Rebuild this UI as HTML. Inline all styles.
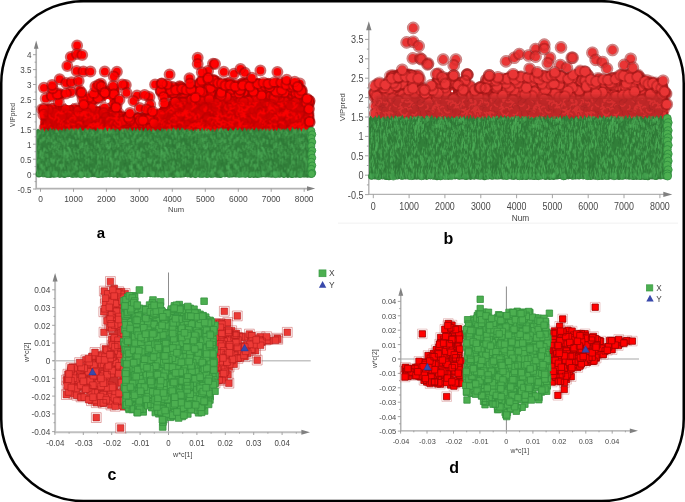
<!DOCTYPE html>
<html lang="en"><head><meta charset="utf-8"><title>VIP and loading plots</title>
<style>html,body{margin:0;padding:0;background:#fff}svg{display:block}text{font-family:"Liberation Sans",sans-serif}.a circle{r:3.9px}.b circle{r:4.4px}</style></head><body>
<svg width="685" height="502" viewBox="0 0 685 502">
<rect x="0" y="0" width="685" height="502" fill="#fff"/>
<rect x="1.25" y="1.2" width="682.5" height="499.9" rx="82" ry="82" fill="#fff" stroke="#000" stroke-width="2.5"/>
<path d="M338 223.2H678" stroke="#f6f6f6" stroke-width="1.6"/>
<path d="M36.2 47.8V188.6H308" fill="none" stroke="#b2b2b2" stroke-width="1.7"/>
<path d="M36.2 40.6l-2.3 8.2h4.6z" fill="#808080"/>
<path d="M315.2 188.6l-8.2 -2.3v4.6z" fill="#808080"/>
<path d="M36.2 189h-3.2M36.2 174.1h-3.2M36.2 159.2h-3.2M36.2 144.2h-3.2M36.2 129.3h-3.2M36.2 114.4h-3.2M36.2 99.5h-3.2M36.2 84.5h-3.2M36.2 69.6h-3.2M36.2 54.7h-3.2M36.2 181.6h-1.6M36.2 166.6h-1.6M36.2 151.7h-1.6M36.2 136.8h-1.6M36.2 121.9h-1.6M36.2 106.9h-1.6M36.2 92h-1.6M36.2 77.1h-1.6M36.2 62.2h-1.6" stroke="#9a9a9a" stroke-width=".9" fill="none"/>
<path d="M40.5 188.6v3.2M73.5 188.6v3.2M106.4 188.6v3.2M139.4 188.6v3.2M172.3 188.6v3.2M205.3 188.6v3.2M238.3 188.6v3.2M271.2 188.6v3.2M304.2 188.6v3.2" stroke="#9a9a9a" stroke-width=".9" fill="none"/>
<text transform="translate(31.4 192.5) scale(0.92 1)" font-size="8.8" text-anchor="end" fill="#484848">-0.5</text>
<text transform="translate(31.4 177.6) scale(0.92 1)" font-size="8.8" text-anchor="end" fill="#484848">0</text>
<text transform="translate(31.4 162.6) scale(0.92 1)" font-size="8.8" text-anchor="end" fill="#484848">0.5</text>
<text transform="translate(31.4 147.7) scale(0.92 1)" font-size="8.8" text-anchor="end" fill="#484848">1</text>
<text transform="translate(31.4 132.8) scale(0.92 1)" font-size="8.8" text-anchor="end" fill="#484848">1.5</text>
<text transform="translate(31.4 117.9) scale(0.92 1)" font-size="8.8" text-anchor="end" fill="#484848">2</text>
<text transform="translate(31.4 102.9) scale(0.92 1)" font-size="8.8" text-anchor="end" fill="#484848">2.5</text>
<text transform="translate(31.4 88) scale(0.92 1)" font-size="8.8" text-anchor="end" fill="#484848">3</text>
<text transform="translate(31.4 73.1) scale(0.92 1)" font-size="8.8" text-anchor="end" fill="#484848">3.5</text>
<text transform="translate(31.4 58.2) scale(0.92 1)" font-size="8.8" text-anchor="end" fill="#484848">4</text>
<text transform="translate(40.5 202.1) scale(0.99 1)" font-size="8.5" text-anchor="middle" fill="#484848">0</text>
<text transform="translate(73.5 202.1) scale(0.99 1)" font-size="8.5" text-anchor="middle" fill="#484848">1000</text>
<text transform="translate(106.4 202.1) scale(0.99 1)" font-size="8.5" text-anchor="middle" fill="#484848">2000</text>
<text transform="translate(139.4 202.1) scale(0.99 1)" font-size="8.5" text-anchor="middle" fill="#484848">3000</text>
<text transform="translate(172.3 202.1) scale(0.99 1)" font-size="8.5" text-anchor="middle" fill="#484848">4000</text>
<text transform="translate(205.3 202.1) scale(0.99 1)" font-size="8.5" text-anchor="middle" fill="#484848">5000</text>
<text transform="translate(238.3 202.1) scale(0.99 1)" font-size="8.5" text-anchor="middle" fill="#484848">6000</text>
<text transform="translate(271.2 202.1) scale(0.99 1)" font-size="8.5" text-anchor="middle" fill="#484848">7000</text>
<text transform="translate(304.2 202.1) scale(0.99 1)" font-size="8.5" text-anchor="middle" fill="#484848">8000</text>
<text x="176" y="211.5" font-size="7.6" text-anchor="middle" fill="#444">Num</text>
<text transform="translate(14.9 115) rotate(-90)" font-size="6.6" text-anchor="middle" fill="#444">VIPpred</text>
<g class="a" fill="#ff0000" stroke="#a80000" stroke-opacity="0.52" stroke-width="4.2" paint-order="stroke">
<path d="M40.4 131.3L40.4 105.1L43.4 105.2L46.4 105.3L49.4 105.3L52.4 105.4L55.4 105.5L58.4 105.5L61.4 105.6L64.4 105.7L67.4 105.8L70.4 105.8L73.4 105.9L76.4 106L79.4 106.1L82.4 106.1L85.4 106.2L88.4 106.3L91.4 106.4L94.4 106.4L97.4 106.5L100.4 106.6L103.4 106.6L106.4 106.7L109.4 106.8L112.4 106.9L115.4 106.9L118.4 107.7L121.4 116.7L124.4 121L127.4 121L130.4 121L133.4 121L136.4 121L139.4 121L142.4 121L145.4 121L148.4 121L151.4 121L154.4 120.3L157.4 111.5L160.4 106.9L163.4 106.2L166.4 105.4L169.4 103.9L172.4 101.5L175.4 99.1L178.4 97L181.4 97L184.4 97L187.4 97L190.4 97L193.4 97L196.4 97.3L199.4 97L202.4 97L205.4 97L208.4 97L211.4 97L214.4 97L217.4 97L220.4 97L223.4 97L226.4 97L229.4 97L232.4 97L235.4 97L238.4 97L241.4 97L244.4 97L247.4 97L250.4 97L253.4 97L256.4 97L259.4 97L262.4 97L265.4 97L268.4 97L271.4 97L274.4 97L277.4 97L280.4 97L283.4 97L286.4 97L289.4 97L292.4 97L295.4 97L298.4 97L301.4 97L304.4 101.2L307.4 102.7L310.4 104L311.8 131.3Z" fill="#d40000" stroke="none"/>
<circle cx="254.3" cy="85"/>
<circle cx="227.7" cy="83.3"/>
<circle cx="305" cy="126.3"/>
<circle cx="217.1" cy="103.3"/>
<circle cx="267.6" cy="99.8"/>
<circle cx="213.4" cy="96.7"/>
<circle cx="219.4" cy="96.9"/>
<circle cx="116.4" cy="128.2"/>
<circle cx="308.6" cy="120.7"/>
<circle cx="231.5" cy="91.7"/>
<circle cx="103.4" cy="95.6"/>
<circle cx="247.2" cy="94.9"/>
<circle cx="268.7" cy="94.6"/>
<circle cx="298.6" cy="116.9"/>
<circle cx="167.8" cy="126.8"/>
<circle cx="148.4" cy="117.5"/>
<circle cx="210.5" cy="111.4"/>
<circle cx="300.2" cy="111.7"/>
<circle cx="255.4" cy="87.5"/>
<circle cx="191.7" cy="99.2"/>
<circle cx="93" cy="113.7"/>
<circle cx="77" cy="108.6"/>
<circle cx="154.6" cy="117.6"/>
<circle cx="114.2" cy="126.2"/>
<circle cx="257.1" cy="91.6"/>
<circle cx="279" cy="88.8"/>
<circle cx="147.5" cy="125.6"/>
<circle cx="213.8" cy="82"/>
<circle cx="306.9" cy="102.5"/>
<circle cx="111.1" cy="114.1"/>
<circle cx="130" cy="119.2"/>
<circle cx="163.3" cy="125.4"/>
<circle cx="171.5" cy="104.8"/>
<circle cx="274" cy="87.9"/>
<circle cx="83.2" cy="122.2"/>
<circle cx="261" cy="89.8"/>
<circle cx="92.7" cy="114.2"/>
<circle cx="293.8" cy="88.5"/>
<circle cx="296.4" cy="119.2"/>
<circle cx="203.6" cy="94"/>
<circle cx="299.8" cy="89.9"/>
<circle cx="230.7" cy="89.8"/>
<circle cx="262.6" cy="103.1"/>
<circle cx="270.3" cy="104"/>
<circle cx="117" cy="122.7"/>
<circle cx="161.3" cy="91.1"/>
<circle cx="140.7" cy="121.8"/>
<circle cx="304.6" cy="113.2"/>
<circle cx="227.1" cy="102.3"/>
<circle cx="79.5" cy="90.2"/>
<circle cx="285.7" cy="108.3"/>
<circle cx="299.8" cy="83.6"/>
<circle cx="212.3" cy="96"/>
<circle cx="237.6" cy="91.9"/>
<circle cx="309.6" cy="101.1"/>
<circle cx="188.2" cy="111.5"/>
<circle cx="283.1" cy="110.3"/>
<circle cx="230.4" cy="113.2"/>
<circle cx="287" cy="93.5"/>
<circle cx="225.5" cy="120.3"/>
<circle cx="275.3" cy="95.8"/>
<circle cx="253.7" cy="117.8"/>
<circle cx="195.4" cy="109.9"/>
<circle cx="144.3" cy="121.9"/>
<circle cx="205" cy="82.1"/>
<circle cx="213.2" cy="127.7"/>
<circle cx="277.6" cy="109.7"/>
<circle cx="146" cy="123.8"/>
<circle cx="197.5" cy="100.6"/>
<circle cx="266.5" cy="84.9"/>
<circle cx="242.9" cy="83.1"/>
<circle cx="203" cy="96.4"/>
<circle cx="103.6" cy="110.5"/>
<circle cx="175.1" cy="105.9"/>
<circle cx="288.5" cy="90.3"/>
<circle cx="218.7" cy="96.3"/>
<circle cx="280.8" cy="92.6"/>
<circle cx="220.3" cy="87.8"/>
<circle cx="157.3" cy="122"/>
<circle cx="286.8" cy="119"/>
<circle cx="144.9" cy="121.9"/>
<circle cx="126.7" cy="117.9"/>
<circle cx="174.9" cy="117.1"/>
<circle cx="269.3" cy="108.8"/>
<circle cx="296.4" cy="91.1"/>
<circle cx="174.2" cy="95.1"/>
<circle cx="266.7" cy="126.8"/>
<circle cx="163.1" cy="91"/>
<circle cx="275.7" cy="83.8"/>
<circle cx="231.7" cy="101.7"/>
<circle cx="124.7" cy="124.6"/>
<circle cx="48.5" cy="118.4"/>
<circle cx="105.5" cy="91.5"/>
<circle cx="210.5" cy="94.6"/>
<circle cx="210.7" cy="104.3"/>
<circle cx="258.2" cy="124.8"/>
<circle cx="225.3" cy="87.9"/>
<circle cx="169.2" cy="92.2"/>
<circle cx="168.4" cy="111.2"/>
<circle cx="228.7" cy="99.5"/>
<circle cx="206.5" cy="110.1"/>
<circle cx="147.3" cy="124.6"/>
<circle cx="284.7" cy="85.2"/>
<circle cx="291.7" cy="109.5"/>
<circle cx="285.7" cy="94.4"/>
<circle cx="194.3" cy="120.4"/>
<circle cx="255.4" cy="123.7"/>
<circle cx="166.1" cy="108.6"/>
<circle cx="96.8" cy="111.7"/>
<circle cx="261.1" cy="105.2"/>
<circle cx="234.2" cy="88.4"/>
<circle cx="283" cy="126.6"/>
<circle cx="303.7" cy="108.7"/>
<circle cx="253.8" cy="92.1"/>
<circle cx="285.7" cy="117.4"/>
<circle cx="135.3" cy="117.6"/>
<circle cx="172.5" cy="87.6"/>
<circle cx="258.7" cy="84.2"/>
<circle cx="256.2" cy="87.4"/>
<circle cx="131.6" cy="124.5"/>
<circle cx="235.7" cy="116.2"/>
<circle cx="226.6" cy="123.8"/>
<circle cx="173.9" cy="124.4"/>
<circle cx="183" cy="94"/>
<circle cx="237.2" cy="104.9"/>
<circle cx="182" cy="117.4"/>
<circle cx="191.9" cy="94.7"/>
<circle cx="144" cy="125.4"/>
<circle cx="283.2" cy="88.8"/>
<circle cx="269.8" cy="125.6"/>
<circle cx="182.3" cy="104"/>
<circle cx="204" cy="80.6"/>
<circle cx="301.6" cy="103.4"/>
<circle cx="149.2" cy="124.7"/>
<circle cx="192.7" cy="100.8"/>
<circle cx="227" cy="83.9"/>
<circle cx="186.2" cy="98"/>
<circle cx="298.2" cy="122.1"/>
<circle cx="114" cy="102"/>
<circle cx="158.1" cy="119.8"/>
<circle cx="283.2" cy="98.2"/>
<circle cx="126.9" cy="118.4"/>
<circle cx="207.4" cy="121.8"/>
<circle cx="76.6" cy="114.8"/>
<circle cx="226" cy="91.9"/>
<circle cx="137.1" cy="122.4"/>
<circle cx="70" cy="116.2"/>
<circle cx="142.6" cy="120.2"/>
<circle cx="183.7" cy="90.2"/>
<circle cx="183.8" cy="117.9"/>
<circle cx="205.8" cy="116.7"/>
<circle cx="104.2" cy="112.5"/>
<circle cx="259" cy="120.6"/>
<circle cx="126.5" cy="119.3"/>
<circle cx="289.1" cy="89.1"/>
<circle cx="309.4" cy="122.8"/>
<circle cx="154.9" cy="124.1"/>
<circle cx="286.1" cy="125.6"/>
<circle cx="72.8" cy="109"/>
<circle cx="245" cy="98.9"/>
<circle cx="225.6" cy="87.6"/>
<circle cx="60.8" cy="94.9"/>
<circle cx="189.7" cy="101.7"/>
<circle cx="194.3" cy="93.3"/>
<circle cx="307.2" cy="124.4"/>
<circle cx="296.8" cy="97.7"/>
<circle cx="246.8" cy="92.3"/>
<circle cx="202.9" cy="80.3"/>
<circle cx="229.7" cy="116.5"/>
<circle cx="150.5" cy="118.4"/>
<circle cx="86.1" cy="108"/>
<circle cx="281.2" cy="114"/>
<circle cx="230.7" cy="117.6"/>
<circle cx="210.5" cy="92.9"/>
<circle cx="202.5" cy="97.5"/>
<circle cx="305.2" cy="118.8"/>
<circle cx="111.1" cy="122"/>
<circle cx="241.3" cy="112.4"/>
<circle cx="260.1" cy="95.2"/>
<circle cx="282.1" cy="119"/>
<circle cx="228" cy="111.7"/>
<circle cx="246.9" cy="95.1"/>
<circle cx="235.5" cy="84.2"/>
<circle cx="133.4" cy="120.7"/>
<circle cx="209.1" cy="86.6"/>
<circle cx="295" cy="106.6"/>
<circle cx="132.4" cy="122.8"/>
<circle cx="194.5" cy="105.2"/>
<circle cx="146.3" cy="128.3"/>
<circle cx="214" cy="106.7"/>
<circle cx="246" cy="126.6"/>
<circle cx="48" cy="109.4"/>
<circle cx="239.8" cy="89.9"/>
<circle cx="149.5" cy="117.3"/>
<circle cx="94.3" cy="100.3"/>
<circle cx="109.1" cy="121.7"/>
<circle cx="189.3" cy="101.5"/>
<circle cx="301" cy="104.1"/>
<circle cx="308.5" cy="113.5"/>
<circle cx="258.8" cy="84.6"/>
<circle cx="202" cy="110.5"/>
<circle cx="54" cy="123.8"/>
<circle cx="84.7" cy="104.3"/>
<circle cx="174.7" cy="105.8"/>
<circle cx="57.6" cy="124.7"/>
<circle cx="154.6" cy="120.7"/>
<circle cx="202.1" cy="91.9"/>
<circle cx="118.5" cy="113.1"/>
<circle cx="192.1" cy="93.8"/>
<circle cx="233.9" cy="91.1"/>
<circle cx="45.7" cy="98.4"/>
<circle cx="83.8" cy="113.9"/>
<circle cx="146.4" cy="126.3"/>
<circle cx="242.4" cy="83.7"/>
<circle cx="306.8" cy="125.3"/>
<circle cx="61.6" cy="122.5"/>
<circle cx="157" cy="117.6"/>
<circle cx="302.6" cy="97.8"/>
<circle cx="182.1" cy="123.5"/>
<circle cx="235.5" cy="97.4"/>
<circle cx="304.1" cy="119.1"/>
<circle cx="203.6" cy="83.3"/>
<circle cx="209.1" cy="95"/>
<circle cx="154.3" cy="124.2"/>
<circle cx="184.1" cy="128.1"/>
<circle cx="297.1" cy="110.2"/>
<circle cx="252" cy="104.4"/>
<circle cx="138.1" cy="119"/>
<circle cx="225.4" cy="101.4"/>
<circle cx="200.4" cy="104.1"/>
<circle cx="243.7" cy="87.8"/>
<circle cx="108.6" cy="126.8"/>
<circle cx="287.2" cy="118.9"/>
<circle cx="155.8" cy="120.8"/>
<circle cx="69.4" cy="110.3"/>
<circle cx="189.4" cy="106.5"/>
<circle cx="141.9" cy="120.8"/>
<circle cx="266.5" cy="84.6"/>
<circle cx="74" cy="118.2"/>
<circle cx="209" cy="110.8"/>
<circle cx="258.9" cy="93.9"/>
<circle cx="217" cy="127.4"/>
<circle cx="129.1" cy="121.6"/>
<circle cx="241.8" cy="121.9"/>
<circle cx="156.5" cy="116.7"/>
<circle cx="67.9" cy="122.1"/>
<circle cx="171.8" cy="109.5"/>
<circle cx="122" cy="123.2"/>
<circle cx="236.1" cy="107.7"/>
<circle cx="236.4" cy="93.6"/>
<circle cx="73.3" cy="114.9"/>
<circle cx="194.4" cy="122.8"/>
<circle cx="293.7" cy="121.4"/>
<circle cx="159.2" cy="117.5"/>
<circle cx="123.5" cy="118.8"/>
<circle cx="149" cy="127"/>
<circle cx="281.6" cy="90"/>
<circle cx="138.8" cy="119.8"/>
<circle cx="139.2" cy="120.1"/>
<circle cx="145.7" cy="118.4"/>
<circle cx="192.9" cy="114.7"/>
<circle cx="186.7" cy="117"/>
<circle cx="192.7" cy="90.6"/>
<circle cx="245.2" cy="119"/>
<circle cx="187.7" cy="103.8"/>
<circle cx="300.8" cy="107.3"/>
<circle cx="257.4" cy="84.2"/>
<circle cx="188.4" cy="114.2"/>
<circle cx="282.8" cy="85.1"/>
<circle cx="211.8" cy="83.5"/>
<circle cx="241.7" cy="105.5"/>
<circle cx="181.6" cy="113"/>
<circle cx="147.6" cy="119.5"/>
<circle cx="301.3" cy="109.1"/>
<circle cx="174.2" cy="102.9"/>
<circle cx="235" cy="108.5"/>
<circle cx="287" cy="95.7"/>
<circle cx="263.2" cy="106.5"/>
<circle cx="270.6" cy="114.2"/>
<circle cx="265.3" cy="119.6"/>
<circle cx="298.5" cy="105.4"/>
<circle cx="182.2" cy="110.2"/>
<circle cx="256.8" cy="95.8"/>
<circle cx="154.5" cy="117.2"/>
<circle cx="240.5" cy="127.5"/>
<circle cx="142.5" cy="118.2"/>
<circle cx="301.7" cy="90.3"/>
<circle cx="124.5" cy="117.8"/>
<circle cx="215.5" cy="111.5"/>
<circle cx="198.4" cy="121.4"/>
<circle cx="51.6" cy="94.9"/>
<circle cx="201.2" cy="87.3"/>
<circle cx="91.5" cy="100.7"/>
<circle cx="244.8" cy="91.7"/>
<circle cx="188.8" cy="115.9"/>
<circle cx="170.4" cy="94.3"/>
<circle cx="279.6" cy="121.4"/>
<circle cx="133.5" cy="121.5"/>
<circle cx="298.3" cy="98.5"/>
<circle cx="256.6" cy="94.4"/>
<circle cx="183.2" cy="101.8"/>
<circle cx="115.5" cy="127.6"/>
<circle cx="218.1" cy="89"/>
<circle cx="255.4" cy="108.8"/>
<circle cx="204.3" cy="84.5"/>
<circle cx="274.8" cy="99.7"/>
<circle cx="212.5" cy="127.7"/>
<circle cx="113.3" cy="104"/>
<circle cx="248.3" cy="82.4"/>
<circle cx="262" cy="116.7"/>
<circle cx="262.1" cy="84.8"/>
<circle cx="114.2" cy="111.7"/>
<circle cx="67.9" cy="108.8"/>
<circle cx="167.5" cy="125"/>
<circle cx="199.1" cy="117.3"/>
<circle cx="123.2" cy="124.1"/>
<circle cx="153.6" cy="126.7"/>
<circle cx="66.3" cy="120"/>
<circle cx="84.1" cy="117.9"/>
<circle cx="125.3" cy="119.3"/>
<circle cx="233.5" cy="93.3"/>
<circle cx="226" cy="85.1"/>
<circle cx="147.5" cy="120.7"/>
<circle cx="300.9" cy="116.7"/>
<circle cx="217.1" cy="81.7"/>
<circle cx="142.9" cy="123.5"/>
<circle cx="44.7" cy="127.8"/>
<circle cx="256.1" cy="88.4"/>
<circle cx="206.9" cy="88.8"/>
<circle cx="142.6" cy="121.5"/>
<circle cx="121.8" cy="116.7"/>
<circle cx="147" cy="122.9"/>
<circle cx="130.1" cy="127.2"/>
<circle cx="192.7" cy="110.9"/>
<circle cx="130.8" cy="125.1"/>
<circle cx="67.2" cy="114.6"/>
<circle cx="231.7" cy="87.3"/>
<circle cx="149.7" cy="125.3"/>
<circle cx="200.7" cy="83.4"/>
<circle cx="102.6" cy="91.9"/>
<circle cx="150.9" cy="117.5"/>
<circle cx="288.5" cy="96.3"/>
<circle cx="178.9" cy="107.2"/>
<circle cx="247.3" cy="115"/>
<circle cx="145.3" cy="119.5"/>
<circle cx="152.3" cy="117.1"/>
<circle cx="149.2" cy="123.3"/>
<circle cx="305" cy="118.1"/>
<circle cx="218.8" cy="103.4"/>
<circle cx="216.2" cy="83.7"/>
<circle cx="143.1" cy="121.2"/>
<circle cx="253.2" cy="115.3"/>
<circle cx="205.7" cy="84.4"/>
<circle cx="247.2" cy="120.5"/>
<circle cx="188.8" cy="96"/>
<circle cx="176" cy="89.7"/>
<circle cx="233" cy="127.2"/>
<circle cx="180.1" cy="110.4"/>
<circle cx="265.7" cy="88.2"/>
<circle cx="295" cy="104.7"/>
<circle cx="196.3" cy="112.9"/>
<circle cx="130.1" cy="126.9"/>
<circle cx="138.7" cy="120.7"/>
<circle cx="75.1" cy="126.5"/>
<circle cx="78.2" cy="121.8"/>
<circle cx="187.5" cy="103.5"/>
<circle cx="192" cy="93.2"/>
<circle cx="285.5" cy="127.6"/>
<circle cx="260.9" cy="103.3"/>
<circle cx="74.8" cy="118.2"/>
<circle cx="119.2" cy="123.5"/>
<circle cx="91.6" cy="108"/>
<circle cx="293.6" cy="106.2"/>
<circle cx="124.3" cy="123"/>
<circle cx="239.5" cy="94.2"/>
<circle cx="200.5" cy="113.5"/>
<circle cx="194.1" cy="97.8"/>
<circle cx="213.8" cy="80.1"/>
<circle cx="221.7" cy="86.2"/>
<circle cx="298.9" cy="103.5"/>
<circle cx="226.6" cy="111.2"/>
<circle cx="243.3" cy="98.2"/>
<circle cx="308.4" cy="120.6"/>
<circle cx="271" cy="95.5"/>
<circle cx="182.8" cy="102.1"/>
<circle cx="157.7" cy="124.2"/>
<circle cx="127.8" cy="117.4"/>
<circle cx="236.3" cy="120.3"/>
<circle cx="238" cy="103"/>
<circle cx="243.3" cy="91.5"/>
<circle cx="200.9" cy="82.7"/>
<circle cx="148.2" cy="117.3"/>
<circle cx="228.1" cy="99.8"/>
<circle cx="300.8" cy="108"/>
<circle cx="274" cy="96"/>
<circle cx="257.6" cy="88.9"/>
<circle cx="241.9" cy="101.6"/>
<circle cx="283.9" cy="85.5"/>
<circle cx="254.2" cy="85.9"/>
<circle cx="185.9" cy="124.5"/>
<circle cx="128.9" cy="117.4"/>
<circle cx="281.7" cy="114.8"/>
<circle cx="148.3" cy="119.7"/>
<circle cx="198.8" cy="84.3"/>
<circle cx="50.2" cy="122"/>
<circle cx="124.4" cy="121"/>
<circle cx="292.1" cy="126.4"/>
<circle cx="289.1" cy="120.2"/>
<circle cx="94.3" cy="118.3"/>
<circle cx="136.8" cy="120.8"/>
<circle cx="87.9" cy="121.8"/>
<circle cx="308.6" cy="103"/>
<circle cx="211.3" cy="85.1"/>
<circle cx="277.7" cy="84.1"/>
<circle cx="70.3" cy="116"/>
<circle cx="125.7" cy="126.4"/>
<circle cx="274.9" cy="108.9"/>
<circle cx="78" cy="110.9"/>
<circle cx="293.1" cy="97"/>
<circle cx="232.3" cy="87.9"/>
<circle cx="253.7" cy="94"/>
<circle cx="219.3" cy="119.2"/>
<circle cx="199.9" cy="88.2"/>
<circle cx="122.5" cy="126.5"/>
<circle cx="220.6" cy="90.3"/>
<circle cx="213.3" cy="81.7"/>
<circle cx="305.3" cy="107"/>
<circle cx="183.4" cy="102.3"/>
<circle cx="54" cy="108.6"/>
<circle cx="244.3" cy="89.5"/>
<circle cx="116.7" cy="105.3"/>
<circle cx="282.2" cy="127.3"/>
<circle cx="145" cy="126.9"/>
<circle cx="175.8" cy="90.8"/>
<circle cx="190.9" cy="107.1"/>
<circle cx="138.2" cy="122.8"/>
<circle cx="251.7" cy="99.6"/>
<circle cx="177.4" cy="117.5"/>
<circle cx="225.2" cy="99.5"/>
<circle cx="296.8" cy="87.9"/>
<circle cx="250.8" cy="87.1"/>
<circle cx="204.8" cy="87"/>
<circle cx="159.9" cy="115"/>
<circle cx="252.6" cy="113.2"/>
<circle cx="51.4" cy="108.6"/>
<circle cx="233.4" cy="101.8"/>
<circle cx="275.7" cy="87.8"/>
<circle cx="255.8" cy="84.4"/>
<circle cx="285" cy="102"/>
<circle cx="187.4" cy="114.4"/>
<circle cx="182.7" cy="93.2"/>
<circle cx="199.6" cy="84.1"/>
<circle cx="261.7" cy="87.4"/>
<circle cx="264.5" cy="113"/>
<circle cx="99.9" cy="126.1"/>
<circle cx="306.1" cy="100.7"/>
<circle cx="163.9" cy="113.1"/>
<circle cx="155.6" cy="115"/>
<circle cx="308.8" cy="117.8"/>
<circle cx="238.6" cy="89"/>
<circle cx="291.7" cy="94"/>
<circle cx="132.2" cy="127.9"/>
<circle cx="205.6" cy="80.8"/>
<circle cx="149.9" cy="122.7"/>
<circle cx="273.5" cy="102.9"/>
<circle cx="279.4" cy="97.6"/>
<circle cx="147.2" cy="125.4"/>
<circle cx="144" cy="124.5"/>
<circle cx="99.6" cy="97.3"/>
<circle cx="189.1" cy="90.3"/>
<circle cx="124.6" cy="120.5"/>
<circle cx="308" cy="114.7"/>
<circle cx="273" cy="88.5"/>
<circle cx="144.5" cy="117.5"/>
<circle cx="227.1" cy="93.4"/>
<circle cx="115.4" cy="89.8"/>
<circle cx="233.5" cy="90.2"/>
<circle cx="138.6" cy="118.1"/>
<circle cx="292.8" cy="93.9"/>
<circle cx="247" cy="109.3"/>
<circle cx="284.9" cy="83.4"/>
<circle cx="128.2" cy="120"/>
<circle cx="64.2" cy="121.7"/>
<circle cx="129" cy="124.3"/>
<circle cx="181" cy="87.4"/>
<circle cx="147.4" cy="118.7"/>
<circle cx="187.6" cy="89.5"/>
<circle cx="231.2" cy="89.9"/>
<circle cx="236.3" cy="106.3"/>
<circle cx="232.9" cy="95"/>
<circle cx="145.4" cy="125.8"/>
<circle cx="99.7" cy="89"/>
<circle cx="210.8" cy="99.8"/>
<circle cx="258.6" cy="126.2"/>
<circle cx="121.8" cy="121.2"/>
<circle cx="288.1" cy="89.1"/>
<circle cx="226.5" cy="106.3"/>
<circle cx="297.8" cy="118.3"/>
<circle cx="104.7" cy="107.6"/>
<circle cx="156.5" cy="117"/>
<circle cx="175.1" cy="93.9"/>
<circle cx="86.6" cy="112.9"/>
<circle cx="229.8" cy="101"/>
<circle cx="229.5" cy="82.8"/>
<circle cx="146.7" cy="119.8"/>
<circle cx="58.8" cy="102.1"/>
<circle cx="174.7" cy="104.8"/>
<circle cx="193.5" cy="94.3"/>
<circle cx="220.9" cy="87.4"/>
<circle cx="139" cy="121.9"/>
<circle cx="294.4" cy="112.2"/>
<circle cx="210" cy="102.6"/>
<circle cx="152" cy="120.2"/>
<circle cx="115.9" cy="117.6"/>
<circle cx="277.6" cy="94.5"/>
<circle cx="285.6" cy="83.8"/>
<circle cx="138.5" cy="127.8"/>
<circle cx="224.1" cy="89"/>
<circle cx="42.1" cy="109.3"/>
<circle cx="147.4" cy="118.7"/>
<circle cx="174.1" cy="107.6"/>
<circle cx="188.7" cy="106.2"/>
<circle cx="192.1" cy="116.7"/>
<circle cx="301.4" cy="97"/>
<circle cx="134.8" cy="126.1"/>
<circle cx="125.8" cy="123.5"/>
<circle cx="228.2" cy="107.3"/>
<circle cx="300.1" cy="115.5"/>
<circle cx="192.9" cy="96.5"/>
<circle cx="118.4" cy="116.4"/>
<circle cx="185" cy="92.4"/>
<circle cx="108.7" cy="96.7"/>
<circle cx="179.5" cy="89.3"/>
<circle cx="58.8" cy="93.6"/>
<circle cx="230.7" cy="85.3"/>
<circle cx="162.9" cy="114.5"/>
<circle cx="170.7" cy="91.4"/>
<circle cx="274" cy="118.3"/>
<circle cx="255.3" cy="94.7"/>
<circle cx="233.7" cy="89.6"/>
<circle cx="233.6" cy="92.2"/>
<circle cx="131.3" cy="124.1"/>
<circle cx="267.7" cy="115.6"/>
<circle cx="193.9" cy="100.2"/>
<circle cx="231.3" cy="104.1"/>
<circle cx="264.5" cy="113.9"/>
<circle cx="103.8" cy="92.6"/>
<circle cx="198.8" cy="123.5"/>
<circle cx="301.9" cy="92.7"/>
<circle cx="226.1" cy="95.5"/>
<circle cx="211.1" cy="92.5"/>
<circle cx="292" cy="127.4"/>
<circle cx="54.9" cy="113"/>
<circle cx="237.8" cy="127.8"/>
<circle cx="141.9" cy="119.3"/>
<circle cx="256.3" cy="116.2"/>
<circle cx="246.9" cy="126.7"/>
<circle cx="146.2" cy="123.3"/>
<circle cx="188.2" cy="114.9"/>
<circle cx="81.3" cy="93.9"/>
<circle cx="292" cy="90.2"/>
<circle cx="172.7" cy="89.9"/>
<circle cx="128.6" cy="117.1"/>
<circle cx="193.5" cy="91.1"/>
<circle cx="209.4" cy="88.1"/>
<circle cx="111.4" cy="89.2"/>
<circle cx="281" cy="92"/>
<circle cx="309" cy="103.2"/>
<circle cx="274.2" cy="98.4"/>
<circle cx="153" cy="124.8"/>
<circle cx="148" cy="117.4"/>
<circle cx="189.4" cy="107.7"/>
<circle cx="208.8" cy="88.2"/>
<circle cx="293.4" cy="118"/>
<circle cx="308.3" cy="108.2"/>
<circle cx="265.3" cy="109.5"/>
<circle cx="89" cy="97.2"/>
<circle cx="243.8" cy="91.7"/>
<circle cx="179.7" cy="86.3"/>
<circle cx="98.2" cy="125.3"/>
<circle cx="254.2" cy="110"/>
<circle cx="148.9" cy="124.8"/>
<circle cx="263.6" cy="111.9"/>
<circle cx="306" cy="99.9"/>
<circle cx="296.5" cy="95.4"/>
<circle cx="230.8" cy="89.6"/>
<circle cx="285.6" cy="83.5"/>
<circle cx="196.4" cy="98.2"/>
<circle cx="146" cy="119.8"/>
<circle cx="217.9" cy="114.3"/>
<circle cx="139.6" cy="122.6"/>
<circle cx="136.8" cy="119"/>
<circle cx="284.4" cy="92.5"/>
<circle cx="240.6" cy="88.4"/>
<circle cx="241" cy="100.7"/>
<circle cx="224.1" cy="87.2"/>
<circle cx="135.8" cy="120.4"/>
<circle cx="128" cy="121.4"/>
<circle cx="297" cy="88.8"/>
<circle cx="277.8" cy="92.4"/>
<circle cx="243.9" cy="85.3"/>
<circle cx="306.5" cy="107.2"/>
<circle cx="299.8" cy="89.3"/>
<circle cx="151.3" cy="123.4"/>
<circle cx="295.8" cy="92.6"/>
<circle cx="214.4" cy="85.9"/>
<circle cx="207" cy="118.9"/>
<circle cx="271.3" cy="104.7"/>
<circle cx="177.1" cy="103.8"/>
<circle cx="72.5" cy="120.3"/>
<circle cx="226.7" cy="96.8"/>
<circle cx="220.2" cy="95.4"/>
<circle cx="144.9" cy="118.7"/>
<circle cx="202.8" cy="100.5"/>
<circle cx="179.9" cy="86.8"/>
<circle cx="210" cy="94.6"/>
<circle cx="200.9" cy="102"/>
<circle cx="291.5" cy="87.1"/>
<circle cx="167.5" cy="127.8"/>
<circle cx="239.6" cy="91.7"/>
<circle cx="239.3" cy="127.4"/>
<circle cx="149.6" cy="125.8"/>
<circle cx="75.8" cy="127.6"/>
<circle cx="173.5" cy="92.8"/>
<circle cx="267" cy="105.6"/>
<circle cx="293.1" cy="115.7"/>
<circle cx="255.6" cy="99.4"/>
<circle cx="308.1" cy="100.2"/>
<circle cx="275" cy="108.8"/>
<circle cx="109.1" cy="115.9"/>
<circle cx="173.4" cy="93.1"/>
<circle cx="256.2" cy="117.2"/>
<circle cx="248.4" cy="100.9"/>
<circle cx="284.5" cy="113.7"/>
<circle cx="82.6" cy="99.3"/>
<circle cx="265.3" cy="85.8"/>
<circle cx="207.2" cy="120"/>
<circle cx="61.2" cy="127.5"/>
<circle cx="236.8" cy="87.9"/>
<circle cx="221" cy="95.9"/>
<circle cx="210.6" cy="88.1"/>
<circle cx="203.5" cy="106.7"/>
<circle cx="166.9" cy="91.4"/>
<circle cx="294" cy="103.9"/>
<circle cx="137.7" cy="118.4"/>
<circle cx="308.4" cy="115.2"/>
<circle cx="239.1" cy="93.4"/>
<circle cx="125" cy="120.2"/>
<circle cx="261.6" cy="95.4"/>
<circle cx="134.7" cy="123.4"/>
<circle cx="275.7" cy="91.2"/>
<circle cx="270.8" cy="107"/>
<circle cx="163.8" cy="123.6"/>
<circle cx="145.7" cy="123.9"/>
<circle cx="203" cy="95.1"/>
<circle cx="160" cy="125.1"/>
<circle cx="120.4" cy="119.4"/>
<circle cx="221.9" cy="89.3"/>
<circle cx="152.1" cy="117.9"/>
<circle cx="281.8" cy="90.1"/>
<circle cx="154.6" cy="118.8"/>
<circle cx="261.7" cy="116.9"/>
<circle cx="200.2" cy="100.1"/>
<circle cx="68.5" cy="123"/>
<circle cx="142.2" cy="123.6"/>
<circle cx="221.2" cy="92.6"/>
<circle cx="282.5" cy="124.1"/>
<circle cx="48.1" cy="110.1"/>
<circle cx="126.6" cy="123"/>
<circle cx="204.1" cy="125.6"/>
<circle cx="303.5" cy="127.9"/>
<circle cx="147.8" cy="125.2"/>
<circle cx="216" cy="107.3"/>
<circle cx="309.2" cy="100.7"/>
<circle cx="100.3" cy="127.5"/>
<circle cx="98" cy="98.1"/>
<circle cx="147.6" cy="123.9"/>
<circle cx="215.8" cy="103.2"/>
<circle cx="240.7" cy="89.8"/>
<circle cx="259.2" cy="109.8"/>
<circle cx="249.8" cy="85.7"/>
<circle cx="294.9" cy="120.1"/>
<circle cx="184.9" cy="88.9"/>
<circle cx="253.3" cy="91.5"/>
<circle cx="177.8" cy="89.2"/>
<circle cx="194" cy="92.2"/>
<circle cx="65.6" cy="109.3"/>
<circle cx="120.7" cy="121.9"/>
<circle cx="191.4" cy="99.7"/>
<circle cx="269.8" cy="85.5"/>
<circle cx="269.6" cy="87"/>
<circle cx="301.8" cy="104.3"/>
<circle cx="150.8" cy="122.3"/>
<circle cx="273.3" cy="125.3"/>
<circle cx="152.6" cy="117.1"/>
<circle cx="83.1" cy="117.1"/>
<circle cx="238.7" cy="108.7"/>
<circle cx="83.8" cy="104.8"/>
<circle cx="300.7" cy="106.9"/>
<circle cx="269" cy="83.9"/>
<circle cx="153.4" cy="117.5"/>
<circle cx="130" cy="120.9"/>
<circle cx="217.1" cy="119.2"/>
<circle cx="295.5" cy="102.1"/>
<circle cx="176.1" cy="121.2"/>
<circle cx="147.6" cy="119.2"/>
<circle cx="240" cy="89.9"/>
<circle cx="140.4" cy="120.4"/>
<circle cx="149" cy="118.6"/>
<circle cx="126.1" cy="120.9"/>
<circle cx="103.6" cy="112.9"/>
<circle cx="172.5" cy="87.1"/>
<circle cx="150.8" cy="127.6"/>
<circle cx="43.8" cy="109"/>
<circle cx="299.3" cy="94.1"/>
<circle cx="202.1" cy="92"/>
<circle cx="122.6" cy="121"/>
<circle cx="199.8" cy="91.2"/>
<circle cx="175.2" cy="101.9"/>
<circle cx="243.8" cy="83.8"/>
<circle cx="114.3" cy="115.6"/>
<circle cx="155.9" cy="124.9"/>
<circle cx="149.7" cy="119.1"/>
<circle cx="224" cy="84.4"/>
<circle cx="305.5" cy="119.9"/>
<circle cx="129.8" cy="119.4"/>
<circle cx="261.4" cy="113.1"/>
<circle cx="214" cy="80.7"/>
<circle cx="246.5" cy="83.7"/>
<circle cx="209.3" cy="99.3"/>
<circle cx="290.3" cy="105.3"/>
<circle cx="47.9" cy="124.1"/>
<circle cx="243.6" cy="102.2"/>
<circle cx="43.4" cy="114.8"/>
<circle cx="154" cy="123.1"/>
<circle cx="305.4" cy="123.8"/>
<circle cx="62" cy="116.4"/>
<circle cx="159.9" cy="113.9"/>
<circle cx="143.1" cy="120.5"/>
</g>
<defs><filter id="bla" x="-5%" y="-20%" width="110%" height="140%"><feGaussianBlur stdDeviation="2.2"/></filter>
<pattern id="cra" x="36.4" y="61.3" width="101" height="70" patternUnits="userSpaceOnUse">
<path d="M76.5 9.7A3.1 3.1 0 0 1 71.3 8.7M58 12.6A3.5 3.5 0 0 1 53.7 13.4M57.3 64.9A3 3 0 0 1 53.8 63.1M86.3 9.3A2.2 2.2 0 0 1 86.4 12.4M42.3 24.6A2.9 2.9 0 0 1 46.5 27.5M70.2 24.6A3.2 3.2 0 0 1 72.7 26.7M17.5 42.8A2.4 2.4 0 0 1 14.7 41.7M32.3 40.5A3 3 0 0 1 35.2 37.8M82 24.1A3.6 3.6 0 0 1 86.8 22.8M33.5 50.8A3.2 3.2 0 0 1 30.2 49M60.6 20.5A2.7 2.7 0 0 1 56 21.2M69.7 28.3A3.6 3.6 0 0 1 75 28.3M88.6 32.4A3.3 3.3 0 0 1 90.4 29.3M12.2 20A3.2 3.2 0 0 1 13.5 22.5M55.6 41.4A3.5 3.5 0 0 1 53.8 38.2M79.3 56A2.5 2.5 0 0 1 75.1 55.9M17.6 35.2A3.3 3.3 0 0 1 20.6 34M61.2 59.3A2.7 2.7 0 0 1 59.4 63.2M95.2 52.1A3.2 3.2 0 0 1 93.7 46.8M-5.8 52.1A3.2 3.2 0 0 1 -7.3 46.8M29.3 19.3A2.6 2.6 0 0 1 26.3 21.5M31.3 21.1A2.6 2.6 0 0 1 27.7 21M26.4 20.6A2.4 2.4 0 0 1 30.1 18.7M84.3 55.7A3.2 3.2 0 0 1 89 55.3M56.2 44A2.6 2.6 0 0 1 54.3 47.8M3.8 64.9A2.5 2.5 0 0 1 4.4 60.7M45.4 23.8A2.9 2.9 0 0 1 48.3 28.1M57.4 27.7A2.4 2.4 0 0 1 55.1 24.2M97.1 46.1A2.3 2.3 0 0 1 93 46.3M60.5 10.4A3.4 3.4 0 0 1 58.2 13.9M8.9 46.9A3 3 0 0 1 6.9 48.6M101.1 44.5A2.9 2.9 0 0 1 100.7 49.4M0.1 44.5A2.9 2.9 0 0 1 -0.3 49.4M8.9 39.2A2.7 2.7 0 0 1 5.3 37.7M49.6 12.9A2.9 2.9 0 0 1 53.1 14.5M5.2 33.1A3 3 0 0 1 10.5 32.6M11.8 25.2A3.5 3.5 0 0 1 11.2 19.6M101.7 62.2A3.5 3.5 0 0 1 98.5 67.3M0.7 62.2A3.5 3.5 0 0 1 -2.5 67.3M-0.5 32.7A3.1 3.1 0 0 1 4.3 32.3M100.5 32.7A3.1 3.1 0 0 1 105.3 32.3M65 64.6A3.5 3.5 0 0 1 60 65.7M4.7 8.5A2.2 2.2 0 0 1 3.6 12.3M105.7 8.5A2.2 2.2 0 0 1 104.6 12.3M2.1 53.3A3 3 0 0 1 6 55M103.1 53.3A3 3 0 0 1 107 55M79.8 54.7A3.3 3.3 0 0 1 78.4 57.4M96.3 57.8A2.7 2.7 0 0 1 96.6 54.5M-4.7 57.8A2.7 2.7 0 0 1 -4.4 54.5M1.3 55.2A2.9 2.9 0 0 1 -1.4 51.7M102.3 55.2A2.9 2.9 0 0 1 99.6 51.7M30.6 47.2A3.4 3.4 0 0 1 31.8 43.5M17.7 15.9A3.3 3.3 0 0 1 14.4 12.6M32 15.8A2.9 2.9 0 0 1 35.4 15.9M26.8 61.5A2.6 2.6 0 0 1 23.9 61M31.9 46.9A3 3 0 0 1 36.2 49.3M8 54.6A2.8 2.8 0 0 1 5.4 53M97.7 29.5A3.6 3.6 0 0 1 98.8 23.3M-3.3 29.5A3.6 3.6 0 0 1 -2.2 23.3M39.8 9.1A2.7 2.7 0 0 1 41.2 13.3M79.1 30.4A3.2 3.2 0 0 1 76.8 26.1M50.8 55.6A2.7 2.7 0 0 1 47.8 58.1M8.7 64.2A3.4 3.4 0 0 1 5 64.6M95.7 64.6A2.4 2.4 0 0 1 96.1 60.4M-5.3 64.6A2.4 2.4 0 0 1 -4.9 60.4M73.3 66.5A3.1 3.1 0 0 1 70.1 65.9M91.7 48.6A2.7 2.7 0 0 1 90.2 52M14.4 19.6A2.5 2.5 0 0 1 14.2 21.8M34.3 8.4A2.4 2.4 0 0 1 32.7 6.4M50.5 36.4A2.9 2.9 0 0 1 55.3 35.5M96.1 10.8A2.6 2.6 0 0 1 93.8 10M74.2 62.1A2.7 2.7 0 0 1 75.7 59.8M58.2 19.1A2.8 2.8 0 0 1 59.1 24.1M57.5 57.9A3.5 3.5 0 0 1 58.8 54.3M98.9 2.3A2.3 2.3 0 0 1 101 4.4M-2.1 2.3A2.3 2.3 0 0 1 0 4.4M16.3 11.9A2.2 2.2 0 0 1 18.4 13M19.3 54.2A2.9 2.9 0 0 1 22.8 51.4M17.6 6.4A2.6 2.6 0 0 1 16 4.7M59.9 27.1A2.6 2.6 0 0 1 62.5 24M33.4 58.1A3 3 0 0 1 37.1 56.8M49.5 22.5A3.5 3.5 0 0 1 49.3 26.4M88 62.5A3.6 3.6 0 0 1 83.1 61.3M28.7 11A3 3 0 0 1 31.7 12.4M15.2 66.7A3.2 3.2 0 0 1 12.9 64.7M32.1 38.8A2.9 2.9 0 0 1 36.6 36.3M35.3 3.2A3 3 0 0 1 37.3 0.3M66.2 34.1A2.9 2.9 0 0 1 62.3 35M64.3 67.4A2.3 2.3 0 0 1 62.5 64.8M82 15.8A2.6 2.6 0 0 1 82.4 20M88 36.8A3.5 3.5 0 0 1 89.9 32M48.7 36.7A2.9 2.9 0 0 1 47.3 31.9M35.3 18.8A3.3 3.3 0 0 1 31.4 14.8M97.6 58.8A3.2 3.2 0 0 1 102 61.7M-3.4 58.8A3.2 3.2 0 0 1 1 61.7M82.9 56.6A2.6 2.6 0 0 1 79.1 54.3M27.3 62.2A2.7 2.7 0 0 1 24.2 64.5M82.6 40.4A3.1 3.1 0 0 1 79.8 45.2M9.2 47.9A3.4 3.4 0 0 1 3.2 46.4M30.1 11.5A3.6 3.6 0 0 1 35 14.9M62.4 7.6A3.4 3.4 0 0 1 65.4 8.7M80.1 50.8A3.5 3.5 0 0 1 79.9 56M62.9 36A2.2 2.2 0 0 1 62.8 33.2M16.7 57.2A3.3 3.3 0 0 1 13 53.7M69.1 38.3A2.5 2.5 0 0 1 67.7 35.8M68.7 45.7A3.5 3.5 0 0 1 67.4 49.8M95.5 20.5A3.5 3.5 0 0 1 92.5 25.1M77.7 27.2A2.9 2.9 0 0 1 75.4 23.7M0.4 57.5A3.2 3.2 0 0 1 4.2 55M101.4 57.5A3.2 3.2 0 0 1 105.2 55M22.9 14.5A2.7 2.7 0 0 1 25.6 13.1M4.9 9.1A3.5 3.5 0 0 1 4.4 4.1M62.2 31.1A2.9 2.9 0 0 1 62.3 27.9M93.9 12.1A3.3 3.3 0 0 1 96.3 7.6M-7.1 12.1A3.3 3.3 0 0 1 -4.7 7.6M58.4 43.1A2.6 2.6 0 0 1 55.6 46.5M51.4 66.3A3.3 3.3 0 0 1 53.8 63.7M2.7 11.6A3.2 3.2 0 0 1 5.8 9.4M73.7 20.3A3.2 3.2 0 0 1 76.4 24.4M48.9 32.9A3.5 3.5 0 0 1 44 33.5M92.6 8A3.2 3.2 0 0 1 89.3 9.7M41.3 12.6A3.2 3.2 0 0 1 43 8.2M39.8 42.5A2.3 2.3 0 0 1 42.9 44M73.9 12A2.2 2.2 0 0 1 71.1 13.3M3.9 28.7A3.5 3.5 0 0 1 5 25.4M83 32.3A3.6 3.6 0 0 1 87.1 30.7M12.6 25.3A2.9 2.9 0 0 1 9.4 21.5M44 26.4A3.3 3.3 0 0 1 44.3 30.2M69.6 33.8A2.8 2.8 0 0 1 69.2 30M29.1 44.7A3.3 3.3 0 0 1 29.4 40.7M48 31.4A2.7 2.7 0 0 1 48 35.2M91.4 62.4A3.1 3.1 0 0 1 93.8 65.8M74.3 18.9A3.1 3.1 0 0 1 77.6 23.4M65.7 28.2A3.3 3.3 0 0 1 69.3 28.1M53.2 67.6A2.2 2.2 0 0 1 53 64M41.9 54.6A2.5 2.5 0 0 1 39.6 51.5M41 68.8A2.3 2.3 0 0 1 38 66M60.5 53A3 3 0 0 1 61.7 56.7M71.9 49.2A2.6 2.6 0 0 1 74.5 52M68.9 38.3A2.4 2.4 0 0 1 73.2 37.5M78.5 21.2A2.6 2.6 0 0 1 81.1 25M54.2 36.9A3.1 3.1 0 0 1 55.8 34.1M89.6 48.2A2.8 2.8 0 0 1 88.1 43.7M11.2 42.7A3.6 3.6 0 0 1 13.9 38.3M56.1 65.9A2.3 2.3 0 0 1 56.3 62.1M29.3 44.7A2.7 2.7 0 0 1 33.1 47.5M25 25.3A2.7 2.7 0 0 1 26.5 23.5M65.1 15.8A3.5 3.5 0 0 1 64.2 9.8M27.7 16.6A3.3 3.3 0 0 1 24.7 17.7M72.4 20.1A2.2 2.2 0 0 1 75.1 17.7M83.5 61.1A3.2 3.2 0 0 1 79.5 57.9M34.6 61.8A2.6 2.6 0 0 1 31.5 59.8M41.4 53.5A3.6 3.6 0 0 1 46.6 52M20 14.8A3.5 3.5 0 0 1 23.5 13.8M31.3 32.6A3.5 3.5 0 0 1 34.6 27.7M66.8 15.9A2.5 2.5 0 0 1 66.9 11.9M89.5 61.3A2.5 2.5 0 0 1 86.8 59.7M71.4 2.8A3.4 3.4 0 0 1 74.5 3.3M57.1 41.8A2.7 2.7 0 0 1 55 43M101 39.6A2.3 2.3 0 0 1 101.8 41.6M-0 39.6A2.3 2.3 0 0 1 0.8 41.6M3.5 50.4A3.1 3.1 0 0 1 -0.1 49.8M104.5 50.4A3.1 3.1 0 0 1 100.9 49.8M67.3 24.2A3 3 0 0 1 68.8 21M36 28.6A2.6 2.6 0 0 1 33.5 26.8M-0.3 21.6A2.4 2.4 0 0 1 2.2 20.6M100.7 21.6A2.4 2.4 0 0 1 103.2 20.6M82 32.8A3.4 3.4 0 0 1 84.8 29.6M74.6 40.4A2.9 2.9 0 0 1 78.9 42M38.8 27.9A2.9 2.9 0 0 1 41.7 25M55.6 52.1A2.2 2.2 0 0 1 55.8 54.6M31.2 2.5A2.6 2.6 0 0 1 32.7 6.2M20.9 55.9A3.2 3.2 0 0 1 21.5 60.9M72.5 34.2A3.4 3.4 0 0 1 73.3 29.2M101.4 59.5A2.5 2.5 0 0 1 102.7 61.5M0.4 59.5A2.5 2.5 0 0 1 1.7 61.5M94.7 37.5A3.4 3.4 0 0 1 97.5 34.4M-6.3 37.5A3.4 3.4 0 0 1 -3.5 34.4M54.2 67.4A2.2 2.2 0 0 1 50.2 67.3M13.1 25.6A3 3 0 0 1 16 25.1M95.1 27.9A3 3 0 0 1 97.8 31.5M19.5 31.2A2.5 2.5 0 0 1 18.4 35M43.5 40.4A3.1 3.1 0 0 1 42.7 35.9M0.5 15.2A2.3 2.3 0 0 1 3.1 15.2M101.5 15.2A2.3 2.3 0 0 1 104.1 15.2M79.2 23.8A2.3 2.3 0 0 1 77.4 26.7M65.6 16.8A3.3 3.3 0 0 1 66.8 21.9M6.5 2.8A2.5 2.5 0 0 1 8.2 4.7M0.4 13.9A2.6 2.6 0 0 1 4.2 11.1M101.4 13.9A2.6 2.6 0 0 1 105.2 11.1M27.4 58.8A3.1 3.1 0 0 1 23.2 56.7M91.4 4.5A3.4 3.4 0 0 1 95.2 2.5M26.9 52A3.6 3.6 0 0 1 22.2 50.2M26.2 19.7A2.3 2.3 0 0 1 24.9 23.1M18 21.3A3.2 3.2 0 0 1 16.5 16.1M96.7 43.6A3.2 3.2 0 0 1 100.9 43.3M-4.3 43.6A3.2 3.2 0 0 1 -0.1 43.3M46.9 6.9A2.9 2.9 0 0 1 49.2 3.9M7.6 4.5A2.7 2.7 0 0 1 5.7 7.3M108.6 4.5A2.7 2.7 0 0 1 106.7 7.3M17.5 39.4A2.9 2.9 0 0 1 17.4 42.5M48.2 51A2.5 2.5 0 0 1 50.6 49.5M74.8 6.1A2.5 2.5 0 0 1 75.6 8.2M44.9 54.8A3.3 3.3 0 0 1 50.1 55.5M74.1 4.1A2.4 2.4 0 0 1 75.4 6.3M5.5 3.2A2.3 2.3 0 0 1 5.7 6.2M106.5 3.2A2.3 2.3 0 0 1 106.7 6.2M2.9 55.8A2.3 2.3 0 0 1 6.8 56.4M103.9 55.8A2.3 2.3 0 0 1 107.8 56.4M12.3 23.7A2.5 2.5 0 0 1 9.9 23.3M66 16.1A2.7 2.7 0 0 1 62.2 15M12.3 39.2A2.9 2.9 0 0 1 14.8 36.5M4.8 44.4A2.2 2.2 0 0 1 2.2 43.6M105.8 44.4A2.2 2.2 0 0 1 103.2 43.6M86.9 42.8A3.5 3.5 0 0 1 87.6 37.7M12.5 24.5A3.2 3.2 0 0 1 16.2 26.2M91 8.8A3.3 3.3 0 0 1 88.5 5.9M81.7 46.5A2.8 2.8 0 0 1 81.4 49.5M88.6 54.1A3.2 3.2 0 0 1 83 52.6M84.7 24A3.5 3.5 0 0 1 90.8 25.3M61.4 59.9A3.1 3.1 0 0 1 56.9 62.7M95 13.6A2.4 2.4 0 0 1 95.8 10.1M-6 13.6A2.4 2.4 0 0 1 -5.2 10.1M77 5.1A2.7 2.7 0 0 1 80.1 4.7M57.9 16.4A3.6 3.6 0 0 1 61.9 11.7M25.3 23.2A3.4 3.4 0 0 1 28.9 24M18.9 40.5A2.2 2.2 0 0 1 17.9 38.9M-0.3 27.1A3.1 3.1 0 0 1 -1.9 21.7M100.7 27.1A3.1 3.1 0 0 1 99.1 21.7M6.9 52A3.2 3.2 0 0 1 3.4 49.3M84.1 64.2A2.8 2.8 0 0 1 84.6 60.8M29.2 51A2.4 2.4 0 0 1 31.7 48.1M79.8 67.2A2.4 2.4 0 0 1 76.7 65.2M4.8 32.2A3 3 0 0 1 0.6 29.8M105.8 32.2A3 3 0 0 1 101.6 29.8M70.2 65.8A2.3 2.3 0 0 1 68.6 67.2M45 52.7A3.4 3.4 0 0 1 49.6 54.6M36 8.3A2.5 2.5 0 0 1 38.2 7.8M5.2 14.3A2.4 2.4 0 0 1 2 15.5M106.2 14.3A2.4 2.4 0 0 1 103 15.5M59.2 58.4A3.1 3.1 0 0 1 57.8 55.5M70.4 58.4A3.4 3.4 0 0 1 75.1 56.5M67.7 68.4A3.1 3.1 0 0 1 65.9 63.6M44.3 4.1A3 3 0 0 1 45.9 1M54.3 36.8A3 3 0 0 1 51.9 38.7M69.6 63.7A2.8 2.8 0 0 1 71.7 66.3M48.8 56.2A2.9 2.9 0 0 1 50.9 51.6M38.8 35.5A2.3 2.3 0 0 1 39.7 31.5M39.3 5.9A2.4 2.4 0 0 1 41.8 6.1M43 38.9A2.6 2.6 0 0 1 45.4 41.6M37.9 63.2A3.4 3.4 0 0 1 35.1 62.6M50.9 13.9A3.2 3.2 0 0 1 45.6 12M7.2 49.2A3 3 0 0 1 3.6 47.1M3.5 65.7A3.3 3.3 0 0 1 1.9 62.7M9 2.6A3.5 3.5 0 0 1 13.8 3.3M82.6 17A2.9 2.9 0 0 1 78.7 18.8M31 63.9A2.3 2.3 0 0 1 28.1 61.8M90.9 61.5A3.2 3.2 0 0 1 94.8 60.9M93.6 54.5A2.4 2.4 0 0 1 90.6 56.2M57.1 61.6A3 3 0 0 1 58 64.9M32 11.1A2.7 2.7 0 0 1 34.6 14.6M42.1 45.2A2.4 2.4 0 0 1 44.8 47.1M11.1 11.1A3.1 3.1 0 0 1 12.4 15.3M38.2 29.3A3 3 0 0 1 33.8 26M10.3 46.1A3.3 3.3 0 0 1 15.3 45.6M64.5 58.5A3.1 3.1 0 0 1 62.4 62M36 31.3A2.7 2.7 0 0 1 36.2 27.1M36.6 54A3.4 3.4 0 0 1 38.4 59M39 46.5A2.3 2.3 0 0 1 36.7 44.7M79.9 64.2A2.4 2.4 0 0 1 78.3 61.6M16.4 42.2A2.6 2.6 0 0 1 16.8 44.6M78.7 15.5A2.9 2.9 0 0 1 79 19.1M17.5 23.1A3.2 3.2 0 0 1 18.1 19.3M3.8 41.5A2.5 2.5 0 0 1 5.5 44.1M104.8 41.5A2.5 2.5 0 0 1 106.5 44.1M12.7 5.8A2.2 2.2 0 0 1 14.1 8.8M44.6 43.8A2.8 2.8 0 0 1 43.1 41.9M33.5 67.9A3.4 3.4 0 0 1 34.7 62M59.1 8.3A3 3 0 0 1 60.9 10.4M6.8 10.8A3.6 3.6 0 0 1 6.7 7.1M61.4 59.6A3.1 3.1 0 0 1 58.1 63.5M46.3 50.2A2.9 2.9 0 0 1 49.4 50.3M41.1 33.1A3 3 0 0 1 44.8 36.1M81.6 57.1A2.3 2.3 0 0 1 79.5 58.1M15.2 67A2.9 2.9 0 0 1 13.5 63.6M57.6 17.6A3.4 3.4 0 0 1 60.4 20.7M77.9 2.1A3.4 3.4 0 0 1 80.2 -0.2M7.4 17A3.1 3.1 0 0 1 10 20.9M42.5 38.8A2.6 2.6 0 0 1 39.3 37.2M70.1 12.1A2.9 2.9 0 0 1 67 12.5M61.5 3A2.7 2.7 0 0 1 57.7 5.7M19.3 55.4A3.3 3.3 0 0 1 17.9 58.6M83.2 65.3A2.4 2.4 0 0 1 80.9 64.7M25.4 59.3A2.4 2.4 0 0 1 24.7 62.6M33.6 15.8A3.3 3.3 0 0 1 38.7 17.4M41.4 32.8A2.8 2.8 0 0 1 43.1 29.6M68.1 50.7A2.4 2.4 0 0 1 67.2 47.2M3.1 29.6A2.3 2.3 0 0 1 2.3 27.7M104.1 29.6A2.3 2.3 0 0 1 103.3 27.7M44.4 61.1A2.6 2.6 0 0 1 45.6 63M39.4 25.5A3.4 3.4 0 0 1 34.4 24.8M41.1 16.3A3.3 3.3 0 0 1 38.6 17.6M23.9 47A2.5 2.5 0 0 1 25.6 48.5M31.6 49.4A2.8 2.8 0 0 1 34.5 51.2M36.8 30A3.3 3.3 0 0 1 39.2 33M95.3 40.8A2.4 2.4 0 0 1 92.1 43.8M101 13.4A2.6 2.6 0 0 1 102.7 15.4M0 13.4A2.6 2.6 0 0 1 1.7 15.4M43.2 53.6A3.5 3.5 0 0 1 46.9 54.1M89.9 36.4A2.6 2.6 0 0 1 87.4 38.2M40.4 62A2.3 2.3 0 0 1 44.3 62.2M23.6 51.7A2.3 2.3 0 0 1 22.5 49.4M2.3 28.5A3 3 0 0 1 5.6 26.4M28.1 1.5A2.9 2.9 0 0 1 31.6 2.2M40.6 21.1A2.6 2.6 0 0 1 38 22.9M8.2 5.3A3.4 3.4 0 0 1 9.2 2.5M34.1 31A2.3 2.3 0 0 1 35.3 29.3M76.1 38.8A3.3 3.3 0 0 1 78.5 35.5M52.5 50.9A3.2 3.2 0 0 1 52.3 56.6M65.2 31.9A2.9 2.9 0 0 1 69 29.8M85.6 58.9A3.1 3.1 0 0 1 80.8 60.3M63 62A2.7 2.7 0 0 1 59.7 63.7M92.8 12.3A3.3 3.3 0 0 1 95.5 10.3M48.6 52.1A2.2 2.2 0 0 1 48 48.3M24.6 48.2A2.6 2.6 0 0 1 23.6 52.3M7.8 44.9A3.5 3.5 0 0 1 10.8 46.1M51 5.4A2.3 2.3 0 0 1 52.5 2.9M91.3 64.6A2.6 2.6 0 0 1 87.7 64.8M66.5 12.5A2.9 2.9 0 0 1 65.3 8.9M47.2 39.9A3.5 3.5 0 0 1 43.2 44.5M83.8 20.7A3.1 3.1 0 0 1 80.6 17.9M63.5 25.3A2.2 2.2 0 0 1 61.9 27.5M8.9 14.2A2.3 2.3 0 0 1 11.3 17.2" stroke="#ff0000" stroke-width="1.5" stroke-linecap="round" fill="none" opacity="0.9"/>
<path d="M24.5 16A2.6 2.6 0 0 1 25.8 20.3M13.2 64.4A2.9 2.9 0 0 1 10 67.7M72.5 51.9A2.9 2.9 0 0 1 74.7 49.3M64.6 21A3.6 3.6 0 0 1 68.2 20.5M24.7 16.6A3.5 3.5 0 0 1 20.1 20.7M86 55.2A2.3 2.3 0 0 1 86.9 58.5M75.1 54.5A2.3 2.3 0 0 1 76.2 56.3M76 32.5A2.8 2.8 0 0 1 73.7 37.1M67.2 42.7A3.1 3.1 0 0 1 70.9 44M6.4 57.8A2.8 2.8 0 0 1 9.6 61.3M19.7 29.7A2.4 2.4 0 0 1 22.9 31M0.5 31A2.5 2.5 0 0 1 -1.9 29.5M101.5 31A2.5 2.5 0 0 1 99.1 29.5M43.9 46.3A2.2 2.2 0 0 1 42.6 49.6M87.3 39.3A2.7 2.7 0 0 1 90.3 42.1M32.6 4.9A3.2 3.2 0 0 1 35.5 4.7M89.2 43.6A3.5 3.5 0 0 1 95.2 44.1M79.1 67.1A3.1 3.1 0 0 1 79.6 64.5M62.8 56.8A2.2 2.2 0 0 1 65.6 56.3M87.3 42.7A3.4 3.4 0 0 1 83.8 46.4M75.3 67.1A2.8 2.8 0 0 1 78.9 63.8M-0.5 26.1A2.8 2.8 0 0 1 0.5 21.2M100.5 26.1A2.8 2.8 0 0 1 101.5 21.2M30 48.8A2.8 2.8 0 0 1 26.8 49.8M10.2 42.5A2.7 2.7 0 0 1 12.4 38.6M96.5 15.1A2.2 2.2 0 0 1 98.3 13.3M-4.5 15.1A2.2 2.2 0 0 1 -2.7 13.3M29.7 63.1A2.9 2.9 0 0 1 27.6 59.6M29.3 38.3A2.6 2.6 0 0 1 26.4 39.8M81.3 49A3.4 3.4 0 0 1 85.7 51.7M77.1 9A3.4 3.4 0 0 1 71.7 7.9M101.6 55.2A3.1 3.1 0 0 1 97.2 54M0.6 55.2A3.1 3.1 0 0 1 -3.8 54M63.6 11.1A2.6 2.6 0 0 1 61.5 14.1M101.4 28.7A2.6 2.6 0 0 1 97.5 29.6M0.4 28.7A2.6 2.6 0 0 1 -3.5 29.6M19.6 20.4A3.1 3.1 0 0 1 23.3 19.5M93.4 64.8A2.6 2.6 0 0 1 91.7 69M81.2 7.6A2.3 2.3 0 0 1 83 6.4M95.4 9A2.2 2.2 0 0 1 98 10.7M82.3 5A2.9 2.9 0 0 1 80.9 9.7M44.2 2A2.9 2.9 0 0 1 46.8 2.4M95.8 48.5A3.2 3.2 0 0 1 90.7 48M30.7 51A2.9 2.9 0 0 1 34.3 49.6M30.4 19.3A3.3 3.3 0 0 1 30.4 23.4M40.3 15.2A3.3 3.3 0 0 1 35.1 17.8M101.3 41.6A2.3 2.3 0 0 1 99.3 43M0.3 41.6A2.3 2.3 0 0 1 -1.7 43M64.3 42.1A2.5 2.5 0 0 1 63.2 44.9M25.1 12.9A2.8 2.8 0 0 1 21.9 15.2M36 66.6A2.9 2.9 0 0 1 35.2 61.6M8.6 3.5A2.3 2.3 0 0 1 12.5 4.1M69.7 14.9A3.2 3.2 0 0 1 74.1 18.1M28.1 12.3A3.5 3.5 0 0 1 23.4 16.2M53.1 8A2.3 2.3 0 0 1 54.1 4.1M31.5 4.1A2.3 2.3 0 0 1 31.7 7M33.1 17.3A3.1 3.1 0 0 1 35.2 13M12.9 38.4A3.3 3.3 0 0 1 8.9 40.4M26.6 58.9A3.3 3.3 0 0 1 23.3 56.3M-3.1 37.7A3.5 3.5 0 0 1 2.1 35.4M97.9 37.7A3.5 3.5 0 0 1 103.1 35.4M71 19.8A2.6 2.6 0 0 1 67.7 18.2M55.1 6.6A2.3 2.3 0 0 1 57.9 7.7M13.8 60.6A2.7 2.7 0 0 1 13.3 65.4M99 11.4A2.5 2.5 0 0 1 101.6 15M-2 11.4A2.5 2.5 0 0 1 0.6 15M3.1 12.6A3 3 0 0 1 -2.1 12.9M104.1 12.6A3 3 0 0 1 98.9 12.9M46.6 8.5A2.4 2.4 0 0 1 49 8.1M60.7 41.9A2.4 2.4 0 0 1 61.7 45.9M27.3 12.4A3.4 3.4 0 0 1 28.5 9.6M65.5 55A3.4 3.4 0 0 1 70.5 51.8M84.2 56.8A2.3 2.3 0 0 1 81.7 55.5M80 33.1A2.8 2.8 0 0 1 78.2 35.9M87.7 61.5A3.5 3.5 0 0 1 90.4 66.9M30.7 43.8A3.5 3.5 0 0 1 25.3 45.3M48.5 11.1A2.8 2.8 0 0 1 50.6 9.5M9.5 26.6A3.4 3.4 0 0 1 10.6 32.1M49 32.2A3 3 0 0 1 44.2 33.4M38.9 12.9A2.4 2.4 0 0 1 39.4 10.8M10 32.5A3.1 3.1 0 0 1 5.1 31M89.4 41.3A3.4 3.4 0 0 1 85.4 41M57.4 42.5A2.5 2.5 0 0 1 59.6 41.9M46 56.1A2.6 2.6 0 0 1 44.2 59.5M2.6 40.1A2.5 2.5 0 0 1 4.8 36.3M103.6 40.1A2.5 2.5 0 0 1 105.8 36.3M24.1 4.6A3.4 3.4 0 0 1 18.7 6.8M12.8 2.6A3.1 3.1 0 0 1 15.9 0.9M91.6 53.4A2.6 2.6 0 0 1 89.6 50M79.1 17A3.4 3.4 0 0 1 78.6 22.4M32.2 62.5A3.1 3.1 0 0 1 35.5 61M33.8 10.9A2.5 2.5 0 0 1 30.4 12.6M11.7 54.7A2.6 2.6 0 0 1 7.7 53.5M38.4 59.5A3.6 3.6 0 0 1 38.7 65.6M59.1 61A2.7 2.7 0 0 1 63 61.2M38.4 42.9A3.4 3.4 0 0 1 35 38.9M75.5 17.9A2.8 2.8 0 0 1 72.8 20.2M82.5 37.7A3 3 0 0 1 86.3 35.1M66.2 37.9A2.4 2.4 0 0 1 68.4 36.3M47.2 58.8A3 3 0 0 1 46.2 62.2M53.4 34.1A2.3 2.3 0 0 1 50 32.2M23.7 23A2.3 2.3 0 0 1 21.3 22.4M51 11.6A3.1 3.1 0 0 1 55.5 12.4M47.6 45.2A3.2 3.2 0 0 1 45.4 41.5M19.1 48.4A3.1 3.1 0 0 1 24.6 48.8M54.8 54.9A2.8 2.8 0 0 1 52.6 52M75.6 52.3A3.6 3.6 0 0 1 70.7 48.2M48.4 65.1A2.3 2.3 0 0 1 51.4 64.8M1.1 37.6A3.3 3.3 0 0 1 5 40.7M102.1 37.6A3.3 3.3 0 0 1 106 40.7M41.7 48.7A3 3 0 0 1 46.3 48.5M70.1 40.6A3.2 3.2 0 0 1 65.1 41M40.3 65.4A2.9 2.9 0 0 1 41.6 62.6M38.6 11.5A3.2 3.2 0 0 1 39.1 14.9M20.6 36A3.4 3.4 0 0 1 19.1 38.9M3.2 63.9A3.1 3.1 0 0 1 2.5 68M104.2 63.9A3.1 3.1 0 0 1 103.5 68M44.3 16.2A3.4 3.4 0 0 1 43.6 11.6M8.3 38.1A3.3 3.3 0 0 1 11.2 34.2M63 23A2.6 2.6 0 0 1 60.9 26.2M58.1 59.3A2.9 2.9 0 0 1 53.9 61M29.4 16A2.8 2.8 0 0 1 26.4 13.8M58.3 18A3.3 3.3 0 0 1 62.9 17.8M83.9 17.8A2.7 2.7 0 0 1 81.5 20.8M23.4 49.6A2.6 2.6 0 0 1 25.4 46.1M88.8 17.9A2.8 2.8 0 0 1 89.1 21.6M55 35.4A3.5 3.5 0 0 1 59.7 33.2M77.3 8.7A2.3 2.3 0 0 1 76.6 10.6M85.5 21.2A2.9 2.9 0 0 1 83.4 23.4M86.4 6.2A2.3 2.3 0 0 1 84.4 6.4M35.2 33.8A3.4 3.4 0 0 1 31.8 37.8M58.4 58.9A2.7 2.7 0 0 1 61.5 59.2M50.6 8.9A2.5 2.5 0 0 1 49.6 12.2M49.3 56.8A2.3 2.3 0 0 1 47.4 53.9M21.9 14.9A2.5 2.5 0 0 1 25.1 12.6M69.6 37.8A2.7 2.7 0 0 1 71.6 42.2M98.3 32A2.3 2.3 0 0 1 99.8 30M-2.7 32A2.3 2.3 0 0 1 -1.2 30M68.1 10.2A3 3 0 0 1 66.2 12.4M20 17.5A2.4 2.4 0 0 1 22.2 19.9M66.5 64.6A3 3 0 0 1 70.5 64.4M71.7 53.4A3.3 3.3 0 0 1 74.2 56.2M7.5 11.1A3 3 0 0 1 9.3 8.5M25.5 64.8A3.5 3.5 0 0 1 28.8 59.9M43.3 52.3A2.4 2.4 0 0 1 45.3 49.9M65.4 59.3A2.9 2.9 0 0 1 68.9 60.2M36.4 25.2A2.9 2.9 0 0 1 38.5 26.6M51.4 9.7A2.8 2.8 0 0 1 54.2 11.2M22.5 42.4A2.8 2.8 0 0 1 24.5 38.5M81.2 39.8A2.6 2.6 0 0 1 77.6 40.3M27.7 64A2.4 2.4 0 0 1 30.6 61.3M64 12.8A2.2 2.2 0 0 1 61.9 12M89.5 67.1A3.2 3.2 0 0 1 88.4 64.5M67.2 3.4A2.5 2.5 0 0 1 69.2 4.7M79 55.4A3.3 3.3 0 0 1 75.3 52.4M61.9 38.9A2.5 2.5 0 0 1 59.7 38.7M50.1 41.9A3 3 0 0 1 52.8 38.2M67.1 26.4A3.4 3.4 0 0 1 68 31.3M100 53A3 3 0 0 1 102.3 57.2M-1 53A3 3 0 0 1 1.3 57.2M23.4 7A3.1 3.1 0 0 1 26.9 7.1M53.1 43A2.6 2.6 0 0 1 53.6 40M69.2 62.3A2.8 2.8 0 0 1 67.6 59.2M43.5 40.1A3.3 3.3 0 0 1 46.4 44.8" stroke="#a80000" stroke-width="1.1" stroke-linecap="round" fill="none" opacity="0.5"/>
</pattern></defs>
<path d="M42.4 131.3L42.4 107.2L45.4 107.2L48.4 107.3L51.4 107.4L54.4 107.4L57.4 107.5L60.4 107.6L63.4 107.7L66.4 107.9L69.4 107.8L72.4 107.9L75.4 108L78.4 108L81.4 108.1L84.4 108.2L87.4 108.3L90.4 108.3L93.4 108.4L96.4 108.5L99.4 108.5L102.4 108.6L105.4 108.7L108.4 108.8L111.4 108.8L114.4 108.9L117.4 109L120.4 117.4L123.4 125L126.4 126L129.4 126L132.4 126L135.4 126L138.4 126L141.4 126L144.4 126L147.4 126L150.4 126L153.4 126L156.4 122L159.4 110L162.4 108.4L165.4 107.7L168.4 106.7L171.4 104.3L174.4 101.9L177.4 99.5L180.4 99L183.4 99L186.4 99L189.4 99L192.4 99L195.4 102.2L198.4 99L201.4 99L204.4 99L207.4 99L210.4 99L213.4 99L216.4 99L219.4 99L222.4 99L225.4 99L228.4 99L231.4 99L234.4 99L237.4 99L240.4 99L243.4 99L246.4 99L249.4 99L252.4 99L255.4 99L258.4 99L261.4 99L264.4 99L267.4 99L270.4 99L273.4 99L276.4 99L279.4 99L282.4 99L285.4 99L288.4 99L291.4 99L294.4 99L297.4 99L300.4 99L303.4 103.9L306.4 107.2L308.8 131.3Z" fill="#cc0000" opacity="0.82" filter="url(#bla)"/>
<path d="M40.4 131.3L40.4 111.2L43.4 110.2L46.4 110.3L49.4 110.3L52.4 110.4L55.4 110.5L58.4 110.5L61.4 110.6L64.4 110.7L67.4 110.8L70.4 110.8L73.4 110.9L76.4 111L79.4 111.1L82.4 111.1L85.4 111.2L88.4 111.3L91.4 111.4L94.4 111.4L97.4 111.5L100.4 111.6L103.4 111.6L106.4 111.7L109.4 111.8L112.4 111.9L115.4 111.9L118.4 112.7L121.4 124.7L124.4 129L127.4 129L130.4 129L133.4 129L136.4 129L139.4 129L142.4 129L145.4 129L148.4 129L151.4 129L154.4 128.3L157.4 119.2L160.4 111.9L163.4 111.2L166.4 110.4L169.4 108.9L172.4 106.5L175.4 104.1L178.4 102L181.4 102L184.4 102L187.4 102L190.4 102L193.4 102L196.4 105.3L199.4 102L202.4 102L205.4 102L208.4 102L211.4 102L214.4 102L217.4 102L220.4 102L223.4 102L226.4 102L229.4 102L232.4 102L235.4 102L238.4 102L241.4 102L244.4 102L247.4 102L250.4 102L253.4 102L256.4 102L259.4 102L262.4 102L265.4 102L268.4 102L271.4 102L274.4 102L277.4 102L280.4 102L283.4 102L286.4 102L289.4 102L292.4 102L295.4 102L298.4 102L301.4 102L304.4 109.2L307.4 110.7L309.8 131.3Z" fill="url(#cra)"/>
<circle cx="68.9" cy="101.8" r="3.4" fill="#fff"/>
<circle cx="107.7" cy="101.1" r="2" fill="#fff"/>
<circle cx="88.7" cy="90" r="1.3" fill="#fff"/>
<g class="a" fill="#ff0000" stroke="#a80000" stroke-opacity="0.52" stroke-width="4.2" paint-order="stroke">
<circle cx="51.7" cy="96.2"/>
<circle cx="57.5" cy="94.3"/>
<circle cx="93.8" cy="93.2"/>
<circle cx="103.2" cy="90.8"/>
<circle cx="113.4" cy="91.6"/>
<circle cx="128.4" cy="117.4"/>
<circle cx="161.1" cy="92.1"/>
<circle cx="165.4" cy="88.8"/>
<circle cx="171" cy="90.4"/>
<circle cx="176" cy="90"/>
<circle cx="182" cy="88.8"/>
<circle cx="186.5" cy="90"/>
<circle cx="191.2" cy="89.7"/>
<circle cx="195.4" cy="97.6"/>
<circle cx="201.8" cy="80.5"/>
<circle cx="208.5" cy="79.7"/>
<circle cx="213.4" cy="80.4"/>
<circle cx="218.1" cy="83.3"/>
<circle cx="221.9" cy="83.5"/>
<circle cx="225.4" cy="85.6"/>
<circle cx="230.1" cy="85.2"/>
<circle cx="235.3" cy="86.6"/>
<circle cx="242.7" cy="85.3"/>
<circle cx="249.9" cy="86.5"/>
<circle cx="257.5" cy="84"/>
<circle cx="263.5" cy="82.4"/>
<circle cx="268.3" cy="83.8"/>
<circle cx="274.4" cy="82.2"/>
<circle cx="281.2" cy="82.6"/>
<circle cx="286.3" cy="84.8"/>
<circle cx="293.5" cy="85.6"/>
<circle cx="297.3" cy="85.8"/>
<circle cx="301.4" cy="90.6"/>
<circle cx="306.5" cy="102.5"/>
<circle cx="77.1" cy="45.5"/>
<circle cx="70.8" cy="56.9"/>
<circle cx="76.8" cy="53.9"/>
<circle cx="82.2" cy="54.9"/>
<circle cx="67.3" cy="66"/>
<circle cx="76.6" cy="70.9"/>
<circle cx="83.4" cy="71.4"/>
<circle cx="90.4" cy="71.6"/>
<circle cx="104.8" cy="71.6"/>
<circle cx="116.9" cy="71.7"/>
<circle cx="113.8" cy="76.4"/>
<circle cx="59.7" cy="79.2"/>
<circle cx="43.9" cy="87.8"/>
<circle cx="52.6" cy="88.5"/>
<circle cx="52.1" cy="85.1"/>
<circle cx="66.1" cy="83"/>
<circle cx="71.7" cy="82.3"/>
<circle cx="78.7" cy="81"/>
<circle cx="71" cy="92.1"/>
<circle cx="66" cy="93.5"/>
<circle cx="81.4" cy="92.4"/>
<circle cx="95.4" cy="86.5"/>
<circle cx="101" cy="83.7"/>
<circle cx="98.7" cy="84.8"/>
<circle cx="113.2" cy="85.8"/>
<circle cx="101.4" cy="86.5"/>
<circle cx="125.8" cy="85.1"/>
<circle cx="122.3" cy="84.4"/>
<circle cx="126.5" cy="92.8"/>
<circle cx="113.9" cy="94.2"/>
<circle cx="104.9" cy="92.8"/>
<circle cx="119.5" cy="99.7"/>
<circle cx="116" cy="107.4"/>
<circle cx="137" cy="95.6"/>
<circle cx="133.5" cy="101.1"/>
<circle cx="149.5" cy="97"/>
<circle cx="150.2" cy="104.6"/>
<circle cx="144.6" cy="94.9"/>
<circle cx="139.7" cy="108.1"/>
<circle cx="146.5" cy="109.5"/>
<circle cx="130" cy="113"/>
<circle cx="152.5" cy="111.5"/>
<circle cx="155.1" cy="84.4"/>
<circle cx="161.4" cy="83.7"/>
<circle cx="166.9" cy="84.4"/>
<circle cx="160.7" cy="90.7"/>
<circle cx="163.5" cy="97"/>
<circle cx="164.2" cy="103.2"/>
<circle cx="169.6" cy="74.4"/>
<circle cx="189.5" cy="78.2"/>
<circle cx="190" cy="83.5"/>
<circle cx="162" cy="83.5"/>
<circle cx="197.7" cy="57.8"/>
<circle cx="197.7" cy="63.9"/>
<circle cx="213" cy="63.8"/>
<circle cx="208.1" cy="70.9"/>
<circle cx="201.8" cy="72.3"/>
<circle cx="208.1" cy="77.9"/>
<circle cx="215" cy="63.9"/>
<circle cx="223.8" cy="71.8"/>
<circle cx="233.9" cy="73.8"/>
<circle cx="240.5" cy="68.9"/>
<circle cx="244.9" cy="72.8"/>
<circle cx="251.9" cy="77.8"/>
<circle cx="260.4" cy="70.5"/>
<circle cx="277.4" cy="71.9"/>
<circle cx="286.7" cy="79.8"/>
<circle cx="294.7" cy="81.8"/>
<circle cx="297.7" cy="86.8"/>
<circle cx="307" cy="98.7"/>
<circle cx="309" cy="109.1"/>
<circle cx="309.6" cy="121.7"/>
</g>
<g fill="none" stroke="#a80000" stroke-opacity=".4" stroke-width=".55">
<circle cx="77.1" cy="45.5" r="4.9"/>
<circle cx="70.8" cy="56.9" r="4.9"/>
<circle cx="76.8" cy="53.9" r="4.9"/>
<circle cx="82.2" cy="54.9" r="4.9"/>
<circle cx="67.3" cy="66" r="4.9"/>
<circle cx="76.6" cy="70.9" r="4.9"/>
<circle cx="83.4" cy="71.4" r="4.9"/>
<circle cx="90.4" cy="71.6" r="4.9"/>
<circle cx="104.8" cy="71.6" r="4.9"/>
<circle cx="116.9" cy="71.7" r="4.9"/>
<circle cx="113.8" cy="76.4" r="4.9"/>
<circle cx="59.7" cy="79.2" r="4.9"/>
<circle cx="43.9" cy="87.8" r="4.9"/>
<circle cx="52.6" cy="88.5" r="4.9"/>
<circle cx="52.1" cy="85.1" r="4.9"/>
<circle cx="66.1" cy="83" r="4.9"/>
<circle cx="71.7" cy="82.3" r="4.9"/>
<circle cx="78.7" cy="81" r="4.9"/>
<circle cx="71" cy="92.1" r="4.9"/>
<circle cx="66" cy="93.5" r="4.9"/>
<circle cx="81.4" cy="92.4" r="4.9"/>
<circle cx="95.4" cy="86.5" r="4.9"/>
<circle cx="101" cy="83.7" r="4.9"/>
<circle cx="98.7" cy="84.8" r="4.9"/>
<circle cx="113.2" cy="85.8" r="4.9"/>
<circle cx="101.4" cy="86.5" r="4.9"/>
<circle cx="125.8" cy="85.1" r="4.9"/>
<circle cx="122.3" cy="84.4" r="4.9"/>
<circle cx="126.5" cy="92.8" r="4.9"/>
<circle cx="113.9" cy="94.2" r="4.9"/>
<circle cx="104.9" cy="92.8" r="4.9"/>
<circle cx="119.5" cy="99.7" r="4.9"/>
<circle cx="116" cy="107.4" r="4.9"/>
<circle cx="137" cy="95.6" r="4.9"/>
<circle cx="133.5" cy="101.1" r="4.9"/>
<circle cx="149.5" cy="97" r="4.9"/>
<circle cx="150.2" cy="104.6" r="4.9"/>
<circle cx="144.6" cy="94.9" r="4.9"/>
<circle cx="139.7" cy="108.1" r="4.9"/>
<circle cx="146.5" cy="109.5" r="4.9"/>
<circle cx="130" cy="113" r="4.9"/>
<circle cx="152.5" cy="111.5" r="4.9"/>
<circle cx="155.1" cy="84.4" r="4.9"/>
<circle cx="161.4" cy="83.7" r="4.9"/>
<circle cx="166.9" cy="84.4" r="4.9"/>
<circle cx="160.7" cy="90.7" r="4.9"/>
<circle cx="163.5" cy="97" r="4.9"/>
<circle cx="164.2" cy="103.2" r="4.9"/>
<circle cx="169.6" cy="74.4" r="4.9"/>
<circle cx="189.5" cy="78.2" r="4.9"/>
<circle cx="190" cy="83.5" r="4.9"/>
<circle cx="162" cy="83.5" r="4.9"/>
<circle cx="197.7" cy="57.8" r="4.9"/>
<circle cx="197.7" cy="63.9" r="4.9"/>
<circle cx="213" cy="63.8" r="4.9"/>
<circle cx="208.1" cy="70.9" r="4.9"/>
<circle cx="201.8" cy="72.3" r="4.9"/>
<circle cx="208.1" cy="77.9" r="4.9"/>
<circle cx="215" cy="63.9" r="4.9"/>
<circle cx="223.8" cy="71.8" r="4.9"/>
<circle cx="233.9" cy="73.8" r="4.9"/>
<circle cx="240.5" cy="68.9" r="4.9"/>
<circle cx="244.9" cy="72.8" r="4.9"/>
<circle cx="251.9" cy="77.8" r="4.9"/>
<circle cx="260.4" cy="70.5" r="4.9"/>
<circle cx="277.4" cy="71.9" r="4.9"/>
<circle cx="286.7" cy="79.8" r="4.9"/>
<circle cx="294.7" cy="81.8" r="4.9"/>
<circle cx="297.7" cy="86.8" r="4.9"/>
<circle cx="307" cy="98.7" r="4.9"/>
<circle cx="309" cy="109.1" r="4.9"/>
<circle cx="309.6" cy="121.7" r="4.9"/>
</g>
<path d="M36.4 174.5L36.4 130.3L38 128.4L40.8 131.1L42.4 127.8L44.6 131.9L46 128.3L48.3 131.3L50.6 127.5L52 130.8L53.4 128.4L54.9 131.1L56.3 129.1L58.4 131.6L59.8 128.9L62.2 130.8L63.6 127.9L65.3 131.7L67.3 127.9L69.1 130.8L71.6 128.2L74.1 130.9L76 127.8L77.5 130.8L80.2 126.9L83 131.4L85.3 127.7L87.3 130.9L89.5 128.1L91.8 130.8L93.5 128.9L95.9 131.3L97.6 127.2L99.6 131.1L101.4 129.1L102.7 130.8L105.5 127L107.5 131.9L109.6 127.5L111 131.2L113.1 128.1L115.4 131.1L117.6 128.6L119.6 131.2L121.7 129L123.2 131.6L124.7 128L127.5 131.5L129.9 127.3L132.6 131.2L134.5 127.3L135.7 131.3L137.3 127.8L139.7 131.8L141.7 127.5L143 131.5L145.7 127.6L147.7 131.3L149.6 128.7L151.1 131.7L153.1 129L155.3 131.7L157.5 128.7L160.3 130.9L162.3 128L163.7 131L165.2 128.7L166.5 131.5L168.8 128.5L171.5 131.2L173.4 126.9L175.7 131.3L178.1 127.3L179.8 130.8L182.1 127.3L184.3 130.9L186.7 128.7L189.1 131.5L191.4 128.9L193.2 131.6L194.5 129L196.4 131.7L198.6 128.6L199.9 131.7L202.5 127.4L204 131.6L205.2 128.7L206.9 131.9L208.2 128.7L210.6 131.6L212.2 128.9L214.8 131.9L217.4 127.8L218.8 131.6L221 127.1L223.4 131.3L226.2 128L228.1 131.5L230.5 127.7L233.3 131.1L235.9 127L237.6 130.8L239.8 127.6L242.5 131.4L244.9 127.3L246.4 131.5L248.3 128.6L249.9 131.2L252.3 127.8L254 130.8L256.5 127.3L259 131.7L260.3 128.5L262.2 131.1L264.8 128.6L266 131.3L267.3 129.1L269.4 131.5L271.5 129L273.6 131.4L275.3 128.6L276.7 131.3L278.5 127.7L280.8 131.1L283 128.5L285.4 131L287.5 127.4L290 131.4L292.6 126.8L295.1 131.2L296.7 127.6L298.1 130.9L299.5 127.6L301.3 131.8L303.8 127.8L305.6 131.1L306.8 128.9L309.4 131.1L310.6 126.8L312.5 131.7L311.8 130.3L311.8 174.5Z" fill="#317f39"/>
<path d="M38.9 174.3h0M43.4 174h0M47.1 174.5h0M50.1 174.7h0M53.6 174.5h0M56.7 174h0M59.9 174.6h0M64.3 174.7h0M68.1 174h0M72.2 174.4h0M76.4 174.5h0M80.3 174.1h0M83.5 174h0M87.1 174.2h0M91.5 173.9h0M95.7 174h0M98.8 174.7h0M102.2 174.4h0M106 174.3h0M109.6 174h0M113.6 174.2h0M117.5 174.6h0M120.6 174.3h0M124.2 174.7h0M128.1 174.1h0M131.8 173.9h0M135.6 174h0M138.8 174.4h0M142.6 174.1h0M146.4 174.2h0M150.5 173.9h0M154.8 174.3h0M158 174.2h0M162 174h0M166.3 174.1h0M169.9 174h0M173.6 174.8h0M176.9 174.1h0M180.7 174.5h0M183.9 174.1h0M187.8 174.1h0M190.9 174.5h0M195.2 174.6h0M199.5 174.1h0M202.9 174.4h0M206.9 174.5h0M210.7 174.1h0M214.1 174h0M217.1 174.4h0M220.3 174.7h0M224.7 174h0M229.2 174.5h0M232.2 174.2h0M235.7 174.2h0M238.8 174.1h0M241.8 174.3h0M245.6 174.1h0M249.9 174.7h0M253.7 174.6h0M257.2 174.6h0M261.4 174.2h0M265.5 174.2h0M268.8 174.3h0M271.9 174.5h0M275.3 174.3h0M279.5 174.4h0M283.9 174.6h0M287.9 174.6h0M292 174.7h0M295.8 174.5h0M299.7 174.4h0M304.1 174.2h0M307.4 174.4h0M310.8 174.5h0" stroke="#317f39" stroke-width="6.6" stroke-linecap="round" fill="none"/>
<g fill="#3f9d4b" stroke="#317f39" stroke-width=".7" opacity=".85">
<circle cx="39.4" cy="173.6" r="3"/>
<circle cx="47.6" cy="173.9" r="3.4"/>
<circle cx="54.9" cy="173.7" r="3.4"/>
<circle cx="65.3" cy="173.7" r="3.3"/>
<circle cx="73.5" cy="174.1" r="3.3"/>
<circle cx="81" cy="174.4" r="3.5"/>
<circle cx="88.1" cy="174.3" r="3.4"/>
<circle cx="97.4" cy="174.4" r="2.9"/>
<circle cx="103.2" cy="173.8" r="3.5"/>
<circle cx="113.3" cy="173.8" r="3.2"/>
<circle cx="123.1" cy="174.2" r="3.3"/>
<circle cx="132.9" cy="174.3" r="3"/>
<circle cx="143.2" cy="173.8" r="3.3"/>
<circle cx="152.3" cy="173.8" r="3.1"/>
<circle cx="162.2" cy="174.2" r="3.6"/>
<circle cx="167.3" cy="174.1" r="3.4"/>
<circle cx="177.5" cy="174.2" r="3.1"/>
<circle cx="182.6" cy="173.7" r="3.1"/>
<circle cx="190.5" cy="173.9" r="3"/>
<circle cx="195.5" cy="174.1" r="3.5"/>
<circle cx="200.8" cy="174" r="3.6"/>
<circle cx="207.4" cy="174" r="3.5"/>
<circle cx="212.1" cy="174.3" r="3.4"/>
<circle cx="221" cy="173.9" r="3.2"/>
<circle cx="231.2" cy="173.6" r="3"/>
<circle cx="239.5" cy="174.4" r="3"/>
<circle cx="245.1" cy="174" r="3.5"/>
<circle cx="253" cy="174.1" r="2.9"/>
<circle cx="258.7" cy="174.1" r="3.4"/>
<circle cx="263.8" cy="173.7" r="3.1"/>
<circle cx="270.7" cy="173.9" r="3"/>
<circle cx="275.7" cy="174.1" r="3.6"/>
<circle cx="284" cy="174.3" r="3"/>
<circle cx="292.2" cy="173.9" r="3.5"/>
<circle cx="300.3" cy="174.1" r="3.5"/>
</g>
<defs><pattern id="txa" x="36.4" y="128.3" width="97" height="50.2" patternUnits="userSpaceOnUse">
<path d="M13.3 20.2l0.1 1.7M21.7 32.3l-0.6 2.5M86.2 5.8l0 2.2M5.5 35.7l-0.5 3.5M60.2 5.9l-0.5 3M27.3 20.8l0.2 3M89.9 15.5l-0.4 2.5M71.6 17l-0.4 2M40.8 38.6l0.4 2.7M45.7 26.9l-0.1 2.2M70.3 3.9l-0.3 2.8M28.2 15.6l0.1 2M3.9 11l-0.4 2.2M80.9 31.7l-0.5 4.1M18.2 14.5l0.4 2.9M81 39.7l-0.6 1.5M32.7 19.8l-0.2 1.4M12.4 40.3l-0.2 2M17 39.2l-0.1 1.7M21.4 11.4l0.3 4.4M71.4 16.4l0.6 4.3M61.7 10.5l0.1 1.5M47.2 39.8l0.4 4.4M23.5 45.5l-0.6 3.2M20.2 44.3l0.3 3.8M64.2 1.1l-0.3 4.2M74.8 24.9l0 2.9M89.1 38.6l0.5 2.6M17 16.1l-0.6 2.4M38.9 0.1l0.4 4.3M46.5 2.8l0.4 2.2M28.5 4.4l0.1 2.7M12.3 17.4l0.3 3.1M39.5 45.8l0.3 2.2M7.7 42.3l-0.4 3M79 40.8l0.5 1.8M93 16.4l0.3 3.8M55 17.9l0.4 2.3M75.9 43.7l0.1 1.6M68.5 10l0.5 1.5M75.7 32.9l-0.1 2.4M78.8 4.3l0.3 3.6M44.9 44l0.5 3.3M18.8 18.8l-0 2.3M73.2 45.8l0.5 4.1M94.6 33.9l-0.5 3.6M39.5 22.6l0.5 1.7M36.2 11.2l0 1.6M32.7 43.8l-0.1 3.3M15.3 2.3l0.1 3.5M48 23.4l0.5 2.6M5.4 10.7l-0.2 3.8M32.2 20l0.3 2.3M9.3 25.7l-0.2 3.5M70.8 16.4l-0.5 3.3M30.8 25.9l-0 3.2M3.6 24.9l-0.3 4M20.2 28.7l-0.5 2.1M7.2 28.9l0.4 4M57.2 40.4l-0.3 3.9M37 45l0.2 4.2M61.1 15.8l-0.2 1.7M22.4 29.2l0.2 3.4M88.4 0l-0.5 2M35.9 42.2l0.4 2.8M17.8 16.4l-0.3 3.8M70.8 27.7l-0.6 3.4M34.9 45.5l-0.3 2.5M96.9 27.2l-0 3.5M-0.1 27.2l-0 3.5M60.5 18l-0.3 2.2M22.1 32.1l-0.5 1.7M49.2 45.7l0.2 3.7M71.9 9.5l-0.6 2.9M50.4 1.5l-0.5 1.7M33.5 21.9l-0.5 2.1M11.8 43.9l0.5 4.4M13.2 9.3l-0.6 4M14.4 30l0.6 4.3M81.9 14.7l0.6 3.6M87.3 44.8l0.4 3.7M68.1 19.5l0.6 3.1M55.5 1.2l0.5 2.7M68.8 22.3l0.3 4.2M21.8 32.4l-0.6 4M90.9 19.9l-0.6 3.9M31 14l0.2 2.1M77.2 30l-0.5 4.1M27.8 18.5l0.3 3.8M96.1 40.3l0.3 3M-0.9 40.3l0.3 3M79.4 24l0.5 3.4M80.7 7.3l0.3 1.5M79.1 8.8l0.3 4M15.9 7.2l0.2 3.4M15.5 41.9l0.4 2M91.7 5.6l0.1 3.5M88.8 20.5l-0.3 2.6M82.1 14.8l-0.6 4.1M86.2 0.9l0.6 3.6M31.2 27.3l-0.6 2.6M81.4 22.8l-0.6 3.8M15.8 10.6l-0.6 3.8M2.2 17.4l0.5 2.6M83.3 11.1l-0.2 3.6M74.3 30.5l-0 1.6M41.1 21.2l0.2 3.1M39 24l0.2 3.9M18.7 6.4l0.6 2.2M37.6 40.6l0.3 4.3M35.8 34.4l0.6 2.9M48.6 29.4l0.2 3.5M17.3 26.2l0.2 2.7M75.1 9.5l-0.3 2.5M93.3 22.6l0.6 2.7M75.9 39.7l-0.5 2.9M36.1 3.9l-0.1 2.6M46.5 45.2l-0.4 3M17.3 31.4l-0.1 2.9M47.9 18.9l0.1 3.4M4.7 22.9l0.1 2.2M44.9 35.1l0.3 4.3M59.9 23.4l0.3 1.7M19.1 17.5l-0.3 3.2M83.7 25.2l-0.6 4.3M45 14.9l0.2 3.1M57.3 43.4l-0.2 2.7M72.7 25.6l0.5 2.2M21.9 3.5l0.5 3M82.9 37.7l0 3.2M28.2 7.6l0.4 2.7M53.7 45.3l0.1 3.8M57.3 19.3l0.4 4.1M17.3 41.6l-0.2 3.4M72.2 19.5l0 3.5M61.2 42.5l-0 4.1M37.6 33l-0.5 3.4M49.4 12.9l-0.4 3.3M28.9 11.6l0.1 2.2M83.7 29.6l0.3 3.3M37.9 19.8l-0.4 3.4M73.1 42.5l-0.6 4M88.8 10.3l0.2 1.8M33.6 8.3l0 3.2M52.1 23.6l0.4 3.3M69.9 32.6l-0 3.9M62 5.2l-0.1 1.6M66 10.8l-0.3 4.3M47.7 21.6l-0.5 4.3M24.4 29.3l-0.2 2.5M12.8 42.3l0.1 2.7M23.8 43.2l0.3 1.7M6.4 24.5l0.6 2.4M42.6 38.7l-0.3 1.5M95.7 17.1l-0.3 1.5M-1.3 17.1l-0.3 1.5M35.2 24.4l-0.3 2.5M46 21.7l0 1.9M56 26.5l-0.1 3.6M20.7 43.5l-0.3 1.8M40.4 19.1l0.5 2M29.4 25.3l-0.5 3.2M41.8 6.1l0.3 3M82.9 43.4l-0.1 1.7M64.6 17.3l-0 4.2M84.3 3.1l0.3 2.6M81.3 22.9l0.3 4M40.1 32.7l-0.5 2.9M87.2 39l-0.3 4.1M75.4 1.8l-0.3 2.9M49 17.7l-0.1 3M73.6 30.4l-0.4 2.2M23.1 15.1l0 2.7M74.2 45.4l-0.3 2.2M50.3 0.3l-0.6 3.3M57.6 27.1l0.6 2.5M30.3 0.8l-0.3 1.7M71.6 34.1l0.5 2.5M15.8 10.6l0 3.1M76.7 14.3l0.2 4.1M66.9 26.5l0.1 2M91.5 0.7l-0.2 2.4M24.7 35.6l-0.5 3.3M68.3 40.6l-0.6 1.6M58.4 40.7l0 3.1M39.4 26.2l0.1 4.1M72.4 21.5l0.3 4.1M49.3 13.9l0.6 2.3M62 3.3l-0.1 3M58.1 13.1l-0 4.1M80.4 12l0.1 4.1M52.9 20.1l0.1 4.2M51.8 16.8l-0.3 2.8M43.2 12.2l-0.2 1.6M2.6 30.7l0.5 1.7M30.8 12.5l-0.3 3M70.2 14l-0.6 4.2M5.5 40.7l-0.3 3.5M62.4 16.6l-0.3 2.9M52.4 30l-0.3 3.9M55.3 26.2l-0 4M83.9 42.7l-0.1 2.6M94 26.8l0.4 3M58.6 23.9l-0.3 3.4M36.7 0.4l0.4 3.6M71.4 44.9l-0.5 3.7M31.2 42.6l0.5 1.7M77.3 6.8l0.3 2M63.3 1.4l-0.4 3M83.3 24.7l-0.1 1.4M1 41.8l0.3 4.1M98 41.8l0.3 4.1M0.2 43.3l0.2 2.2M97.2 43.3l0.2 2.2M74.1 25.8l-0.3 1.7M70.9 5.7l0.6 2.5M39.7 7l-0.2 3.4M76.6 16.9l0.4 3.9M17.3 25.2l-0.5 2.7M88.5 15.8l-0.6 3.2M92.2 45.3l-0.5 3.5M64.3 21.6l-0.4 2.8M14.7 39l0.3 3.2M71.7 18.5l-0.3 3M63.5 19.9l-0.3 3.8M37 3.8l-0.4 1.5M1.6 19.6l0.5 2.5M98.6 19.6l0.5 2.5M4.1 45.5l0.4 1.7M34.7 11.3l-0.2 3.2M1.6 6l0.3 3.4M98.6 6l0.3 3.4M96.4 11.7l-0.2 3.7M-0.6 11.7l-0.2 3.7M50 12.9l0.5 2.6M24.4 19.6l-0.1 4.1M78.9 24.7l0.3 2.4M63.3 17.6l-0.5 4.4M82.4 33.3l-0 3.5M72.6 2l0.5 3.4M39.6 34.2l0 3.5M74.7 22.4l0 1.8M73.1 7.6l0.4 2.8M1.3 39.9l-0.2 2.5M98.3 39.9l-0.2 2.5M67.8 26.5l-0.4 2.3M40.8 41.1l0.3 4.4M67.5 31.7l-0.4 4.1M14.1 39l0 1.5M39.1 42.4l-0.4 3.3M6.3 21.8l-0 3.1M56.4 2.9l0.4 2.5M28 8.7l0.6 1.9M84.3 18.7l-0.2 2.4M85.6 42l0.5 4.3M66 5.4l-0.4 4.2M71.7 16.5l0.2 1.5M24.7 41l0.2 1.9M42.3 2.2l-0.2 2.2M75.2 35.6l-0.4 4.2M20.5 17.2l-0.4 2.4M73 0.3l-0.5 3M30.4 13.5l0.6 2.8M71.4 19.8l-0.3 4.4M18.3 29.4l0.3 3.7M49.2 33.4l0.6 2.4M71.8 37l0.5 3M45.5 43.9l0.6 2.7M30.8 23.8l0.1 3.1M81.8 39.1l0.3 1.9M51 18.7l0.5 1.7M95.9 33.4l-0.5 3.1M-1.1 33.4l-0.5 3.1M31.1 15.2l-0.2 1.7M35.6 19.1l-0.5 1.6M92.3 25.6l-0.1 2.1M35.2 22.4l0.3 1.9M90.5 29l0.4 4.3M52.1 24.1l-0.2 3.5M7.4 20.9l0.2 3.9M3.9 38.2l0 1.5M17.2 13.9l0.1 2.1M68.9 40.8l-0.6 2.9M3.7 3.9l-0.4 1.8M28.7 6.9l-0.2 4M46.5 36.2l0 1.9M4 22.4l0.1 4.2M29.3 29.2l-0 2.9M61.7 32.8l0.6 4.1M93.3 37.4l0.4 3.4M18.8 9.1l-0.1 3.9M2 34.4l-0.3 1.8M99 34.4l-0.3 1.8M89.4 8.8l-0.3 3.9M77 17.6l0.2 3.1M69.6 9.6l-0.4 3.4M23.7 35.9l-0.1 1.9M11.1 26.9l-0.2 1.9M94.9 20.6l-0.6 2.9M25.5 4.9l-0.4 3.3M17.2 6.6l0.2 3.6M28.3 14.5l0.1 2.2M55.3 6.1l0.2 1.9M27.1 30.7l-0.5 1.9M6.8 39.6l-0.6 3M34.5 29.2l0.4 2.1M0.5 24.3l-0.4 3.1M97.5 24.3l-0.4 3.1M95.7 25.2l0.3 1.8M-1.3 25.2l0.3 1.8M2.7 31.5l0.2 3.9M2.2 3l0.5 3.9M26.2 42.9l-0.5 3.8M85.9 0.6l-0.4 2.4M20.4 23.1l0.6 1.5M20.4 31.5l0.5 2.5M54.4 22.9l0.1 3.7M43.7 8l0.2 3.8M45 45.6l0.3 2.8M15.9 16.6l-0.3 3.3M96.6 45.7l0.3 3.3M-0.4 45.7l0.3 3.3M26.3 35.7l-0.1 4M54.9 30.2l-0.6 2.1M17.7 24.3l0.5 3.3M26 7.7l-0.4 2.7M25.1 22.6l-0.5 3.5M16.9 21.8l-0.4 3M64 26.1l0.6 4.3M60.9 4.1l-0.3 3M27 3.5l0.2 3.5M26.6 10.7l0.1 4.4M67.6 11.4l0.3 4.2M49.4 5.2l-0.6 2.7M20.4 36.1l-0.4 1.7M33.1 44.7l-0.1 1.9M51.7 2.1l-0.6 3.1M31 14.9l-0.1 4.4M29 15.2l-0.4 2.3M30.7 31.9l-0.4 2.5M3.7 36.4l-0.3 2.3M82.3 44.8l-0.6 3.1M81.1 35.2l-0.3 1.5M81 22l0.6 1.9M20.6 8.3l0.6 3.5M68.6 0.9l-0.4 1.5M64.5 44.3l0.2 1.7M65.5 1.4l-0.2 4.1M36.3 36.6l0.2 3M5.6 28.7l0.4 1.8M75.1 30l0.6 3.3M80.4 33.1l-0.6 2.5M97 3l0.1 1.5M-0 3l0.1 1.5M96.3 20.6l-0.6 2M-0.7 20.6l-0.6 2M15.6 16.7l-0.3 2.4M85.2 46.1l-0.4 4.3M67.6 7.6l0 2.8M30.6 36.2l0.4 2.1M74.3 29l-0.5 1.6M78.2 44.3l0.2 2.1M73.5 40.1l-0.4 1.8M6.1 32l0.3 2.5M16 29.5l-0.1 2.2M57.3 43.9l0.4 2M4.9 8.2l-0.5 3.5M81.6 41l0.3 2.1M62.9 45.1l-0.2 2.9M85.2 12.3l-0.2 4.1M39.5 38.6l-0.4 3.7M63.9 45.6l0.1 2.6M63.6 33.2l-0.2 2.6M17.2 28.9l0.4 2.4M4.3 35.1l0.5 1.9M79.8 16.4l-0.4 1.7M20.1 45.2l-0.6 3.8M0.8 25.8l0.1 2.8M97.8 25.8l0.1 2.8M81.6 38.7l0.6 1.8M44.5 21.7l-0.3 1.9M18.1 13l-0.3 3M26.1 5.1l0.5 1.6M42.5 20.9l0.6 1.8M1.2 36.2l-0.3 1.5M98.2 36.2l-0.3 1.5M47.2 21l0.1 3.5M68.1 3.1l-0.3 2.3M46.7 19.3l-0.5 1.7M5.9 2.5l0.6 3.3M57.6 9.1l-0 3.2M27.5 37.1l-0.3 2.2M4.4 11.2l-0 4.2M70.7 22.6l-0.2 2.2M49.4 14.2l-0.6 2.9M37.6 5.3l0 2.8M88.4 40.3l-0.1 4.1M28.6 39.1l-0.2 1.8M6 37.5l0.6 3.6M18 38.6l0.1 3.5M43 37.2l0.6 2.8M89.8 17l-0.1 3M87.4 39.4l-0.2 2.6M30.8 30.7l0.2 3.4M50.6 31l-0 1.4M67.3 33.7l-0.4 3.8M89.9 44.7l0.4 3.3M19.1 8.7l0 2.1M86.7 16.2l0.4 4.2M4.3 1.4l-0 4.4M75.5 39.8l-0.6 2.3M84.1 43l0.2 2.6M1.1 43.4l0.6 3.2M98.1 43.4l0.6 3.2M66.8 16.6l0 1.9M83.9 24.7l-0.4 3M14.3 11l-0 2.3M91.4 12.5l0.3 2.1M91 10.9l-0.1 2.3M5.9 4.3l-0.3 3.1M22.6 37.2l0.1 2.8M63.6 34.3l0.6 4.2M10.9 34.2l-0.5 1.5M24.8 6l-0.3 1.9M78.8 36.3l0.1 2.9M72.5 27.3l-0.1 1.6M19.7 21.7l-0.4 4.3M31.3 26.9l-0.3 3.4M38.3 23l-0.6 4.2M86.4 25.7l-0.1 4.1M63.1 1.1l0.2 2.1M32 23.9l0.1 4.3M64.9 26.1l0.6 2.2M36.9 1.1l-0.1 2.7M20 19.8l0.6 1.6M50.5 13.2l0.1 3M37.8 37.4l0.5 2.8M74.3 32l0.3 1.9M95 37.5l-0.3 1.5M-2 37.5l-0.3 1.5M0.2 30.7l0.2 4.1M97.2 30.7l0.2 4.1M64.4 25l0.1 3.6M77.5 7.2l0.2 2.8M6.7 26l-0.5 4.1M71.2 33.2l0.6 4.1M61.8 27.6l-0.1 2.8M58.4 15.6l0.1 3.8M42.2 23.8l0.4 3.5M79.1 32.7l-0.6 2.1M11.7 3.9l-0.5 2.9M45.9 34.9l0.5 2.7M34.9 22.4l-0.5 2.2M56 5.7l-0.3 1.8M70.6 45.2l-0.3 2.1M94.1 26.8l0.6 3.8M64 11.4l0.5 4.3M0.3 44.7l-0.3 3.3M97.3 44.7l-0.3 3.3M46 13.9l-0.1 3.7M8.3 41.1l-0.4 2.4M67.9 6l-0.1 3.2M11.8 44.1l-0.6 3.5M87.3 29.8l0.4 3.9M16.5 14.5l0.4 1.9M91.9 26.5l0.6 3.4M50.5 20.4l0.6 2.2M11.8 8.8l-0.6 4M19.2 24.4l-0.2 2.1M2.5 30.9l-0.3 1.6M9.9 32.1l0.1 2.1M3.2 26.1l0.5 2.4M18.8 13.7l-0.6 4M47.6 22.4l-0.4 2.3M48.4 1.4l-0.3 1.4M36.6 11.9l-0.1 3.5M59.1 27.2l0.6 3.5M54.4 32.1l-0.6 3.1M80.9 24.4l0.3 1.5M48.6 43.7l-0 2.7M86.9 42.9l-0.1 3.7M41.8 34l-0.1 4.1M68.1 25.9l-0.4 3.1M27.3 11.8l-0.6 4.4M21.3 9.4l0.2 3.8M29.9 4.9l0.3 3.4M62.2 33l-0.6 3.2M77.1 40.2l-0.2 1.9M95.4 45.1l0.4 3.9M-1.6 45.1l0.4 3.9M15.3 40.4l-0.4 3.9M88.5 37.6l0.5 4.1M9 7.8l-0.4 3.8M33.8 36.4l-0.1 3.9M40 32.1l0.2 4.4M33.6 11.1l0.1 2M69.8 10.3l0.1 3.6M55.5 24.3l-0.6 2.6M52.2 30.6l0.6 4.1M62.8 7.4l-0.1 4M93.4 43.6l-0.6 1.7M4.8 31.2l0.2 2.9M31.5 27.4l-0.4 1.7M71.2 10.6l0.2 1.7M95.4 43.2l0.3 4M-1.6 43.2l0.3 4M0.8 7.2l0 3.1M97.8 7.2l0 3.1M81.2 1.4l-0.6 3.3M73.2 4.1l0.4 2.9M95.6 36.8l-0.3 3.7M-1.4 36.8l-0.3 3.7M62 25l0.1 2.9M43.1 17.5l0.2 3.7M94.6 42.8l-0.5 3.8M48.8 22.9l0.5 3.8M19.1 0.5l0.6 4M32.8 27.8l-0.2 2.6M61.8 31.9l-0.2 4.1M48 20.8l0 4.4M89 44.7l0.4 1.5M10.8 23l-0.5 3.3M56.1 31.9l0.1 2.4M38.4 7l0.6 2.2M61.8 25l0.4 3.8M73.3 18.5l-0.2 3M6.2 42.7l-0.2 1.6M82.6 14.3l-0.6 4.1M14.5 20.7l0.4 3.3M86.9 37.8l0.6 2M4.5 21.5l-0.6 2.4M19.7 45.9l-0.2 4.3M97 34.1l0.1 1.5M-0 34.1l0.1 1.5M19.9 12.8l-0.4 3.6M34.2 0.3l-0.3 2.4M11 4.5l-0.5 2.6M90.8 11.9l-0.6 2.5M78.8 8.7l-0.2 1.6M88.5 42.4l0.1 2.8M7.1 41.7l-0.3 3.7M81.5 7.4l-0.3 2.8M55 11.6l-0.3 3M1.5 5.2l-0.1 3.8M98.5 5.2l-0.1 3.8M49.7 30.5l-0.4 2.2M39.6 34.7l-0.1 3.6M58.9 11.8l0.2 4.2M78 17l0.3 3.1M51.6 35.1l0.4 2.2M30.9 23.8l-0.1 1.8M86 1.4l0.1 2M63.8 31.7l0.3 3.5M58.5 7.1l-0.3 3M0.5 23.4l-0 4.3M97.5 23.4l-0 4.3M73.7 28.8l0.1 1.5M95.9 30.2l0.5 2.3M-1.1 30.2l0.5 2.3M64.9 43.1l0.1 3.9M45.4 24.5l0.5 2.4M12.4 45.7l-0.1 2.4M59.1 14.4l-0.6 3.2M84.3 4.9l0.5 4M76.3 34.7l0.1 2M6 34.4l-0.4 3.8M42.9 4.2l0.3 3.4M5.8 28.3l-0.4 4M88 12.6l-0.5 1.4M73.4 8.9l-0.1 4M8 37.7l-0.5 2.4M0.4 13.9l-0 2.8M97.4 13.9l-0 2.8M56.5 3.7l0.5 1.4M41.2 33.4l0.1 4.1M71.9 10.2l0 2M95.7 44.8l0.2 2.1M-1.3 44.8l0.2 2.1M28.1 16.6l0.6 2.2M37.2 21.4l0.5 1.7M8.3 38.3l-0.3 2.1M4.1 16.3l-0.2 4.3M32.2 34.3l0.3 2.1M93.8 39.5l0.4 1.5M76.5 36.7l-0.5 3.1M65.6 26.8l0.3 2.9M17.7 17.4l0.5 3.3M96.1 40.9l-0.1 2.2M-0.9 40.9l-0.1 2.2M50.9 21.3l-0.2 1.6M90.3 17.4l0.5 4M49.9 42.3l-0.6 4.3M57.3 44l-0.2 2.3M14.7 40.7l0.1 3.1M57.9 41.4l0.1 3M43.4 15.5l0.2 4.3M48 4.1l-0.6 3.3M45.7 9.8l-0.4 2.6M21.8 20.2l-0.3 1.8M69.8 4.7l-0.1 3.9M20.6 35.7l-0.2 2.5M0.1 8.2l-0 4.2M97.1 8.2l-0 4.2M42.2 27.2l-0.5 1.7M83.6 29.1l0.5 2.4M28.2 20.6l0.5 3.8M27.2 45.3l-0.3 2M49.9 25.9l-0 3M75.6 11.6l0.2 2.7M86.4 11.8l-0 2.5M26 23.7l-0.3 4.2M80.6 41l-0.2 2.9M11.4 25.4l-0.2 3.9M24.7 38.3l0.1 1.9M74.3 23.6l0.1 2.3M32.6 30.9l0.4 3.8M75.1 5.7l0.2 2.2M61.7 41.2l-0.6 2.7M7.2 2.3l-0.2 3M3.6 41.9l-0.2 1.6M75.2 31.6l0.6 2.1M43.4 38l0.2 2.7M92.7 2.7l0.1 3.1M93.8 27.8l-0.5 2.2M53.7 7.6l0.6 2.5M17.7 9.5l0 3.4M88.1 15.1l-0.1 3.7M96.4 42.4l-0.2 2M-0.6 42.4l-0.2 2M46 21.7l0.2 3.2M14.5 30l-0.1 3.9M26.1 11.7l-0.5 3.2M20.5 13.9l0.3 3.5M52.7 6.8l-0.6 2.5M96.7 21.3l-0.3 3.9M-0.3 21.3l-0.3 3.9" stroke="#46a551" stroke-width="0.9" stroke-linecap="round" fill="none" opacity=".8"/>
<path d="M26.8 6.6l0.2 2.6M53.5 14.9l-0.3 1.8M74.6 8.2l0.4 4.4M16.4 0.1l-0.6 3.9M64.9 23.2l0.1 2.6M1.7 34.6l-0.6 3.9M98.7 34.6l-0.6 3.9M27.3 38.8l-0.5 2M78.1 45.7l-0.4 4.4M12.8 0.5l-0.2 1.8M93.1 34.9l-0.1 1.9M53.2 7.3l-0.4 1.6M29.1 1.7l0.6 4.3M45.8 20l0.4 3.1M39.8 42.5l-0.3 4.3M56.1 44.1l0.6 2.3M48.6 31l-0.1 1.7M63.7 9.5l-0.1 4.3M55 35.9l0.3 2.3M71.1 35.8l-0.2 2.4M56.6 20.6l0.1 2.8M73.6 6.6l-0.5 2M50.3 9.5l-0.4 4.2M43.4 35.4l-0.5 2.2M22.4 32.5l0.6 2.4M15.1 14l-0.2 2.9M28.7 4.8l0.3 2.9M35.8 45.4l-0.2 3.3M35.5 12.8l-0 1.7M51.8 36.7l-0.6 1.6M88 16.6l0.5 3.6M27.2 8.2l-0.3 3.7M48.7 0l-0.1 3.1M20.3 8.9l0.5 4.2M30.1 14.7l-0.2 2.4M37.2 44.3l-0.2 1.4M53.2 28.2l0.3 2.4M41.6 6.9l-0.4 4.1M68.3 42.9l0.3 1.9M75.5 16l-0.5 4.1M50.3 45.2l0.5 3M39 29.9l0.3 2.9M71.3 33.2l-0.4 3.7M63.3 36.7l-0.4 3.6M53.3 0.7l0.2 4.3M23.8 27.8l0.1 2.3M76.3 39.6l0.2 4.3M52.2 23.8l-0.6 1.9M86.2 45l-0.4 3.9M60.7 9l0.4 2.4M90.3 0.6l0.3 3.7M67.7 6.8l0.3 2.5M19.8 7.9l-0.4 2.8M25.5 7.2l-0.5 2M40 15.6l-0.4 1.8M39.1 3.3l-0.6 2.3M71.7 5.6l-0.5 2.8M66.2 45l-0.5 3.5M18.9 7.6l-0.5 4.1M74 35.6l-0.1 3.9M40.5 16.2l-0 3.4M68.5 20.2l0.1 3.9M26.2 19.5l0.5 2.1M4.6 18.5l0.1 2.7M10 31l-0.3 1.8M30.3 3.4l-0.6 4.4M87.6 31.7l0.1 4.2M53.1 20.6l-0.2 3M17.1 27l0.6 3.8M88.1 27.9l0.1 2M15.8 39.7l-0.2 3.7M31.3 41.1l-0.5 2.7M64.8 19.5l0.5 1.8M20.4 8.8l-0.3 3M32.3 20.8l0.1 4.2M41.9 38.4l0.5 4.2M2.5 37.2l0.3 3.7M70.5 30.4l0.6 2M77.1 11.1l-0.4 3M22.8 28.9l-0.6 1.8M59.9 28.4l-0.6 4.1M30.1 5.5l0.4 4.1M14.8 21.8l0.2 3.5M46.8 24.9l-0.6 2M15.3 23.5l0.5 1.8M28.4 0.6l0.2 3.3M72.2 20.6l0.2 4.1M90.6 36.7l-0.1 2.2M20 29.2l-0.1 2.6M35.6 8.1l0.3 3.2M33.9 6l0.2 3.2M53.2 38.3l0.3 4.2M58.1 43.4l0 3.1M20 14.9l-0.3 2.5M26.6 8.5l0.1 1.7M42.3 37.1l0.6 3.6M88.3 5.1l0.6 3.4M8 6.4l-0.4 1.5M91.8 40.6l-0.6 1.8M10.4 40l0.1 2.4M34.9 19.4l0.6 3.3M6.3 19.4l0.4 3.5M60.8 13l-0.4 1.5M54.3 41.3l0.1 3.2M37.2 34.6l-0 4.3M62.4 24.5l0.5 2.2M7.2 19.4l0.1 4.2M37.8 9.6l0.3 2.5M66.1 28.7l-0.2 4.3M27.6 28.7l0.3 4.2M83.2 38.3l0.2 1.5M23.9 31.4l0.4 3.8M18.5 17.2l0.4 1.9M68.4 25.8l0.3 3M44 8.3l0.4 4.3M48.1 26l-0.3 2M5.2 30.6l-0.3 3.8M18.9 20l0.3 2.3M24 12l0.5 2.6M69.1 5.4l-0.6 1.8M64.9 30.2l-0.3 1.9M82.6 2.3l0.4 3.6M63.4 14.7l0.5 3.6M54.1 28.7l0.6 3.2M94.5 30.7l-0.5 2.9M47.3 19.6l-0 3.4M23.4 9.2l0.1 3.6M74.7 8.9l-0.5 2.7M16.8 16.1l0.6 2.2M10.2 23.7l0.5 1.7M10 39.5l-0.2 2.3M9.5 28.9l0.2 1.6M51.7 12.7l0.3 3.3M6.3 42.2l0.4 4M89.6 15.8l-0.1 1.8M89 31.4l0.3 1.7M78.4 21.3l0.5 3.3M41.1 36.4l0.4 3.1M82.2 6.8l0.1 2M33.7 13.7l-0.1 1.4M96.8 18.9l-0.2 2M-0.2 18.9l-0.2 2M58.2 1.2l0 1.9M35.3 32.1l-0.6 1.8M88.5 34.7l0.1 3.3M18.7 6.9l0.2 2.7M44.9 23.1l0.6 1.6M23.2 18l0.6 3.8M35.7 20.8l-0 3.9M11.5 10l-0.6 2.4M6.1 41.3l0.4 3.9M29.4 16.1l-0.6 4.2M42 16.8l0.2 3.6M96.4 44.6l0.5 3.2M-0.6 44.6l0.5 3.2M58 9.5l-0.3 2.9M88.2 37l0.2 1.7M62.5 35.6l0.1 1.8M10.6 19.7l-0.2 2.5M39.6 23.8l0 1.7M7.3 32.4l-0 1.5M0.4 36.1l0.3 4.2M97.4 36.1l0.3 4.2M44.2 21.4l-0.6 3.7M34.5 22.2l-0.1 1.9M34 6.4l-0.1 3.2M12.2 24.7l0.1 2.1M30.9 33.2l-0.6 3.2M32.6 35l0.4 2.4M83.6 42.7l-0.1 3.7M46.6 4l-0.3 2.3M77.4 36.2l0.3 3.3M41.7 29.5l-0.6 2.5M50.7 40.5l0.5 2.9M37.5 11.7l-0.1 1.9M30 5.1l0.6 2.3M75.7 19.4l-0 2.1M32.3 28.6l0.2 2.2M74.4 12.9l0.1 2.1M55.6 40.7l-0 3.8M47.9 36.4l-0.5 3.1M37 5.3l0.4 3.4M61.7 2.5l-0.6 2.6M66.3 34.8l0.3 2M4.8 6.7l-0.4 4.2M62.9 43.1l-0.1 3.7M41.6 18.6l0.4 1.9M50.5 35.3l-0.3 2.8M25.1 5.5l0 3.6M37.4 45.1l-0.2 2.5M21.6 12.8l0 2.1M40.7 21.7l-0.2 3.9M58.9 23.6l0.1 4.2M90.3 16.7l-0.4 2M79.4 5.3l0.5 2.3M6.1 32.5l-0.4 2.6M91.7 39.7l-0.5 2M53.8 3.4l-0.2 4.2M30.7 2.6l0.1 2.9M12.3 32.3l0.4 2.9M89.2 40.2l-0.2 2.7M61.8 18.8l-0.3 2.8M14.4 4.7l0.5 3.3M95.3 12.3l-0.5 2M-1.7 12.3l-0.5 2M10.2 37.9l-0.2 2.4M19 32.4l0.6 2M2.3 42.8l-0.1 2.6M48.6 11l0 4.1M52.8 40.3l0.4 3.4M11.5 13.8l0 2M25.4 41.4l-0.1 2M39.3 14.7l-0 3.5M77.2 16.3l0.4 3.9M39.1 43.3l-0.4 4.2M53.4 40.2l0.5 2.1M29.4 37.9l0.6 2.5M85.1 17.5l0.2 1.4M55 13.7l-0.1 4.1M51.3 10.4l0 3.6M14.2 43.4l-0.5 2.2M70.1 19.4l-0.1 3.8M53.8 33.2l-0.4 4M10.9 22.2l0.4 1.9M33.1 16.5l-0.3 1.7M35.2 12.3l-0.3 2M70.2 5.7l0.2 2.9M2.1 37.8l-0.3 3.7M5.7 3.4l-0.6 4M59 27l-0.1 3.4M43.7 21.4l-0.5 3.7M26.1 22.8l0.1 2.6M38.1 44.7l0.5 2M1.6 37.6l-0.3 1.7M98.6 37.6l-0.3 1.7M41.2 42l0 1.8M76.7 22.5l0.6 3.6M77.9 11.5l0.1 2.4M72.8 45.3l0.4 3.9M59.1 32.9l0.4 4M16.6 10.4l0.6 2.6M30.5 37.6l0.3 2.3M84.6 45.7l0.1 3.1M16.3 39.3l-0.5 2M83.5 24.1l-0.4 2.8M89.6 31.7l-0.1 4M46.6 23.6l-0.6 1.7M57.7 16.5l0.3 3.9M64.9 26.5l0.1 2.1M64.6 11.9l-0.6 2.8M65.3 20l0.3 2.1M77.5 10.1l0.1 1.4M92.3 4l0.1 3.8M68.4 0.6l-0.6 2.6M91.9 45.6l0.1 3.5M75.1 6.1l-0.1 4.4M41.6 0.5l0.6 1.6M19 23.2l0.3 3.6M42.8 31.9l-0.4 3.9M37.4 26.6l0.1 3.5M3.1 11.3l0.5 2.5M59.8 12.5l-0.3 3.1M93.8 32.1l-0.1 4M12.7 36.4l0.5 1.9M74.5 39.9l0.2 3.1M2.8 12.9l-0.6 1.8M51.7 2.9l-0.4 2.9M18.3 37l0.2 4.4M59.6 8.3l0.5 2.7M7 17.5l-0.4 2.1M14.6 33.8l0.6 2.4M31.2 32.7l0.4 2.5M5.8 45.4l0.3 2.1M31.3 0.8l-0.5 3M75.9 9.9l0.1 1.5M56.8 29.6l-0.6 3.5M87.8 37.3l-0.6 3.6M28.2 9.5l-0.3 4M38.5 9.6l-0.5 3.6M45.2 34.8l-0.4 2.5M49.7 8.8l0.4 3.6M22.8 2.3l-0.6 2.5M82.4 44l0 3.2M57.1 16.7l0.1 3M82.2 13.7l-0.1 1.8M4.7 14.4l0.5 2.9M57.1 45.6l0.6 3.8M85.5 15.2l0.3 1.9M71.7 18.8l0.2 3.9M79.4 0.1l0.5 3.9M22.7 38.8l0.5 2.2M80.8 38.3l-0.4 1.7M53.2 11l0.6 2.5M88.5 7.5l0.4 1.9M55.2 0.4l-0.4 4.3M8.3 40.9l-0.5 3.9M55.9 43.5l0.5 4.4M81.4 43.3l0.3 2.6M83 37.9l0.4 3.2M73.5 42.6l0.5 4.1M18 15.7l-0.6 2.9M27.5 40.3l-0 4.3M50.1 5.2l0.6 3M29.9 30.3l-0.1 3.8M41.9 32.9l-0.2 1.9M22.4 3l0.4 2.1" stroke="#2b7433" stroke-width="1.0" stroke-linecap="round" fill="none" opacity=".8"/>
<path d="M72.6 18.6l0 1.7M27.8 29.1l-0.2 4M31.7 38.2l0.3 4M32.5 42.8l0.6 1.6M70.1 2.8l0.4 1.9M90.7 4.5l0.5 3.3M64.7 42.9l-0.4 4M8.2 41.2l0.5 2.1M92.8 17.9l-0.4 3.7M49.6 5.7l-0.5 3.3M41.3 1.1l0.1 4.3M32.8 10.4l-0 3.8M54.9 1.9l-0 2.5M81.5 9.4l0 1.5M21.1 1.8l-0 1.7M41.4 12.2l-0.6 3.5M28.5 22.9l0.6 2.1M32.9 21.1l0 4.3M22.6 22l0.4 4.4M30.1 3.4l-0.3 4.2M7.8 19.4l-0.2 3.7M77.9 43.3l0.5 3.4M57.1 3.9l-0.3 3.4M78.4 41.4l0.3 2.8M4.7 26.6l0.5 3.4M6.7 9.1l0.1 3.7M43.6 44.8l0.5 1.6M10.9 11.2l-0.6 3.4M74.2 14.2l0.1 3.8M24.8 36.5l0.4 4.2M9.1 20.4l-0.1 1.6M27.4 24.4l0.3 4M77 2.6l-0.1 2.9M70.4 40.9l0.5 1.4M32.1 1.5l0 3.3M93.2 37.1l0.4 2.8M86.4 23.8l0.2 2.4M82.5 32.9l-0.4 3.3M70.7 27.7l-0.1 3.6M3.7 11.8l-0.4 3.2M31.6 18.9l-0.3 1.8M43.6 42.1l-0.5 3.6M38 37.4l0.3 1.4M69.7 11.6l-0.2 1.4M31.8 30.7l-0.4 1.6M70 1.8l-0.2 3.2M32.5 18.9l0.4 2.4M88.8 26.3l0.4 3.5M10.5 21.6l0.3 1.5M86.7 6.3l0.2 2.7M51.6 2.5l-0.2 2.6M58.4 41.2l0.1 1.6M44.8 17.9l-0.1 2M11.5 31.1l0.5 2.3M23.6 9.8l0.3 2M81.5 40.1l0.2 2.9M34.6 24.7l0.5 1.7M41.2 22.2l0 1.7M19 45.4l-0.2 1.6M7.6 9.3l-0.6 2.9M61.5 27.7l-0.2 3.7M61.6 15.6l0.6 3.5M17.3 31.5l-0.3 3.8M4.8 23.6l0.1 2.9M73.8 15.4l0.3 3.8M23.8 10.7l0.5 2.8M84.9 24.5l-0 3M72.5 1l0 3.5M54.6 39.5l0 1.7M92.3 11.3l-0.3 3.2M74.5 29.5l-0.5 1.8M33.7 20.5l0.6 3.8M53.6 4.2l0.6 2.8M7.6 20.4l0.2 2.2M20.5 2.1l0 2M40.9 38.9l0.2 2M89.9 1.2l-0.4 2.9M37.4 11.9l-0.3 3.7M95.4 9.5l0.2 2.3M-1.6 9.5l0.2 2.3M12 8l0.2 2.4M79.7 27.2l0.1 2.3M95.3 17l-0.6 1.7M-1.7 17l-0.6 1.7M43.9 43.8l0.3 4.2M22.5 17.4l-0.1 2M74.8 1.4l-0.4 3M60 36.5l-0.2 3.7M87 0.6l-0.5 2.3M66.3 22.3l-0.6 3.2M10 34.6l0.5 3.3M42 27.6l0.5 2.7M28.7 22.7l-0.2 3.8M42.1 4.6l0 4.3M45.7 7.6l-0.2 2.6M18.1 16.7l0.2 2.5M7.1 45.8l-0.6 3.9M44.1 33.9l0.5 1.5M93.9 3.2l0.6 2.4M27.6 34l-0.6 3.8M46.4 15.2l-0.5 3.9M65 1.1l-0 3.2M89.9 45.6l0.3 3.9M36.6 27.3l0.3 2.7M94.7 30.4l0.1 1.8M51.6 41.4l-0.1 2.4M67.4 27.9l0.1 2.9M22.2 4.1l0 2.7M70.7 18.3l0.6 2.4M88.1 9.7l-0.2 4M5 36.8l0.6 3M42.2 1.9l0.3 2.6M22.7 30.4l0.2 2.1M1.1 32.7l-0.1 2M98.1 32.7l-0.1 2M94 4.8l0.6 1.6M78.8 26.2l-0.1 3M62.5 37.7l-0.2 1.8M48.8 7.3l0.2 1.7M95.5 37.6l-0.2 2.4M-1.5 37.6l-0.2 2.4M95.8 37.9l-0.5 3.2M-1.2 37.9l-0.5 3.2M12.7 34.6l0.2 2.5M15.9 31.6l-0.5 2.9" stroke="#50b55b" stroke-width="0.8" stroke-linecap="round" fill="none" opacity=".8"/>
</pattern></defs>
<rect x="36.9" y="128.3" width="274.4" height="49.2" fill="url(#txa)"/>
<g fill="#4caf50" stroke="#2e8b3e" stroke-width=".8">
<circle cx="311.3" cy="130.8" r="3.6"/>
<circle cx="312.2" cy="134.4" r="3.6"/>
<circle cx="311.3" cy="138.1" r="3.6"/>
<circle cx="312.2" cy="142" r="3.6"/>
<circle cx="311.3" cy="146" r="3.6"/>
<circle cx="312.2" cy="150.5" r="3.6"/>
<circle cx="311.3" cy="154.2" r="3.6"/>
<circle cx="312.2" cy="157.8" r="3.6"/>
<circle cx="311.3" cy="161.8" r="3.6"/>
<circle cx="312.2" cy="165.5" r="3.6"/>
<circle cx="311.3" cy="168.9" r="3.6"/>
<circle cx="312.2" cy="172.9" r="3.6"/>
<circle cx="311.6" cy="173.9" r="3.6"/>
</g>
<path d="M368.8 29.3V194.4H664.3" fill="none" stroke="#b2b2b2" stroke-width="1.4"/>
<path d="M368.8 21.3l-2.7 9h5.4z" fill="#808080"/>
<path d="M672.3 194.4l-9 -2.7v5.4z" fill="#808080"/>
<path d="M368.8 194.6h-3.8M368.8 175.2h-3.8M368.8 155.8h-3.8M368.8 136.4h-3.8M368.8 117h-3.8M368.8 97.6h-3.8M368.8 78.2h-3.8M368.8 58.8h-3.8M368.8 39.4h-3.8M368.8 184.9h-1.9M368.8 165.5h-1.9M368.8 146.1h-1.9M368.8 126.7h-1.9M368.8 107.3h-1.9M368.8 87.9h-1.9M368.8 68.5h-1.9M368.8 49.1h-1.9" stroke="#9a9a9a" stroke-width=".9" fill="none"/>
<path d="M373.3 194.4v3.8M409.1 194.4v3.8M444.9 194.4v3.8M480.8 194.4v3.8M516.6 194.4v3.8M552.4 194.4v3.8M588.2 194.4v3.8M624 194.4v3.8M659.9 194.4v3.8" stroke="#9a9a9a" stroke-width=".9" fill="none"/>
<text transform="translate(363.5 198.6) scale(0.89 1)" font-size="10.2" text-anchor="end" fill="#484848">-0.5</text>
<text transform="translate(363.5 179.2) scale(0.89 1)" font-size="10.2" text-anchor="end" fill="#484848">0</text>
<text transform="translate(363.5 159.8) scale(0.89 1)" font-size="10.2" text-anchor="end" fill="#484848">0.5</text>
<text transform="translate(363.5 140.4) scale(0.89 1)" font-size="10.2" text-anchor="end" fill="#484848">1</text>
<text transform="translate(363.5 121) scale(0.89 1)" font-size="10.2" text-anchor="end" fill="#484848">1.5</text>
<text transform="translate(363.5 101.6) scale(0.89 1)" font-size="10.2" text-anchor="end" fill="#484848">2</text>
<text transform="translate(363.5 82.2) scale(0.89 1)" font-size="10.2" text-anchor="end" fill="#484848">2.5</text>
<text transform="translate(363.5 62.8) scale(0.89 1)" font-size="10.2" text-anchor="end" fill="#484848">3</text>
<text transform="translate(363.5 43.4) scale(0.89 1)" font-size="10.2" text-anchor="end" fill="#484848">3.5</text>
<text transform="translate(373.3 210) scale(0.89 1)" font-size="10.0" text-anchor="middle" fill="#484848">0</text>
<text transform="translate(409.1 210) scale(0.89 1)" font-size="10.0" text-anchor="middle" fill="#484848">1000</text>
<text transform="translate(444.9 210) scale(0.89 1)" font-size="10.0" text-anchor="middle" fill="#484848">2000</text>
<text transform="translate(480.8 210) scale(0.89 1)" font-size="10.0" text-anchor="middle" fill="#484848">3000</text>
<text transform="translate(516.6 210) scale(0.89 1)" font-size="10.0" text-anchor="middle" fill="#484848">4000</text>
<text transform="translate(552.4 210) scale(0.89 1)" font-size="10.0" text-anchor="middle" fill="#484848">5000</text>
<text transform="translate(588.2 210) scale(0.89 1)" font-size="10.0" text-anchor="middle" fill="#484848">6000</text>
<text transform="translate(624 210) scale(0.89 1)" font-size="10.0" text-anchor="middle" fill="#484848">7000</text>
<text transform="translate(659.9 210) scale(0.89 1)" font-size="10.0" text-anchor="middle" fill="#484848">8000</text>
<text x="520.5" y="221.3" font-size="8.3" text-anchor="middle" fill="#444">Num</text>
<text transform="translate(344.6 107.2) rotate(-90)" font-size="7.8" text-anchor="middle" fill="#444">VIPpred</text>
<g class="b" fill="#ea3535" stroke="#a01818" stroke-opacity="0.42" stroke-width="3.8" paint-order="stroke">
<path d="M373 119L373 87.5L376 87.2L379 86.8L382 86.5L385 86.1L388 82L391 82L394 82L397 82L400 82L403 82L406 82L409 82L412 82L415 82L418 82L421 84.7L424 92.5L427 97L430 97L433 92.3L436 82.9L439 82.5L442 82.2L445 82L448 82L451 82L454 83.5L457 86.2L460 86.8L463 87.3L466 87.9L469 88.4L472 89L475 90.8L478 91.8L481 91.3L484 88.3L487 83L490 82.8L493 82.7L496 82.5L499 82.4L502 82.2L505 82.1L508 82L511 82L514 82L517 82L520 82L523 82L526 82L529 82L532 82L535 82L538 82L541 82L544 82L547 82L550 82L553 82L556 82L559 82L562 82L565 82L568 82L571 82L574 82L577 82L580 82L583 82L586 82L589 82L592 82L595 82L598 82L601 82L604 82L607 82L610 82L613 82L616 82L619 82L622 82L625 82L628 82L631 82L634 82L637 82L640 82L643 83.2L646 83.9L649 84.6L652 85.3L655 86L658 87.1L661 88.2L664 89.6L667 91.4L668.8 119Z" fill="#c62828" stroke="none"/>
<circle cx="644.8" cy="112.9"/>
<circle cx="635.4" cy="76.3"/>
<circle cx="547.5" cy="88.1"/>
<circle cx="529.4" cy="79.2"/>
<circle cx="430.6" cy="100.6"/>
<circle cx="439.1" cy="91.2"/>
<circle cx="381.7" cy="84.4"/>
<circle cx="582" cy="85.2"/>
<circle cx="524.3" cy="100.9"/>
<circle cx="479.4" cy="88.6"/>
<circle cx="603.4" cy="95.7"/>
<circle cx="566.8" cy="95.5"/>
<circle cx="658.2" cy="91.8"/>
<circle cx="596.6" cy="88.1"/>
<circle cx="541.7" cy="97.4"/>
<circle cx="466.4" cy="85.7"/>
<circle cx="513.1" cy="100.2"/>
<circle cx="547.1" cy="88.9"/>
<circle cx="562.3" cy="80.2"/>
<circle cx="426.7" cy="98.3"/>
<circle cx="613" cy="83"/>
<circle cx="407.9" cy="77"/>
<circle cx="385.9" cy="88.5"/>
<circle cx="541.9" cy="105.1"/>
<circle cx="471.2" cy="93.1"/>
<circle cx="458.8" cy="89.7"/>
<circle cx="601.8" cy="94.2"/>
<circle cx="450" cy="79.9"/>
<circle cx="603.6" cy="100.5"/>
<circle cx="616.7" cy="83.4"/>
<circle cx="533.9" cy="110.7"/>
<circle cx="547.7" cy="112.4"/>
<circle cx="423.4" cy="114.8"/>
<circle cx="390.8" cy="87.5"/>
<circle cx="381.3" cy="106.5"/>
<circle cx="575.4" cy="114.1"/>
<circle cx="609.8" cy="112.8"/>
<circle cx="531.9" cy="115.2"/>
<circle cx="593.4" cy="87.4"/>
<circle cx="659.3" cy="92.4"/>
<circle cx="431" cy="94.1"/>
<circle cx="510.7" cy="81.4"/>
<circle cx="647.4" cy="113.1"/>
<circle cx="437.6" cy="81.2"/>
<circle cx="529.1" cy="80.3"/>
<circle cx="533.4" cy="104.7"/>
<circle cx="448.5" cy="89.4"/>
<circle cx="637.8" cy="87.9"/>
<circle cx="474.7" cy="111"/>
<circle cx="612.4" cy="109.7"/>
<circle cx="575.5" cy="86.3"/>
<circle cx="577.1" cy="104.7"/>
<circle cx="561.4" cy="81.9"/>
<circle cx="460.8" cy="92.8"/>
<circle cx="600.1" cy="94.5"/>
<circle cx="535.2" cy="105.5"/>
<circle cx="406.2" cy="95.6"/>
<circle cx="471.7" cy="98.5"/>
<circle cx="618.7" cy="81.5"/>
<circle cx="652.6" cy="83.2"/>
<circle cx="538.8" cy="92.5"/>
<circle cx="443.2" cy="94.7"/>
<circle cx="512.1" cy="89.4"/>
<circle cx="584.5" cy="71.8"/>
<circle cx="484.7" cy="105.4"/>
<circle cx="416" cy="107.4"/>
<circle cx="434" cy="101.9"/>
<circle cx="425.1" cy="99.4"/>
<circle cx="498" cy="80.4"/>
<circle cx="579" cy="87.3"/>
<circle cx="575.9" cy="91"/>
<circle cx="537" cy="91.9"/>
<circle cx="461.5" cy="110.7"/>
<circle cx="399.8" cy="108"/>
<circle cx="626.9" cy="89.9"/>
<circle cx="601.6" cy="99.1"/>
<circle cx="551.4" cy="83.6"/>
<circle cx="467.9" cy="92.2"/>
<circle cx="462.8" cy="113.8"/>
<circle cx="474.3" cy="94.7"/>
<circle cx="497.1" cy="105.7"/>
<circle cx="514.1" cy="93.2"/>
<circle cx="449.2" cy="84.8"/>
<circle cx="400.5" cy="80.7"/>
<circle cx="451.6" cy="107.2"/>
<circle cx="521.4" cy="78.7"/>
<circle cx="509.8" cy="79.8"/>
<circle cx="539.9" cy="88.8"/>
<circle cx="625.4" cy="81.5"/>
<circle cx="623.2" cy="81.1"/>
<circle cx="661.7" cy="100.6"/>
<circle cx="387" cy="105.6"/>
<circle cx="455.1" cy="90"/>
<circle cx="417.3" cy="105.7"/>
<circle cx="400.9" cy="100.6"/>
<circle cx="490.2" cy="99.7"/>
<circle cx="460.2" cy="84.5"/>
<circle cx="642" cy="98.8"/>
<circle cx="424.1" cy="114.9"/>
<circle cx="641" cy="82.5"/>
<circle cx="380.1" cy="99"/>
<circle cx="415.2" cy="100.1"/>
<circle cx="511.6" cy="99.8"/>
<circle cx="541.1" cy="102.6"/>
<circle cx="614.7" cy="96.2"/>
<circle cx="547.4" cy="84.8"/>
<circle cx="413.7" cy="76.7"/>
<circle cx="625" cy="79.9"/>
<circle cx="499.2" cy="86.8"/>
<circle cx="555.6" cy="92"/>
<circle cx="625.6" cy="87.5"/>
<circle cx="480.3" cy="102.6"/>
<circle cx="592.2" cy="111.4"/>
<circle cx="465.6" cy="110.3"/>
<circle cx="661.4" cy="115.1"/>
<circle cx="412.3" cy="85.7"/>
<circle cx="600.7" cy="106.3"/>
<circle cx="386.1" cy="91.7"/>
<circle cx="586.2" cy="100.7"/>
<circle cx="530.9" cy="81.4"/>
<circle cx="493.4" cy="80.1"/>
<circle cx="466.8" cy="94.1"/>
<circle cx="615" cy="95.7"/>
<circle cx="495.6" cy="84.9"/>
<circle cx="466.7" cy="101.7"/>
<circle cx="504.7" cy="82.5"/>
<circle cx="614.7" cy="95.2"/>
<circle cx="657.3" cy="96.6"/>
<circle cx="556.6" cy="88.1"/>
<circle cx="552.3" cy="110.7"/>
<circle cx="661.3" cy="101.5"/>
<circle cx="500.3" cy="79.8"/>
<circle cx="620.1" cy="85.9"/>
<circle cx="486.3" cy="80.3"/>
<circle cx="384.5" cy="91.8"/>
<circle cx="659.4" cy="104.1"/>
<circle cx="581.7" cy="95.9"/>
<circle cx="454.3" cy="83.9"/>
<circle cx="550.6" cy="77"/>
<circle cx="546.4" cy="91.4"/>
<circle cx="533.1" cy="78.9"/>
<circle cx="394.3" cy="89.5"/>
<circle cx="417.1" cy="95.9"/>
<circle cx="465" cy="99.8"/>
<circle cx="593.8" cy="96.4"/>
<circle cx="529.9" cy="81.1"/>
<circle cx="476" cy="114.9"/>
<circle cx="453" cy="85.7"/>
<circle cx="518.7" cy="92.9"/>
<circle cx="605.6" cy="85.8"/>
<circle cx="655.9" cy="82.8"/>
<circle cx="605.5" cy="95"/>
<circle cx="637.9" cy="78.3"/>
<circle cx="576" cy="112.3"/>
<circle cx="569.5" cy="78.1"/>
<circle cx="643.7" cy="114.1"/>
<circle cx="406.9" cy="105.2"/>
<circle cx="397.7" cy="76.9"/>
<circle cx="607" cy="101.1"/>
<circle cx="654.3" cy="99.3"/>
<circle cx="524.1" cy="83.4"/>
<circle cx="541.9" cy="115.5"/>
<circle cx="563.5" cy="108.1"/>
<circle cx="432.2" cy="107"/>
<circle cx="588.4" cy="76.7"/>
<circle cx="614.2" cy="82.5"/>
<circle cx="438" cy="80.1"/>
<circle cx="568.2" cy="78.9"/>
<circle cx="659.7" cy="83.8"/>
<circle cx="611.1" cy="102.8"/>
<circle cx="540.9" cy="93.7"/>
<circle cx="607.7" cy="97.6"/>
<circle cx="415.2" cy="103.5"/>
<circle cx="477.9" cy="100.8"/>
<circle cx="524.3" cy="109.9"/>
<circle cx="495.6" cy="107.6"/>
<circle cx="398.4" cy="84.2"/>
<circle cx="570.5" cy="95.1"/>
<circle cx="617.8" cy="81.3"/>
<circle cx="609.6" cy="104.6"/>
<circle cx="416.3" cy="78"/>
<circle cx="545" cy="114.3"/>
<circle cx="553.9" cy="88.2"/>
<circle cx="522.7" cy="104.6"/>
<circle cx="527.2" cy="92.4"/>
<circle cx="547.9" cy="111.5"/>
<circle cx="608.5" cy="106.7"/>
<circle cx="452.3" cy="95.8"/>
<circle cx="615.1" cy="101"/>
<circle cx="652.7" cy="111.3"/>
<circle cx="411.8" cy="90.4"/>
<circle cx="479.1" cy="91.6"/>
<circle cx="520.9" cy="114.9"/>
<circle cx="599.1" cy="80.5"/>
<circle cx="446.9" cy="87.8"/>
<circle cx="633.2" cy="88.4"/>
<circle cx="421.1" cy="96"/>
<circle cx="446.8" cy="78.6"/>
<circle cx="547.7" cy="115.4"/>
<circle cx="601.3" cy="101.8"/>
<circle cx="419.1" cy="92.6"/>
<circle cx="560.7" cy="101.9"/>
<circle cx="505.1" cy="79.4"/>
<circle cx="645.7" cy="86.5"/>
<circle cx="590.3" cy="91.2"/>
<circle cx="602.3" cy="87.1"/>
<circle cx="401.5" cy="87.6"/>
<circle cx="514.8" cy="103.8"/>
<circle cx="492.5" cy="99.1"/>
<circle cx="484.5" cy="103.5"/>
<circle cx="425.4" cy="111.4"/>
<circle cx="650.5" cy="81.5"/>
<circle cx="625.4" cy="102.4"/>
<circle cx="577.1" cy="75"/>
<circle cx="588.7" cy="102.6"/>
<circle cx="557.6" cy="113.5"/>
<circle cx="651.3" cy="99"/>
<circle cx="644.9" cy="83.1"/>
<circle cx="461.7" cy="96.5"/>
<circle cx="527.3" cy="112.9"/>
<circle cx="560.4" cy="95.6"/>
<circle cx="556.1" cy="112.4"/>
<circle cx="491.5" cy="102.2"/>
<circle cx="549.9" cy="87.3"/>
<circle cx="377.7" cy="90.9"/>
<circle cx="462.3" cy="84.9"/>
<circle cx="516.4" cy="86"/>
<circle cx="645.2" cy="104.4"/>
<circle cx="568.9" cy="106.4"/>
<circle cx="454.8" cy="83.2"/>
<circle cx="552.7" cy="81.7"/>
<circle cx="662.4" cy="94.6"/>
<circle cx="633.5" cy="81.1"/>
<circle cx="401.9" cy="95.5"/>
<circle cx="577" cy="79.7"/>
<circle cx="645.4" cy="114.4"/>
<circle cx="575.4" cy="114.7"/>
<circle cx="661.9" cy="87.7"/>
<circle cx="588" cy="100.8"/>
<circle cx="588.4" cy="84.8"/>
<circle cx="533.3" cy="94.4"/>
<circle cx="622.9" cy="75.4"/>
<circle cx="484.2" cy="91"/>
<circle cx="605.9" cy="80.9"/>
<circle cx="392.5" cy="78"/>
<circle cx="408.4" cy="87.8"/>
<circle cx="627.5" cy="84.7"/>
<circle cx="404.1" cy="97.4"/>
<circle cx="471.7" cy="98.9"/>
<circle cx="593" cy="90.9"/>
<circle cx="588.8" cy="95.7"/>
<circle cx="623.5" cy="101.6"/>
<circle cx="637.9" cy="100.8"/>
<circle cx="457" cy="95.2"/>
<circle cx="600.2" cy="104"/>
<circle cx="588" cy="106"/>
<circle cx="615.5" cy="93.9"/>
<circle cx="561.7" cy="76.3"/>
<circle cx="514.1" cy="100.6"/>
<circle cx="641.5" cy="107.3"/>
<circle cx="502.9" cy="84.1"/>
<circle cx="633.3" cy="96.6"/>
<circle cx="430.5" cy="93.6"/>
<circle cx="631.2" cy="93"/>
<circle cx="406.5" cy="115.3"/>
<circle cx="546.2" cy="101.9"/>
<circle cx="610.2" cy="84.7"/>
<circle cx="527.2" cy="80.4"/>
<circle cx="553.5" cy="88.4"/>
<circle cx="605.4" cy="80.9"/>
<circle cx="434.6" cy="90.8"/>
<circle cx="375" cy="93"/>
<circle cx="655.9" cy="109"/>
<circle cx="427.1" cy="110.2"/>
<circle cx="440.3" cy="84.6"/>
<circle cx="560.9" cy="83.6"/>
<circle cx="433.3" cy="88.4"/>
<circle cx="426.2" cy="96"/>
<circle cx="641" cy="78.8"/>
<circle cx="532.4" cy="81.5"/>
<circle cx="585" cy="71.9"/>
<circle cx="483.1" cy="105.1"/>
<circle cx="382.1" cy="92.6"/>
<circle cx="469.8" cy="96.1"/>
<circle cx="558.3" cy="77.4"/>
<circle cx="627.6" cy="81.9"/>
<circle cx="600.2" cy="81.3"/>
<circle cx="401.9" cy="80"/>
<circle cx="399" cy="81.7"/>
<circle cx="415.3" cy="76.5"/>
<circle cx="623.5" cy="91.1"/>
<circle cx="519.6" cy="91.4"/>
<circle cx="611.4" cy="79.1"/>
<circle cx="387.8" cy="98.7"/>
<circle cx="376.6" cy="95.8"/>
<circle cx="557.2" cy="106.6"/>
<circle cx="374.7" cy="92.9"/>
<circle cx="466" cy="98.5"/>
<circle cx="384.2" cy="104.1"/>
<circle cx="654.2" cy="96.4"/>
<circle cx="569.2" cy="105.8"/>
<circle cx="621.1" cy="104.6"/>
<circle cx="516.9" cy="78.2"/>
<circle cx="606.7" cy="107"/>
<circle cx="579.4" cy="81.1"/>
<circle cx="659.5" cy="99.9"/>
<circle cx="465.8" cy="105.9"/>
<circle cx="440" cy="84.6"/>
<circle cx="639.1" cy="76.8"/>
<circle cx="628.7" cy="86.1"/>
<circle cx="541.7" cy="98.8"/>
<circle cx="638.3" cy="80.6"/>
<circle cx="401.7" cy="90.8"/>
<circle cx="440" cy="90.1"/>
<circle cx="406.7" cy="76.8"/>
<circle cx="540.4" cy="76.9"/>
<circle cx="402.3" cy="104.1"/>
<circle cx="638" cy="74.9"/>
<circle cx="610.3" cy="82.5"/>
<circle cx="587.7" cy="75.1"/>
<circle cx="592.4" cy="111.8"/>
<circle cx="450.2" cy="81.5"/>
<circle cx="474" cy="109.6"/>
<circle cx="602.5" cy="82"/>
<circle cx="638.1" cy="100.5"/>
<circle cx="654.3" cy="114.4"/>
<circle cx="420.8" cy="102.2"/>
<circle cx="381.7" cy="86.8"/>
<circle cx="531.3" cy="82.1"/>
<circle cx="438.3" cy="88.2"/>
<circle cx="508.8" cy="110.9"/>
<circle cx="544.4" cy="93"/>
<circle cx="584.7" cy="77.4"/>
<circle cx="609.3" cy="103"/>
<circle cx="612.5" cy="90.7"/>
<circle cx="532.9" cy="77.6"/>
<circle cx="508.5" cy="97.5"/>
<circle cx="652.2" cy="110.3"/>
<circle cx="473.7" cy="105.5"/>
<circle cx="624.7" cy="113.3"/>
<circle cx="573.4" cy="84.6"/>
<circle cx="629.8" cy="74.4"/>
<circle cx="540.4" cy="89.4"/>
<circle cx="632.5" cy="94.9"/>
<circle cx="433.1" cy="90.8"/>
<circle cx="385" cy="104"/>
<circle cx="603.4" cy="88.2"/>
<circle cx="439.9" cy="94.8"/>
<circle cx="431.6" cy="102.3"/>
<circle cx="474.9" cy="93.3"/>
<circle cx="576.5" cy="79.9"/>
<circle cx="471.4" cy="98.6"/>
<circle cx="649.8" cy="84.3"/>
<circle cx="464.1" cy="89.7"/>
<circle cx="466.6" cy="95.8"/>
<circle cx="614.3" cy="82.6"/>
<circle cx="584.6" cy="85.9"/>
<circle cx="541.7" cy="91"/>
<circle cx="550.7" cy="80.3"/>
<circle cx="554.6" cy="87.2"/>
<circle cx="603.7" cy="96"/>
<circle cx="493.7" cy="115.2"/>
<circle cx="426.8" cy="93.2"/>
<circle cx="410.5" cy="98.2"/>
<circle cx="401.4" cy="100.5"/>
<circle cx="400.3" cy="83.2"/>
<circle cx="556.4" cy="75.8"/>
<circle cx="501" cy="116"/>
<circle cx="587.3" cy="84.8"/>
<circle cx="640" cy="94.1"/>
<circle cx="611.5" cy="87.3"/>
<circle cx="486.1" cy="100.6"/>
<circle cx="596.9" cy="99.9"/>
<circle cx="418.4" cy="87"/>
<circle cx="467.5" cy="89.2"/>
<circle cx="408.5" cy="101"/>
<circle cx="415.9" cy="84.7"/>
<circle cx="380" cy="102.3"/>
<circle cx="557.3" cy="77.3"/>
<circle cx="652.2" cy="115.7"/>
<circle cx="593.7" cy="105.1"/>
<circle cx="580.1" cy="71.9"/>
<circle cx="454.3" cy="85.8"/>
<circle cx="380.8" cy="99.9"/>
<circle cx="547.3" cy="86"/>
<circle cx="593.2" cy="84.1"/>
<circle cx="456.6" cy="84.7"/>
<circle cx="443.3" cy="107.3"/>
<circle cx="517.7" cy="101"/>
<circle cx="628.2" cy="97"/>
<circle cx="480.1" cy="114.4"/>
<circle cx="397.9" cy="87.2"/>
<circle cx="633.2" cy="97.7"/>
<circle cx="477.9" cy="108.7"/>
<circle cx="596" cy="101.2"/>
<circle cx="452.4" cy="99.1"/>
<circle cx="566.2" cy="106.1"/>
<circle cx="524.4" cy="111.4"/>
<circle cx="585" cy="78.1"/>
<circle cx="543.6" cy="80.9"/>
<circle cx="555" cy="84.7"/>
<circle cx="666.2" cy="94"/>
<circle cx="605.4" cy="106.6"/>
<circle cx="483.6" cy="99.6"/>
<circle cx="442.5" cy="88.4"/>
<circle cx="502.9" cy="100.8"/>
<circle cx="523" cy="80.1"/>
<circle cx="564.2" cy="91.3"/>
<circle cx="528" cy="89.1"/>
<circle cx="627.9" cy="96.4"/>
<circle cx="567.9" cy="90.7"/>
<circle cx="491.9" cy="90.4"/>
<circle cx="572.9" cy="88.3"/>
<circle cx="394.8" cy="81"/>
<circle cx="390.1" cy="76.3"/>
<circle cx="479.5" cy="95.3"/>
<circle cx="507.9" cy="82.8"/>
<circle cx="442.6" cy="90.7"/>
<circle cx="459.4" cy="88.6"/>
<circle cx="518.2" cy="102.3"/>
<circle cx="392.3" cy="75.2"/>
<circle cx="505.4" cy="109.7"/>
<circle cx="559.2" cy="85.9"/>
<circle cx="658.8" cy="101.7"/>
<circle cx="615.8" cy="106.9"/>
<circle cx="385.9" cy="86.5"/>
<circle cx="605.7" cy="88.8"/>
<circle cx="637.7" cy="75.9"/>
<circle cx="648.7" cy="98.2"/>
<circle cx="494.8" cy="106.4"/>
<circle cx="531" cy="89.5"/>
<circle cx="428.4" cy="108.7"/>
<circle cx="417.2" cy="82.9"/>
<circle cx="400.3" cy="75"/>
<circle cx="461.3" cy="83.9"/>
<circle cx="511.7" cy="85.9"/>
<circle cx="379.8" cy="94.3"/>
<circle cx="458.2" cy="87.7"/>
<circle cx="532.7" cy="85.2"/>
<circle cx="390.4" cy="111.4"/>
<circle cx="658.5" cy="88.6"/>
<circle cx="567.2" cy="94"/>
<circle cx="447.2" cy="93.6"/>
<circle cx="452.1" cy="84.5"/>
<circle cx="507" cy="79.1"/>
<circle cx="441.7" cy="115"/>
<circle cx="599.6" cy="86.9"/>
<circle cx="665.8" cy="93.5"/>
<circle cx="623.3" cy="83.6"/>
<circle cx="635.9" cy="88.1"/>
<circle cx="629.3" cy="77.8"/>
<circle cx="489.8" cy="88"/>
<circle cx="603" cy="108.1"/>
<circle cx="414.1" cy="86.7"/>
<circle cx="425" cy="91.7"/>
<circle cx="412.5" cy="76.2"/>
<circle cx="462.7" cy="93.7"/>
<circle cx="638.9" cy="96.8"/>
<circle cx="596.9" cy="86.9"/>
<circle cx="468.5" cy="93.9"/>
<circle cx="442.5" cy="78.6"/>
<circle cx="455" cy="111.9"/>
<circle cx="389.4" cy="90.7"/>
<circle cx="442.3" cy="103"/>
<circle cx="385.6" cy="95.3"/>
<circle cx="586.4" cy="87.2"/>
<circle cx="416.4" cy="108.7"/>
<circle cx="380.1" cy="112"/>
<circle cx="613.7" cy="109.1"/>
<circle cx="627.5" cy="85.2"/>
<circle cx="557.5" cy="89.6"/>
<circle cx="545.5" cy="86.6"/>
<circle cx="624.3" cy="83.1"/>
<circle cx="538.5" cy="77.3"/>
<circle cx="391.6" cy="108.6"/>
<circle cx="478.8" cy="95.4"/>
<circle cx="662.6" cy="103.9"/>
<circle cx="419.9" cy="93.5"/>
<circle cx="515.7" cy="95.2"/>
<circle cx="454.2" cy="86.7"/>
<circle cx="650.6" cy="97.5"/>
<circle cx="535.5" cy="98.8"/>
<circle cx="594.4" cy="82.6"/>
<circle cx="603.3" cy="91.8"/>
<circle cx="418.5" cy="83.4"/>
<circle cx="664.1" cy="108.8"/>
<circle cx="638.6" cy="90.4"/>
<circle cx="560.5" cy="87"/>
<circle cx="589.3" cy="92.9"/>
<circle cx="479" cy="114.9"/>
<circle cx="520.9" cy="76.9"/>
<circle cx="612.5" cy="80.4"/>
<circle cx="456.3" cy="93.5"/>
<circle cx="436.4" cy="91.3"/>
<circle cx="503.1" cy="93.6"/>
<circle cx="565.1" cy="98.3"/>
<circle cx="389.2" cy="81.7"/>
<circle cx="408.6" cy="84.2"/>
<circle cx="508.1" cy="107.3"/>
<circle cx="378.6" cy="106.6"/>
<circle cx="420" cy="101.8"/>
<circle cx="622.5" cy="115"/>
<circle cx="542.8" cy="76.9"/>
<circle cx="458.5" cy="93.3"/>
<circle cx="571.7" cy="113.8"/>
<circle cx="630.7" cy="75.7"/>
<circle cx="412.1" cy="96.4"/>
<circle cx="435.1" cy="96"/>
<circle cx="523.3" cy="92.8"/>
<circle cx="476.6" cy="111.9"/>
<circle cx="460.3" cy="91.4"/>
<circle cx="421.8" cy="89.8"/>
<circle cx="413.3" cy="95.8"/>
<circle cx="380.5" cy="88.2"/>
<circle cx="610.7" cy="107.4"/>
<circle cx="473.8" cy="104.8"/>
<circle cx="611.3" cy="98.1"/>
<circle cx="556" cy="101.6"/>
<circle cx="467.9" cy="91.7"/>
<circle cx="449.4" cy="83.4"/>
<circle cx="524.5" cy="92.5"/>
<circle cx="430.3" cy="94.3"/>
<circle cx="381.7" cy="87.4"/>
<circle cx="420.1" cy="96.8"/>
<circle cx="611.8" cy="93.7"/>
<circle cx="562.7" cy="87.8"/>
<circle cx="396.3" cy="101.1"/>
<circle cx="598.3" cy="81.7"/>
<circle cx="465.3" cy="102"/>
<circle cx="580.8" cy="76.2"/>
<circle cx="487.7" cy="89.3"/>
<circle cx="534" cy="105.1"/>
<circle cx="417.3" cy="85.4"/>
<circle cx="644.2" cy="83.8"/>
<circle cx="426.1" cy="108.8"/>
<circle cx="556.9" cy="89.8"/>
<circle cx="508.5" cy="78.8"/>
<circle cx="561.9" cy="82.7"/>
<circle cx="503.5" cy="111.6"/>
<circle cx="519.5" cy="87.4"/>
<circle cx="477.5" cy="93.5"/>
<circle cx="555.1" cy="99.8"/>
<circle cx="408.2" cy="74.5"/>
<circle cx="490" cy="82.9"/>
<circle cx="549.5" cy="79.7"/>
<circle cx="521.9" cy="90.2"/>
<circle cx="659" cy="90.8"/>
<circle cx="451.1" cy="86.4"/>
<circle cx="567.2" cy="81.8"/>
<circle cx="445.2" cy="100.6"/>
<circle cx="529.3" cy="77.6"/>
<circle cx="621.9" cy="77.5"/>
<circle cx="461.1" cy="96.9"/>
<circle cx="508" cy="103"/>
<circle cx="417.8" cy="96.5"/>
<circle cx="426.8" cy="94.8"/>
<circle cx="578.8" cy="101.4"/>
<circle cx="406" cy="75.3"/>
<circle cx="433.2" cy="100.4"/>
<circle cx="383.8" cy="113.2"/>
<circle cx="379.8" cy="103.8"/>
<circle cx="609.8" cy="88.6"/>
<circle cx="612.7" cy="82.5"/>
<circle cx="601" cy="95.2"/>
<circle cx="623.4" cy="103.3"/>
<circle cx="604.5" cy="108"/>
<circle cx="448.8" cy="78.1"/>
<circle cx="424.6" cy="106.5"/>
<circle cx="525.9" cy="90.8"/>
<circle cx="512.8" cy="76.6"/>
<circle cx="645.2" cy="95.9"/>
<circle cx="545.6" cy="90.6"/>
<circle cx="633.1" cy="88.9"/>
<circle cx="532" cy="104"/>
<circle cx="417.8" cy="105"/>
<circle cx="557" cy="84.9"/>
<circle cx="417.9" cy="90.6"/>
<circle cx="460.3" cy="82.8"/>
<circle cx="615.5" cy="102.3"/>
<circle cx="637.5" cy="101.6"/>
<circle cx="493.2" cy="110.9"/>
<circle cx="444.7" cy="84.6"/>
<circle cx="511.5" cy="98.4"/>
<circle cx="403.5" cy="76.1"/>
<circle cx="646.8" cy="80.4"/>
<circle cx="591.5" cy="91.4"/>
<circle cx="655.1" cy="108.6"/>
<circle cx="510.2" cy="93.2"/>
<circle cx="578.2" cy="79.1"/>
<circle cx="380.2" cy="115.5"/>
<circle cx="533.4" cy="104.1"/>
<circle cx="531.8" cy="77.7"/>
<circle cx="404.6" cy="81.1"/>
<circle cx="656.7" cy="106.8"/>
<circle cx="460" cy="93.8"/>
<circle cx="657.5" cy="95.7"/>
<circle cx="467.1" cy="97.1"/>
<circle cx="423.8" cy="100.5"/>
<circle cx="395.5" cy="91.2"/>
<circle cx="407" cy="75.4"/>
<circle cx="595.2" cy="92.6"/>
<circle cx="421.2" cy="91.4"/>
<circle cx="634" cy="84.9"/>
<circle cx="636.2" cy="94.7"/>
<circle cx="512.9" cy="96.2"/>
<circle cx="477.6" cy="113"/>
<circle cx="454.1" cy="85"/>
<circle cx="517" cy="104.2"/>
<circle cx="600.2" cy="98.5"/>
<circle cx="375.1" cy="106.3"/>
<circle cx="641" cy="80.9"/>
<circle cx="431.9" cy="96.4"/>
<circle cx="412.5" cy="78.2"/>
<circle cx="521.2" cy="99.1"/>
<circle cx="510.3" cy="92.9"/>
<circle cx="575.3" cy="104.9"/>
<circle cx="658.8" cy="102.7"/>
<circle cx="519.7" cy="77.3"/>
<circle cx="460.6" cy="87.2"/>
<circle cx="654.9" cy="102.9"/>
<circle cx="412" cy="84.3"/>
<circle cx="497.8" cy="97.4"/>
<circle cx="659.2" cy="91.3"/>
<circle cx="578.8" cy="84.7"/>
<circle cx="638.8" cy="90.6"/>
<circle cx="598.6" cy="95.5"/>
<circle cx="584.9" cy="100.5"/>
<circle cx="488.6" cy="91.2"/>
<circle cx="555.9" cy="99.7"/>
<circle cx="547.8" cy="85.9"/>
<circle cx="517.4" cy="91.5"/>
<circle cx="486" cy="87.4"/>
<circle cx="393.5" cy="76.6"/>
<circle cx="420" cy="79.5"/>
<circle cx="483.4" cy="114.4"/>
<circle cx="491.6" cy="110.8"/>
<circle cx="575.8" cy="111.2"/>
<circle cx="565" cy="113.1"/>
<circle cx="609.8" cy="79.9"/>
<circle cx="375.3" cy="113.9"/>
<circle cx="474.1" cy="102.1"/>
<circle cx="653.2" cy="115.2"/>
<circle cx="527.9" cy="85.1"/>
<circle cx="547.1" cy="99"/>
<circle cx="401.9" cy="103.9"/>
<circle cx="375.6" cy="92.4"/>
<circle cx="621.1" cy="108.6"/>
<circle cx="626.4" cy="107.2"/>
<circle cx="507.5" cy="89.7"/>
<circle cx="514.4" cy="91.8"/>
<circle cx="438" cy="88.6"/>
<circle cx="514.6" cy="76.4"/>
<circle cx="541.7" cy="77.2"/>
<circle cx="538" cy="77.1"/>
<circle cx="428.6" cy="100.9"/>
<circle cx="596.6" cy="115.3"/>
<circle cx="598.3" cy="105.7"/>
<circle cx="501.8" cy="93.2"/>
<circle cx="534.3" cy="113.9"/>
<circle cx="622.4" cy="74.3"/>
<circle cx="576.2" cy="99"/>
<circle cx="634.9" cy="111.2"/>
<circle cx="490.3" cy="90.1"/>
<circle cx="443.3" cy="82.9"/>
<circle cx="631.2" cy="100.6"/>
<circle cx="617.2" cy="85.5"/>
<circle cx="597.7" cy="78.4"/>
<circle cx="520.2" cy="84.7"/>
<circle cx="462.3" cy="115.4"/>
<circle cx="375.4" cy="113.6"/>
<circle cx="569.8" cy="115.5"/>
<circle cx="493" cy="110.1"/>
<circle cx="535.7" cy="93.9"/>
<circle cx="558" cy="82.6"/>
<circle cx="551.5" cy="80.1"/>
<circle cx="384" cy="102.8"/>
<circle cx="382.3" cy="111.7"/>
<circle cx="440.7" cy="110.6"/>
<circle cx="464.4" cy="103.1"/>
<circle cx="473.5" cy="103.3"/>
<circle cx="427.2" cy="96.6"/>
<circle cx="452.5" cy="114.9"/>
<circle cx="638.1" cy="85.8"/>
<circle cx="654.5" cy="112.4"/>
<circle cx="416.1" cy="94.9"/>
<circle cx="436.6" cy="88"/>
<circle cx="463.5" cy="88.4"/>
<circle cx="545.9" cy="81.4"/>
<circle cx="471.5" cy="87.8"/>
<circle cx="452.6" cy="103.5"/>
<circle cx="458.4" cy="114.3"/>
<circle cx="406.9" cy="75.1"/>
<circle cx="447.3" cy="92.7"/>
<circle cx="465.3" cy="93.1"/>
<circle cx="593.1" cy="98.6"/>
<circle cx="445" cy="108.8"/>
<circle cx="479.9" cy="100.3"/>
<circle cx="479.8" cy="106.1"/>
<circle cx="543.5" cy="90.8"/>
<circle cx="424.9" cy="91.9"/>
<circle cx="450.8" cy="107.1"/>
<circle cx="645" cy="90.4"/>
<circle cx="395.7" cy="80.3"/>
<circle cx="647.9" cy="83.4"/>
<circle cx="496.2" cy="80.3"/>
<circle cx="519.5" cy="85.7"/>
<circle cx="662" cy="115.1"/>
<circle cx="521.6" cy="106"/>
<circle cx="571.5" cy="89.2"/>
<circle cx="599.8" cy="78.8"/>
<circle cx="423.7" cy="108.6"/>
<circle cx="525.8" cy="98.5"/>
<circle cx="551.3" cy="106.2"/>
<circle cx="448.1" cy="82"/>
<circle cx="459" cy="109.2"/>
<circle cx="521.8" cy="102.3"/>
<circle cx="600.2" cy="87.3"/>
<circle cx="589.9" cy="104.1"/>
<circle cx="523.6" cy="92"/>
<circle cx="512.1" cy="89.6"/>
<circle cx="436.1" cy="95.6"/>
<circle cx="624.9" cy="81.4"/>
<circle cx="496.6" cy="88.6"/>
<circle cx="461.1" cy="112.1"/>
<circle cx="587.3" cy="75"/>
<circle cx="525.5" cy="85.8"/>
<circle cx="481.3" cy="89.4"/>
<circle cx="550.6" cy="85.8"/>
<circle cx="572.5" cy="78.3"/>
<circle cx="525.8" cy="89"/>
<circle cx="561.3" cy="76.8"/>
<circle cx="604.8" cy="93.3"/>
<circle cx="448" cy="81.8"/>
<circle cx="612.3" cy="78.3"/>
<circle cx="545.9" cy="84.2"/>
<circle cx="474.8" cy="114.3"/>
<circle cx="414.9" cy="79.3"/>
<circle cx="377.8" cy="91.6"/>
<circle cx="396.7" cy="75.9"/>
<circle cx="574.3" cy="112.2"/>
<circle cx="423.7" cy="101.3"/>
<circle cx="656.1" cy="86.4"/>
<circle cx="419.8" cy="91.7"/>
<circle cx="389.7" cy="93.7"/>
<circle cx="618.3" cy="108.3"/>
<circle cx="407.8" cy="92.4"/>
<circle cx="521.8" cy="89.3"/>
<circle cx="428.2" cy="104.1"/>
<circle cx="419" cy="97.7"/>
<circle cx="400.5" cy="74.6"/>
<circle cx="624.4" cy="84.1"/>
<circle cx="494" cy="93.3"/>
<circle cx="514.5" cy="76.4"/>
<circle cx="613.8" cy="114.6"/>
<circle cx="463.2" cy="89.9"/>
<circle cx="455.7" cy="100.2"/>
<circle cx="528.6" cy="93.3"/>
<circle cx="553.2" cy="82.6"/>
<circle cx="526.5" cy="92.3"/>
<circle cx="557.5" cy="96.4"/>
<circle cx="661.3" cy="87.1"/>
<circle cx="523.7" cy="94.7"/>
<circle cx="421.6" cy="91.6"/>
<circle cx="446.3" cy="93.8"/>
<circle cx="579.9" cy="79.4"/>
<circle cx="509.7" cy="82.2"/>
<circle cx="494.2" cy="115.4"/>
<circle cx="633.9" cy="84.9"/>
<circle cx="474.1" cy="89.9"/>
<circle cx="632.4" cy="111"/>
<circle cx="388" cy="90.2"/>
<circle cx="491.4" cy="84.8"/>
<circle cx="568.8" cy="105.3"/>
<circle cx="482.1" cy="115.1"/>
<circle cx="552.5" cy="82.1"/>
<circle cx="574.5" cy="78.2"/>
<circle cx="495.2" cy="95.6"/>
<circle cx="428.4" cy="94.6"/>
<circle cx="485.4" cy="108.2"/>
<circle cx="434" cy="95.2"/>
<circle cx="552.8" cy="80.4"/>
<circle cx="483.9" cy="109.5"/>
<circle cx="605.6" cy="94.6"/>
<circle cx="557.6" cy="75.4"/>
<circle cx="443.5" cy="87.7"/>
<circle cx="391.2" cy="88.7"/>
<circle cx="553.8" cy="97.5"/>
<circle cx="552.3" cy="91.2"/>
<circle cx="619.4" cy="81"/>
<circle cx="461.5" cy="88.4"/>
<circle cx="461" cy="109.3"/>
<circle cx="508" cy="110.6"/>
<circle cx="516.5" cy="87.2"/>
<circle cx="554.6" cy="76.2"/>
<circle cx="514.6" cy="86"/>
<circle cx="515.8" cy="87.8"/>
<circle cx="568.5" cy="96.7"/>
<circle cx="374.8" cy="96.4"/>
<circle cx="496" cy="88.6"/>
<circle cx="428.8" cy="109.5"/>
<circle cx="426.8" cy="97.1"/>
<circle cx="470.1" cy="111.6"/>
<circle cx="514.7" cy="80.1"/>
<circle cx="436.7" cy="86.8"/>
<circle cx="614.7" cy="78.1"/>
<circle cx="445.3" cy="101.1"/>
<circle cx="399.6" cy="93.8"/>
<circle cx="619.8" cy="88.4"/>
<circle cx="578" cy="90.7"/>
<circle cx="632.3" cy="113.8"/>
<circle cx="547.5" cy="100.2"/>
<circle cx="580.5" cy="104.4"/>
<circle cx="493.4" cy="98.4"/>
<circle cx="495.7" cy="107.8"/>
<circle cx="613.8" cy="87"/>
<circle cx="533.2" cy="115.1"/>
<circle cx="589.1" cy="82.2"/>
<circle cx="514.9" cy="78"/>
<circle cx="453.2" cy="105.1"/>
<circle cx="426.7" cy="104.3"/>
<circle cx="596.4" cy="113.1"/>
<circle cx="499.1" cy="79.8"/>
<circle cx="497.7" cy="98.4"/>
<circle cx="596.9" cy="107.6"/>
<circle cx="393.7" cy="88"/>
<circle cx="587.8" cy="81.7"/>
<circle cx="611.6" cy="114.9"/>
<circle cx="470.7" cy="99.9"/>
<circle cx="388.2" cy="98.5"/>
<circle cx="652.9" cy="104.8"/>
<circle cx="469.7" cy="112.2"/>
<circle cx="375.4" cy="97.7"/>
<circle cx="392.2" cy="87.2"/>
<circle cx="453.5" cy="81.9"/>
<circle cx="630.9" cy="104.3"/>
<circle cx="530.8" cy="80.1"/>
<circle cx="523.6" cy="82"/>
<circle cx="534.9" cy="98"/>
<circle cx="650.6" cy="86.9"/>
<circle cx="452.4" cy="82.4"/>
<circle cx="650.3" cy="105.8"/>
<circle cx="477.1" cy="96.9"/>
<circle cx="614.5" cy="95.5"/>
<circle cx="546.1" cy="87.6"/>
<circle cx="547.9" cy="75.4"/>
<circle cx="425.5" cy="110.1"/>
<circle cx="644.3" cy="95.5"/>
<circle cx="567.1" cy="88.3"/>
<circle cx="479.7" cy="100.6"/>
<circle cx="603" cy="110.4"/>
<circle cx="448.8" cy="90.5"/>
<circle cx="503.3" cy="102.4"/>
<circle cx="629.4" cy="114.1"/>
<circle cx="570.2" cy="94.7"/>
<circle cx="407.3" cy="76"/>
<circle cx="380.8" cy="99.2"/>
<circle cx="543.1" cy="76.5"/>
<circle cx="632.8" cy="98.1"/>
<circle cx="575.8" cy="80.5"/>
<circle cx="463.1" cy="97.4"/>
<circle cx="472" cy="98"/>
<circle cx="565.5" cy="94.6"/>
<circle cx="469.5" cy="115.7"/>
<circle cx="449" cy="94.2"/>
<circle cx="486.3" cy="79.8"/>
<circle cx="477.6" cy="102.9"/>
<circle cx="628.7" cy="86.1"/>
<circle cx="421" cy="98.7"/>
<circle cx="388.7" cy="91.6"/>
<circle cx="408.5" cy="98.6"/>
<circle cx="596.6" cy="103.7"/>
<circle cx="474.6" cy="106.9"/>
<circle cx="524.8" cy="82.2"/>
<circle cx="581.3" cy="77.9"/>
<circle cx="652.2" cy="106.6"/>
<circle cx="377.7" cy="101.9"/>
<circle cx="506.7" cy="79.3"/>
<circle cx="512.7" cy="94.9"/>
<circle cx="381.9" cy="86"/>
<circle cx="598.6" cy="84.8"/>
<circle cx="627.4" cy="86.1"/>
<circle cx="567.2" cy="86.1"/>
<circle cx="379.6" cy="101.1"/>
<circle cx="459.5" cy="97.2"/>
<circle cx="579.4" cy="90.4"/>
<circle cx="429.8" cy="95.5"/>
<circle cx="616.6" cy="109.8"/>
<circle cx="472.8" cy="100.6"/>
<circle cx="655.7" cy="85.6"/>
<circle cx="522.3" cy="103.4"/>
<circle cx="565.5" cy="93.5"/>
<circle cx="605.7" cy="88.2"/>
<circle cx="440" cy="86.7"/>
<circle cx="466.8" cy="94.5"/>
<circle cx="409.7" cy="105.9"/>
<circle cx="563.1" cy="99.2"/>
<circle cx="566.9" cy="102.3"/>
<circle cx="505.1" cy="84.9"/>
<circle cx="438.5" cy="81.4"/>
<circle cx="657" cy="101.4"/>
<circle cx="560.1" cy="94.9"/>
<circle cx="500.7" cy="93.4"/>
<circle cx="386.4" cy="101"/>
<circle cx="499.4" cy="80.5"/>
<circle cx="650" cy="94.7"/>
<circle cx="379.1" cy="88.3"/>
<circle cx="468.2" cy="96.2"/>
<circle cx="374.7" cy="93"/>
<circle cx="567.6" cy="97.3"/>
<circle cx="473.9" cy="104.3"/>
<circle cx="417.2" cy="75.2"/>
<circle cx="380.6" cy="86.5"/>
<circle cx="614.9" cy="86.4"/>
<circle cx="639.5" cy="100.7"/>
<circle cx="608.7" cy="114"/>
<circle cx="564.5" cy="97.9"/>
<circle cx="611.8" cy="98.7"/>
<circle cx="499.5" cy="99.6"/>
<circle cx="398.8" cy="103.1"/>
<circle cx="392.9" cy="112.3"/>
<circle cx="571.2" cy="112"/>
<circle cx="561.4" cy="87.2"/>
<circle cx="521.3" cy="89.3"/>
<circle cx="401.9" cy="105.6"/>
<circle cx="424" cy="92.6"/>
<circle cx="470.5" cy="102.8"/>
<circle cx="494.3" cy="86.7"/>
<circle cx="545.4" cy="84.4"/>
<circle cx="427.6" cy="109.1"/>
<circle cx="507" cy="99.8"/>
<circle cx="382.8" cy="115"/>
<circle cx="427.5" cy="102.8"/>
<circle cx="425.4" cy="97.2"/>
<circle cx="602.2" cy="93.1"/>
<circle cx="661.7" cy="86.9"/>
<circle cx="630.2" cy="109.8"/>
<circle cx="469.2" cy="111.8"/>
<circle cx="455" cy="101.6"/>
<circle cx="471" cy="97.4"/>
<circle cx="558.4" cy="106.7"/>
<circle cx="469.1" cy="86.1"/>
<circle cx="456.4" cy="103.5"/>
<circle cx="473.7" cy="96.2"/>
<circle cx="565.7" cy="87.3"/>
<circle cx="632.6" cy="86.4"/>
<circle cx="515.8" cy="108.1"/>
<circle cx="390.3" cy="86.4"/>
<circle cx="570.7" cy="97.2"/>
<circle cx="503.3" cy="90.4"/>
<circle cx="640" cy="109.7"/>
<circle cx="377.2" cy="85.4"/>
<circle cx="476.4" cy="95.2"/>
<circle cx="579.6" cy="75.3"/>
<circle cx="506.6" cy="106.9"/>
<circle cx="409.7" cy="80.4"/>
<circle cx="478" cy="100.7"/>
<circle cx="649.7" cy="85.7"/>
<circle cx="507.5" cy="96.1"/>
<circle cx="614.7" cy="111.1"/>
<circle cx="637.6" cy="78.6"/>
<circle cx="384.3" cy="92"/>
<circle cx="502" cy="96.7"/>
<circle cx="650.1" cy="83.6"/>
<circle cx="656.9" cy="102.5"/>
<circle cx="413.8" cy="98"/>
<circle cx="410" cy="76.3"/>
<circle cx="566.9" cy="78.9"/>
<circle cx="568.5" cy="87.9"/>
<circle cx="569.1" cy="84.2"/>
<circle cx="553.5" cy="77.9"/>
<circle cx="626.3" cy="103.4"/>
<circle cx="480.7" cy="102.5"/>
<circle cx="401.9" cy="95.5"/>
<circle cx="444.2" cy="113.5"/>
<circle cx="409.4" cy="75.1"/>
<circle cx="634.9" cy="97.8"/>
<circle cx="555.7" cy="77.6"/>
<circle cx="503.4" cy="101.6"/>
<circle cx="395.3" cy="103.6"/>
<circle cx="547.4" cy="78.7"/>
<circle cx="526.8" cy="88.1"/>
<circle cx="607.7" cy="94.8"/>
<circle cx="618.7" cy="101.6"/>
<circle cx="520.3" cy="81.2"/>
<circle cx="664.2" cy="92.5"/>
<circle cx="558.6" cy="105.9"/>
<circle cx="428.9" cy="93.7"/>
<circle cx="605" cy="101.6"/>
<circle cx="421.8" cy="90.4"/>
<circle cx="555.5" cy="93.3"/>
<circle cx="623.1" cy="89.2"/>
<circle cx="429.6" cy="108.2"/>
<circle cx="495.9" cy="85.5"/>
<circle cx="415.8" cy="81.3"/>
<circle cx="410.9" cy="78.6"/>
<circle cx="525.8" cy="78.7"/>
<circle cx="426.7" cy="106.4"/>
<circle cx="427.1" cy="107.9"/>
<circle cx="380.4" cy="89.9"/>
<circle cx="417.8" cy="91.6"/>
<circle cx="516.5" cy="101.6"/>
<circle cx="501.7" cy="107.4"/>
<circle cx="391.6" cy="94.4"/>
<circle cx="391.8" cy="84.9"/>
<circle cx="639.7" cy="82.6"/>
<circle cx="392.2" cy="114.7"/>
<circle cx="378.2" cy="98.8"/>
<circle cx="418.1" cy="94.4"/>
<circle cx="615.5" cy="81"/>
<circle cx="643.3" cy="99.8"/>
<circle cx="409.8" cy="79.6"/>
<circle cx="488.7" cy="104.4"/>
<circle cx="627.4" cy="79.2"/>
<circle cx="628.8" cy="94.7"/>
<circle cx="384.7" cy="96.1"/>
<circle cx="456.8" cy="97.3"/>
<circle cx="601.1" cy="80.9"/>
<circle cx="397.2" cy="76.3"/>
<circle cx="531.5" cy="100.9"/>
<circle cx="453.4" cy="101.5"/>
<circle cx="628.8" cy="89.4"/>
<circle cx="402.6" cy="74.9"/>
<circle cx="405.7" cy="101.1"/>
<circle cx="613" cy="78.2"/>
<circle cx="560.4" cy="110.5"/>
<circle cx="461.4" cy="113.8"/>
<circle cx="603.9" cy="82.9"/>
<circle cx="429.1" cy="110.4"/>
<circle cx="459.7" cy="83.4"/>
<circle cx="379.3" cy="101.4"/>
<circle cx="573.5" cy="79.8"/>
<circle cx="639.9" cy="86.3"/>
<circle cx="447.4" cy="83.9"/>
<circle cx="565" cy="102.1"/>
<circle cx="625.1" cy="75.9"/>
<circle cx="559.3" cy="84.6"/>
<circle cx="399.5" cy="96.7"/>
<circle cx="424.3" cy="90.6"/>
<circle cx="658.5" cy="84.4"/>
<circle cx="516.2" cy="87.3"/>
<circle cx="425.8" cy="115.4"/>
<circle cx="393.5" cy="76.5"/>
<circle cx="468.4" cy="99"/>
<circle cx="538.4" cy="99.6"/>
<circle cx="542.7" cy="89.7"/>
<circle cx="661.4" cy="86.7"/>
<circle cx="511.4" cy="85.1"/>
<circle cx="660.5" cy="96"/>
<circle cx="520.6" cy="103.5"/>
<circle cx="663.3" cy="102.1"/>
<circle cx="385.7" cy="85.5"/>
<circle cx="411.9" cy="75.6"/>
<circle cx="384.9" cy="113.3"/>
<circle cx="494" cy="102.5"/>
<circle cx="450.9" cy="82.7"/>
<circle cx="662.2" cy="86.4"/>
<circle cx="627.6" cy="75.6"/>
<circle cx="514.3" cy="89.1"/>
<circle cx="539.8" cy="95.2"/>
<circle cx="411.5" cy="107.5"/>
<circle cx="433.9" cy="89.8"/>
<circle cx="389.5" cy="81.2"/>
<circle cx="545.5" cy="89.9"/>
<circle cx="653.3" cy="106.8"/>
<circle cx="478.3" cy="93.9"/>
<circle cx="521.6" cy="83.5"/>
<circle cx="479.4" cy="102.7"/>
<circle cx="440.2" cy="112.7"/>
<circle cx="632.8" cy="97.2"/>
<circle cx="585" cy="115.7"/>
<circle cx="514.5" cy="88.2"/>
<circle cx="564.2" cy="102.7"/>
<circle cx="503.2" cy="83.9"/>
<circle cx="665.8" cy="104.4"/>
<circle cx="572.2" cy="77.4"/>
<circle cx="494" cy="97.2"/>
<circle cx="629.4" cy="83"/>
<circle cx="400.1" cy="99.8"/>
<circle cx="625.7" cy="91.9"/>
<circle cx="582.9" cy="82"/>
<circle cx="467.3" cy="86.6"/>
<circle cx="404.7" cy="103.4"/>
<circle cx="613.4" cy="95"/>
<circle cx="534.2" cy="91.6"/>
<circle cx="608.2" cy="80.1"/>
<circle cx="437.7" cy="82.4"/>
<circle cx="661.6" cy="96.2"/>
<circle cx="581" cy="81"/>
<circle cx="611.5" cy="103.8"/>
<circle cx="490.2" cy="115.8"/>
<circle cx="662.6" cy="105.2"/>
<circle cx="474.2" cy="113.4"/>
<circle cx="657.2" cy="97.5"/>
<circle cx="480" cy="101.9"/>
<circle cx="467.3" cy="86.6"/>
<circle cx="463.2" cy="92.5"/>
<circle cx="515.5" cy="92.6"/>
<circle cx="645.4" cy="98.8"/>
<circle cx="506.3" cy="91.9"/>
<circle cx="606.4" cy="97.5"/>
<circle cx="496.7" cy="88.7"/>
<circle cx="591" cy="98.2"/>
<circle cx="475.8" cy="90"/>
<circle cx="423.7" cy="88.3"/>
<circle cx="584.3" cy="105.3"/>
<circle cx="541.3" cy="76.3"/>
<circle cx="477.9" cy="92.2"/>
<circle cx="402.9" cy="94.8"/>
<circle cx="624.4" cy="105.8"/>
<circle cx="611.6" cy="84.6"/>
<circle cx="589" cy="84.2"/>
<circle cx="475.9" cy="106.4"/>
<circle cx="380.2" cy="99.2"/>
<circle cx="467.3" cy="95.4"/>
<circle cx="441.3" cy="83.4"/>
<circle cx="656.4" cy="94.2"/>
<circle cx="436.5" cy="98.4"/>
<circle cx="632.2" cy="89.7"/>
<circle cx="545.5" cy="105.1"/>
<circle cx="632.9" cy="88.7"/>
<circle cx="539.7" cy="79.6"/>
<circle cx="419.9" cy="113.6"/>
<circle cx="445.2" cy="93.8"/>
<circle cx="438.3" cy="81.3"/>
<circle cx="446.2" cy="111.1"/>
<circle cx="460.9" cy="111.3"/>
<circle cx="566.9" cy="109.8"/>
<circle cx="509.9" cy="77.1"/>
<circle cx="418.6" cy="76.1"/>
<circle cx="411.9" cy="75.6"/>
<circle cx="445.6" cy="92"/>
<circle cx="569" cy="80.5"/>
<circle cx="494.6" cy="102.1"/>
<circle cx="405.4" cy="98.7"/>
<circle cx="399.5" cy="75"/>
<circle cx="601.2" cy="93.7"/>
<circle cx="550.5" cy="83.7"/>
<circle cx="418.9" cy="92.7"/>
<circle cx="464.3" cy="115.4"/>
<circle cx="606.9" cy="109.7"/>
<circle cx="426.8" cy="99.2"/>
<circle cx="485.3" cy="83.6"/>
<circle cx="514.9" cy="95.2"/>
<circle cx="461.2" cy="86.9"/>
<circle cx="382.6" cy="87.7"/>
<circle cx="517.2" cy="115.3"/>
<circle cx="583" cy="79.2"/>
<circle cx="452.2" cy="82.5"/>
<circle cx="630.5" cy="74.2"/>
<circle cx="640.9" cy="103.3"/>
<circle cx="461.6" cy="97.4"/>
<circle cx="407.2" cy="98.9"/>
<circle cx="405.1" cy="113.8"/>
<circle cx="495.2" cy="97.8"/>
<circle cx="656.4" cy="110.7"/>
<circle cx="614.7" cy="96.8"/>
<circle cx="483.8" cy="97.5"/>
<circle cx="595.1" cy="86.5"/>
<circle cx="649.4" cy="98.1"/>
<circle cx="645.5" cy="83.4"/>
<circle cx="519.4" cy="91.5"/>
<circle cx="461.3" cy="97.4"/>
<circle cx="520.2" cy="86.3"/>
<circle cx="488.7" cy="85.3"/>
<circle cx="389.1" cy="88.9"/>
<circle cx="571.9" cy="78.6"/>
<circle cx="636.8" cy="77.8"/>
<circle cx="405.3" cy="75.7"/>
<circle cx="611.5" cy="82.8"/>
<circle cx="392.5" cy="98.6"/>
<circle cx="444.8" cy="87.5"/>
<circle cx="542" cy="83.6"/>
<circle cx="632.9" cy="87"/>
<circle cx="559.4" cy="97.4"/>
<circle cx="534.9" cy="101.5"/>
<circle cx="461.8" cy="86.8"/>
<circle cx="507.2" cy="106.3"/>
<circle cx="513.8" cy="90.2"/>
<circle cx="636.3" cy="105.9"/>
<circle cx="652.2" cy="102.2"/>
<circle cx="572.3" cy="87.5"/>
<circle cx="443.2" cy="107.8"/>
<circle cx="566.4" cy="114.1"/>
<circle cx="444.5" cy="111.3"/>
<circle cx="435.1" cy="102.5"/>
<circle cx="502.1" cy="106.5"/>
<circle cx="553.8" cy="83.7"/>
<circle cx="609.9" cy="82.9"/>
<circle cx="588.8" cy="96.2"/>
<circle cx="592.1" cy="108.1"/>
<circle cx="414.9" cy="107.8"/>
<circle cx="595" cy="104.8"/>
<circle cx="656.7" cy="98.3"/>
<circle cx="602.4" cy="92.2"/>
<circle cx="650.4" cy="94.2"/>
<circle cx="530.8" cy="76.1"/>
<circle cx="494.5" cy="81.6"/>
<circle cx="376.8" cy="96.3"/>
<circle cx="395.6" cy="77.5"/>
<circle cx="656.8" cy="87.5"/>
<circle cx="472.8" cy="104.4"/>
<circle cx="384.9" cy="108.8"/>
<circle cx="513.2" cy="77.8"/>
<circle cx="402.7" cy="83.8"/>
<circle cx="567.8" cy="91.2"/>
<circle cx="464.3" cy="85"/>
<circle cx="585.3" cy="79.4"/>
<circle cx="506.9" cy="89.7"/>
<circle cx="541.3" cy="112.1"/>
<circle cx="608.1" cy="109.3"/>
<circle cx="454.2" cy="98.5"/>
<circle cx="571.8" cy="101.8"/>
<circle cx="496.3" cy="111.3"/>
<circle cx="515.2" cy="108.5"/>
<circle cx="512.9" cy="100.1"/>
<circle cx="439.2" cy="84.4"/>
<circle cx="532" cy="96.1"/>
<circle cx="522.3" cy="106.5"/>
<circle cx="625.9" cy="87.3"/>
<circle cx="396.1" cy="85.8"/>
<circle cx="421.1" cy="106.8"/>
<circle cx="453.2" cy="99.3"/>
<circle cx="586.6" cy="87.1"/>
<circle cx="631.9" cy="85.2"/>
<circle cx="510.7" cy="112.4"/>
<circle cx="430.9" cy="106.2"/>
<circle cx="383.9" cy="87.9"/>
<circle cx="517.5" cy="111.2"/>
<circle cx="628.9" cy="102.9"/>
<circle cx="414.4" cy="93.2"/>
<circle cx="457" cy="84.3"/>
<circle cx="590.6" cy="105.7"/>
<circle cx="502.6" cy="95.5"/>
<circle cx="475.7" cy="94.2"/>
<circle cx="398" cy="101"/>
<circle cx="585.6" cy="80.9"/>
<circle cx="460.2" cy="115.4"/>
<circle cx="438" cy="93.2"/>
<circle cx="395.6" cy="111"/>
<circle cx="595.9" cy="93.6"/>
<circle cx="483.8" cy="88.1"/>
<circle cx="422.6" cy="101.6"/>
<circle cx="509.8" cy="86.8"/>
<circle cx="532.1" cy="81.5"/>
<circle cx="616.4" cy="96.3"/>
<circle cx="412.7" cy="84.9"/>
<circle cx="408.8" cy="90.1"/>
<circle cx="505.7" cy="83.4"/>
<circle cx="661.9" cy="103.1"/>
<circle cx="484.1" cy="99.9"/>
<circle cx="562" cy="77.6"/>
<circle cx="525.2" cy="94.7"/>
<circle cx="462" cy="92.2"/>
<circle cx="564.7" cy="96.5"/>
<circle cx="637" cy="79.5"/>
<circle cx="480.4" cy="110.4"/>
<circle cx="399.8" cy="76.9"/>
<circle cx="393.3" cy="82.7"/>
<circle cx="421" cy="90.1"/>
<circle cx="517.8" cy="82.7"/>
<circle cx="544" cy="99.1"/>
<circle cx="467.7" cy="87.2"/>
<circle cx="662.1" cy="94.7"/>
<circle cx="397.6" cy="77.7"/>
<circle cx="586.6" cy="86.1"/>
<circle cx="648.5" cy="103.2"/>
<circle cx="398.5" cy="101.5"/>
<circle cx="656.6" cy="115.9"/>
<circle cx="623" cy="95.2"/>
<circle cx="643.9" cy="105"/>
<circle cx="497" cy="86"/>
<circle cx="378.5" cy="84.8"/>
<circle cx="491.3" cy="80.8"/>
<circle cx="413" cy="88.3"/>
<circle cx="449.4" cy="113.7"/>
<circle cx="428.7" cy="103"/>
<circle cx="526.5" cy="87.7"/>
<circle cx="605.4" cy="113"/>
<circle cx="618.4" cy="76.5"/>
<circle cx="478.1" cy="96.4"/>
<circle cx="641.2" cy="99.8"/>
<circle cx="483.3" cy="104.1"/>
<circle cx="659.3" cy="85.4"/>
<circle cx="658.9" cy="85.6"/>
<circle cx="377.2" cy="84.1"/>
<circle cx="626.5" cy="83.2"/>
<circle cx="628.5" cy="94.7"/>
<circle cx="389.4" cy="113.7"/>
<circle cx="421.7" cy="113.1"/>
<circle cx="634.7" cy="91.7"/>
<circle cx="397.6" cy="77"/>
<circle cx="442.5" cy="83.2"/>
<circle cx="593.5" cy="83.4"/>
</g>
<defs><filter id="blb" x="-5%" y="-20%" width="110%" height="140%"><feGaussianBlur stdDeviation="2.2"/></filter>
<pattern id="crb" x="369" y="49" width="101" height="70" patternUnits="userSpaceOnUse">
<path d="M45.4 7A2.2 2.2 0 0 1 46.2 9.7M71.1 47.1A2.7 2.7 0 0 1 74.7 44.5M79.1 55.1A2.6 2.6 0 0 1 82.1 52.1M58.3 44A3.3 3.3 0 0 1 53.6 45.8M97.2 68.2A2.3 2.3 0 0 1 98.2 64.8M-3.8 68.2A2.3 2.3 0 0 1 -2.8 64.8M96.9 3.5A3.3 3.3 0 0 1 101.4 3.8M-4.1 3.5A3.3 3.3 0 0 1 0.4 3.8M96 62.2A2.2 2.2 0 0 1 92.9 64.6M9.1 30.9A3.3 3.3 0 0 1 14.1 33.7M76.8 36.4A3.3 3.3 0 0 1 73.3 35.4M31.1 4.8A3.2 3.2 0 0 1 35.5 6.5M51 17.7A3 3 0 0 1 48.6 21.2M68 6.8A3.5 3.5 0 0 1 63.7 5.9M1.8 61.6A3.2 3.2 0 0 1 6 60.9M102.8 61.6A3.2 3.2 0 0 1 107 60.9M91.2 53.3A2.7 2.7 0 0 1 87 55.2M86.8 32.6A2.9 2.9 0 0 1 87.8 35.1M85.5 20.6A3 3 0 0 1 87 23.3M1.9 52.8A2.3 2.3 0 0 1 -0 49.6M102.9 52.8A2.3 2.3 0 0 1 101 49.6M45 41.4A3.2 3.2 0 0 1 41.2 41.2M58.8 41.8A2.9 2.9 0 0 1 54.3 43.3M64.5 3.1A2.9 2.9 0 0 1 64.8 5.8M44.7 22.2A3.3 3.3 0 0 1 41.1 23.4M19 27.1A3.4 3.4 0 0 1 19.3 31.1M10.1 25.8A2.4 2.4 0 0 1 9.4 23.7M61 28.2A2.6 2.6 0 0 1 59.3 30.6M38.6 39.8A3.4 3.4 0 0 1 42.1 35.2M73.8 30.9A2.8 2.8 0 0 1 73.3 34.2M11.8 30.4A2.6 2.6 0 0 1 7.6 32.6M43.6 19A2.6 2.6 0 0 1 46.8 16M100.3 64.3A2.3 2.3 0 0 1 102.3 65.5M-0.7 64.3A2.3 2.3 0 0 1 1.3 65.5M96.1 63.3A2.6 2.6 0 0 1 99 62.7M-4.9 63.3A2.6 2.6 0 0 1 -2 62.7M83.8 13.4A2.5 2.5 0 0 1 85.2 11.2M87.2 58.7A2.5 2.5 0 0 1 90.3 58.1M7.9 13.4A2.6 2.6 0 0 1 6.1 11.8M14.5 43.4A2.4 2.4 0 0 1 17.2 46.7M86.3 53.9A3.3 3.3 0 0 1 85.1 58.9M85.3 2.8A3.5 3.5 0 0 1 88.3 7.9M62 33.9A2.7 2.7 0 0 1 62.2 29.9M41.1 53.2A3.2 3.2 0 0 1 44.8 55.3M0.9 51.7A3.6 3.6 0 0 1 3.6 47.9M101.9 51.7A3.6 3.6 0 0 1 104.6 47.9M27.2 17.4A2.6 2.6 0 0 1 24 20.2M71.6 58.6A2.6 2.6 0 0 1 74.5 57.8M55.4 30.2A3.2 3.2 0 0 1 52.8 33.4M35.7 6.5A2.8 2.8 0 0 1 30.7 6.8M71.8 29.9A3.1 3.1 0 0 1 68 28.9M50.6 32A3.4 3.4 0 0 1 53.6 28.5M16.4 23.2A2.6 2.6 0 0 1 11.8 24M76.9 2.1A2.7 2.7 0 0 1 79.2 3.3M38.8 34.9A3.2 3.2 0 0 1 39.3 40.6M64.1 63.1A2.3 2.3 0 0 1 63.9 60.2M54 55.5A3.1 3.1 0 0 1 49.7 56.9M47.3 18.4A2.3 2.3 0 0 1 45.3 21.6M25.6 35.9A2.7 2.7 0 0 1 26.9 31.9M22.5 18.4A2.9 2.9 0 0 1 24.8 13.9M23.6 35.6A3 3 0 0 1 20.3 35.5M91.9 55.2A2.6 2.6 0 0 1 89.1 58.7M5 58.8A2.5 2.5 0 0 1 5.3 61.2M106 58.8A2.5 2.5 0 0 1 106.3 61.2M27.4 57.6A3.5 3.5 0 0 1 24.5 55.5M18.4 53.9A2.7 2.7 0 0 1 17.1 57.2M10.3 25.2A2.4 2.4 0 0 1 12.4 26.9M70.6 55.9A2.8 2.8 0 0 1 67.2 53M42 29.4A3.1 3.1 0 0 1 39 24.7M64.3 59A2.5 2.5 0 0 1 66.6 58.9M12 7.3A3.1 3.1 0 0 1 7.1 7.3M38.2 63.9A3.6 3.6 0 0 1 33.7 66.3M90.3 54.3A3.4 3.4 0 0 1 95.1 56.5M6.6 34A3.5 3.5 0 0 1 9.6 28.6M94.1 54.4A3 3 0 0 1 91 53.2M5.5 4.2A2.9 2.9 0 0 1 4.3 7.4M106.5 4.2A2.9 2.9 0 0 1 105.3 7.4M95.4 11.6A3.2 3.2 0 0 1 99.2 14.5M77.1 51.4A3.6 3.6 0 0 1 80.9 53M19.2 29.9A2.7 2.7 0 0 1 16.6 33.7M19.8 10.7A3.5 3.5 0 0 1 18.9 16.7M34 52.1A2.4 2.4 0 0 1 36.1 49.4M69.2 16.3A3.3 3.3 0 0 1 69.1 20.1M4.8 51.6A3.5 3.5 0 0 1 2.8 56.5M105.8 51.6A3.5 3.5 0 0 1 103.8 56.5M49.5 33.3A2.3 2.3 0 0 1 48.9 35.8M83 12.6A3.4 3.4 0 0 1 82.4 17.8M74.4 36.2A3.2 3.2 0 0 1 79.3 37.5M7.4 17.5A2.7 2.7 0 0 1 8.6 13.3M34.7 38.9A2.2 2.2 0 0 1 32.9 38.2M25.4 39A2.3 2.3 0 0 1 27.2 36.9M56.2 48.8A2.3 2.3 0 0 1 60 49M2 12.6A3 3 0 0 1 6.1 14.2M103 12.6A3 3 0 0 1 107.1 14.2M2.1 10.5A2.3 2.3 0 0 1 -0.3 9.1M103.1 10.5A2.3 2.3 0 0 1 100.7 9.1M96.6 59.4A3.1 3.1 0 0 1 91.3 60.5M65.2 31.5A2.5 2.5 0 0 1 60.9 30.8M30 14.3A3 3 0 0 1 27.1 13.7M7 57.5A2.4 2.4 0 0 1 5.4 60.2M108 57.5A2.4 2.4 0 0 1 106.4 60.2M61.4 61.5A3.1 3.1 0 0 1 65.4 61.6M47.6 63.6A2.7 2.7 0 0 1 43.3 65.3M83.7 16.9A2.8 2.8 0 0 1 86.5 16.6M43.7 26.7A3.4 3.4 0 0 1 43.6 23.6M77.1 37.7A3 3 0 0 1 80.7 39.5M92.4 40.3A2.4 2.4 0 0 1 90.9 42.2M78.6 28.7A2.3 2.3 0 0 1 79.7 25.9M38.7 41.9A3.5 3.5 0 0 1 38.2 46.5M45.1 19.6A3.4 3.4 0 0 1 43.2 22.8M7.2 48.3A2.3 2.3 0 0 1 10.5 46.1M4.5 41.8A2.5 2.5 0 0 1 2.6 43.3M105.5 41.8A2.5 2.5 0 0 1 103.6 43.3M82.5 7.4A3.2 3.2 0 0 1 86.8 9.8M48.1 21.6A3.6 3.6 0 0 1 52.3 20.7M4.9 63.5A3.4 3.4 0 0 1 5.3 57.9M100.7 4.9A2.7 2.7 0 0 1 96.4 4.6M-0.3 4.9A2.7 2.7 0 0 1 -4.6 4.6M79.8 45.6A2.2 2.2 0 0 1 81.6 49.1M7.6 62.3A2.3 2.3 0 0 1 10 65M79.4 48.6A2.2 2.2 0 0 1 82.4 46M33.2 52.7A2.5 2.5 0 0 1 35.9 49.1M86.9 41.2A3.5 3.5 0 0 1 92.5 44.3M20.1 62.7A2.3 2.3 0 0 1 16.6 63.2M36 58.5A2.4 2.4 0 0 1 39 60.9M92.3 47.9A2.6 2.6 0 0 1 95.3 49.8M64.8 38.7A2.8 2.8 0 0 1 67.9 35.2M61.6 68.3A2.2 2.2 0 0 1 58.7 67.7M94 5A2.2 2.2 0 0 1 95.2 6.7M71.8 45.2A2.4 2.4 0 0 1 74.7 43.4M5.8 35.6A2.7 2.7 0 0 1 9.2 36.6M31.7 11.3A3.5 3.5 0 0 1 36.7 11M66.2 45.8A2.9 2.9 0 0 1 63.3 45.1M8.3 5.6A3.3 3.3 0 0 1 8 2.7M79.9 44.8A2.9 2.9 0 0 1 75.9 42.3M38.1 31.6A2.4 2.4 0 0 1 41.5 33.2M29.6 59.1A3.5 3.5 0 0 1 34.1 59.8M90.6 12.1A3.1 3.1 0 0 1 95.7 10M11.3 62.4A2.7 2.7 0 0 1 9.1 58.1M70.8 20.5A2.8 2.8 0 0 1 69.5 16.4M64.8 60.8A2.6 2.6 0 0 1 61.4 60.9M54.8 16.6A2.9 2.9 0 0 1 56 19.3M75.3 45.4A3.6 3.6 0 0 1 76.2 39.7M34.3 29.6A3.1 3.1 0 0 1 39.3 28.4M81.6 56.2A2.5 2.5 0 0 1 84.2 54M96 26.4A2.7 2.7 0 0 1 93 28.1M94.6 56.2A3 3 0 0 1 94.8 50.8M-6.4 56.2A3 3 0 0 1 -6.2 50.8M40.5 59.8A2.2 2.2 0 0 1 42.9 59.6M12.6 17.4A3.5 3.5 0 0 1 10.5 23.3M58.5 56.6A2.5 2.5 0 0 1 56.7 60.6M43.9 13.8A3.3 3.3 0 0 1 46.3 15.5M6.8 36.9A2.9 2.9 0 0 1 2.2 37M107.8 36.9A2.9 2.9 0 0 1 103.2 37M54.9 7.8A2.6 2.6 0 0 1 52.8 9.4M24.8 21.8A3 3 0 0 1 30.1 21.1M52.7 29.1A3.4 3.4 0 0 1 55.7 33.6M42.3 54.6A3.1 3.1 0 0 1 39.9 57.2M35 4A2.8 2.8 0 0 1 37.1 8.5M77.1 46.6A2.7 2.7 0 0 1 78.9 42.3M72.7 64.2A2.6 2.6 0 0 1 71.5 68.3M31.3 57.2A2.8 2.8 0 0 1 31.9 54.6M62.9 16A3.1 3.1 0 0 1 60 12.3M76.2 12.1A2.3 2.3 0 0 1 77.9 10.4M96.3 62.4A2.2 2.2 0 0 1 97.7 65.2M0.2 56.2A3.1 3.1 0 0 1 5.1 56.9M101.2 56.2A3.1 3.1 0 0 1 106.1 56.9M60.3 44.8A2.3 2.3 0 0 1 62.8 44.3M49.2 34.8A3.4 3.4 0 0 1 43.7 36.8M26.1 8.1A3.2 3.2 0 0 1 28.3 6.3M56.6 34.8A2.6 2.6 0 0 1 54 36.5M79.7 14.1A3.2 3.2 0 0 1 74.8 15.2M10.5 52.9A2.8 2.8 0 0 1 8.8 55.9M66.8 10A2.9 2.9 0 0 1 65.5 6.6M68.9 59.6A2.3 2.3 0 0 1 70.1 62.8M43.3 33.7A2.9 2.9 0 0 1 40.8 35.1M70.7 18.6A3.6 3.6 0 0 1 67.4 22.2M82.3 5.8A2.3 2.3 0 0 1 84.2 8.4M39.3 50.2A3.2 3.2 0 0 1 41.5 45.1M32.8 30.1A2.4 2.4 0 0 1 30.8 33.2M41 17.3A2.6 2.6 0 0 1 38.4 14.4M96.1 37.9A2.4 2.4 0 0 1 99.4 36.2M-4.9 37.9A2.4 2.4 0 0 1 -1.6 36.2M66.8 36.1A2.9 2.9 0 0 1 69.3 34.8M73.1 24.8A2.3 2.3 0 0 1 75 21.2M47 44.9A3.5 3.5 0 0 1 42.2 45.4M53.9 28.4A2.8 2.8 0 0 1 51.4 26M32.6 33.3A3.3 3.3 0 0 1 37.9 34M20.2 5.1A2.4 2.4 0 0 1 22.2 2.5M47.4 29.1A2.7 2.7 0 0 1 50.7 28.1M1 11.6A3.5 3.5 0 0 1 3 8.6M102 11.6A3.5 3.5 0 0 1 104 8.6M14.6 63.7A2.8 2.8 0 0 1 16.3 67.2M47.6 27.6A2.7 2.7 0 0 1 44.9 25.4M83.2 43A2.6 2.6 0 0 1 81.1 47.2M56.1 28.2A2.3 2.3 0 0 1 52.3 27.3M32.7 57.8A3.5 3.5 0 0 1 30.3 61.8M63.6 59.5A3.3 3.3 0 0 1 68.3 56.9M62.1 68.8A2.4 2.4 0 0 1 59.2 67.1M1.5 30.7A3 3 0 0 1 4.3 35.2M102.5 30.7A3 3 0 0 1 105.3 35.2M61.5 51.8A2.3 2.3 0 0 1 63.2 53.3M92.6 15.8A2.8 2.8 0 0 1 92.1 11.4M63.8 10.9A3.2 3.2 0 0 1 64.1 7.5M19 64.5A2.7 2.7 0 0 1 23.6 64.5M100.3 57.7A3.4 3.4 0 0 1 97.4 62.1M-0.7 57.7A3.4 3.4 0 0 1 -3.6 62.1M41.3 47.4A2.5 2.5 0 0 1 38.6 46.9M96.5 60A3 3 0 0 1 91.6 58.7M42.1 28.7A3.4 3.4 0 0 1 36.4 28.8M5.3 65.1A2.5 2.5 0 0 1 6.3 62.3M10.4 50.1A2.3 2.3 0 0 1 12.3 53.2M86.7 38.2A2.5 2.5 0 0 1 87.7 42.2M57.5 33.4A2.7 2.7 0 0 1 59.8 36.9M98 13.3A2.4 2.4 0 0 1 95.2 15.8M17.6 53.2A2.5 2.5 0 0 1 14.6 53.1M86.3 54.8A3.5 3.5 0 0 1 83.5 51.9M83.1 12.1A2.4 2.4 0 0 1 79.7 14M69.8 35.2A3.4 3.4 0 0 1 67.1 39.2M89 16.4A3.6 3.6 0 0 1 84.3 14M90.8 36.6A2.5 2.5 0 0 1 93.3 35.6M40.9 51.9A3.1 3.1 0 0 1 36.4 52.8M29.8 29A3.5 3.5 0 0 1 23.6 29.8M87.8 19.7A3.1 3.1 0 0 1 86.8 15.6M83.2 10.5A2.5 2.5 0 0 1 86.4 11.3M67.1 7.3A2.9 2.9 0 0 1 64.1 7.6M96.3 34.6A3.6 3.6 0 0 1 93.7 31.7M-4.7 34.6A3.6 3.6 0 0 1 -7.3 31.7M22.3 41.2A3.2 3.2 0 0 1 24.5 37.4M75.3 18.6A3.5 3.5 0 0 1 78.5 13.4M83.3 41A3 3 0 0 1 81.5 38.6M74.9 64.8A2.4 2.4 0 0 1 71.9 62.9M33.8 18.9A3.5 3.5 0 0 1 37.3 19.7M41.3 28.2A2.6 2.6 0 0 1 43.6 25.2M15.8 34.9A3.1 3.1 0 0 1 17.4 37.3M82.5 29.6A2.6 2.6 0 0 1 82.6 25.9M39.6 9.3A3.3 3.3 0 0 1 36.7 6.5M21.7 52.7A2.6 2.6 0 0 1 21 50.2M20.6 60.3A2.5 2.5 0 0 1 21.5 57.8M89.6 10.6A3.6 3.6 0 0 1 90 15.2M1.4 42.9A2.4 2.4 0 0 1 -2.4 40.7M102.4 42.9A2.4 2.4 0 0 1 98.6 40.7M71.5 24.4A2.8 2.8 0 0 1 75.7 26.2M5.5 51.8A2.7 2.7 0 0 1 3.3 56M106.5 51.8A2.7 2.7 0 0 1 104.3 56M94.4 29.7A2.9 2.9 0 0 1 94.2 24.8M95 30.7A2.7 2.7 0 0 1 99 30.7M-6 30.7A2.7 2.7 0 0 1 -2 30.7M27.1 14.8A3.4 3.4 0 0 1 30.5 9.7M38.4 6.7A2.2 2.2 0 0 1 34.8 7.2M34.6 65.5A3.2 3.2 0 0 1 32 60.6M19.1 14.6A2.5 2.5 0 0 1 18.9 19M20.6 67.6A2.3 2.3 0 0 1 20.7 64.4M10.3 8.3A2.3 2.3 0 0 1 14.2 7.3M91.9 37.2A3.4 3.4 0 0 1 94.9 32.1M83.7 36.3A2.3 2.3 0 0 1 82.3 39.5M32.4 19.2A2.8 2.8 0 0 1 36.7 19.5M50.3 32.3A2.5 2.5 0 0 1 51.5 29.1M94.7 43.3A2.8 2.8 0 0 1 94.8 45.8M51.9 41.6A2.7 2.7 0 0 1 50.4 45.5M6.7 32.5A2.5 2.5 0 0 1 9 31.3M2.9 23.1A2.7 2.7 0 0 1 2.6 19.9M103.9 23.1A2.7 2.7 0 0 1 103.6 19.9M77.4 42A3.2 3.2 0 0 1 78.8 36.7M65.5 56.5A3.1 3.1 0 0 1 69.4 60.5M89.7 10.5A2.7 2.7 0 0 1 94.2 12M98.1 48.4A3.2 3.2 0 0 1 102.1 52.3M-2.9 48.4A3.2 3.2 0 0 1 1.1 52.3M45.2 66A2.2 2.2 0 0 1 44.1 68.8M59.9 48.3A2.3 2.3 0 0 1 59.7 46.2M71.2 25.7A2.8 2.8 0 0 1 72.6 21.2M98.1 28A3.5 3.5 0 0 1 93.4 27.7M3.2 10.6A2.6 2.6 0 0 1 -0.1 11.1M104.2 10.6A2.6 2.6 0 0 1 100.9 11.1M86.1 35.5A3.2 3.2 0 0 1 84.8 39.6M70.2 44.8A2.4 2.4 0 0 1 71.8 42.1M80.4 63.2A3.4 3.4 0 0 1 75.4 60.8M70.5 31.4A2.7 2.7 0 0 1 69.4 34.6M39.3 27.8A3.1 3.1 0 0 1 37.4 25.5M65.6 49.4A3.4 3.4 0 0 1 71.3 50.1M22.7 16.9A3.1 3.1 0 0 1 26.6 16.7M74 19.4A3.3 3.3 0 0 1 78.7 20M14 21A3.2 3.2 0 0 1 11.2 20.3M43.6 54A2.9 2.9 0 0 1 43.3 56.7M41.2 40A3.2 3.2 0 0 1 42.1 36.3M7.4 65.1A3.4 3.4 0 0 1 6.3 69.7M108.4 65.1A3.4 3.4 0 0 1 107.3 69.7M74.1 22.3A3.2 3.2 0 0 1 69.4 20.7M81 39A3.2 3.2 0 0 1 86.2 38.2M49.8 30.6A2.8 2.8 0 0 1 52.3 27.5" stroke="#ea3535" stroke-width="1.5" stroke-linecap="round" fill="none" opacity="0.62"/>
<path d="M92.2 23A2.2 2.2 0 0 1 91.2 21.1M25.5 47.7A3.4 3.4 0 0 1 24.5 52.8M24.9 6.5A2.7 2.7 0 0 1 23.9 9.3M70.6 17.4A3.6 3.6 0 0 1 65.4 20.1M94.1 20.2A3.1 3.1 0 0 1 91.3 18.5M91.1 46.2A3.4 3.4 0 0 1 91.9 40.5M50.1 5A2.3 2.3 0 0 1 51.8 7.3M35.6 40.9A3.3 3.3 0 0 1 33 42.5M31.4 24.1A3.4 3.4 0 0 1 35.1 28.7M-2.3 60.5A2.4 2.4 0 0 1 0.9 58.9M98.7 60.5A2.4 2.4 0 0 1 101.9 58.9M83.9 25.9A3.6 3.6 0 0 1 79.8 23.4M25.7 34.6A2.3 2.3 0 0 1 29 37.2M62 60.6A2.6 2.6 0 0 1 58.7 62.2M43.5 59.6A3.3 3.3 0 0 1 45.2 54.1M18.7 52.5A2.8 2.8 0 0 1 18.8 48.9M98.2 52.5A2.7 2.7 0 0 1 100.1 50.8M-2.8 52.5A2.7 2.7 0 0 1 -0.9 50.8M0 23.3A2.9 2.9 0 0 1 3.1 23.2M101 23.3A2.9 2.9 0 0 1 104.1 23.2M6.6 46.3A3.1 3.1 0 0 1 3.2 45.7M38.8 32A2.3 2.3 0 0 1 40.2 30.5M42.2 35.5A2.9 2.9 0 0 1 37.9 34.7M29.7 6.2A2.5 2.5 0 0 1 29 10.3M27.5 62.7A2.5 2.5 0 0 1 23.8 61.4M61.6 51.3A2.9 2.9 0 0 1 64 55.3M62.2 33.9A3.3 3.3 0 0 1 63.2 38.6M26.8 67.6A2.7 2.7 0 0 1 27.6 64.4M59.9 10.7A2.6 2.6 0 0 1 64.1 9.1M12.7 56.3A2.4 2.4 0 0 1 15.1 56.5M90.7 30.4A2.5 2.5 0 0 1 88.1 27.9M95.9 9.3A2.5 2.5 0 0 1 97.3 5.2M-5.1 9.3A2.5 2.5 0 0 1 -3.7 5.2M65.2 61.7A3.4 3.4 0 0 1 61 59.3M24.4 22.1A3.1 3.1 0 0 1 28.5 20.9M98.4 42.1A2.4 2.4 0 0 1 97.9 45.1M-2.6 42.1A2.4 2.4 0 0 1 -3.1 45.1M82 11.7A3.6 3.6 0 0 1 80.7 17.7M70.2 30.3A3.3 3.3 0 0 1 70 34.8M18.1 41.6A2.8 2.8 0 0 1 20.7 42.5M38.7 7A3.5 3.5 0 0 1 39 0.6M25.3 19A2.9 2.9 0 0 1 29.5 17.3M55.7 48.9A3.3 3.3 0 0 1 53 53.5M69 28.5A3.4 3.4 0 0 1 66.7 34.1M49.9 41.5A2.8 2.8 0 0 1 51.2 38.9M80.5 16.3A3.4 3.4 0 0 1 81.4 12.9M55.1 19.8A2.6 2.6 0 0 1 56.8 18.1M37.8 17.2A2.5 2.5 0 0 1 37.5 15M64.2 46.6A2.6 2.6 0 0 1 61.9 43.2M51.1 20.1A3.2 3.2 0 0 1 47.5 16.7M5.2 56.9A2.4 2.4 0 0 1 3 56.5M106.2 56.9A2.4 2.4 0 0 1 104 56.5M65.7 32.2A3.2 3.2 0 0 1 64.5 29.6M89.5 43A3.1 3.1 0 0 1 88.4 45.6M17.3 40.3A2.8 2.8 0 0 1 16.4 44.6M70.8 5.2A2.6 2.6 0 0 1 73.8 4.5M75.3 67.2A2.8 2.8 0 0 1 72 67.6M3.3 47.3A2.9 2.9 0 0 1 -1.6 47.8M104.3 47.3A2.9 2.9 0 0 1 99.4 47.8M51.9 18.9A3.5 3.5 0 0 1 56.2 15.4M17 18A2.9 2.9 0 0 1 16.4 12.9M57.3 29.3A2.7 2.7 0 0 1 60.9 26.3M35.4 31.2A2.8 2.8 0 0 1 36.7 28.1M52.1 2.6A2.9 2.9 0 0 1 54.1 1M33.7 19.7A3.1 3.1 0 0 1 38.1 19.7M6.9 18.8A2.9 2.9 0 0 1 4.3 15.5M52.3 66.3A3.6 3.6 0 0 1 51.6 62.2M8.9 59A2.7 2.7 0 0 1 13.3 58.4M59.3 22.4A2.6 2.6 0 0 1 62.7 24.3M80.8 9.8A2.5 2.5 0 0 1 83.2 8.9M58 10.3A3.4 3.4 0 0 1 62.6 14M19.1 34.8A2.8 2.8 0 0 1 17.6 38.5M52.7 32.3A3.3 3.3 0 0 1 49.2 30.5M86.3 24.2A2.5 2.5 0 0 1 87.5 22.3M48.2 53.9A2.2 2.2 0 0 1 50.4 51.5M85.8 28.3A2.8 2.8 0 0 1 86.5 24.4M19 41.9A3.3 3.3 0 0 1 14.9 40.5M78.6 61.5A2.2 2.2 0 0 1 81.5 60.5M92.2 52.5A2.8 2.8 0 0 1 90.4 55.7M93.2 24.8A2.6 2.6 0 0 1 90.1 25.6M75.4 64A2.2 2.2 0 0 1 71.5 63.9M94.1 62.6A3 3 0 0 1 91.5 59.8M79.7 60.4A3.3 3.3 0 0 1 78.6 56.3M50 1.9A2.9 2.9 0 0 1 52.9 1.8M38 30.6A2.3 2.3 0 0 1 36.2 31.6M95.3 37.2A3.3 3.3 0 0 1 99.2 38.9M-5.7 37.2A3.3 3.3 0 0 1 -1.8 38.9M93.5 10.2A2.8 2.8 0 0 1 93.6 13.3M93.5 59.1A2.4 2.4 0 0 1 90.4 57.8M46.3 20.4A3 3 0 0 1 49.7 24.5M81.1 68.3A2.6 2.6 0 0 1 78.6 68.5M37.3 59.7A3.4 3.4 0 0 1 38 62.6M47.4 56.5A2.5 2.5 0 0 1 49.7 59.2M30.9 28.7A3.1 3.1 0 0 1 33.7 32.5M41 13.8A2.5 2.5 0 0 1 40.5 10.4M59 42A2.3 2.3 0 0 1 61 41.2M88.4 33.7A3.2 3.2 0 0 1 85 37.3M5.2 9.2A3.2 3.2 0 0 1 8.7 9.6M16.7 8.4A2.7 2.7 0 0 1 14.3 5.8M12.5 4A3.3 3.3 0 0 1 14.9 6.7M47.8 58.7A2.5 2.5 0 0 1 49.9 61.8M44.7 42A2.4 2.4 0 0 1 42.8 43.1M57.2 22.6A3.3 3.3 0 0 1 52.2 23.5M64.5 39.6A3.3 3.3 0 0 1 69.3 42.1M15.1 20.3A2.9 2.9 0 0 1 10.9 20.5M68.1 20.6A2.7 2.7 0 0 1 72.2 23.1M37.9 7.1A3.3 3.3 0 0 1 35.6 9.3M2.4 11.6A2.7 2.7 0 0 1 1.3 7.5M103.4 11.6A2.7 2.7 0 0 1 102.3 7.5M17.5 18.4A3.1 3.1 0 0 1 14.6 14.3M25.2 40.8A3 3 0 0 1 29.8 41.9M12.7 61.1A2.9 2.9 0 0 1 16.3 58.1M40.7 7.6A2.7 2.7 0 0 1 42 11.4M15 27.7A2.2 2.2 0 0 1 17.3 27.9M83.3 61A3.1 3.1 0 0 1 83.7 63.7M7 11.1A3 3 0 0 1 8.6 15.2M48.9 31.2A3.3 3.3 0 0 1 45.7 32.3M73.2 11.5A3.3 3.3 0 0 1 76.9 13.4M46 19.4A3 3 0 0 1 43.2 22.8M93.3 7.4A2.8 2.8 0 0 1 95.4 11.5M91.4 61.9A2.8 2.8 0 0 1 89.6 65.6M15.7 25.5A2.9 2.9 0 0 1 15.5 20.6M58.4 65.3A3.5 3.5 0 0 1 56.9 61.9M51.5 50.7A3.3 3.3 0 0 1 49 46.7M43.4 45.6A3 3 0 0 1 42.3 41M34.9 18.5A3 3 0 0 1 32.3 20M95.2 38.9A2.5 2.5 0 0 1 92 41.3M93.1 28.6A2.8 2.8 0 0 1 88.1 28.1M95.3 12.1A2.7 2.7 0 0 1 96.3 15.1M44 45.5A3.2 3.2 0 0 1 41.7 48.7M70.7 30.1A2.3 2.3 0 0 1 69.5 32.8M54.6 24.6A2.7 2.7 0 0 1 56.1 27.8M33.9 11.2A2.9 2.9 0 0 1 32.5 15.8M10.7 49.7A2.6 2.6 0 0 1 8.1 48.3M50.3 29.2A3.6 3.6 0 0 1 49.3 23.5M35.7 12.4A2.2 2.2 0 0 1 33.7 12.1M49.8 45.4A3 3 0 0 1 48.7 48.8M90.5 47.8A2.9 2.9 0 0 1 95.5 49.1M20.8 39.7A3.3 3.3 0 0 1 21.6 44.8" stroke="#a02020" stroke-width="1.1" stroke-linecap="round" fill="none" opacity="0.5"/>
</pattern></defs>
<path d="M375 119L375 96L378 96L381 96L384 96L387 96L390 96L393 96L396 96L399 96L402 96L405 96L408 96L411 96L414 96L417 96L420 96L423 96L426 101L429 101L432 101L435 96L438 96L441 96L444 96L447 96L450 96L453 96L456 96L459 96L462 96L465 96L468 96L471 96L474 96L477 96L480 96L483 96L486 96L489 96L492 96L495 96L498 96L501 96L504 96L507 96L510 96L513 96L516 96L519 96L522 96L525 96L528 96L531 96L534 96L537 96L540 96L543 96L546 96L549 96L552 96L555 96L558 96L561 96L564 96L567 96L570 96L573 96L576 96L579 96L582 96L585 96L588 96L591 96L594 96L597 96L600 96L603 96L606 96L609 96L612 96L615 96L618 96L621 96L624 96L627 96L630 96L633 96L636 96L639 96L642 96L645 96L648 96L651 96L654 96L657 96L660 96L663 96L665.8 119Z" fill="#bb2828" opacity="0.92" filter="url(#blb)"/>
<path d="M373 119L373 99L376 99L379 99L382 99L385 99L388 99L391 99L394 99L397 99L400 99L403 99L406 99L409 99L412 99L415 99L418 99L421 99L424 99.5L427 104L430 104L433 99.3L436 99L439 99L442 99L445 99L448 99L451 99L454 99L457 99L460 99L463 99L466 99L469 99L472 99L475 99L478 99L481 99L484 99L487 99L490 99L493 99L496 99L499 99L502 99L505 99L508 99L511 99L514 99L517 99L520 99L523 99L526 99L529 99L532 99L535 99L538 99L541 99L544 99L547 99L550 99L553 99L556 99L559 99L562 99L565 99L568 99L571 99L574 99L577 99L580 99L583 99L586 99L589 99L592 99L595 99L598 99L601 99L604 99L607 99L610 99L613 99L616 99L619 99L622 99L625 99L628 99L631 99L634 99L637 99L640 99L643 99L646 99L649 99L652 99L655 99L658 99L661 99L664 99L666.8 119Z" fill="url(#crb)"/>
<circle cx="452.1" cy="91.3" r="1" fill="#fff"/>
<circle cx="475" cy="80" r="2" fill="#fff"/>
<circle cx="475" cy="86" r="1.3" fill="#fff"/>
<g class="b" fill="#ea3535" stroke="#a01818" stroke-opacity="0.42" stroke-width="3.8" paint-order="stroke">
<circle cx="374.5" cy="86"/>
<circle cx="379.6" cy="82.8"/>
<circle cx="385.5" cy="84.9"/>
<circle cx="391.9" cy="78.3"/>
<circle cx="398.7" cy="77.1"/>
<circle cx="405.9" cy="76.6"/>
<circle cx="411.6" cy="77.6"/>
<circle cx="418.4" cy="78.4"/>
<circle cx="425" cy="93.4"/>
<circle cx="432.7" cy="90.1"/>
<circle cx="438.9" cy="79"/>
<circle cx="443.5" cy="79.9"/>
<circle cx="449.7" cy="78.7"/>
<circle cx="455.8" cy="83.4"/>
<circle cx="459.9" cy="82.8"/>
<circle cx="463.9" cy="84.8"/>
<circle cx="469.8" cy="85.6"/>
<circle cx="474.9" cy="90.3"/>
<circle cx="479.7" cy="87.9"/>
<circle cx="484.9" cy="85.4"/>
<circle cx="488.3" cy="79.5"/>
<circle cx="496" cy="80.3"/>
<circle cx="502.4" cy="78.5"/>
<circle cx="507.7" cy="78.7"/>
<circle cx="515" cy="79.5"/>
<circle cx="521" cy="76.9"/>
<circle cx="528.2" cy="77.4"/>
<circle cx="535.2" cy="77.7"/>
<circle cx="539" cy="79.2"/>
<circle cx="543.5" cy="75.7"/>
<circle cx="547" cy="77.3"/>
<circle cx="551.4" cy="75.1"/>
<circle cx="555.3" cy="74.9"/>
<circle cx="560.9" cy="76.3"/>
<circle cx="568.4" cy="79"/>
<circle cx="573" cy="74.7"/>
<circle cx="580.3" cy="70.9"/>
<circle cx="585.2" cy="71.7"/>
<circle cx="590.8" cy="79.7"/>
<circle cx="596.3" cy="81.5"/>
<circle cx="603.4" cy="79.5"/>
<circle cx="608.1" cy="80"/>
<circle cx="615.7" cy="78.8"/>
<circle cx="620.6" cy="75"/>
<circle cx="623.8" cy="76"/>
<circle cx="629.9" cy="78.1"/>
<circle cx="637.4" cy="76.6"/>
<circle cx="645" cy="81.4"/>
<circle cx="648.6" cy="84.1"/>
<circle cx="653" cy="83.2"/>
<circle cx="657.2" cy="86.1"/>
<circle cx="661.6" cy="88.3"/>
<circle cx="413.2" cy="27.9"/>
<circle cx="406.6" cy="42.4"/>
<circle cx="413.2" cy="41.7"/>
<circle cx="418.7" cy="46.1"/>
<circle cx="412.8" cy="58.4"/>
<circle cx="420.2" cy="58.4"/>
<circle cx="428.1" cy="63.6"/>
<circle cx="443.2" cy="59.5"/>
<circle cx="455.9" cy="59.5"/>
<circle cx="453.7" cy="65.4"/>
<circle cx="453.7" cy="75.3"/>
<circle cx="466.9" cy="74.6"/>
<circle cx="438.4" cy="73.7"/>
<circle cx="402.2" cy="69.8"/>
<circle cx="467.2" cy="74.6"/>
<circle cx="480.3" cy="87.3"/>
<circle cx="489.1" cy="75.3"/>
<circle cx="497.9" cy="77.4"/>
<circle cx="513.2" cy="74.2"/>
<circle cx="506" cy="61.4"/>
<circle cx="514.3" cy="57.7"/>
<circle cx="519.3" cy="54"/>
<circle cx="528.5" cy="55.5"/>
<circle cx="535.6" cy="49"/>
<circle cx="535.6" cy="56.6"/>
<circle cx="544.3" cy="44.6"/>
<circle cx="544.3" cy="49"/>
<circle cx="550" cy="57.7"/>
<circle cx="547.8" cy="63.2"/>
<circle cx="561" cy="47.4"/>
<circle cx="571.7" cy="57.7"/>
<circle cx="560.3" cy="65"/>
<circle cx="566.9" cy="67.6"/>
<circle cx="529.6" cy="68.7"/>
<circle cx="537.3" cy="72.4"/>
<circle cx="554.8" cy="72.4"/>
<circle cx="572.7" cy="57.7"/>
<circle cx="592.4" cy="52.7"/>
<circle cx="595.7" cy="59.9"/>
<circle cx="602.7" cy="62.1"/>
<circle cx="612.5" cy="50"/>
<circle cx="607" cy="68.6"/>
<circle cx="630.7" cy="58.8"/>
<circle cx="624.1" cy="64.9"/>
<circle cx="632.9" cy="67.6"/>
<circle cx="663.1" cy="80.7"/>
<circle cx="664.6" cy="91.6"/>
<circle cx="666.8" cy="104.3"/>
<circle cx="421.5" cy="59.2"/>
<circle cx="427.5" cy="64.4"/>
<circle cx="436.4" cy="74.1"/>
<circle cx="442.4" cy="77.1"/>
<circle cx="453.6" cy="75.6"/>
<circle cx="467.5" cy="74.9"/>
<circle cx="464.8" cy="80.9"/>
<circle cx="431.2" cy="85.3"/>
<circle cx="424.5" cy="89.8"/>
<circle cx="445.4" cy="83.8"/>
<circle cx="458.1" cy="85.3"/>
<circle cx="463.3" cy="89.8"/>
<circle cx="489.5" cy="75.6"/>
<circle cx="480.5" cy="87.6"/>
<circle cx="485.7" cy="88.3"/>
</g>
<g fill="none" stroke="#a01818" stroke-opacity=".4" stroke-width=".55">
<circle cx="413.2" cy="27.9" r="4.6"/>
<circle cx="413.2" cy="27.9" r="5.8"/>
<circle cx="406.6" cy="42.4" r="4.6"/>
<circle cx="406.6" cy="42.4" r="5.8"/>
<circle cx="413.2" cy="41.7" r="4.6"/>
<circle cx="413.2" cy="41.7" r="5.8"/>
<circle cx="418.7" cy="46.1" r="4.6"/>
<circle cx="418.7" cy="46.1" r="5.8"/>
<circle cx="412.8" cy="58.4" r="4.6"/>
<circle cx="412.8" cy="58.4" r="5.8"/>
<circle cx="420.2" cy="58.4" r="4.6"/>
<circle cx="420.2" cy="58.4" r="5.8"/>
<circle cx="428.1" cy="63.6" r="4.6"/>
<circle cx="428.1" cy="63.6" r="5.8"/>
<circle cx="443.2" cy="59.5" r="4.6"/>
<circle cx="443.2" cy="59.5" r="5.8"/>
<circle cx="455.9" cy="59.5" r="4.6"/>
<circle cx="455.9" cy="59.5" r="5.8"/>
<circle cx="453.7" cy="65.4" r="4.6"/>
<circle cx="453.7" cy="65.4" r="5.8"/>
<circle cx="453.7" cy="75.3" r="4.6"/>
<circle cx="453.7" cy="75.3" r="5.8"/>
<circle cx="466.9" cy="74.6" r="4.6"/>
<circle cx="466.9" cy="74.6" r="5.8"/>
<circle cx="438.4" cy="73.7" r="4.6"/>
<circle cx="438.4" cy="73.7" r="5.8"/>
<circle cx="402.2" cy="69.8" r="4.6"/>
<circle cx="402.2" cy="69.8" r="5.8"/>
<circle cx="467.2" cy="74.6" r="4.6"/>
<circle cx="467.2" cy="74.6" r="5.8"/>
<circle cx="480.3" cy="87.3" r="4.6"/>
<circle cx="480.3" cy="87.3" r="5.8"/>
<circle cx="489.1" cy="75.3" r="4.6"/>
<circle cx="489.1" cy="75.3" r="5.8"/>
<circle cx="497.9" cy="77.4" r="4.6"/>
<circle cx="497.9" cy="77.4" r="5.8"/>
<circle cx="513.2" cy="74.2" r="4.6"/>
<circle cx="513.2" cy="74.2" r="5.8"/>
<circle cx="506" cy="61.4" r="4.6"/>
<circle cx="506" cy="61.4" r="5.8"/>
<circle cx="514.3" cy="57.7" r="4.6"/>
<circle cx="514.3" cy="57.7" r="5.8"/>
<circle cx="519.3" cy="54" r="4.6"/>
<circle cx="519.3" cy="54" r="5.8"/>
<circle cx="528.5" cy="55.5" r="4.6"/>
<circle cx="528.5" cy="55.5" r="5.8"/>
<circle cx="535.6" cy="49" r="4.6"/>
<circle cx="535.6" cy="49" r="5.8"/>
<circle cx="535.6" cy="56.6" r="4.6"/>
<circle cx="535.6" cy="56.6" r="5.8"/>
<circle cx="544.3" cy="44.6" r="4.6"/>
<circle cx="544.3" cy="44.6" r="5.8"/>
<circle cx="544.3" cy="49" r="4.6"/>
<circle cx="544.3" cy="49" r="5.8"/>
<circle cx="550" cy="57.7" r="4.6"/>
<circle cx="550" cy="57.7" r="5.8"/>
<circle cx="547.8" cy="63.2" r="4.6"/>
<circle cx="547.8" cy="63.2" r="5.8"/>
<circle cx="561" cy="47.4" r="4.6"/>
<circle cx="561" cy="47.4" r="5.8"/>
<circle cx="571.7" cy="57.7" r="4.6"/>
<circle cx="571.7" cy="57.7" r="5.8"/>
<circle cx="560.3" cy="65" r="4.6"/>
<circle cx="560.3" cy="65" r="5.8"/>
<circle cx="566.9" cy="67.6" r="4.6"/>
<circle cx="566.9" cy="67.6" r="5.8"/>
<circle cx="529.6" cy="68.7" r="4.6"/>
<circle cx="529.6" cy="68.7" r="5.8"/>
<circle cx="537.3" cy="72.4" r="4.6"/>
<circle cx="537.3" cy="72.4" r="5.8"/>
<circle cx="554.8" cy="72.4" r="4.6"/>
<circle cx="554.8" cy="72.4" r="5.8"/>
<circle cx="572.7" cy="57.7" r="4.6"/>
<circle cx="572.7" cy="57.7" r="5.8"/>
<circle cx="592.4" cy="52.7" r="4.6"/>
<circle cx="592.4" cy="52.7" r="5.8"/>
<circle cx="595.7" cy="59.9" r="4.6"/>
<circle cx="595.7" cy="59.9" r="5.8"/>
<circle cx="602.7" cy="62.1" r="4.6"/>
<circle cx="602.7" cy="62.1" r="5.8"/>
<circle cx="612.5" cy="50" r="4.6"/>
<circle cx="612.5" cy="50" r="5.8"/>
<circle cx="607" cy="68.6" r="4.6"/>
<circle cx="607" cy="68.6" r="5.8"/>
<circle cx="630.7" cy="58.8" r="4.6"/>
<circle cx="630.7" cy="58.8" r="5.8"/>
<circle cx="624.1" cy="64.9" r="4.6"/>
<circle cx="624.1" cy="64.9" r="5.8"/>
<circle cx="632.9" cy="67.6" r="4.6"/>
<circle cx="632.9" cy="67.6" r="5.8"/>
<circle cx="663.1" cy="80.7" r="4.6"/>
<circle cx="663.1" cy="80.7" r="5.8"/>
<circle cx="664.6" cy="91.6" r="4.6"/>
<circle cx="664.6" cy="91.6" r="5.8"/>
<circle cx="666.8" cy="104.3" r="4.6"/>
<circle cx="666.8" cy="104.3" r="5.8"/>
<circle cx="421.5" cy="59.2" r="4.6"/>
<circle cx="421.5" cy="59.2" r="5.8"/>
<circle cx="427.5" cy="64.4" r="4.6"/>
<circle cx="427.5" cy="64.4" r="5.8"/>
<circle cx="436.4" cy="74.1" r="4.6"/>
<circle cx="436.4" cy="74.1" r="5.8"/>
<circle cx="442.4" cy="77.1" r="4.6"/>
<circle cx="442.4" cy="77.1" r="5.8"/>
<circle cx="453.6" cy="75.6" r="4.6"/>
<circle cx="453.6" cy="75.6" r="5.8"/>
<circle cx="467.5" cy="74.9" r="4.6"/>
<circle cx="467.5" cy="74.9" r="5.8"/>
<circle cx="464.8" cy="80.9" r="4.6"/>
<circle cx="464.8" cy="80.9" r="5.8"/>
<circle cx="431.2" cy="85.3" r="4.6"/>
<circle cx="431.2" cy="85.3" r="5.8"/>
<circle cx="424.5" cy="89.8" r="4.6"/>
<circle cx="424.5" cy="89.8" r="5.8"/>
<circle cx="445.4" cy="83.8" r="4.6"/>
<circle cx="445.4" cy="83.8" r="5.8"/>
<circle cx="458.1" cy="85.3" r="4.6"/>
<circle cx="458.1" cy="85.3" r="5.8"/>
<circle cx="463.3" cy="89.8" r="4.6"/>
<circle cx="463.3" cy="89.8" r="5.8"/>
<circle cx="489.5" cy="75.6" r="4.6"/>
<circle cx="489.5" cy="75.6" r="5.8"/>
<circle cx="480.5" cy="87.6" r="4.6"/>
<circle cx="480.5" cy="87.6" r="5.8"/>
<circle cx="485.7" cy="88.3" r="4.6"/>
<circle cx="485.7" cy="88.3" r="5.8"/>
</g>
<path d="M369 176.6L369 118L370.3 115.7L373 118.5L375.7 115.6L376.9 118.5L379 114.4L381 119.4L383.4 116.5L385.7 119.2L387.6 115.6L390.2 119.5L391.8 115L393.5 119.4L395 115L397.3 118.6L398.5 116.4L400.3 118.5L402.4 114.4L404.6 119.2L406.4 116.1L408.6 119.5L411 115.3L412.3 119.5L413.8 115.4L416.1 118.4L418.3 114.9L420 118.7L421.9 115.7L424.5 118.8L426.9 114.4L429.4 118.5L432 114.5L433.4 118.7L434.8 115.9L436.8 119L438.8 116L441 119.4L442.4 115.4L443.7 119.5L445.7 116L447.2 118.9L448.7 116.2L450.1 118.7L451.8 115.7L454 118.6L456.6 116.2L458.6 118.5L460.3 115.5L462.1 119.3L464.2 115L465.5 119.1L467 115.1L468.8 119.4L470.5 114.6L472.1 119.3L473.3 115.4L475.1 119.6L477.5 116.3L479.8 119.3L481.8 116.8L483.6 119.5L485.2 115.7L486.6 119L488.8 115.1L491.5 118.7L492.8 116.7L494.5 119.1L496.8 114.8L498.6 119.6L500.8 115.1L503.4 118.7L504.6 114.7L506.9 119.2L508.5 116L510.1 119.5L511.4 116.5L514.1 118.7L515.6 114.6L517 118.4L518.3 115.6L520.7 118.6L521.9 115.9L524.6 119.4L526 115.8L528.7 119.2L531.4 116.8L533.3 118.6L536 116.6L537.4 118.8L539.9 115L541.3 119.1L543.8 116.4L545.7 119.4L547.3 114.5L549.6 119L551.7 116.2L554 119.5L556.7 116.3L558.2 119.6L560.4 115L561.7 118.9L563.5 115.8L564.7 118.4L566.6 114.5L569.4 119.6L571.6 116.6L573.7 119.1L575.9 115.5L578.7 119.3L580.8 115.6L582.8 119.5L584.6 114.7L586.3 119.6L588.7 115L590.9 119L593.1 115.7L594.6 119.5L596 116.3L598.1 119.3L599.9 114.5L601.8 119L603.4 114.9L605 118.6L607.4 116.6L609 118.5L611.6 114.9L613.5 119.3L615.7 116.3L616.9 118.7L618.3 115L619.7 118.7L621 116.5L623.4 119.2L625.6 115.1L627.8 118.7L629.7 114.6L631.6 119.2L633 116.5L634.9 118.6L637 114.6L638.5 119.2L640.4 115.8L643.2 119L645.3 116.1L647.3 118.9L649.2 114.7L650.8 119.4L653.2 115.3L654.4 118.8L656.7 115L658.9 118.4L660.5 115.1L662.6 118.9L665.4 114.8L666.8 118.7L668.2 114.5L668.8 118L668.8 176.6Z" fill="#317f39"/>
<path d="M371.5 176.5h0M375 176.2h0M379.2 176.4h0M382.4 176.1h0M385.9 176.7h0M389 176.9h0M393.2 176.3h0M397.4 176.3h0M401.9 176.4h0M405.4 176.2h0M409.1 176.5h0M412.8 176.6h0M416.7 176.4h0M420 176.2h0M423.2 176.4h0M426.7 176.6h0M430.5 176.1h0M433.7 176.4h0M437 176.9h0M440.5 176.8h0M444.4 176.3h0M448.4 176.6h0M452 176h0M455.1 176.1h0M459.2 176.4h0M462.4 176.3h0M466.4 176.7h0M470.6 176.6h0M474.2 176.1h0M477.7 176.3h0M481 176.1h0M484.5 176.9h0M487.9 176.2h0M492.2 176.4h0M495.9 176.3h0M499.4 176h0M503.3 176.4h0M506.6 176.5h0M509.9 176h0M513.9 176.6h0M517.8 176.6h0M522.2 176.7h0M526.6 176.8h0M530.1 176.5h0M534.4 176.7h0M537.7 176.7h0M541.4 176.3h0M545.8 176.8h0M549.8 176.8h0M553.6 176.8h0M557.2 176.3h0M561.2 176h0M564.4 176.8h0M568.3 176.1h0M572.4 176.3h0M575.5 176.2h0M578.8 176.3h0M583.3 176.1h0M587.6 176.4h0M590.8 176.8h0M595.2 176.4h0M599.1 176.8h0M602.1 176.7h0M605.4 176.3h0M608.5 176.4h0M611.9 176.1h0M615 176.5h0M619 176.8h0M622.8 176.3h0M625.9 176h0M629.3 176.5h0M633.6 176.8h0M636.7 176.6h0M640.7 176.7h0M644.6 176.8h0M647.9 176.9h0M652.1 176.2h0M656.1 176.7h0M660.6 176.2h0M665.1 176.2h0" stroke="#317f39" stroke-width="6.6" stroke-linecap="round" fill="none"/>
<g fill="#3f9d4b" stroke="#317f39" stroke-width=".7" opacity=".85">
<circle cx="372" cy="175.9" r="3.2"/>
<circle cx="378.3" cy="176.4" r="3.3"/>
<circle cx="386.4" cy="175.7" r="2.9"/>
<circle cx="393.4" cy="176.5" r="3.6"/>
<circle cx="402.3" cy="175.9" r="3.4"/>
<circle cx="411.3" cy="176.1" r="3.5"/>
<circle cx="421.6" cy="176.4" r="3.4"/>
<circle cx="430.5" cy="175.8" r="3.1"/>
<circle cx="440.5" cy="176.5" r="3.4"/>
<circle cx="445.7" cy="176.2" r="3.3"/>
<circle cx="451.3" cy="176.5" r="3.1"/>
<circle cx="459.7" cy="175.9" r="3.2"/>
<circle cx="465.1" cy="176.4" r="3"/>
<circle cx="474.1" cy="176.1" r="3.2"/>
<circle cx="480.1" cy="175.8" r="3.6"/>
<circle cx="486.9" cy="175.7" r="3.2"/>
<circle cx="491.6" cy="175.8" r="3.1"/>
<circle cx="497.9" cy="176.3" r="3"/>
<circle cx="506.5" cy="176" r="3.5"/>
<circle cx="512.1" cy="176" r="3.4"/>
<circle cx="519.5" cy="176.2" r="3.5"/>
<circle cx="525.4" cy="176.2" r="3.3"/>
<circle cx="533" cy="176.3" r="3.3"/>
<circle cx="538.5" cy="176.3" r="3.4"/>
<circle cx="544.5" cy="175.8" r="3.1"/>
<circle cx="553.3" cy="175.9" r="3.2"/>
<circle cx="563.6" cy="176.4" r="3.5"/>
<circle cx="573.1" cy="176.1" r="3.2"/>
<circle cx="579.7" cy="175.9" r="2.9"/>
<circle cx="587.4" cy="176.2" r="3.4"/>
<circle cx="597.8" cy="176.3" r="3.5"/>
<circle cx="606.8" cy="176.4" r="3.1"/>
<circle cx="614" cy="176.2" r="3.6"/>
<circle cx="622.5" cy="176.3" r="3.1"/>
<circle cx="633" cy="176" r="3.5"/>
<circle cx="639.2" cy="176.1" r="3.3"/>
<circle cx="645.2" cy="175.9" r="3.5"/>
<circle cx="655" cy="176.5" r="2.9"/>
</g>
<defs><pattern id="txb" x="369" y="116" width="97" height="64.6" patternUnits="userSpaceOnUse">
<path d="M55.2 15.8l0.4 4.1M2.3 23.9l-0.2 3.6M63.9 16.1l0.3 3.3M88.3 24.7l-0.4 4M41.6 44l0.2 1.4M28.3 52.5l-0.6 3.4M44.2 43.2l-0.2 1.7M45.2 52.3l-0.5 3.1M94.4 23.5l0.3 2M75.2 7.1l-0.5 3.9M12.4 45.9l0.5 1.8M63.9 38.9l-0.6 2.3M15.6 36.1l0.2 3.3M27.1 12l-0.5 3.2M91.5 9.2l0.3 4.1M39.7 41.2l0.4 3.9M90.5 53.1l0.3 3.1M49.2 7l-0.5 1.9M92.1 52.3l-0.3 4.3M21.9 32.7l0.2 2.4M84.6 18.2l-0 1.9M57.7 0l0.5 1.6M48.1 25.9l-0.4 4.3M48 42.5l-0.4 1.6M58.3 1.4l0 4M39 30.4l-0.2 3.6M54.4 42.2l-0.5 3.6M34.4 21.7l0.1 3.7M21.4 58l-0.4 4M61.6 43l-0.6 2.9M16.9 20.2l-0.1 1.9M17.8 25.6l0.6 4.3M17.3 50.8l0 1.4M93.9 3.5l0.6 1.6M69.7 29.3l-0.2 4.4M9.3 17.3l-0 4.1M85 56.5l-0 1.7M54.8 34.2l-0.4 4.1M17 57.3l0.6 2.2M57.5 2l0.3 1.8M55 34.9l0.3 4.2M17.7 19l-0.1 2.2M49.9 1l-0.6 3.9M25.9 6.7l-0 4.1M6.6 32.5l-0.2 3.2M63 11.2l0.4 3.1M52.4 59.5l0.4 4.1M89.8 13.5l-0.3 1.6M84.4 52.9l-0.3 4.4M24.1 40.4l-0.4 3.2M42.2 47.7l-0.3 3.7M39.1 41.7l0.4 3.9M23.9 53.5l-0.6 3.9M13.9 45l-0.4 3.3M29.5 22.1l0.4 3.8M73.8 34l-0.3 2.4M71.7 16.1l-0 3.3M88.5 46.8l0.3 1.8M13.7 58.9l0.1 3.4M16.9 32.9l0.4 1.9M93.2 38.4l-0.4 3M5.3 48.1l0.6 2.5M72.9 49.1l-0 3.3M0.8 19.7l0.5 1.7M97.8 19.7l0.5 1.7M21.9 42.1l-0.6 4.3M4.6 51.2l0.3 4.1M73 55l-0.1 4.1M74.4 43.5l0.5 1.4M50 19l0.5 3.5M47.8 57.2l-0.1 4.2M29.3 27.3l-0.6 4.3M4.5 46l-0.6 3.7M52.2 0l-0 3.7M83.4 59l0.6 1.6M53.5 18l-0.3 2.6M67 51.1l0.5 4.1M17.5 12.7l-0.4 4.1M80.4 51.4l0.4 3M45.4 35.8l-0.2 2.5M84.6 56.9l0.3 2.7M3.9 52.2l0.1 3.5M70.6 52.2l-0.6 3.1M65.3 25l-0.6 3.9M53.8 8.3l-0.6 3.2M93.1 25.1l0.4 1.9M88.2 47.4l0.2 3.6M75.3 29.6l-0.3 1.6M32.4 9.2l0.3 2.2M85.2 45.2l-0.6 1.8M78.5 52.8l0.5 2.2M26.3 41.8l-0.6 4M95.8 55.8l0.2 4.4M-1.2 55.8l0.2 4.4M16.4 20.9l0.1 3.7M28.4 60.2l-0.2 3.1M54.2 19.6l-0.3 2.9M91 11.8l0.6 2.8M79.6 59.6l-0.1 2.3M5.3 6.8l-0.4 3.8M3.7 48.1l-0.6 2M54.7 4l-0 2.4M4.6 4.9l0 1.8M27.7 19.3l0 4.4M45.6 33.5l0.2 4.1M69 4.8l0.2 4M72.6 3l-0.6 1.5M17.4 21.2l0.1 2.9M16.3 38.5l0.2 3.2M52.6 53.5l0.5 4M40.1 2.9l0.3 1.4M89.2 28.9l-0.1 4.1M67.9 53.6l0.2 3.3M67.4 58.6l-0.3 3.3M27.3 0l-0.3 4M53.7 45.2l-0.5 3M2.9 42.2l-0.6 3.5M74.9 30.8l-0.2 3.1M70.7 39l-0.3 1.5M93 23l0.3 4.3M53.6 32.7l-0.5 2.2M29.7 9.1l0.6 3.9M78.7 39.6l-0.6 4.2M96.9 18.7l-0.3 3M-0.1 18.7l-0.3 3M59.5 41.4l0.3 3M93.5 9.2l-0.4 3.3M63.2 29.3l-0.5 1.6M60.4 54.1l-0.3 2M60.3 40.4l0.2 3.8M9.1 16.5l-0 2M60.4 14.7l-0.2 2.4M38.4 21.9l-0.2 3.3M58.9 58l0.2 1.6M77.9 55.7l-0.4 3.2M94.9 41.8l-0.5 2.6M32.4 26.8l-0.5 3.2M28.9 11.9l-0.1 2.1M58.5 19.1l0.1 2.4M34 48.4l0.2 3.1M38.1 42.4l-0.3 4.2M94.6 24.3l0.6 3.8M42.7 8.9l-0.6 2.3M11.3 42.9l-0.5 3.8M80.6 14l0.1 4.2M22.9 37.4l-0.4 3.5M50.3 51.2l0.6 1.8M8.5 10.1l-0.2 2.7M20.1 59.8l-0.4 1.9M62.2 31.9l-0.5 3.3M28.6 13.1l-0.3 3.9M18.5 40.6l-0.6 2.7M40.8 21.7l-0.3 3.3M65.1 20.5l-0.5 2.5M1.5 52.4l-0.2 3M98.5 52.4l-0.2 3M24.2 26.5l-0.1 4.4M63.2 17.7l0.4 2.2M57.1 47.8l-0.5 2M74.2 22.9l0.2 2.3M11.3 4.4l-0.4 1.6M92.8 28.1l0.4 3.9M56.5 52.7l0.2 3.9M62.4 32.1l-0.2 1.7M29.6 27.2l-0.1 4.4M56.9 37.2l-0.3 2.5M93.1 7.1l0.5 2.7M90.5 10.3l-0.3 1.9M11.3 33.6l0.4 2.6M74.9 18.4l0.5 2.6M42.6 24l0.2 3.6M95.9 28.3l-0.1 3M-1.1 28.3l-0.1 3M95.2 20.4l-0.3 2.7M-1.8 20.4l-0.3 2.7M53.2 34.1l-0.2 2.4M17.2 48.1l-0.2 2.6M73.3 32.5l-0.1 1.4M76.8 38.4l-0.2 3.2M94.4 21.2l0.3 2.6M9.5 22.1l-0 3.7M48.6 15.5l0.2 3.8M18.2 29l-0.6 3.6M2.3 59.5l0 2.8M86.4 45.4l-0.5 3.3M89.2 57.7l-0.6 3.6M47.6 30.9l0.4 1.7M77.6 6.1l0.4 2.3M63.1 46.8l-0.4 3.5M95.9 7.1l0.6 3.2M-1.1 7.1l0.6 3.2M77 48.2l-0.2 1.9M60 0.2l-0 4.1M86.1 51.3l-0.4 1.8M82.1 47.9l-0 4.3M76.3 34.3l-0 2.5M64 35.2l0.6 1.5M0.7 15.8l-0.4 1.6M97.7 15.8l-0.4 1.6M94 28.7l0.1 1.9M46.7 27.7l-0.1 2.1M13.5 7.3l-0.1 3.8M6 47.9l-0.1 3.1M96.2 52.9l-0 2.2M-0.8 52.9l-0 2.2M43.6 18.4l0.6 2.7M7.3 43l0.2 3.4M40.1 40l0.3 3.2M58.1 39.2l0 2M36.9 12.2l-0.6 2.7M52.1 59.3l-0.5 3.4M79.3 23.8l0.1 1.8M38.5 24.4l-0.6 3.2M87.5 47.2l0.1 4.1M88.6 27.5l0.3 3.9M62.3 15.3l-0.3 4.3M23 39.2l-0.3 1.6M45.6 32.7l0.4 4M91.7 38.8l-0.3 3M48.2 43.1l0.4 4.4M44.5 9.6l0.4 3.5M54.8 35l-0.1 1.7M38.6 1.8l0.3 1.6M16.8 58.4l0.4 1.5M25.4 8.9l0.1 3.4M28.5 37.9l0.3 3.1M59.8 32.4l0.6 2.4M85.4 32.6l0.3 3.5M52.8 2.7l0.3 3.7M40.4 27.1l0.4 2.6M58.7 59.6l-0.2 3.4M27.9 57.5l-0.5 4.1M9.1 22.9l0.5 1.7M25.5 52.6l-0.6 2.3M85.2 25l-0.4 1.4M84.8 58.1l0.1 4.3M74.4 60l0.5 1.8M26.3 19.3l0.3 3.2M0.9 33.3l0.4 2.7M97.9 33.3l0.4 2.7M44.3 47.6l-0.1 2.6M3.5 35.1l0.6 3.2M40.7 56.4l0.3 3.6M40.5 42l-0.2 3M64 57.2l0.3 3.1M30.8 27.3l-0.5 3.5M63.1 35.7l-0.4 3.9M96.5 15.9l0.5 2.7M-0.5 15.9l0.5 2.7M25.4 41.3l-0.1 2.9M24.5 54.8l0.4 2.6M70.5 7.4l-0.1 2.2M59.6 43.4l-0.5 3.6M71.6 32.8l0.2 3M77.1 27.7l0.5 1.9M21.5 15.6l-0.5 1.4M17.4 12.4l0.3 2.7M68.1 9l0.2 2.9M79.9 34l0 2.5M95.9 5.2l-0.2 3.4M-1.1 5.2l-0.2 3.4M78.7 14.9l-0.1 3.5M35.2 18.4l-0.6 3.1M88.6 10.9l0.6 2.1M7.4 31.1l-0.1 3M17.4 46.8l0.4 2.8M15.3 55.7l-0.5 4.1M73.4 4.1l-0.5 3.8M61 56.5l0.6 2.8M32.6 56.1l0.3 3.8M57.6 38.7l-0.3 2.9M47.3 53.5l0.1 3.7M0.7 48.1l0.5 2.1M97.7 48.1l0.5 2.1M43.2 35.3l-0.5 2.4M62.3 30.3l0.1 2.5M90.8 9.6l-0.1 4M72.7 35.8l0.4 2.8M87.3 48.5l0.1 1.6M80.4 6.7l-0.1 4.4M91.1 55.5l-0.3 3.1M91.8 50.2l0.6 3.9M50.7 2.5l-0.3 3.7M57.1 3l-0.2 2M22.5 21.5l-0.2 3M24.1 34l0.4 4.3M68.2 8.9l-0.6 2M35.7 15.1l-0.3 2.1M14 45.6l0.4 1.7M85.8 41.3l-0 3.5M67.3 32.3l0.5 3.9M26.8 29.3l0.2 4.2M85.8 55.6l-0.1 3.8M69.4 47.3l0.1 2.8M85.9 22.4l-0.2 3.2M91.6 1l0.2 3.9M1.5 56.8l0.3 3.6M98.5 56.8l0.3 3.6M51.7 40.1l-0.4 1.9M34 25.9l-0.6 4M1.3 45.3l-0.3 4.3M98.3 45.3l-0.3 4.3M87.2 12.5l-0.2 3.9M15 23.2l-0.1 4.4M17.5 10.5l0.3 4M80.9 36.7l-0.2 3.8M23.5 48.3l-0.1 3M16.8 22.8l0.3 3.7M73.7 52.4l-0.4 1.6M15.9 10l0.2 1.7M35.1 26.9l-0.4 3.7M36.3 58.2l0.1 2.1M39.8 5l0.2 1.6M41.4 0.3l-0.4 3.7M38.8 9l-0.4 4M12.7 28.6l0.4 4.3M91.8 56.3l-0.4 2M89.9 53.9l-0.2 3.6M16 38.2l0.4 3M65.9 48.8l0 1.5M29.8 38.4l-0.6 2M46.9 19.6l0.4 1.4M38.4 11.7l0.2 3.3M90.4 43.4l-0.3 2.9M49.1 35.3l0 3.7M26.5 9.7l0.2 2.5M7.3 12.4l-0.1 2.7M64.1 19.7l0.2 3.1M7.6 55.9l0.5 2.4M23.9 15.2l-0.5 3.3M82 38.9l0.5 2.9M91.1 47.9l-0.6 3.9M83.3 43.7l-0.4 3.2M56.2 24.4l0.3 1.4M72.3 8.7l0.5 3.9M89 51.1l0.1 3.4M16.2 35.6l0.3 3.8M82.4 37.7l0.2 2.6M59.4 47.6l-0.6 2.8M22.2 53.3l-0.3 2.7M63.9 52.1l0.5 4M1.4 32.4l-0.4 3.4M98.4 32.4l-0.4 3.4M37.5 40.3l0.6 3.1M45.4 18.4l-0.2 3.8M87.6 29.2l0.6 4.3M77.8 31.5l-0.1 1.8M18.8 14.6l0 2.5M84.9 19.1l0.2 2.4M27.4 36.4l-0 1.9M1.3 8.5l-0.4 2.1M98.3 8.5l-0.4 2.1M60.1 54.7l0.6 3.1M75.5 34.8l0.1 4.4M48 30.4l-0.5 2.3M77.4 44.6l-0.1 4.2M79.4 38.9l-0.4 3.1M28.8 26.7l0.4 3.5M65.2 53.4l0.2 4.1M23.4 51.2l0.6 3.3M81.9 44.8l0.4 2.9M79.1 52.3l0.4 3.4M56.8 38.3l-0.2 2.2M79.3 33.2l-0.5 2.7M70.5 10.2l-0.3 3.5M15.3 30.9l0.6 1.6M21.6 60.5l0.6 2.4M57.2 42.2l-0 2.5M35.8 30.4l-0.1 1.7M50.2 53.9l-0.5 4M11.3 12.1l0.4 3.9M54 31l0.6 2.3M16.3 17.6l-0.2 1.6M23.1 43.5l-0.1 1.6M8.1 41.6l0.5 1.5M8.2 31.4l-0.6 3.9M9.4 21.6l0 4.2M22.5 42.1l0.3 3.2M6.6 8.7l-0.2 3.5M62.8 0.3l-0.2 4M9.7 56l-0.5 4.4M84 59.1l0.3 3.9M34.7 58.2l0.1 1.4M67.5 40.8l-0.6 3.8M69.7 8.5l0.2 2.3M15.8 32l0.5 1.6M29.4 15l-0.6 4.2M3.9 24.6l0.4 2M93.9 20l-0.2 2.9M21.3 5l0.6 1.8M11.2 15.4l0 4M96.3 31.4l-0.1 2.9M-0.7 31.4l-0.1 2.9M61.8 40.7l-0.4 2.4M36.1 18l-0.4 3M76.9 16.1l0.5 4M38.4 16.2l-0.6 4.1M80.3 40.2l0 2.9M61.6 51.9l-0.5 2.7M33.1 44.9l0.2 3M21.8 16.3l-0.6 2.5M51.6 57.1l-0.6 1.6M31.3 49.3l0 1.6M83 58.5l-0.2 2.3M53.3 41.3l0.1 1.5M30.2 1.8l0.3 1.7M45.1 53l-0.6 3.4M47.5 1l-0.4 1.8M81.2 47.4l-0.2 1.5M37.2 40l0 4.3M50 53.1l0.6 1.7M28.5 51.7l-0.5 3.3M54.7 3l0.5 4.2M12.2 32.9l0.4 3.3M61.4 12.5l-0.6 4.2M25.5 12.6l-0.2 2.6M36 31.9l0.1 4.2M20.8 58l0.3 2.9M23.8 2.3l-0.2 2.1M75.7 0.1l0.5 3.8M18.7 58.7l0.4 4.2M13.4 55.2l-0.1 2.7M76.5 14.2l-0.2 4.2M45 42.1l0.2 2.6M71.2 38.8l0.3 3.2M92.7 54.2l-0.3 3.1M69.7 43.9l-0.2 3.3M43.5 23.4l0.2 3.3M5.4 35.1l0.6 2.3M48.4 17.7l0.3 3.5M46.8 34l-0.5 1.4M19.9 7.2l0.1 3.3M94.2 6.8l0.4 1.5M47.8 10.2l-0.1 3.8M59.2 1.2l0.1 3.2M47.9 5.5l0.6 3.3M75.2 60.1l0.5 3.4M51.5 6.4l-0.2 4.1M35.7 6.3l0 1.4M40.3 60.4l0.3 4.2M31.5 0.4l0.5 4.3M41.4 13.7l0.4 3M30 0.3l0.5 1.5M52.2 10.1l-0.5 2.1M88.2 17.6l0.4 3M96.5 11.4l0.6 2.8M-0.5 11.4l0.6 2.8M11.7 17l0.2 4.1M64.1 59.6l0.5 1.6M5.4 48.4l-0.6 2.8M9.4 44.2l0.1 3.4M34.5 34.6l-0.2 3.9M12.7 2.5l-0.5 2.1M24.8 47.6l0.5 1.6M4.9 56.5l0.4 1.5M81.4 51.7l0.4 1.9M8.6 58.6l-0.1 3.9M71.4 54.2l-0.5 3.8M52.6 40.1l-0.4 2.3M9.1 27.9l-0.3 1.7M31.7 51.5l-0 2.3M12.2 36.3l-0.6 4.3M81 5.5l-0.3 4.4M61 43.6l-0.4 2.9M71.7 33.9l-0.6 3.1M5.6 10.5l0.2 2.6M75.7 55.5l0.1 3.4M64.2 4.7l0.2 3.4M81.6 11.1l0.2 3.8M46.1 42.1l0.6 3.3M83 2.2l0.4 2.6M36.4 35.1l0.5 2.5M14.9 50.4l-0.5 3.1M6 8.4l-0.6 1.6M93.6 1.9l0.1 2.7M32.1 59.7l-0.5 2.7M61.8 30.4l0.4 3.7M51.1 0.8l-0.2 3M47.5 10.8l-0.6 2M72.3 9.2l0.3 4.3M81.8 57.2l0.1 2.9M92.1 53.5l-0.2 2.4M70.5 7.6l-0.6 3.9M48.8 4.7l-0.6 3.3M10.4 34l-0.6 2.4M13.1 59.1l0.5 3.5M93.4 23.9l0.2 3.4M57.1 19.3l0.6 2.4M22.5 8.4l0.3 1.9M33.8 56.4l0.5 1.9M58.2 2.3l0 2.6M71.2 4.1l-0.6 3.8M10.6 16.6l-0 2.5M20.6 12.5l0.3 3.9M96 30.9l-0.5 4.2M-1 30.9l-0.5 4.2M24.8 11.9l-0 3.8M76.6 50.3l0 1.8M87.4 22l-0.1 1.6M62 46.3l-0.1 2.2M52.4 6.4l0.1 3.8M46.4 13.8l-0.5 3.6M25.3 48.3l-0.6 1.6M72.7 56.8l0.6 3.6M60.1 23.6l-0.1 2.8M27.4 6.8l0.2 3.1M14.1 18.7l0.6 4.1M38.4 44.4l0.3 3.2M37.5 44.8l-0.6 3.9M52.2 43.3l0.4 4.2M63.8 6.7l-0.6 4.1M62.9 42.1l0.4 2.8M72 3.5l-0.6 4M59.6 51.3l-0.4 2.1M7.1 28.6l0.2 4.2M27.2 60l-0.5 3.1M71.3 44.5l0.5 2.4M22.3 25.5l0 3.2M93.1 59.3l0 2.1M14.9 7.8l-0.6 4M85.1 27.1l-0.2 2.8M63.5 28.4l-0.1 4.1M61.2 24.6l-0.5 2.7M64.6 46.9l0.2 4.2M66.2 1.3l0.4 2.6M95.1 10.1l0.5 2.8M-1.9 10.1l0.5 2.8M38 2.4l-0.2 1.4M28.2 44.5l-0.3 1.4M88.2 35l0.5 3.5M12.8 2.9l0.5 2.3M49.4 10.6l0.6 2.6M95.5 13.8l-0.4 3.1M-1.5 13.8l-0.4 3.1M7.5 25.6l0.4 4.2M91.3 4.2l0.6 2.9M2.8 45.3l0.6 2.4M57.6 18.6l0.5 3.8M9.2 60.5l0 2.5M26.6 28.6l0.5 1.8M11.8 43l-0.2 3.9M95.5 33l-0.1 4.3M-1.5 33l-0.1 4.3M55.1 45.3l-0.3 4.4M43.2 37.4l0.6 4.2M40.8 39.9l0.5 2.1M46.6 9.2l0.1 4.2M42 0.8l-0.6 1.5M37.1 1.7l-0.1 4.4M59.2 26.1l-0.4 3.2M47 32.5l-0.6 3.8M74.5 46.3l0.2 3M47.9 52.2l-0.6 2.2M72.1 20.4l-0.3 1.4M27.6 0.3l-0 3M28.2 38.5l-0.3 1.6M4.3 43.6l-0.2 3.1M83.5 31.6l-0.1 1.4M86.6 24.7l0.6 2.5M68 40.1l-0.5 1.5M75.9 52.2l0.5 4M1.4 58.6l0.4 3.3M98.4 58.6l0.4 3.3M22 29.7l0.5 1.4M26.6 38.1l-0.2 1.6M38.2 42.2l0.1 2.2M6.8 38.8l0.1 1.7M23.3 1.7l-0.6 3.5M90.7 2.8l-0.6 2M96.9 39.7l-0.6 3.7M-0.1 39.7l-0.6 3.7M22.3 55.2l0.4 1.9M42.7 13.8l-0 2.2M95.8 18.1l-0.6 2M-1.2 18.1l-0.6 2M42.4 33.2l-0.5 2.4M31.6 18.8l0.6 2.8M50.9 12.7l-0.3 3.5M12.6 40l-0.6 2M35.3 3l-0.6 3M54.9 16.3l-0.5 3M42.9 34.9l0.5 1.5M65.8 20.4l-0.1 3.4M93 27.3l0.1 2.6M29.7 18.6l-0.6 1.8M49.9 54l0 2.7M16.9 5.5l-0.5 4.1M45.9 10.3l-0.3 4.1M12.3 5l0.2 1.6M33.9 47.1l-0.3 1.7M16 39.1l-0.6 3.5M47.6 6.4l0.1 4.2M6.4 9.7l0.4 1.9M26.5 17.3l-0.3 1.7M49.7 57.9l0.2 2.7M88.6 49.6l0 2.7M22.4 32.2l-0.3 3.1M8.3 25.9l0 3.9M33.3 28l-0.4 2.2M29.2 11.5l0.3 1.5M33.9 10.1l0.1 1.8M71.5 9.3l-0.6 1.8M91.5 20.1l-0 2.6M29.8 55.5l-0.5 4.2M46.7 17.4l0 1.7M90.8 15.6l-0.5 2.4M69.7 4.3l-0.5 2.7M56.1 37.4l0.5 2.6M44.8 55.1l-0.1 2.6M18.4 53.1l-0.3 4M37.1 2.2l0.4 2.1M6.1 37l0.4 4M84.4 21.9l-0.3 2.8M82.9 34.2l0.5 3.5M64.5 10.9l-0.2 3.3M35.8 28.1l-0.3 2.4M23.5 49.9l0.2 3.9M27 26.8l0.6 4.3M23.2 29.2l0.2 3.5M19.2 29.2l0.6 2.9M75.5 6.7l0.3 3.8M21.9 23.3l-0.2 1.7M64.8 46l-0.3 2.7M26.5 3.4l0.6 1.8M10.7 51.2l0.5 1.5M75.9 15l-0 4.3M14 7.3l-0.3 2.1M17.2 10.1l0.2 2.6M15.8 14.3l-0.1 4.3M79.1 23l0.3 3.9M79.7 23.1l-0.5 1.8M77 3.4l0.1 2.8M38.1 43.6l-0.3 3.7M48.9 41.4l-0.2 2M62.5 19.1l-0.6 3.9M56.9 6l0.6 3.9M88.4 33.1l0.2 3.3M50.8 8.7l-0.2 4.3M96.1 3.9l-0 2.1M-0.9 3.9l-0 2.1M55.4 31.8l-0.6 2M39 26.5l-0.1 1.6M45.1 12.8l0.5 3.2M64.1 6.7l-0.3 4.3M75.9 26.8l-0.4 1.6M41 46l-0.6 2.8M77.5 46.7l0.6 4.4M36.3 9.4l-0.5 4.2M0.4 47l0.2 3.9M97.4 47l0.2 3.9M68.8 41l0 2.1M72.6 1.4l0.4 3.4M94.4 38.1l0.6 2.1M88.2 13.9l-0.2 2.5M23.7 38.8l0.6 3.5M54.8 46.5l-0.3 2.9M37.4 38l-0.3 1.9M21.7 2.3l-0.1 2.4M85.1 2.8l0.1 1.6M38 56.6l-0.3 3.6M69.3 45.8l-0.5 3.5M40.7 41.3l-0.2 1.8M39.6 14.8l0.4 3.7M16.6 0.4l0.5 2.6M36 23.4l-0.5 3.3M4.7 28.1l-0.4 3.7M63.1 58.4l-0.1 1.8M52.3 6.5l-0.2 1.8M59 7.5l-0.2 1.8M90.3 42.3l-0.5 3.2M13.1 52.9l-0.4 4M94.8 53.7l-0.4 2.9M75.6 10.6l0.2 3.4M71.1 30.9l0.6 1.9M31.8 53.6l0.3 2.8M39.6 5.5l-0.4 3M67 9.3l-0.2 2.5M54.5 9.9l0.4 3M22.9 18.8l0.1 3.9M76.6 17.1l0.6 3.3M45.7 41.2l0.5 2.9M93.9 43.6l0.4 4M75.5 37.8l-0.2 3M20.7 28.5l-0.4 4.3M7.1 13l-0.4 2.1M91.8 42.1l-0.4 3.5M21.6 31.8l0.1 2.8M51.6 59.8l0.6 1.5M11 44l-0.3 3.6M18.8 2.4l0.1 2.4M11.9 36.1l0.2 3.4M12.6 39.1l0.4 2.1M14.2 10.1l-0.3 1.5M14.7 21.6l0.1 2.5M34.4 14.8l-0.2 3.1M16 20.3l-0.6 1.4M20.7 14.2l-0.4 1.8M84.6 58.9l0.2 1.7M14 5.2l-0.4 1.8M16.8 13.3l-0.4 1.7M9.9 12l-0.6 3.3M83.8 9.7l-0.2 2.9M13.3 59.4l0.2 2.1M80 29.2l0.3 2.2M50 12.8l-0.2 3.5M56.2 52.4l0.2 3.8M14.9 27.1l-0.5 3.1M87.8 10.3l-0.5 2.1M2.3 23.9l0.5 2.3M60.5 44.3l-0.3 4.4M14.4 17l-0.3 4.4M21.9 1l0.2 2.1M58.8 28.8l0.2 3.5M23.1 11.3l0 3.9M73.8 21.5l0.1 2.6M18.4 45.5l-0.5 3.6M90.9 22.2l-0.2 3.1M67.1 19.9l-0.6 3.2M29.6 40.6l0.5 1.6M43.7 29.9l-0.4 1.4M34.5 32.5l-0.2 2.5M94.1 6l0.3 3.8M85.7 13.9l0.3 3.4M54.1 9.2l0.2 4.2M13.6 49.3l-0.1 3.5M83.2 36l0.5 2M67.1 14.6l0.4 3.4M85.5 21.5l0.2 1.9M53.5 49l0.1 4.2M33.3 7.4l-0.5 3.2M22.7 59.5l-0.2 3.9M37.5 60.3l0.1 2.5M67.2 27l0.4 3.7M89.1 49.8l-0.5 3.6M47.6 0.7l-0.6 1.6M79.1 21.9l-0.1 3.2M56.9 12.1l-0.5 2.2M30.1 20.1l0.2 2.6M45.1 36.8l0.5 4.4M26.4 35.5l-0.3 2.5M67.9 57.5l0.4 4.2M14.9 44.3l-0.2 3.2M91 37.6l-0.1 1.4M76 28.5l-0.3 3.2M5.3 41l-0.5 4M36.7 9.9l0.3 2.5M55.8 35.6l0.3 3.3M32.4 49.2l0.4 3.2M43.1 1.7l-0.4 4.3M59.9 56.1l-0.4 1.5M57.3 14l-0.3 4M49.3 56.7l0.2 2.4M70.8 8.6l0 2.8M39.8 48.6l-0.4 2.6M10.5 34l0.3 3.5M24.6 31.5l0.1 1.9M91.8 29.1l0.3 2.9M34 2.6l-0.3 1.5M8.2 2.8l0.6 3M95.1 15.3l-0.2 1.6M-1.9 15.3l-0.2 1.6M43.5 58.8l-0.6 4.3M20.8 43.9l0.5 2.5M79.9 46.5l0.4 4.3M9.2 3.2l0 2.9M64.4 56.7l-0 3.1M85.8 13.3l0.4 2.3M25.3 17.1l-0 2.6M76 11.4l0.1 1.7M22 47.8l0.4 3.1M18.1 31.6l-0.6 1.7M33.8 41.6l0.3 3.7M53.4 59.1l-0.3 1.5M21.2 35.5l0.1 4.4M70.8 1.9l0.2 4.3M7.2 21.5l-0.5 4.3M7 53.4l-0.5 4M86.4 31.8l0.3 2.3M23.7 27.2l0.1 3.8M43.3 50.8l-0.4 3.2M85.7 52.2l-0.6 4.2M94 59.6l-0.4 1.5M54.4 31.7l0.4 4.4M64.6 36l0.5 1.9M36.7 1.8l0.4 1.9M25.9 3.1l0.2 2M81.8 27.3l0.1 2.5M12.3 11.3l-0.1 2.7M68.4 50.3l0.5 1.9M3.1 5.2l-0.2 2.9M0.9 37.7l-0.6 3M97.9 37.7l-0.6 3M11.6 19.3l0.5 3.6M6.7 27.9l0.4 2.6M67.1 47.6l-0.6 2.7M87.2 0.8l-0.3 2.7M66.7 56.5l-0.6 2.6M56.1 37.6l-0.2 3.2M84.6 30l-0.6 4M69.7 11.3l-0.2 4.1M42.8 32.2l0.4 3.5M59.3 58.6l-0.4 2.3M50.7 0.2l0.5 4.4M77.3 33.6l0.1 4.3M4.5 14.1l0.5 2.9M23.1 53.6l-0.3 4.1M56.2 0.2l0.4 1.5M57.3 32.3l0.6 3.8M54.7 31.2l0.3 3.7M78.1 4.8l-0.4 3.4M66.3 4.1l0.6 4.2M56.8 51.7l0.6 1.5M65.2 33.2l-0.5 2M72.5 30.6l0.3 3.2M56.9 56.9l0.1 1.7M3.7 17l0.3 2.3M42.8 47.9l0.3 4M63.9 54.7l-0.3 4.2M88.7 34.8l0.4 3.3M78.7 49.1l-0.2 3.3M64.7 23.7l0.2 1.9M32.3 54.4l-0.4 4.2M2.5 12.6l0.4 3.9M8.2 58.4l-0.4 2.5M11.6 14.5l-0 1.7M37.1 54.1l-0.4 3.7M44.2 6.9l-0.4 3.8M91.9 30.9l0.3 2.2M31.8 3.8l0.2 4.2M31.4 33.6l0.4 3M84.4 43.4l-0 2.6M82.8 38.1l-0.5 4M66.2 7.4l-0.5 4.3M52.8 12.6l-0.2 4.3M36.4 56.2l-0.5 2.2M63.7 60.4l0 3.6M36.8 2.6l0.1 3.4M70 59.2l-0.2 4.1M41.8 58.7l-0.5 2.5M93.3 29.8l0.1 1.7M9 5.2l0.1 3.3M13.5 4.1l-0 2.8M36.5 16.6l-0.1 2.5M67.6 13.4l0.1 1.7M38.6 52.9l-0.3 3.1M96.2 20.7l0.5 2.5M-0.8 20.7l0.5 2.5M33.2 59.8l0.4 1.5M53.1 39.7l0.5 4.2M92.5 31.7l-0.1 3.9M95 53.1l-0.5 2.3M-2 53.1l-0.5 2.3M6.7 31.2l0.1 2.1M53.7 44.2l-0.3 3.2M4 47.3l-0.5 3.7M11.6 17.9l0.4 3.4M0.5 40.4l0.4 4.1M97.5 40.4l0.4 4.1M76.1 44.9l-0.3 3.6M27 30.4l-0.5 3.5M27.9 6.6l0.1 1.5M31.9 19.9l-0.1 3.6M47.6 57.7l-0.3 2.9M58.8 54.4l0.4 1.6M67.8 48.2l0.1 3.3M43.9 47.6l0.1 2.1M13.6 1.3l0.5 4.3M15.1 43.7l0.2 4.2M17.1 41.8l0.2 3.9M95.1 10.9l0.2 2.4M-1.9 10.9l0.2 2.4M65.1 34.4l0.6 2.4M36.8 44.7l0.4 4M40.9 56l-0.1 1.5M36.6 54.2l0 3.3M88.7 56.4l-0.3 2.4M51 13.6l-0.6 1.5M17.4 15.1l0.3 4.3M23.9 54.6l0.4 2.5M58.6 19.1l0.1 1.4M94.7 8l0.3 3.9M84.2 42.1l0.5 3.6M26.1 12.1l0.1 4M34.1 49.1l-0.2 1.7M47.5 30.8l0.5 3.6M8.4 20.4l-0.6 1.9M12.1 6.9l0.6 2.2M25.6 2.2l-0.4 2.2M44.1 53.3l0 2.5M39.7 59.6l-0.6 2.2M10.6 10.1l0.3 3M88.7 0.1l0.2 3.3M74.5 4.6l-0.3 3.1M75.4 43.8l0.6 3.8" stroke="#46a551" stroke-width="0.9" stroke-linecap="round" fill="none" opacity=".8"/>
<path d="M83 33.2l-0.3 1.8M94.3 17.9l0.3 4M60.6 50.9l0.2 3.3M6.5 54.4l0 3.3M90.5 31.3l0.3 1.5M86.5 55.4l0 3M44.9 18.4l0.6 4.1M38 43.3l-0.2 2.3M78.8 36.5l0.4 3M41.7 57.8l0.5 3.5M36.3 6.4l0.5 2.2M5.8 28.3l-0.2 3.8M1.6 0.2l-0.4 4M98.6 0.2l-0.4 4M43.4 19.8l-0.2 2.6M20.6 10.8l0.5 3.8M4.8 19.5l-0.3 1.4M81.3 32.6l-0 2.2M92.9 12.1l0 3.6M94.8 8.9l0.2 2.8M65.4 5.3l0.6 2M65.2 33.7l-0.5 3.3M94.8 8.7l0.2 3.5M64.7 43.7l-0.1 1.5M43.6 37.7l0.4 3.2M39.3 37.5l-0.3 2.4M19.5 25.4l0.4 3.9M82.5 49.3l0.4 3.8M43.9 8.6l-0.6 4.2M81.8 11.6l-0.2 3M52.2 2.1l0.1 1.8M47.2 24.3l0.6 2M77.4 41.6l-0.3 3.3M23.9 15.8l-0.4 3.6M0.1 41.1l0.4 3.4M97.1 41.1l0.4 3.4M51.2 24.5l-0.4 3.4M54.2 34.3l0.2 4.3M20.1 36.9l0.6 4M61.9 29.3l0.5 2M71.5 46.3l0.6 2.7M84.4 53.5l0.4 3.8M73.4 16.6l0.5 2.5M59.5 28.5l-0.6 3.6M5.6 57.2l0.2 3.9M8.1 2.4l0.5 2.3M90.1 6.6l0.5 3M7.4 14.9l-0.3 2.7M22.5 20.9l0.2 1.8M37 23.5l-0.5 4M26.2 54.9l0.1 4.1M54.6 5.4l0.1 2.1M66 28.9l0.1 4.3M42.4 16.3l-0.4 2.7M74.1 28.9l-0.1 2.5M10.1 8.5l-0.4 1.5M11.5 7.7l-0.6 4.1M15.4 51.2l-0.1 3.1M32.2 47.3l-0.3 4.2M3.9 4.4l-0.2 1.6M6.3 48.3l0.1 2.5M26.5 50.7l0.1 3.7M80.6 19.8l0.6 3.9M87.6 30l0.2 3.1M62.9 6.9l0.4 2.8M27.9 49.7l0.4 3M61.7 11.3l-0.2 2M90.4 1.1l0.2 1.4M42.6 2.3l0 2.9M66.5 23.5l0.3 1.8M86 17.1l0.5 2.8M77.3 9.2l0.3 3.5M40.9 1.5l-0 3.1M64.2 5.6l0.6 2.1M49.5 18.5l0.1 3.9M66.2 20.5l0.4 2.6M86.6 15.8l0.1 3.2M77.5 39.5l-0.3 4.3M82.8 11.4l0.1 2.5M90.7 27.2l0.6 4.2M79.1 0.6l-0.4 2.4M56.8 7.2l-0.4 1.8M76.2 3.1l0.2 2.6M0.8 54.6l-0.4 2.4M97.8 54.6l-0.4 2.4M96.5 34.8l0.1 3.7M-0.5 34.8l0.1 3.7M51.5 15.4l-0.5 3.1M88.9 35.3l0.4 2.7M66.6 51.1l0 2.8M20.1 22.8l-0 4M85.7 2.6l-0.6 1.6M1.9 8.2l0.3 2.3M98.9 8.2l0.3 2.3M59.1 25.9l0.6 3.3M45.8 22.8l-0 2.4M16.1 37.7l0.3 3.6M77.4 33.2l0 1.6M71.7 35.1l0.3 1.7M30.3 56.5l-0.2 2.1M5.7 13.9l-0.3 2M51.1 19.4l0.6 3.7M69.4 55.6l0.6 2.7M92.9 58.4l-0.5 2M42.1 33.9l0 3.6M74.3 24.6l-0.4 3.3M47.1 37.4l-0.4 3.3M8.1 28.4l0.2 1.6M88.3 44.1l-0.2 4.1M94.4 29.4l0.3 1.4M38.5 36.2l0.2 2.6M41 52.6l0.5 3.1M7.2 4.4l-0.2 3.5M26.9 49.2l0.4 2.3M8.1 14.1l0.4 1.7M24.9 45.8l0.1 3.9M90.7 32.7l-0 2M24.1 52.4l0.2 1.8M79.8 31l-0.1 4M26.7 38.3l0.1 4.2M26.1 19.7l-0.2 4M79.1 54.5l0.6 1.6M28.5 54.1l0.3 1.7M2.8 40.6l-0.6 3M18 18.7l-0.2 2M2 15.3l-0.6 3M80.5 51.3l-0.1 4.1M55.5 32.7l-0.5 2.6M88.6 45.5l-0.4 2.1M68.2 2.6l-0.1 2.4M38 11.8l-0.4 2M29.6 18.7l-0.4 1.7M51.2 41.2l-0.6 3.9M58.1 27l-0 2.7M30.2 47.6l-0.5 3.9M56.3 49.6l0.4 4.1M71.8 27.7l-0.6 4.3M17.2 47.2l0.3 4.3M64.2 31.1l-0.2 4.1M27.1 60.4l0.2 2.2M80.6 44.6l0.1 3.5M25.7 11.8l-0.2 3.5M51.9 20.2l0.2 2.5M20.7 17.2l0.3 3.7M39.7 30.8l0.2 3.1M10.6 5.6l0.6 1.7M20.7 19.8l0.5 2.6M89.7 46.6l-0.3 1.4M79.9 41.6l0.3 3M15.6 9.1l0.2 2.9M21.3 2.5l-0.1 4.1M96.2 39.9l0.6 2M-0.8 39.9l0.6 2M32.2 51.2l0.5 2.6M36.7 27.9l0.1 1.8M34 33.2l0.3 1.6M29.6 30.6l0 3.8M56.5 21.9l0.5 2.9M61.1 46.4l-0 3.3M43.8 25.3l-0.2 4.2M67.7 25.6l-0 3.4M23.8 24.5l-0.4 2.6M34.2 6.3l-0.6 2.5M26.8 36.1l-0.3 4.1M85.1 6.5l0.6 1.9M44.7 30.4l0.2 3.5M66.5 43.1l-0.4 3.1M26.6 21.3l0.4 2.2M26.9 15.7l0.4 2.2M68.1 17.8l-0.1 3.8M19.4 14.2l-0.2 4.1M84.8 51.4l0.5 2.4M35.6 47l0.5 2.2M26.8 23l0.5 2.9M16.6 14.5l0.5 3.8M19.1 4.9l-0.2 1.5M83 28.3l-0.3 2.1M44.4 31.1l0.5 3.1M13.2 15.1l0 4M10.7 24.7l-0.3 3.1M58.2 46.7l0.4 2.2M5.1 47.2l-0.2 3.5M55.8 9.8l0 4M46.1 3.9l0.1 2.2M37 47.2l0.5 3.1M38.4 18.7l0.3 1.7M25.8 58.9l0.4 1.4M85.3 2.8l-0.4 3.8M49.4 25.1l0.5 2.2M14 36.4l-0.3 3.8M86.4 23.3l-0.6 4.1M41.7 52.4l-0.2 2.9M89.2 24.4l-0 3.4M25.8 14.4l0.1 3.2M79.8 49.8l-0.3 2.3M9.9 15.1l0.4 2.9M22.2 0.7l0.5 3.4M39.1 22.5l-0.3 3.1M81.5 17l-0.3 4M59 9.6l-0.3 2.7M8.9 39.3l-0.5 3.3M80.2 13.8l0.1 4M34.5 38.7l-0 3.4M37.4 23.8l0.3 2.8M93.7 32.4l-0 1.8M9.9 40.6l0.5 3.5M93.5 41.2l0.3 2.5M44.8 23.2l-0.6 3.2M74 29l-0.2 2.6M45.3 26.1l-0.4 2.7M33.4 56l0.6 4.1M92.3 7.5l-0.1 3.6M51.8 33l0.2 3.4M24.9 48.4l0.1 3.1M86.5 25.5l-0.3 4M15.1 44.7l0.6 3M88.1 39.2l-0.5 1.8M12.5 58.8l0.3 3.6M89.8 18.3l-0.2 2.3M92.1 10l0.2 3.7M53.8 59.9l0.4 1.8M29.6 49.1l0.4 2.9M39.4 14.8l0.3 2.9M50.7 20.8l0.2 2.3M80.4 33.1l-0.4 1.9M85.1 31l0.4 1.5M90.5 19l0.1 3.1M56.9 21.6l-0.5 2.5M11.3 50.7l-0.3 2.2M16.5 49.3l0.2 3.2M75.7 15.6l0.5 4M19.9 59.2l-0.5 1.7M79.9 46l-0.2 3M11.2 4.3l0.5 2.3M68.6 19.9l-0.6 1.9M95.7 41.8l-0.1 1.6M-1.3 41.8l-0.1 1.6M73 41.3l0.2 3.5M23.9 9.9l-0.4 1.7M16.7 14.6l0.1 2.8M41 13.6l0 4M13.2 48.1l0.3 1.8M55.4 11.7l0.5 3.6M94.9 51.4l0.4 2.5M22.6 29.2l-0.2 3.1M67.5 21.6l-0.4 3.9M91 30.7l0.5 4.2M10.7 14l0.1 3.8M18.3 1.3l-0.3 3.3M70.7 49.1l-0.1 3M96.6 8.4l-0.6 3.9M-0.4 8.4l-0.6 3.9M80.9 43l-0.3 2.7M76.7 38.1l-0.2 2.3M37.4 11.9l0.6 2.7M69.6 59.9l0.6 3M90.5 5.9l-0.4 2.9M51 21.2l0.3 1.8M44.6 13.1l-0.6 4M54.3 15.3l0.1 1.6M30.7 48.9l0.2 2.4M90.1 4.5l-0 3.1M17.3 57.3l-0.3 4.2M13.5 30.1l-0.2 1.4M58.9 12.7l0.3 4.2M40 36.9l-0.4 3.3M8.4 48.9l-0.4 2.1M66.6 2.9l0.1 2.4M60.5 16l-0.2 4.3M62 33.9l-0.3 1.5M81.8 39.6l-0.3 3.2M0.1 22.6l0.6 3.6M97.1 22.6l0.6 3.6M15.7 7.7l-0.1 1.5M91.8 21.6l-0.6 3.4M46.4 17.8l0.5 2.2M14 6.3l0.5 2.7M87.9 33.9l0.1 3.4M23.6 7.3l-0.4 4.3M39.2 39.3l-0.5 2.7M83.5 31l-0.1 3.1M54.6 32.6l-0.1 3.4M27.8 14.5l0.5 3.3M28.6 24l0.5 2M57.6 22.6l0 3.1M69.5 48l-0.3 3.2M57.4 16.5l-0.4 1.6M27.5 39.8l0.4 3.2M30.9 2.4l-0.5 3.4M8.5 44.1l0.2 2.8M45.6 59.6l0 3.3M77 36.4l0 3.9M8.1 35.4l0.3 3.7M29.2 24.7l-0.6 3.1M63.2 13.9l0 2.3M74.6 57.1l0.4 2.4M16.5 10.9l0.3 3.2M88.4 24.1l0.3 3.4M51.4 10.1l-0.5 2.6M26.6 52.3l0.1 2.1M52.3 47.4l-0.1 4.1M29.3 48.9l0.5 2.8M91.2 17.8l-0.6 4.1M91.3 43.8l-0.2 1.6M69.1 11.5l0.4 2.2M32.2 1.3l-0.6 2.2M90.6 5.8l0.6 2.7M30.9 14l0.6 3.7M96.3 19.5l0.5 1.4M-0.7 19.5l0.5 1.4M35.8 50.7l0.1 2.6M63.1 50.5l-0.6 2.9M18.4 31.2l0.6 3.3M21.6 32.4l0 2.7M92.4 53.7l-0.2 1.6M60.5 37.3l0.1 1.7M87 10l0.6 3M94.5 26.6l0.4 2.7M31.1 14l0.2 1.4M25.5 13.1l-0.6 2.6M83.6 16.8l-0.1 2.2M36.5 40.9l-0.5 1.9M34.7 28.8l0.6 2.9M86.7 7.9l0.1 1.5M11.2 52.9l0.4 1.8M69.4 31.3l-0 3.7M76.6 14.7l-0.6 3.4M29 2l-0.2 2.7M30.9 25.4l-0.3 3.4M60.6 8l-0 1.6M75.7 8.9l0.1 3M29.7 51.5l-0.1 3.4M32.8 60.5l-0.2 1.4M9.2 60.5l-0.6 1.9M79.4 45.1l-0.5 3.8M44.6 44.4l0.6 3.6M10.7 3.2l0.5 1.5M17.1 9.7l-0.6 2.1M21.2 33.2l-0.5 3.5M21 42.5l-0.4 4.3M66.3 57.3l-0.2 3.4M84.9 53.6l0.5 4.3M9.9 58.3l-0.3 3.5M22.7 40l0.5 1.4M6 51l0.6 3.4M61.8 43.6l0.1 2.8M9.8 11.9l-0.3 2.9M82.6 4l-0 3.5M32.3 45.2l0 1.9M70.7 27.7l0.2 1.8M9.7 46.8l0 1.6M17.5 6.2l0.2 1.8M57.2 25.5l0.5 2.7M93.6 5.5l-0.6 4.1M14.4 8l0.1 3.1M37.7 33.4l0.4 1.9M47.5 27.8l0.6 3.7M46.9 15l-0.4 1.7M39.3 51.4l0 2.5M94.3 16.2l-0.5 2.8M31.8 46.9l0 1.6M2.9 54.5l0.3 2.9M57.3 7.5l-0 3.1M24.1 28.4l-0.5 1.7M62.3 1.3l-0 2M6.2 13.2l-0.4 2.8M19.8 24.8l0.5 1.9M71.9 34.6l0.6 3.1M35.3 23.7l-0 2.5M47.2 40.5l-0.5 1.4M49.1 1.5l-0.2 4.1M65.9 56.5l0.6 3.2M14.9 40.9l0.3 2.4M3.6 37.8l-0.5 1.7M1.6 10.8l-0.1 3M98.6 10.8l-0.1 3M4.9 40.8l0.6 4.1M87.3 5.5l-0.6 4.1M3.1 53.6l0.5 2.9M91.6 49.6l0 1.7M22.3 22.4l0.4 2.6M62.9 0.1l-0.3 2.4M10.5 17.3l0.2 3.7M56.4 23.5l-0.6 2.4M62.2 3.9l0.2 3M56.6 36.3l-0 2.3M70.3 29.1l-0.1 2.3M16 53l-0.1 3.5M84.8 29.5l0.6 1.8M27.2 44l-0.4 2.3M2.6 30.8l0.4 1.7M20.2 31l0.2 2.2M84.8 14l0.1 2.3M57.8 41.9l-0.3 3.4M48.4 39.2l0.6 1.4M20.2 60l0.6 1.5M60.5 37.8l-0.5 1.9M56.2 24.7l-0.4 2.8M18.5 44.6l-0.3 2M78.8 27.8l0.6 4.3M73.5 43.3l-0.2 1.9M19.4 7l0.3 3.6M19.2 10.7l0.2 3.4M49.8 42.2l0.6 2.6M35.8 57l-0.2 3.9M62.1 44.3l0.3 2.2M31.3 27.4l0.2 2.4M11.7 42.7l0.4 2.4M38 25.3l0.4 1.7M92.7 51.4l-0.4 2.6M53.6 5.6l0.1 1.9M21.8 21.8l-0.3 1.9M65.6 41.3l-0.6 1.9M89 47.4l-0.6 4.1M21.5 41.7l-0.6 3.3M52.4 31.9l0.4 1.8M76.1 36.3l-0.6 3.4M13.6 41.9l0.4 2.4M39.2 53.3l-0.3 2.3M30.1 37.4l-0.2 2.6M41.2 19.5l-0.1 3.3M31.3 46.5l-0.5 1.6M54.5 18.8l0.1 3M35.1 43.2l0.4 2.7M12.7 55.5l0.6 2.4M37.5 32.1l-0.5 3.8M79.8 51.7l0.6 3.1M13.8 6.8l-0.3 4M36.8 4.2l-0.4 3.2M81.7 4.4l-0.3 2.5M95.8 32.7l-0.6 2.2M-1.2 32.7l-0.6 2.2M24.3 45.3l-0.5 2.4M48.3 51.8l0.6 4.3M45.3 39.2l-0 2.4M33.3 15.8l-0.5 3.7M50.2 47.9l-0.3 1.9M67.9 35.6l0.3 1.5M66.8 36.5l-0 2.3M51.4 10.8l0.4 4.4M12.5 56.1l-0.3 2.4M58.2 48.1l0.2 4.3" stroke="#2b7433" stroke-width="1.0" stroke-linecap="round" fill="none" opacity=".8"/>
<path d="M47.1 9l-0.5 4.3M79.3 6.7l-0.6 3.7M9.6 6.8l-0.6 3.7M81.9 45.1l0.5 1.4M52.8 18.6l0.2 1.6M95.7 47.3l0.6 4.1M-1.3 47.3l0.6 4.1M90.5 3.4l-0.5 4M53 56.2l-0.6 3.6M81.1 7.4l0.4 2.9M36.1 49.1l-0.1 3.9M17.9 34.4l0 2.3M4.5 51.9l0.4 1.8M69.5 22.7l0.4 2.8M31 14.5l-0.2 3.5M53.4 13.3l-0.5 2.1M82.6 18.7l0.5 2.3M87.1 58.3l-0.6 2.5M6.8 20.8l0.2 2.4M6.8 30.9l0.3 3.4M70.9 21.6l0.3 4M58.7 44.1l-0.3 2.1M42.2 50.1l0 2.3M44.5 25.1l0.5 2.2M6.1 57.6l-0.2 2.4M37.6 53.1l0.5 1.5M87.9 5l-0.5 3.5M71.7 16.1l-0.3 2.4M84.8 49.4l-0.3 2.9M19.2 32l-0.2 1.5M51.3 39.2l0 4.2M15.5 17.6l-0.5 2.5M82.9 14.4l-0 1.9M46.6 14.8l-0.2 3.7M20.1 14.1l-0.3 3.1M61.2 29.5l-0.1 3.5M74.6 34l0.1 1.9M21.1 52.6l-0.6 2.3M52.8 52.2l-0.2 2.9M94.5 9.9l0.2 3.3M67.9 41.1l-0.5 2.7M46.1 19.7l0.4 4.2M72.1 16.2l0.3 2.6M46.2 0.9l0.5 2.1M9.8 48.9l0.5 3.2M50 36.6l0.2 1.7M18.4 5.8l0 1.6M87.9 58.6l-0.3 2.5M87.3 56.9l0.6 2.7M36.5 48.9l0.5 2.5M54.5 8l-0.4 3.8M43.2 58.6l-0.5 1.5M51.8 42.6l0.6 2.7M45.2 27.4l-0.4 2M90.9 43.3l0.2 3M87.5 50.4l-0.4 1.5M75.1 52.4l0.4 3.4M84.4 31l-0.4 4.1M94.2 52l0.1 2.4M95.6 25.9l-0.5 1.5M-1.4 25.9l-0.5 1.5M94.6 56.5l-0 1.5M12.5 49.2l-0.2 2.1M1.3 28.8l0.4 2.2M98.3 28.8l0.4 2.2M79.1 14.1l-0.1 2.2M81.4 21.6l0.3 3.3M72 57.6l0.3 1.8M79 28.1l-0.4 3.3M68 51l-0.3 4.4M41.6 46l-0.1 2.4M90.1 3.5l-0.1 2.1M60.6 53.9l-0.1 1.4M38.8 55.8l0.1 2.6M84.8 11.6l-0.3 2.9M53.1 58.9l0.4 2.5M91.7 51.7l0.3 3.9M5.5 50.4l-0.4 2.3M6.6 17.9l0.2 2.3M73.9 9.1l0.3 3.8M48.8 44.2l-0 3.2M21.9 34.6l-0.4 4M53.7 34.5l-0.6 2.4M9.6 52.9l-0.6 3.1M32.4 28.8l-0.1 3.7M49.2 11.8l-0.3 3.8M70.7 23.7l-0.5 3.7M70.9 24l0.6 2.1M65.3 47.9l-0.6 2.5M7.3 27l0.5 4.4M30.1 19.3l0.5 3.1M78.1 50.3l0.4 2.2M18.4 17.2l0.2 3.1M19.4 29l-0.5 2.7M76.1 34.3l-0.1 4.2M32.7 7.9l-0.6 2M18 27.1l0.1 2.4M41.2 48.3l0.2 2.2M19.8 13.4l0.1 1.6M30.7 15.4l-0.5 3M29.9 28.1l-0.4 3.5M14.6 48.4l0.5 3.2M42.7 39l0.1 2.3M75.4 17.1l0.3 3.6M52.6 47.4l-0.5 2.5M2.5 16.6l-0.5 2M85.1 16.2l0.3 2M93.9 1.2l0.4 4.1M28.9 1.3l-0.6 3.6M71.3 0.3l-0.1 2.1M44.4 44.9l0.1 4M50.3 5.8l-0.3 1.7M83.4 26.6l0.2 3.1M96.2 38.3l-0.6 3.1M-0.8 38.3l-0.6 3.1M45.1 1.2l-0.6 1.6M64.8 41l0.5 4.1M87 58.1l-0.3 3M3.7 40.5l-0.5 3.9M32.8 58.7l0.4 2.1M21.5 4.5l0.2 3.3M6.9 16.5l0.1 2.3M32.4 24.1l0.4 4.2M76.2 1.1l0.5 3.8M73.6 51.1l-0.5 2.3M38 32.2l0.1 3M28.6 9.2l-0.4 2.1M28.4 24.1l0.2 3.7M83.3 44.8l0.4 1.8M67.6 28.4l0 4.1M0.9 37.7l-0.3 3M97.9 37.7l-0.3 3M44.9 6.2l-0.6 1.5M65.2 22.2l-0.6 3.8M77.3 59.3l-0 3.4M3.2 21.3l-0.2 2.8M0.5 51.2l-0.3 3.9M97.5 51.2l-0.3 3.9M95.7 27.9l-0.3 4.2M-1.3 27.9l-0.3 4.2M81.7 35.4l0.4 3.4M5 34.8l0.1 3.4M83.3 15.9l-0.4 3.8M8.5 27.7l0.2 3.2M85.4 2.2l-0.1 3.7M41 18l-0.1 3.3M13.1 10.1l0.6 2.7M22.7 12.1l-0.2 2M11.1 49.2l0.5 3.8M49.8 2.6l-0.5 4.3M68.8 27l-0.3 3M70.6 40.5l-0.1 2.3M18.6 7.8l-0.3 2.9M93 9.4l0.6 3.5M26.1 30.5l0.2 2.3M45.4 28.8l0.1 1.9M96.8 29l0.5 3.4M-0.2 29l0.5 3.4M86.9 18.8l-0 2.9M49.5 2.8l-0.2 3.3M36 52.9l0 2.6M83.7 22.9l0.3 2M2.5 17.5l0.1 3.7M67.9 8.6l-0.1 2.9M93.5 26.4l-0.5 1.6M7 53.2l0.2 2.6M78.6 52.1l0.6 3.9M96.1 40.9l0.4 1.5M-0.9 40.9l0.4 1.5M90.8 30.7l0.5 3M49.8 7.6l-0.2 3.4M46.9 19.8l-0.6 1.9M64.8 32.6l0.1 4.3M22 41.8l-0.5 3.7M74.9 17l0.1 2.3M49.1 22l0.2 3.5M92.4 2.3l-0.1 3.8M94.2 2l0.1 1.6M66.7 8.7l0.5 1.4M73.7 34.7l0.5 4.1M78 20.9l-0.4 3.9" stroke="#50b55b" stroke-width="0.8" stroke-linecap="round" fill="none" opacity=".8"/>
</pattern></defs>
<rect x="369.5" y="116" width="298.8" height="63.6" fill="url(#txb)"/>
<g fill="#4caf50" stroke="#2e8b3e" stroke-width=".8">
<circle cx="667.3" cy="118.5" r="4.0"/>
<circle cx="668.2" cy="122.6" r="4.0"/>
<circle cx="667.3" cy="126.1" r="4.0"/>
<circle cx="668.2" cy="130.6" r="4.0"/>
<circle cx="667.3" cy="134.1" r="4.0"/>
<circle cx="668.2" cy="137.7" r="4.0"/>
<circle cx="667.3" cy="141.1" r="4.0"/>
<circle cx="668.2" cy="145.2" r="4.0"/>
<circle cx="667.3" cy="149.6" r="4.0"/>
<circle cx="668.2" cy="154" r="4.0"/>
<circle cx="667.3" cy="157.6" r="4.0"/>
<circle cx="668.2" cy="161.1" r="4.0"/>
<circle cx="667.3" cy="165.2" r="4.0"/>
<circle cx="668.2" cy="169.8" r="4.0"/>
<circle cx="667.3" cy="173.9" r="4.0"/>
<circle cx="667.6" cy="176" r="4.0"/>
</g>
<path d="M52.6 360.7H310.7" stroke="#c4c4c4" stroke-width="1.4" fill="none"/>
<path d="M168.5 272.5V432.2" stroke="#808080" stroke-width=".9" fill="none"/>
<path d="M55.1 280.6V432.2H302.4" fill="none" stroke="#c0c0c0" stroke-width="2.0"/>
<path d="M55.1 273l-2.5 8.6h5z" fill="#808080"/>
<path d="M310 432.2l-8.6 -2.5v5z" fill="#808080"/>
<path d="M55.1 431.6h-3M55.1 413.9h-3M55.1 396.1h-3M55.1 378.4h-3M55.1 360.7h-3M55.1 343h-3M55.1 325.3h-3M55.1 307.5h-3M55.1 289.8h-3M55.1 422.7h-1.6M55.1 405h-1.6M55.1 387.3h-1.6M55.1 369.6h-1.6M55.1 351.8h-1.6M55.1 334.1h-1.6M55.1 316.4h-1.6M55.1 298.7h-1.6M55.1 281h-1.6" stroke="#9a9a9a" stroke-width=".9" fill="none"/>
<path d="M54.9 432.2v2.8M83.3 432.2v2.8M111.7 432.2v2.8M140.1 432.2v2.8M168.5 432.2v2.8M196.9 432.2v2.8M225.3 432.2v2.8M253.7 432.2v2.8M282.1 432.2v2.8M69.1 432.2v1.5M97.5 432.2v1.5M125.9 432.2v1.5M154.3 432.2v1.5M182.7 432.2v1.5M211.1 432.2v1.5M239.5 432.2v1.5M267.9 432.2v1.5M296.3 432.2v1.5" stroke="#9a9a9a" stroke-width=".9" fill="none"/>
<text transform="translate(50.3 434.9) scale(0.9 1)" font-size="9.2" text-anchor="end" fill="#484848">-0.04</text>
<text transform="translate(50.3 417.2) scale(0.9 1)" font-size="9.2" text-anchor="end" fill="#484848">-0.03</text>
<text transform="translate(50.3 399.5) scale(0.9 1)" font-size="9.2" text-anchor="end" fill="#484848">-0.02</text>
<text transform="translate(50.3 381.7) scale(0.9 1)" font-size="9.2" text-anchor="end" fill="#484848">-0.01</text>
<text transform="translate(50.3 364) scale(0.9 1)" font-size="9.2" text-anchor="end" fill="#484848">0</text>
<text transform="translate(50.3 346.3) scale(0.9 1)" font-size="9.2" text-anchor="end" fill="#484848">0.01</text>
<text transform="translate(50.3 328.6) scale(0.9 1)" font-size="9.2" text-anchor="end" fill="#484848">0.02</text>
<text transform="translate(50.3 310.9) scale(0.9 1)" font-size="9.2" text-anchor="end" fill="#484848">0.03</text>
<text transform="translate(50.3 293.1) scale(0.9 1)" font-size="9.2" text-anchor="end" fill="#484848">0.04</text>
<text transform="translate(55.3 446.2) scale(0.9 1)" font-size="8.8" text-anchor="middle" fill="#484848">-0.04</text>
<text transform="translate(83.7 446.2) scale(0.9 1)" font-size="8.8" text-anchor="middle" fill="#484848">-0.03</text>
<text transform="translate(112.1 446.2) scale(0.9 1)" font-size="8.8" text-anchor="middle" fill="#484848">-0.02</text>
<text transform="translate(140.5 446.2) scale(0.9 1)" font-size="8.8" text-anchor="middle" fill="#484848">-0.01</text>
<text transform="translate(168.5 446.2) scale(0.9 1)" font-size="8.8" text-anchor="middle" fill="#484848">0</text>
<text transform="translate(196.9 446.2) scale(0.9 1)" font-size="8.8" text-anchor="middle" fill="#484848">0.01</text>
<text transform="translate(225.3 446.2) scale(0.9 1)" font-size="8.8" text-anchor="middle" fill="#484848">0.02</text>
<text transform="translate(253.7 446.2) scale(0.9 1)" font-size="8.8" text-anchor="middle" fill="#484848">0.03</text>
<text transform="translate(282.1 446.2) scale(0.9 1)" font-size="8.8" text-anchor="middle" fill="#484848">0.04</text>
<text x="182.8" y="456.6" font-size="7.2" text-anchor="middle" fill="#444">w*c[1]</text>
<text transform="translate(29.2 352.2) rotate(-90)" font-size="7.2" text-anchor="middle" fill="#444">w*c[2]</text>
<path d="M122.6 297.5L116.2 295.2L110.8 293.9L105.3 296.5L103.4 303L103.2 318L105.5 325.8L108.6 333.3L108.6 342.1L106.4 348.2L99.1 351L99 351L92 355.7L85 360.6L77.1 364.4L72.9 369.5L71.2 386.3L75.1 389.9L84 393.3L92.8 395.1L103.4 398.5L114.3 401.3L122.5 401.6Z" fill="#cf2e2b"/>
<path d="M120.2 288.6h9.8v9.8h-9.8zM113.9 286.8h9.8v9.8h-9.8zM107.8 285.2h9.8v9.8h-9.8zM99.4 286.2h9.8v9.8h-9.8zM100.5 293.3h9.8v9.8h-9.8zM100.4 299h9.8v9.8h-9.8zM98.9 306.9h9.8v9.8h-9.8zM102.1 316h9.8v9.8h-9.8zM104.6 322.8h9.8v9.8h-9.8zM106.8 335h9.8v9.8h-9.8zM107.4 340.2h9.8v9.8h-9.8zM100.4 344h9.8v9.8h-9.8zM90.1 347.5h9.8v9.8h-9.8zM81 355h9.8v9.8h-9.8zM74.7 357.7h9.8v9.8h-9.8zM69.3 363.5h9.8v9.8h-9.8zM63 369.3h9.8v9.8h-9.8zM63.6 374.3h9.8v9.8h-9.8zM62.2 381.1h9.8v9.8h-9.8zM63.7 387.1h9.8v9.8h-9.8zM68.8 388.8h9.8v9.8h-9.8zM71.9 390.3h9.8v9.8h-9.8zM76.1 392h9.8v9.8h-9.8zM86.5 395.8h9.8v9.8h-9.8zM91.4 397.8h9.8v9.8h-9.8zM98.5 398.3h9.8v9.8h-9.8zM106 400.1h9.8v9.8h-9.8zM110.3 401.4h9.8v9.8h-9.8zM120.5 400h9.8v9.8h-9.8zM121.4 394.4h9.8v9.8h-9.8zM120.7 391.8h9.8v9.8h-9.8zM118.2 386.2h9.8v9.8h-9.8zM119.4 380.1h9.8v9.8h-9.8zM118.1 372.8h9.8v9.8h-9.8zM118.7 370.5h9.8v9.8h-9.8zM118.8 364.4h9.8v9.8h-9.8zM121.3 359.6h9.8v9.8h-9.8zM119.3 352.2h9.8v9.8h-9.8zM119.9 348.2h9.8v9.8h-9.8zM118.5 342.7h9.8v9.8h-9.8zM120.8 337.7h9.8v9.8h-9.8zM118.2 332.6h9.8v9.8h-9.8zM118.4 325.1h9.8v9.8h-9.8zM120.2 321.7h9.8v9.8h-9.8zM119.3 316.3h9.8v9.8h-9.8zM120 308.8h9.8v9.8h-9.8zM119.2 302.9h9.8v9.8h-9.8zM118.4 297.4h9.8v9.8h-9.8zM120.5 294.8h9.8v9.8h-9.8zM105.5 276.6h9.8v9.8h-9.8zM99.1 327.3h9.8v9.8h-9.8zM91.4 412.7h9.8v9.8h-9.8zM115.7 423.1h9.8v9.8h-9.8zM61.5 375.1h9.8v9.8h-9.8zM61.5 389.7h9.8v9.8h-9.8zM66 362.9h9.8v9.8h-9.8z" fill="#fff" fill-opacity=".6" stroke="#b71c1c" stroke-opacity="0.7" stroke-width=".55"/>
<g fill="#ec3a36" stroke="#b71c1c" stroke-opacity="0.6" stroke-width="1.0">
<path d="M100.4 378.5h6.6v6.6h-6.6zM123 396h6.6v6.6h-6.6zM77.9 392.2h6.6v6.6h-6.6zM113.5 310.2h6.6v6.6h-6.6zM106.5 381.8h6.6v6.6h-6.6zM114.8 302.8h6.6v6.6h-6.6zM103.8 350.6h6.6v6.6h-6.6zM85.7 366.1h6.6v6.6h-6.6zM122.4 339.3h6.6v6.6h-6.6zM102.5 299.4h6.6v6.6h-6.6zM110.9 361.1h6.6v6.6h-6.6zM101.8 391.7h6.6v6.6h-6.6zM98.4 383h6.6v6.6h-6.6zM106.3 300.6h6.6v6.6h-6.6z"/>
<path d="M117.6 317.4h6.6v6.6h-6.6zM63.1 391.3h6.6v6.6h-6.6zM69.1 364.2h6.6v6.6h-6.6zM89.2 355.3h6.6v6.6h-6.6zM101.3 398h6.6v6.6h-6.6zM103.3 373.1h6.6v6.6h-6.6zM80.7 377.6h6.6v6.6h-6.6zM79.3 365.1h6.6v6.6h-6.6zM86.2 360.1h6.6v6.6h-6.6zM111.3 334.6h6.6v6.6h-6.6zM99.3 379.1h6.6v6.6h-6.6zM99.4 354.9h6.6v6.6h-6.6zM120.9 353.8h6.6v6.6h-6.6zM107.6 315.5h6.6v6.6h-6.6z"/>
<path d="M114.2 292.2h6.6v6.6h-6.6zM93 414.3h6.6v6.6h-6.6zM116.8 339.6h6.6v6.6h-6.6zM120.8 304.5h6.6v6.6h-6.6zM92.6 352h6.6v6.6h-6.6zM110.8 285.3h6.6v6.6h-6.6zM112 343h6.6v6.6h-6.6zM106 296h6.6v6.6h-6.6zM121.4 310.5h6.6v6.6h-6.6zM116.1 340.1h6.6v6.6h-6.6zM70.4 390.4h6.6v6.6h-6.6zM89.6 362.1h6.6v6.6h-6.6zM100.8 370.4h6.6v6.6h-6.6zM95.9 383.4h6.6v6.6h-6.6z"/>
<path d="M109.7 363.7h6.6v6.6h-6.6zM93.3 393h6.6v6.6h-6.6zM119.7 374.4h6.6v6.6h-6.6zM102 345.6h6.6v6.6h-6.6zM91.6 368.4h6.6v6.6h-6.6zM119.8 307h6.6v6.6h-6.6zM112 361.8h6.6v6.6h-6.6zM73.5 391.9h6.6v6.6h-6.6zM77.7 393.6h6.6v6.6h-6.6zM115.8 305.8h6.6v6.6h-6.6zM97.3 373h6.6v6.6h-6.6zM69.9 370.1h6.6v6.6h-6.6zM121.1 319.6h6.6v6.6h-6.6zM105.2 396.2h6.6v6.6h-6.6z"/>
<path d="M115.2 310h6.6v6.6h-6.6zM120.9 317.9h6.6v6.6h-6.6zM119.8 334.2h6.6v6.6h-6.6zM117 323.5h6.6v6.6h-6.6zM108.4 336.6h6.6v6.6h-6.6zM93.6 354.5h6.6v6.6h-6.6zM111.8 399h6.6v6.6h-6.6zM117.3 398.6h6.6v6.6h-6.6zM98.5 351.8h6.6v6.6h-6.6zM91.2 390.6h6.6v6.6h-6.6zM106.2 305.1h6.6v6.6h-6.6zM82.8 379.5h6.6v6.6h-6.6zM106.6 306h6.6v6.6h-6.6zM119.4 359.3h6.6v6.6h-6.6z"/>
<path d="M106.2 324.4h6.6v6.6h-6.6zM111.7 311.4h6.6v6.6h-6.6zM80.5 373.3h6.6v6.6h-6.6zM118.9 365.8h6.6v6.6h-6.6zM103.3 346.8h6.6v6.6h-6.6zM86.5 359.5h6.6v6.6h-6.6zM116.5 357.7h6.6v6.6h-6.6zM112.6 310.8h6.6v6.6h-6.6zM79.6 381.3h6.6v6.6h-6.6zM100.7 328.9h6.6v6.6h-6.6zM106.6 383.3h6.6v6.6h-6.6zM77.4 367.6h6.6v6.6h-6.6zM106.1 368.1h6.6v6.6h-6.6zM106.6 394h6.6v6.6h-6.6z"/>
<path d="M121.8 290.2h6.6v6.6h-6.6zM88.6 358.7h6.6v6.6h-6.6zM105.2 300.7h6.6v6.6h-6.6zM70.9 365.1h6.6v6.6h-6.6zM81.2 383.5h6.6v6.6h-6.6zM113.2 346.3h6.6v6.6h-6.6zM120.8 349.1h6.6v6.6h-6.6zM93.8 394h6.6v6.6h-6.6zM63.1 376.7h6.6v6.6h-6.6zM109.1 383.1h6.6v6.6h-6.6zM101.9 398.3h6.6v6.6h-6.6zM100.1 399.9h6.6v6.6h-6.6zM109.2 387.9h6.6v6.6h-6.6zM110.5 336.3h6.6v6.6h-6.6z"/>
<path d="M119.2 399.9h6.6v6.6h-6.6zM72.7 377.6h6.6v6.6h-6.6zM112.7 299h6.6v6.6h-6.6zM120.1 363.8h6.6v6.6h-6.6zM112.5 341.4h6.6v6.6h-6.6zM82.6 356.6h6.6v6.6h-6.6zM102.4 375.1h6.6v6.6h-6.6zM90.4 393.8h6.6v6.6h-6.6zM116.1 361.5h6.6v6.6h-6.6zM79.5 374.4h6.6v6.6h-6.6zM120.5 403.5h6.6v6.6h-6.6zM120.2 349.4h6.6v6.6h-6.6zM65.3 388.7h6.6v6.6h-6.6zM70.8 383.6h6.6v6.6h-6.6z"/>
<path d="M96.1 358.6h6.6v6.6h-6.6zM90.8 381.9h6.6v6.6h-6.6zM103.5 387.4h6.6v6.6h-6.6zM107.9 353.1h6.6v6.6h-6.6zM119.8 316h6.6v6.6h-6.6zM118.2 329.2h6.6v6.6h-6.6zM111.4 301.3h6.6v6.6h-6.6zM88.1 397.4h6.6v6.6h-6.6zM121 349.3h6.6v6.6h-6.6zM120.8 343.2h6.6v6.6h-6.6zM84.2 361.3h6.6v6.6h-6.6zM115.9 343.1h6.6v6.6h-6.6zM112.7 354h6.6v6.6h-6.6zM93 399.4h6.6v6.6h-6.6z"/>
<path d="M64.7 376.5h6.6v6.6h-6.6zM85 378.2h6.6v6.6h-6.6zM116.6 301.7h6.6v6.6h-6.6zM122.1 296.4h6.6v6.6h-6.6zM113.1 358.3h6.6v6.6h-6.6zM118.8 402.3h6.6v6.6h-6.6zM112.2 398.6h6.6v6.6h-6.6zM118.2 340.2h6.6v6.6h-6.6zM77.8 394.2h6.6v6.6h-6.6zM91.9 393.2h6.6v6.6h-6.6zM114.2 366.6h6.6v6.6h-6.6zM107.6 401.7h6.6v6.6h-6.6zM121.5 349.8h6.6v6.6h-6.6zM111 334.6h6.6v6.6h-6.6z"/>
<path d="M86.3 360.4h6.6v6.6h-6.6zM114.6 336.9h6.6v6.6h-6.6zM118.5 293.3h6.6v6.6h-6.6zM106.3 370.1h6.6v6.6h-6.6zM111.7 393.6h6.6v6.6h-6.6zM69.2 376.6h6.6v6.6h-6.6zM120 299h6.6v6.6h-6.6zM76.8 366.3h6.6v6.6h-6.6zM115.3 349.6h6.6v6.6h-6.6zM107.5 364.4h6.6v6.6h-6.6zM122.9 361.2h6.6v6.6h-6.6zM64.6 370.9h6.6v6.6h-6.6zM100.4 390.8h6.6v6.6h-6.6zM91.3 397.2h6.6v6.6h-6.6z"/>
<path d="M100.5 308.5h6.6v6.6h-6.6zM119.1 366.5h6.6v6.6h-6.6zM114.7 300.7h6.6v6.6h-6.6zM65.6 376.3h6.6v6.6h-6.6zM117.2 355.9h6.6v6.6h-6.6zM92.3 371.5h6.6v6.6h-6.6zM107.7 390.8h6.6v6.6h-6.6zM71 364.3h6.6v6.6h-6.6zM65 377.3h6.6v6.6h-6.6zM85.6 376.9h6.6v6.6h-6.6zM105.8 315.7h6.6v6.6h-6.6zM98.3 352.9h6.6v6.6h-6.6zM107.4 313.4h6.6v6.6h-6.6zM73.8 384.3h6.6v6.6h-6.6z"/>
<path d="M98.4 361.6h6.6v6.6h-6.6zM65.9 371h6.6v6.6h-6.6zM102 300.6h6.6v6.6h-6.6zM100.4 360.9h6.6v6.6h-6.6zM117.4 320.3h6.6v6.6h-6.6zM118.1 288.4h6.6v6.6h-6.6zM90.7 361.9h6.6v6.6h-6.6zM72.8 385.2h6.6v6.6h-6.6zM111.9 359.2h6.6v6.6h-6.6zM110.4 369.6h6.6v6.6h-6.6zM105.4 293.3h6.6v6.6h-6.6zM103.7 384.5h6.6v6.6h-6.6zM106.7 357.4h6.6v6.6h-6.6zM121.8 323.3h6.6v6.6h-6.6z"/>
<path d="M115.5 288.4h6.6v6.6h-6.6zM119.2 391.5h6.6v6.6h-6.6zM70.2 374.9h6.6v6.6h-6.6zM121.7 386.1h6.6v6.6h-6.6zM101.4 379.6h6.6v6.6h-6.6zM108.3 396.1h6.6v6.6h-6.6zM81 393.9h6.6v6.6h-6.6zM119.2 298.6h6.6v6.6h-6.6zM115.7 362.5h6.6v6.6h-6.6zM85.9 359.1h6.6v6.6h-6.6zM88.8 353.4h6.6v6.6h-6.6zM119.5 393.4h6.6v6.6h-6.6zM104 370.3h6.6v6.6h-6.6zM86.8 377.3h6.6v6.6h-6.6z"/>
<path d="M109.2 313.9h6.6v6.6h-6.6zM106.3 397.7h6.6v6.6h-6.6zM104.5 290.4h6.6v6.6h-6.6zM85.1 368.5h6.6v6.6h-6.6zM118 291.1h6.6v6.6h-6.6zM97.6 398.7h6.6v6.6h-6.6zM108.4 298.4h6.6v6.6h-6.6zM91.9 389.6h6.6v6.6h-6.6zM77.4 382.2h6.6v6.6h-6.6zM108.5 366.9h6.6v6.6h-6.6zM107.9 370.5h6.6v6.6h-6.6zM101.3 395h6.6v6.6h-6.6zM88 388.7h6.6v6.6h-6.6zM105.9 393.3h6.6v6.6h-6.6z"/>
<path d="M117.3 424.7h6.6v6.6h-6.6zM86.4 395.8h6.6v6.6h-6.6zM116 308.4h6.6v6.6h-6.6zM121 381.7h6.6v6.6h-6.6zM110 323.3h6.6v6.6h-6.6zM90 372.3h6.6v6.6h-6.6zM120.3 398.5h6.6v6.6h-6.6zM101 287.8h6.6v6.6h-6.6zM88.8 353.2h6.6v6.6h-6.6zM67.4 367.7h6.6v6.6h-6.6zM95.1 379.7h6.6v6.6h-6.6zM92.2 352.7h6.6v6.6h-6.6zM115.3 341.9h6.6v6.6h-6.6zM122.3 393.4h6.6v6.6h-6.6z"/>
<path d="M113 346.5h6.6v6.6h-6.6zM78.6 364.6h6.6v6.6h-6.6zM119.8 387.8h6.6v6.6h-6.6zM107.8 346.1h6.6v6.6h-6.6zM116.2 320.7h6.6v6.6h-6.6zM121.6 310.4h6.6v6.6h-6.6zM112.4 300.2h6.6v6.6h-6.6zM104.5 290.5h6.6v6.6h-6.6zM114.3 289.4h6.6v6.6h-6.6zM104.9 359.9h6.6v6.6h-6.6zM117.8 293.9h6.6v6.6h-6.6zM100 391.5h6.6v6.6h-6.6zM67.7 377.4h6.6v6.6h-6.6zM85.4 396.3h6.6v6.6h-6.6z"/>
<path d="M122.1 401.6h6.6v6.6h-6.6zM108.3 311.4h6.6v6.6h-6.6zM80.9 365h6.6v6.6h-6.6zM109 341.8h6.6v6.6h-6.6zM65.2 375.9h6.6v6.6h-6.6zM113.2 308.1h6.6v6.6h-6.6zM97.8 383.1h6.6v6.6h-6.6zM101.9 394.8h6.6v6.6h-6.6zM115.7 345h6.6v6.6h-6.6zM120.1 329.9h6.6v6.6h-6.6zM106.9 298.8h6.6v6.6h-6.6zM92.9 367.6h6.6v6.6h-6.6zM100.1 376.9h6.6v6.6h-6.6zM116 350.8h6.6v6.6h-6.6z"/>
<path d="M89.6 381.9h6.6v6.6h-6.6zM117.9 397.3h6.6v6.6h-6.6zM120.7 384.7h6.6v6.6h-6.6zM111.3 321.9h6.6v6.6h-6.6zM84.3 385h6.6v6.6h-6.6zM77.9 364h6.6v6.6h-6.6zM67.9 366.1h6.6v6.6h-6.6zM97.2 393.2h6.6v6.6h-6.6zM102.1 294.9h6.6v6.6h-6.6zM108.5 324.7h6.6v6.6h-6.6zM109.4 286.8h6.6v6.6h-6.6zM120.3 338.7h6.6v6.6h-6.6zM111.9 389.3h6.6v6.6h-6.6zM118.4 378.8h6.6v6.6h-6.6z"/>
<path d="M82.5 385.9h6.6v6.6h-6.6zM105.7 357.4h6.6v6.6h-6.6zM91.7 349.1h6.6v6.6h-6.6zM63.8 382.7h6.6v6.6h-6.6zM97.6 399.6h6.6v6.6h-6.6zM115.7 313.2h6.6v6.6h-6.6zM78.8 374h6.6v6.6h-6.6zM109.3 384.2h6.6v6.6h-6.6zM120.9 348.2h6.6v6.6h-6.6zM101.6 353.8h6.6v6.6h-6.6zM103.7 364.9h6.6v6.6h-6.6zM104 364.5h6.6v6.6h-6.6zM110.9 292.8h6.6v6.6h-6.6zM109.6 353.2h6.6v6.6h-6.6z"/>
<path d="M120.3 368.2h6.6v6.6h-6.6zM85.1 355.3h6.6v6.6h-6.6zM91.9 368.7h6.6v6.6h-6.6zM89.7 393.9h6.6v6.6h-6.6zM120 326.7h6.6v6.6h-6.6zM111.1 394.6h6.6v6.6h-6.6zM109.1 353.8h6.6v6.6h-6.6zM96.5 356.5h6.6v6.6h-6.6zM100 379.9h6.6v6.6h-6.6zM110.8 347.7h6.6v6.6h-6.6zM115.4 316.2h6.6v6.6h-6.6zM120.3 372.1h6.6v6.6h-6.6zM103.9 371.4h6.6v6.6h-6.6zM108.8 367.4h6.6v6.6h-6.6z"/>
<path d="M102.9 396.6h6.6v6.6h-6.6zM68 384.2h6.6v6.6h-6.6zM76.3 359.3h6.6v6.6h-6.6zM103.7 317.6h6.6v6.6h-6.6zM118.1 341.5h6.6v6.6h-6.6zM100.1 399.5h6.6v6.6h-6.6zM113.6 397.7h6.6v6.6h-6.6zM111.9 403h6.6v6.6h-6.6zM97.6 375.1h6.6v6.6h-6.6zM107 355h6.6v6.6h-6.6zM101.6 305.5h6.6v6.6h-6.6zM105.2 362.6h6.6v6.6h-6.6zM118.8 297.9h6.6v6.6h-6.6zM67.6 364.5h6.6v6.6h-6.6z"/>
<path d="M106.8 315.9h6.6v6.6h-6.6zM120.6 343.8h6.6v6.6h-6.6zM114.6 341.9h6.6v6.6h-6.6zM108.1 351h6.6v6.6h-6.6zM107.1 278.2h6.6v6.6h-6.6zM107.5 350.9h6.6v6.6h-6.6zM80.1 378h6.6v6.6h-6.6zM107.9 320.5h6.6v6.6h-6.6zM111.6 343.5h6.6v6.6h-6.6zM106.1 304.1h6.6v6.6h-6.6zM120.4 366h6.6v6.6h-6.6zM65.7 370.7h6.6v6.6h-6.6zM101.3 356.6h6.6v6.6h-6.6zM120.1 344.3h6.6v6.6h-6.6z"/>
<path d="M115.8 390.1h6.6v6.6h-6.6zM115.5 370.5h6.6v6.6h-6.6zM106.7 351.5h6.6v6.6h-6.6zM118.2 379.3h6.6v6.6h-6.6z"/>
</g>
<path d="M219.3 326.2L222.9 326.1L230.8 327.3L233.3 335L238.3 339.6L242.5 341.5L247 339.7L251.2 341.6L262.4 340.2L271.2 340L271.1 341.8L262.2 342.6L256.1 346L250 349.3L244.5 349.6L243.6 352.5L239.9 354.3L236.5 360L231.5 362.6L229.1 369.8L225.1 375.9L222.4 377L218.7 377.3Z" fill="#cf2e2b"/>
<path d="M211.3 319.1h9.8v9.8h-9.8zM214.9 318.5h9.8v9.8h-9.8zM222.8 317.6h9.8v9.8h-9.8zM226.8 325.8h9.8v9.8h-9.8zM231.4 328.4h9.8v9.8h-9.8zM238.1 332.6h9.8v9.8h-9.8zM244.5 329.2h9.8v9.8h-9.8zM251.3 335h9.8v9.8h-9.8zM255.2 332h9.8v9.8h-9.8zM261.8 331.8h9.8v9.8h-9.8zM272.4 333.3h9.8v9.8h-9.8zM272.9 334.4h9.8v9.8h-9.8zM260.8 335.1h9.8v9.8h-9.8zM255.7 340.4h9.8v9.8h-9.8zM250.7 345.7h9.8v9.8h-9.8zM242.9 348.3h9.8v9.8h-9.8zM240.1 351.8h9.8v9.8h-9.8zM233.1 353.5h9.8v9.8h-9.8zM229.2 359.3h9.8v9.8h-9.8zM224.2 362.1h9.8v9.8h-9.8zM223.1 369.7h9.8v9.8h-9.8zM217.1 375.4h9.8v9.8h-9.8zM214.4 375h9.8v9.8h-9.8zM210.1 378.2h9.8v9.8h-9.8zM211.7 369.8h9.8v9.8h-9.8zM210.3 365.1h9.8v9.8h-9.8zM212 359.9h9.8v9.8h-9.8zM211 353.8h9.8v9.8h-9.8zM210.2 349.6h9.8v9.8h-9.8zM209.8 343.2h9.8v9.8h-9.8zM211.6 339.2h9.8v9.8h-9.8zM210.1 332.6h9.8v9.8h-9.8zM212.2 326.6h9.8v9.8h-9.8zM211.2 322.3h9.8v9.8h-9.8zM219.4 306.4h9.8v9.8h-9.8zM232.4 311h9.8v9.8h-9.8zM282.4 327.4h9.8v9.8h-9.8zM252.3 355.2h9.8v9.8h-9.8zM224 378.3h9.8v9.8h-9.8z" fill="#fff" fill-opacity=".6" stroke="#b71c1c" stroke-opacity="0.7" stroke-width=".55"/>
<g fill="#ec3a36" stroke="#b71c1c" stroke-opacity="0.6" stroke-width="1.0">
<path d="M212.6 319.4h6.6v6.6h-6.6zM221 308h6.6v6.6h-6.6zM224.3 351.4h6.6v6.6h-6.6zM262.4 336.7h6.6v6.6h-6.6zM231.5 332.8h6.6v6.6h-6.6zM221.4 338.3h6.6v6.6h-6.6zM220.3 338h6.6v6.6h-6.6zM211.9 366.7h6.6v6.6h-6.6zM223.1 344.3h6.6v6.6h-6.6zM213.3 325.1h6.6v6.6h-6.6zM227.7 331.9h6.6v6.6h-6.6zM259.9 336.7h6.6v6.6h-6.6zM239.7 334.2h6.6v6.6h-6.6zM256.8 333.6h6.6v6.6h-6.6z"/>
<path d="M241.5 347.9h6.6v6.6h-6.6zM252.3 347.3h6.6v6.6h-6.6zM253.9 356.8h6.6v6.6h-6.6zM227.8 353.2h6.6v6.6h-6.6zM219.5 362.9h6.6v6.6h-6.6zM242 333.5h6.6v6.6h-6.6zM219.1 319.4h6.6v6.6h-6.6zM225.4 337.9h6.6v6.6h-6.6zM223.7 329.9h6.6v6.6h-6.6zM249.2 347.5h6.6v6.6h-6.6zM258.6 338.8h6.6v6.6h-6.6zM284 329h6.6v6.6h-6.6zM211.8 351.2h6.6v6.6h-6.6zM219.4 338.9h6.6v6.6h-6.6z"/>
<path d="M246.1 330.8h6.6v6.6h-6.6zM212.6 355.4h6.6v6.6h-6.6zM238.2 350h6.6v6.6h-6.6zM274 334.9h6.6v6.6h-6.6zM211.7 379.8h6.6v6.6h-6.6zM234 354.9h6.6v6.6h-6.6zM247.9 345.6h6.6v6.6h-6.6zM265.9 337.6h6.6v6.6h-6.6zM212.8 323.9h6.6v6.6h-6.6zM220.3 361.8h6.6v6.6h-6.6zM215.9 342.1h6.6v6.6h-6.6zM230.8 360.9h6.6v6.6h-6.6zM224.7 354.8h6.6v6.6h-6.6zM216.4 363.4h6.6v6.6h-6.6z"/>
<path d="M214.9 324.8h6.6v6.6h-6.6zM213 337.9h6.6v6.6h-6.6zM233.6 334.4h6.6v6.6h-6.6zM247.5 337.8h6.6v6.6h-6.6zM228.2 355.4h6.6v6.6h-6.6zM222 330.2h6.6v6.6h-6.6zM226.4 335.6h6.6v6.6h-6.6zM218.8 368.7h6.6v6.6h-6.6zM232.2 337.2h6.6v6.6h-6.6zM223.9 320.2h6.6v6.6h-6.6zM228 330.4h6.6v6.6h-6.6zM263.7 337h6.6v6.6h-6.6zM248.2 332.5h6.6v6.6h-6.6zM224.7 371.3h6.6v6.6h-6.6z"/>
<path d="M225.5 344.8h6.6v6.6h-6.6zM218 336.4h6.6v6.6h-6.6zM232.6 343.1h6.6v6.6h-6.6zM216.3 322.8h6.6v6.6h-6.6zM248.3 345.9h6.6v6.6h-6.6zM224.4 319.2h6.6v6.6h-6.6zM216.6 334.7h6.6v6.6h-6.6zM212.9 320.7h6.6v6.6h-6.6zM220.9 338.1h6.6v6.6h-6.6zM234.6 342.1h6.6v6.6h-6.6zM222.6 367.3h6.6v6.6h-6.6zM219.1 372.6h6.6v6.6h-6.6zM212.7 371.3h6.6v6.6h-6.6zM225.1 344.6h6.6v6.6h-6.6z"/>
<path d="M243.2 341.8h6.6v6.6h-6.6zM236 332.8h6.6v6.6h-6.6zM213.9 343.2h6.6v6.6h-6.6zM212.4 359.1h6.6v6.6h-6.6zM252.6 340.7h6.6v6.6h-6.6zM218.6 371.8h6.6v6.6h-6.6zM221.4 341.4h6.6v6.6h-6.6zM231.2 332h6.6v6.6h-6.6zM238.1 333.6h6.6v6.6h-6.6zM252.6 335.3h6.6v6.6h-6.6zM225.6 328.1h6.6v6.6h-6.6zM223.8 327.6h6.6v6.6h-6.6zM226.8 354.7h6.6v6.6h-6.6zM216.5 320.1h6.6v6.6h-6.6z"/>
<path d="M213.2 340.8h6.6v6.6h-6.6zM244.5 349.9h6.6v6.6h-6.6zM213.1 358.8h6.6v6.6h-6.6zM216.6 361.8h6.6v6.6h-6.6zM215 328.7h6.6v6.6h-6.6zM241.7 353.4h6.6v6.6h-6.6zM213.3 332.5h6.6v6.6h-6.6zM234 312.6h6.6v6.6h-6.6zM248.6 332.4h6.6v6.6h-6.6zM228.9 344.6h6.6v6.6h-6.6zM217.1 348.3h6.6v6.6h-6.6zM211.4 344.8h6.6v6.6h-6.6zM231.2 352.1h6.6v6.6h-6.6zM235.4 354.4h6.6v6.6h-6.6z"/>
<path d="M224 361.6h6.6v6.6h-6.6zM229.4 342.2h6.6v6.6h-6.6zM249 337.7h6.6v6.6h-6.6zM230.7 333.6h6.6v6.6h-6.6zM228.5 356.9h6.6v6.6h-6.6zM216.2 358.9h6.6v6.6h-6.6zM226.4 346.1h6.6v6.6h-6.6zM219.3 345.2h6.6v6.6h-6.6zM213.6 361.5h6.6v6.6h-6.6zM213.3 371.4h6.6v6.6h-6.6zM274.5 336h6.6v6.6h-6.6zM212.6 328.2h6.6v6.6h-6.6zM225.8 363.7h6.6v6.6h-6.6zM220.7 374.5h6.6v6.6h-6.6z"/>
<path d="M232 332.2h6.6v6.6h-6.6zM212.4 344.9h6.6v6.6h-6.6zM218.2 352h6.6v6.6h-6.6zM215.1 376.9h6.6v6.6h-6.6zM228.4 327.4h6.6v6.6h-6.6zM244.3 341.9h6.6v6.6h-6.6zM211.9 327.1h6.6v6.6h-6.6zM241.1 349.7h6.6v6.6h-6.6zM263.4 333.4h6.6v6.6h-6.6zM212.3 378h6.6v6.6h-6.6zM219 341.1h6.6v6.6h-6.6zM234.7 336.8h6.6v6.6h-6.6zM250.6 340.2h6.6v6.6h-6.6zM258.7 338h6.6v6.6h-6.6z"/>
<path d="M231.5 331.6h6.6v6.6h-6.6zM224.2 361.2h6.6v6.6h-6.6zM226 358.7h6.6v6.6h-6.6zM234.2 344.1h6.6v6.6h-6.6zM228.5 357.2h6.6v6.6h-6.6zM233 330h6.6v6.6h-6.6zM216.6 340.7h6.6v6.6h-6.6zM211.7 334.2h6.6v6.6h-6.6zM232.6 339.2h6.6v6.6h-6.6zM252.1 341.4h6.6v6.6h-6.6zM232.8 332h6.6v6.6h-6.6zM226.2 328.8h6.6v6.6h-6.6zM216.1 373.8h6.6v6.6h-6.6zM218.4 360.2h6.6v6.6h-6.6z"/>
<path d="M227.4 350.4h6.6v6.6h-6.6zM246.7 341.1h6.6v6.6h-6.6zM226.4 361.2h6.6v6.6h-6.6zM257.3 342h6.6v6.6h-6.6zM226.4 341.4h6.6v6.6h-6.6zM213.8 328.2h6.6v6.6h-6.6zM234.7 355.1h6.6v6.6h-6.6zM218.3 363.9h6.6v6.6h-6.6zM224.2 358h6.6v6.6h-6.6zM221.6 365.8h6.6v6.6h-6.6zM218.2 342.9h6.6v6.6h-6.6zM237.2 354.7h6.6v6.6h-6.6zM218.6 321h6.6v6.6h-6.6zM213.8 363.7h6.6v6.6h-6.6z"/>
<path d="M216.9 358.3h6.6v6.6h-6.6zM229.1 356h6.6v6.6h-6.6zM218.6 330h6.6v6.6h-6.6zM226.2 343.3h6.6v6.6h-6.6zM220.4 347.5h6.6v6.6h-6.6zM225.6 379.9h6.6v6.6h-6.6zM240.7 352.1h6.6v6.6h-6.6zM221.7 369h6.6v6.6h-6.6zM223.6 358.9h6.6v6.6h-6.6zM217.9 349.6h6.6v6.6h-6.6zM252.9 336.6h6.6v6.6h-6.6zM217.1 324h6.6v6.6h-6.6zM212.6 360.4h6.6v6.6h-6.6zM222.9 351.2h6.6v6.6h-6.6z"/>
<path d="M218.7 377h6.6v6.6h-6.6zM213.2 355.6h6.6v6.6h-6.6zM219.6 354.7h6.6v6.6h-6.6zM242.4 348h6.6v6.6h-6.6zM241.5 343.7h6.6v6.6h-6.6zM225.3 329.1h6.6v6.6h-6.6zM220.3 370.4h6.6v6.6h-6.6zM225.4 327.1h6.6v6.6h-6.6zM272.2 337h6.6v6.6h-6.6zM216 376.6h6.6v6.6h-6.6zM226.1 349.5h6.6v6.6h-6.6z"/>
</g>
<path d="M128.6 304.8L129.4 301L134 300.2L137.9 303.3L141 310.2L144 316.2L147.6 314.4L151 309.7L154.5 307.3L159.9 307.9L162.7 315L166.2 317.5L170.6 315L174.2 310.9L179.5 311.3L182.1 313.7L186.7 311.5L191.1 315.3L196.5 317.9L201.9 321.4L207.4 323.9L209 329.4L209.1 386.5L207.5 393L205 399.5L202.6 407.1L195.1 406.7L191.2 401.7L188.6 404.5L185.1 408.3L182.4 411.2L168.9 411.5L165.3 413.5L161.7 413L159 409.1L155.5 406.2L152.1 400.4L147.5 400.6L144.6 406.6L139 406.8L135.4 403.6L131.2 404.3L129 401.5Z" fill="#3d9d48"/>
<g fill="#4caf50" stroke="#36933f" stroke-opacity="1" stroke-width="0.8">
<path d="M136.8 335.9h6.6v6.6h-6.6zM167.7 307.6h6.6v6.6h-6.6zM206.9 393.2h6.6v6.6h-6.6zM139.2 392.5h6.6v6.6h-6.6zM154.2 305.5h6.6v6.6h-6.6zM207.8 322.7h6.6v6.6h-6.6z"/>
<path d="M176.9 401h6.6v6.6h-6.6zM177.9 363.7h6.6v6.6h-6.6zM133.9 306.7h6.6v6.6h-6.6zM127.3 374h6.6v6.6h-6.6zM169.5 344.2h6.6v6.6h-6.6zM134.2 324.7h6.6v6.6h-6.6z"/>
<path d="M180.4 367.8h6.6v6.6h-6.6zM180.2 340.6h6.6v6.6h-6.6zM155.8 330.5h6.6v6.6h-6.6zM140.9 331.5h6.6v6.6h-6.6zM158 362.9h6.6v6.6h-6.6zM172.8 395.6h6.6v6.6h-6.6z"/>
<path d="M143.5 320.5h6.6v6.6h-6.6zM154.9 380.8h6.6v6.6h-6.6zM159.9 375.9h6.6v6.6h-6.6zM185 386.7h6.6v6.6h-6.6zM194.7 364.8h6.6v6.6h-6.6zM143 383.7h6.6v6.6h-6.6z"/>
<path d="M186.7 312.6h6.6v6.6h-6.6zM174.2 328.2h6.6v6.6h-6.6zM138.6 323.3h6.6v6.6h-6.6zM185.1 341.9h6.6v6.6h-6.6zM181.2 358.3h6.6v6.6h-6.6zM175.3 385.1h6.6v6.6h-6.6z"/>
<path d="M152.2 369.1h6.6v6.6h-6.6zM182.3 313.6h6.6v6.6h-6.6zM152.3 344.6h6.6v6.6h-6.6zM176.1 391.7h6.6v6.6h-6.6zM200.3 404.6h6.6v6.6h-6.6zM127.7 336.1h6.6v6.6h-6.6z"/>
<path d="M136.1 387.5h6.6v6.6h-6.6zM167.1 414h6.6v6.6h-6.6zM172 305.6h6.6v6.6h-6.6zM133.6 384.3h6.6v6.6h-6.6zM135.2 359.5h6.6v6.6h-6.6zM170 413.2h6.6v6.6h-6.6z"/>
<path d="M167.5 355.7h6.6v6.6h-6.6zM168.7 399h6.6v6.6h-6.6zM138.5 308.3h6.6v6.6h-6.6zM138.1 371.6h6.6v6.6h-6.6zM174.8 353h6.6v6.6h-6.6zM130.6 292.5h6.6v6.6h-6.6z"/>
<path d="M162.1 311h6.6v6.6h-6.6zM201.5 379.2h6.6v6.6h-6.6zM126.7 372.5h6.6v6.6h-6.6zM143.5 380.2h6.6v6.6h-6.6zM137.1 317.5h6.6v6.6h-6.6zM175.7 340.1h6.6v6.6h-6.6z"/>
<path d="M177.5 373.1h6.6v6.6h-6.6zM171.9 380.4h6.6v6.6h-6.6zM202.5 398h6.6v6.6h-6.6zM121.1 358.8h6.6v6.6h-6.6zM191.5 383.3h6.6v6.6h-6.6zM153.2 367.7h6.6v6.6h-6.6z"/>
<path d="M178.7 339.6h6.6v6.6h-6.6zM126.4 356.6h6.6v6.6h-6.6zM207 317.8h6.6v6.6h-6.6zM171.3 331.3h6.6v6.6h-6.6zM179.1 370.8h6.6v6.6h-6.6zM204.8 363.7h6.6v6.6h-6.6z"/>
<path d="M166.7 314.5h6.6v6.6h-6.6zM201.3 407.7h6.6v6.6h-6.6zM122 316.3h6.6v6.6h-6.6zM171 332.2h6.6v6.6h-6.6zM166.1 367.5h6.6v6.6h-6.6zM138.6 352.8h6.6v6.6h-6.6z"/>
<path d="M129.4 333.7h6.6v6.6h-6.6zM136 308.3h6.6v6.6h-6.6zM134.7 346.3h6.6v6.6h-6.6zM153.2 316.9h6.6v6.6h-6.6zM129.6 323.9h6.6v6.6h-6.6zM188.1 366.2h6.6v6.6h-6.6z"/>
<path d="M162 376h6.6v6.6h-6.6zM138.6 360.6h6.6v6.6h-6.6zM178.9 305h6.6v6.6h-6.6zM211.7 372.5h6.6v6.6h-6.6zM204.2 396.8h6.6v6.6h-6.6zM144.4 334.7h6.6v6.6h-6.6z"/>
<path d="M123.1 380.5h6.6v6.6h-6.6zM137.4 365.1h6.6v6.6h-6.6zM192.9 312.2h6.6v6.6h-6.6zM139.9 355.9h6.6v6.6h-6.6zM200.9 393.9h6.6v6.6h-6.6zM195.3 409.5h6.6v6.6h-6.6z"/>
<path d="M194.2 324.3h6.6v6.6h-6.6zM155.7 301.8h6.6v6.6h-6.6zM187.9 344.3h6.6v6.6h-6.6zM122.6 326.5h6.6v6.6h-6.6zM172.7 339h6.6v6.6h-6.6zM170.7 378.5h6.6v6.6h-6.6z"/>
<path d="M162.8 349.3h6.6v6.6h-6.6zM133.1 326.9h6.6v6.6h-6.6zM194.2 333.4h6.6v6.6h-6.6zM133.1 345.5h6.6v6.6h-6.6zM181.9 372.5h6.6v6.6h-6.6zM178.1 323.9h6.6v6.6h-6.6z"/>
<path d="M158.6 322h6.6v6.6h-6.6zM155.6 410.5h6.6v6.6h-6.6zM183.2 336.2h6.6v6.6h-6.6zM192 354.4h6.6v6.6h-6.6zM174.5 377h6.6v6.6h-6.6zM187.9 377.7h6.6v6.6h-6.6z"/>
<path d="M131.8 332.3h6.6v6.6h-6.6zM186 405.4h6.6v6.6h-6.6zM178.9 413.2h6.6v6.6h-6.6zM193.8 399.5h6.6v6.6h-6.6zM203.6 372.1h6.6v6.6h-6.6zM145.2 335h6.6v6.6h-6.6z"/>
<path d="M129.9 388.3h6.6v6.6h-6.6zM148.1 303.1h6.6v6.6h-6.6zM172 332.8h6.6v6.6h-6.6zM206.6 396.7h6.6v6.6h-6.6zM159.4 423.7h6.6v6.6h-6.6zM128.2 300.1h6.6v6.6h-6.6z"/>
<path d="M150.4 373.1h6.6v6.6h-6.6zM161.8 367.1h6.6v6.6h-6.6zM150.2 309.5h6.6v6.6h-6.6zM158.8 341.5h6.6v6.6h-6.6zM170.2 363.4h6.6v6.6h-6.6zM183.5 333.1h6.6v6.6h-6.6z"/>
<path d="M193.4 391.8h6.6v6.6h-6.6zM131.8 368.7h6.6v6.6h-6.6zM172.2 399.2h6.6v6.6h-6.6zM173.1 367.6h6.6v6.6h-6.6zM211.7 387.9h6.6v6.6h-6.6zM147.6 359.7h6.6v6.6h-6.6z"/>
<path d="M172 317.5h6.6v6.6h-6.6zM195.4 401.6h6.6v6.6h-6.6zM139.8 368.5h6.6v6.6h-6.6zM139.4 342.1h6.6v6.6h-6.6zM193.8 325.2h6.6v6.6h-6.6zM166.3 400.9h6.6v6.6h-6.6z"/>
<path d="M187.7 379.2h6.6v6.6h-6.6zM136.7 399.6h6.6v6.6h-6.6zM123.1 401.9h6.6v6.6h-6.6zM196.7 400.5h6.6v6.6h-6.6zM142.1 321.8h6.6v6.6h-6.6zM171.1 302.6h6.6v6.6h-6.6z"/>
<path d="M186.6 336.2h6.6v6.6h-6.6zM178.6 365.4h6.6v6.6h-6.6zM137.9 366.2h6.6v6.6h-6.6zM181.2 370.1h6.6v6.6h-6.6zM153.4 359.9h6.6v6.6h-6.6zM160.7 372.7h6.6v6.6h-6.6z"/>
<path d="M205.2 340.8h6.6v6.6h-6.6zM157.5 356.9h6.6v6.6h-6.6zM177 393.2h6.6v6.6h-6.6zM206 371.3h6.6v6.6h-6.6zM137.4 402.9h6.6v6.6h-6.6zM163.6 408.1h6.6v6.6h-6.6z"/>
<path d="M126 302.2h6.6v6.6h-6.6zM121.6 326h6.6v6.6h-6.6zM154.4 345.5h6.6v6.6h-6.6zM126 304.8h6.6v6.6h-6.6zM127.9 319.2h6.6v6.6h-6.6zM137.4 335h6.6v6.6h-6.6z"/>
<path d="M153.1 304.8h6.6v6.6h-6.6zM153.6 337.1h6.6v6.6h-6.6zM185.3 351.3h6.6v6.6h-6.6zM127.6 389.3h6.6v6.6h-6.6zM169.5 325h6.6v6.6h-6.6zM135.7 385.1h6.6v6.6h-6.6z"/>
<path d="M194.6 359h6.6v6.6h-6.6zM192 377.6h6.6v6.6h-6.6zM179.6 306.2h6.6v6.6h-6.6zM128.4 370.9h6.6v6.6h-6.6zM190.4 386.6h6.6v6.6h-6.6zM188.2 396h6.6v6.6h-6.6z"/>
<path d="M152.8 391.9h6.6v6.6h-6.6zM153.3 305.5h6.6v6.6h-6.6zM202.7 383.3h6.6v6.6h-6.6zM193.8 326.3h6.6v6.6h-6.6zM136.4 387.4h6.6v6.6h-6.6zM211.5 322h6.6v6.6h-6.6z"/>
<path d="M205.6 392.2h6.6v6.6h-6.6zM135.3 380.3h6.6v6.6h-6.6zM185.8 373h6.6v6.6h-6.6zM166.4 403.4h6.6v6.6h-6.6zM125.8 406.1h6.6v6.6h-6.6zM206.6 317.1h6.6v6.6h-6.6z"/>
<path d="M196.7 331h6.6v6.6h-6.6zM127.6 299.2h6.6v6.6h-6.6zM183.5 319.1h6.6v6.6h-6.6zM131.4 328.2h6.6v6.6h-6.6zM182.1 325.1h6.6v6.6h-6.6zM130 356.5h6.6v6.6h-6.6z"/>
<path d="M204.6 397.9h6.6v6.6h-6.6zM131.1 336.8h6.6v6.6h-6.6zM166.3 388.3h6.6v6.6h-6.6zM194.9 314.1h6.6v6.6h-6.6zM184 399.5h6.6v6.6h-6.6zM168 305.8h6.6v6.6h-6.6z"/>
<path d="M186.5 387.8h6.6v6.6h-6.6zM138.3 349.4h6.6v6.6h-6.6zM179.6 354.1h6.6v6.6h-6.6zM180.3 374.6h6.6v6.6h-6.6zM147.7 357.2h6.6v6.6h-6.6zM192.6 389.6h6.6v6.6h-6.6z"/>
<path d="M160.6 309.8h6.6v6.6h-6.6zM121.1 383.9h6.6v6.6h-6.6zM186.2 362.2h6.6v6.6h-6.6zM201.4 331.1h6.6v6.6h-6.6zM185 354.9h6.6v6.6h-6.6zM152 409.2h6.6v6.6h-6.6z"/>
<path d="M121.2 306.3h6.6v6.6h-6.6zM181.7 353.9h6.6v6.6h-6.6zM200.7 386h6.6v6.6h-6.6zM149.9 366.1h6.6v6.6h-6.6zM178.8 339.9h6.6v6.6h-6.6zM165.4 349.4h6.6v6.6h-6.6z"/>
<path d="M198.6 355.1h6.6v6.6h-6.6zM202.3 324.4h6.6v6.6h-6.6zM121.9 369.4h6.6v6.6h-6.6zM125.2 402.7h6.6v6.6h-6.6zM169.4 381.2h6.6v6.6h-6.6zM166.3 368.1h6.6v6.6h-6.6z"/>
<path d="M149 394.7h6.6v6.6h-6.6zM124.8 352.3h6.6v6.6h-6.6zM189 375h6.6v6.6h-6.6zM134.6 406.5h6.6v6.6h-6.6zM187.6 336.3h6.6v6.6h-6.6zM172.6 322.3h6.6v6.6h-6.6z"/>
<path d="M122.3 304.3h6.6v6.6h-6.6zM187.9 309.9h6.6v6.6h-6.6zM174.5 322.6h6.6v6.6h-6.6zM137.5 358.5h6.6v6.6h-6.6zM123 347.1h6.6v6.6h-6.6zM162.9 314.2h6.6v6.6h-6.6z"/>
<path d="M198.8 402.7h6.6v6.6h-6.6zM152.7 366.6h6.6v6.6h-6.6zM168.2 379h6.6v6.6h-6.6zM200.9 392.5h6.6v6.6h-6.6zM133.9 409.2h6.6v6.6h-6.6zM197.1 327h6.6v6.6h-6.6z"/>
<path d="M145.8 391.5h6.6v6.6h-6.6zM125.4 403.7h6.6v6.6h-6.6zM178.8 315.8h6.6v6.6h-6.6zM207.8 355h6.6v6.6h-6.6zM138.9 401h6.6v6.6h-6.6zM153.1 317.2h6.6v6.6h-6.6z"/>
<path d="M145.3 359.1h6.6v6.6h-6.6zM124.7 302.4h6.6v6.6h-6.6zM144.7 328.9h6.6v6.6h-6.6zM122.7 388.1h6.6v6.6h-6.6zM164.5 352.3h6.6v6.6h-6.6zM197.5 378.9h6.6v6.6h-6.6z"/>
<path d="M122.3 402.1h6.6v6.6h-6.6zM145.9 374.3h6.6v6.6h-6.6zM160.8 357.3h6.6v6.6h-6.6zM199.6 401.1h6.6v6.6h-6.6zM159.9 356.2h6.6v6.6h-6.6zM205.6 388.4h6.6v6.6h-6.6z"/>
<path d="M131.5 361.3h6.6v6.6h-6.6zM181.4 400.2h6.6v6.6h-6.6zM186.4 360.7h6.6v6.6h-6.6zM149.6 312.1h6.6v6.6h-6.6zM168.1 360.2h6.6v6.6h-6.6zM154.6 396.1h6.6v6.6h-6.6z"/>
<path d="M150.5 320.5h6.6v6.6h-6.6zM186.9 305h6.6v6.6h-6.6zM199.4 335.8h6.6v6.6h-6.6zM160.5 317h6.6v6.6h-6.6zM127.3 318.5h6.6v6.6h-6.6zM157.6 385.1h6.6v6.6h-6.6z"/>
<path d="M151.3 361h6.6v6.6h-6.6zM202.4 376.2h6.6v6.6h-6.6zM175.9 301.3h6.6v6.6h-6.6zM137.1 319.9h6.6v6.6h-6.6zM188.2 317.2h6.6v6.6h-6.6zM168.6 394.5h6.6v6.6h-6.6z"/>
<path d="M206.8 340.5h6.6v6.6h-6.6zM181.9 362.2h6.6v6.6h-6.6zM172.8 388.7h6.6v6.6h-6.6zM147.8 364.8h6.6v6.6h-6.6zM185.4 337.9h6.6v6.6h-6.6zM158 397.7h6.6v6.6h-6.6z"/>
<path d="M149.9 333.2h6.6v6.6h-6.6zM127.2 397.9h6.6v6.6h-6.6zM154.8 394.8h6.6v6.6h-6.6zM210.7 346.5h6.6v6.6h-6.6zM184.9 339.8h6.6v6.6h-6.6zM129.9 369h6.6v6.6h-6.6z"/>
<path d="M164.8 329h6.6v6.6h-6.6zM128.6 293h6.6v6.6h-6.6zM156 349.8h6.6v6.6h-6.6zM198.7 361.2h6.6v6.6h-6.6zM193.9 407.1h6.6v6.6h-6.6zM197 313.7h6.6v6.6h-6.6z"/>
<path d="M190.7 305.9h6.6v6.6h-6.6zM193.2 380h6.6v6.6h-6.6zM171.9 334.3h6.6v6.6h-6.6zM131.7 365.8h6.6v6.6h-6.6zM186.5 379.4h6.6v6.6h-6.6zM162.9 378.7h6.6v6.6h-6.6z"/>
<path d="M148.1 372.9h6.6v6.6h-6.6zM209.2 360.5h6.6v6.6h-6.6zM138.2 316.6h6.6v6.6h-6.6zM192.7 315.5h6.6v6.6h-6.6zM137 406.7h6.6v6.6h-6.6zM203.1 333.7h6.6v6.6h-6.6z"/>
<path d="M126.4 386.9h6.6v6.6h-6.6zM124.5 294.1h6.6v6.6h-6.6zM178.2 353.2h6.6v6.6h-6.6zM155.8 332.7h6.6v6.6h-6.6zM191.1 325.7h6.6v6.6h-6.6zM125.3 404.5h6.6v6.6h-6.6z"/>
<path d="M148.2 336.1h6.6v6.6h-6.6zM150.9 303.3h6.6v6.6h-6.6zM135.6 345h6.6v6.6h-6.6zM122.2 312.9h6.6v6.6h-6.6zM171.8 331.8h6.6v6.6h-6.6zM168.6 371.6h6.6v6.6h-6.6z"/>
<path d="M209.9 352.4h6.6v6.6h-6.6zM123.3 350.1h6.6v6.6h-6.6zM162.5 386h6.6v6.6h-6.6zM174.5 401.2h6.6v6.6h-6.6zM208.6 359.1h6.6v6.6h-6.6zM122.3 360h6.6v6.6h-6.6z"/>
<path d="M184.6 359.9h6.6v6.6h-6.6zM178.2 365.8h6.6v6.6h-6.6zM131.2 344h6.6v6.6h-6.6zM200.8 297.9h6.6v6.6h-6.6zM187 392.8h6.6v6.6h-6.6zM134.2 353.1h6.6v6.6h-6.6z"/>
<path d="M158.6 369h6.6v6.6h-6.6zM122.7 384.8h6.6v6.6h-6.6zM160.1 407.7h6.6v6.6h-6.6zM134.2 349h6.6v6.6h-6.6zM120.5 338.6h6.6v6.6h-6.6zM188.2 366.7h6.6v6.6h-6.6z"/>
<path d="M181 376.6h6.6v6.6h-6.6zM170 319.1h6.6v6.6h-6.6zM199.3 337.8h6.6v6.6h-6.6zM145.2 357.3h6.6v6.6h-6.6zM129.5 374.9h6.6v6.6h-6.6zM205.7 359.2h6.6v6.6h-6.6z"/>
<path d="M125.2 357.4h6.6v6.6h-6.6zM192 330.3h6.6v6.6h-6.6zM175.3 395.9h6.6v6.6h-6.6zM197.5 354.3h6.6v6.6h-6.6zM139 337.1h6.6v6.6h-6.6zM181.8 392.7h6.6v6.6h-6.6z"/>
<path d="M146.3 322.8h6.6v6.6h-6.6zM175.6 403.7h6.6v6.6h-6.6zM136.1 286.7h6.6v6.6h-6.6zM188.2 361.8h6.6v6.6h-6.6zM172.4 347.2h6.6v6.6h-6.6zM158.2 381.7h6.6v6.6h-6.6z"/>
<path d="M152.9 306.9h6.6v6.6h-6.6zM193.1 392.4h6.6v6.6h-6.6zM182.4 373.3h6.6v6.6h-6.6zM182.8 381h6.6v6.6h-6.6zM128.9 353.5h6.6v6.6h-6.6zM159.7 418.7h6.6v6.6h-6.6z"/>
<path d="M177.7 321.5h6.6v6.6h-6.6zM185.9 324h6.6v6.6h-6.6zM129 388h6.6v6.6h-6.6zM132.9 402.2h6.6v6.6h-6.6zM210.1 362.5h6.6v6.6h-6.6zM201.9 314.2h6.6v6.6h-6.6z"/>
<path d="M126.1 299.3h6.6v6.6h-6.6zM132.8 366.2h6.6v6.6h-6.6zM121.8 311.3h6.6v6.6h-6.6zM186.5 404h6.6v6.6h-6.6zM192.5 375.1h6.6v6.6h-6.6zM131.6 357.6h6.6v6.6h-6.6z"/>
<path d="M160 414.7h6.6v6.6h-6.6zM167.3 323.6h6.6v6.6h-6.6zM138.9 361.1h6.6v6.6h-6.6zM153.4 332.1h6.6v6.6h-6.6zM155.5 326h6.6v6.6h-6.6zM168.5 354.3h6.6v6.6h-6.6z"/>
<path d="M155.7 304.1h6.6v6.6h-6.6zM141.2 397.7h6.6v6.6h-6.6zM134.2 361.2h6.6v6.6h-6.6zM150.7 321.3h6.6v6.6h-6.6zM123.9 310.8h6.6v6.6h-6.6zM138.4 354.4h6.6v6.6h-6.6z"/>
<path d="M130.8 295.3h6.6v6.6h-6.6zM209.6 341.7h6.6v6.6h-6.6zM149.8 384.3h6.6v6.6h-6.6zM168.6 373.3h6.6v6.6h-6.6zM123.8 332.6h6.6v6.6h-6.6zM136.2 354.1h6.6v6.6h-6.6z"/>
<path d="M172.1 318h6.6v6.6h-6.6zM147 388.6h6.6v6.6h-6.6zM171.8 340.4h6.6v6.6h-6.6zM133.3 376.7h6.6v6.6h-6.6zM161.4 315.4h6.6v6.6h-6.6zM130.8 345.2h6.6v6.6h-6.6z"/>
<path d="M190.3 398.6h6.6v6.6h-6.6zM166.8 365h6.6v6.6h-6.6zM150.6 348.8h6.6v6.6h-6.6zM137.8 327.7h6.6v6.6h-6.6zM166 348.4h6.6v6.6h-6.6zM148.4 382.7h6.6v6.6h-6.6z"/>
<path d="M144.1 367.7h6.6v6.6h-6.6zM190.3 319.2h6.6v6.6h-6.6zM205.7 365.8h6.6v6.6h-6.6zM121.8 302.3h6.6v6.6h-6.6zM126.2 308.4h6.6v6.6h-6.6zM141.6 305.4h6.6v6.6h-6.6z"/>
<path d="M127.8 378.8h6.6v6.6h-6.6zM187.1 348.1h6.6v6.6h-6.6zM177.8 304.3h6.6v6.6h-6.6zM170.7 365.6h6.6v6.6h-6.6zM122.9 360.3h6.6v6.6h-6.6zM157.1 404.7h6.6v6.6h-6.6z"/>
<path d="M147.5 387.3h6.6v6.6h-6.6zM193.9 309.3h6.6v6.6h-6.6zM153.4 350.1h6.6v6.6h-6.6zM158.6 404.2h6.6v6.6h-6.6zM132 363.5h6.6v6.6h-6.6zM185.1 338.2h6.6v6.6h-6.6z"/>
<path d="M132 313.2h6.6v6.6h-6.6zM161.8 384.5h6.6v6.6h-6.6zM138.8 371.3h6.6v6.6h-6.6zM144.8 326.8h6.6v6.6h-6.6zM130.4 364.8h6.6v6.6h-6.6zM207.5 331.1h6.6v6.6h-6.6z"/>
<path d="M129.1 406.2h6.6v6.6h-6.6zM157 323.3h6.6v6.6h-6.6zM151.6 347.7h6.6v6.6h-6.6zM124.2 366.5h6.6v6.6h-6.6zM158.3 323.4h6.6v6.6h-6.6zM136 305h6.6v6.6h-6.6z"/>
<path d="M128.7 347.3h6.6v6.6h-6.6zM131.3 293.8h6.6v6.6h-6.6zM137 377.2h6.6v6.6h-6.6zM200.8 329.8h6.6v6.6h-6.6zM202.4 313.9h6.6v6.6h-6.6zM172.5 408.1h6.6v6.6h-6.6z"/>
<path d="M208.2 362.2h6.6v6.6h-6.6zM203.5 316.7h6.6v6.6h-6.6zM174.1 366h6.6v6.6h-6.6zM176.1 317h6.6v6.6h-6.6zM183.4 315.1h6.6v6.6h-6.6zM128.9 356.2h6.6v6.6h-6.6z"/>
<path d="M163.2 387.4h6.6v6.6h-6.6zM177.5 357.1h6.6v6.6h-6.6zM154.8 356.2h6.6v6.6h-6.6zM208.6 331h6.6v6.6h-6.6zM192.7 317.6h6.6v6.6h-6.6zM183.7 318.2h6.6v6.6h-6.6z"/>
<path d="M181 392.6h6.6v6.6h-6.6zM149.7 296.7h6.6v6.6h-6.6zM170.4 397.5h6.6v6.6h-6.6zM207 346.2h6.6v6.6h-6.6zM140.3 395.4h6.6v6.6h-6.6zM158.6 364.5h6.6v6.6h-6.6z"/>
<path d="M164.2 346.3h6.6v6.6h-6.6zM204.3 351.6h6.6v6.6h-6.6zM144 369.3h6.6v6.6h-6.6zM175.8 362.6h6.6v6.6h-6.6zM149.5 305.6h6.6v6.6h-6.6zM139.2 332.9h6.6v6.6h-6.6z"/>
<path d="M123.6 301.8h6.6v6.6h-6.6zM185.3 344h6.6v6.6h-6.6zM190.5 399.2h6.6v6.6h-6.6zM175.1 353.3h6.6v6.6h-6.6zM122.8 379.8h6.6v6.6h-6.6zM179.6 404h6.6v6.6h-6.6z"/>
<path d="M158.5 326.2h6.6v6.6h-6.6zM128.7 358h6.6v6.6h-6.6zM177.5 320.7h6.6v6.6h-6.6zM154 391.6h6.6v6.6h-6.6zM142.6 335.5h6.6v6.6h-6.6zM179.1 369.4h6.6v6.6h-6.6z"/>
<path d="M175.3 414.7h6.6v6.6h-6.6zM144.3 318.4h6.6v6.6h-6.6zM182.4 330.3h6.6v6.6h-6.6zM162.4 351.3h6.6v6.6h-6.6zM131.9 339.6h6.6v6.6h-6.6zM124.4 384.7h6.6v6.6h-6.6z"/>
<path d="M129.1 361.1h6.6v6.6h-6.6zM185.9 392.7h6.6v6.6h-6.6zM176.1 365h6.6v6.6h-6.6zM135.9 392h6.6v6.6h-6.6zM136.5 396.9h6.6v6.6h-6.6zM171.3 405.3h6.6v6.6h-6.6z"/>
<path d="M140.2 387.7h6.6v6.6h-6.6zM136.9 392.2h6.6v6.6h-6.6zM122.7 353.9h6.6v6.6h-6.6zM125.4 366h6.6v6.6h-6.6zM202.3 330.3h6.6v6.6h-6.6zM151.6 388.3h6.6v6.6h-6.6z"/>
<path d="M123.7 381.8h6.6v6.6h-6.6zM196.7 311h6.6v6.6h-6.6zM194.8 400.1h6.6v6.6h-6.6zM165.2 394.8h6.6v6.6h-6.6zM191.8 375.4h6.6v6.6h-6.6zM123.1 379.9h6.6v6.6h-6.6z"/>
<path d="M136.2 370.1h6.6v6.6h-6.6zM142.5 315.2h6.6v6.6h-6.6zM175.8 305.8h6.6v6.6h-6.6zM176.2 353.2h6.6v6.6h-6.6zM153.5 359.7h6.6v6.6h-6.6zM200.5 317.3h6.6v6.6h-6.6z"/>
<path d="M168.9 411.9h6.6v6.6h-6.6zM170 358.2h6.6v6.6h-6.6zM123.6 368.6h6.6v6.6h-6.6zM126.4 396.6h6.6v6.6h-6.6zM179.1 329.4h6.6v6.6h-6.6zM194.6 322.5h6.6v6.6h-6.6z"/>
<path d="M188.4 340h6.6v6.6h-6.6zM202.5 397.6h6.6v6.6h-6.6zM194.7 358h6.6v6.6h-6.6zM156.4 367.6h6.6v6.6h-6.6zM189.6 390.5h6.6v6.6h-6.6zM148.5 360h6.6v6.6h-6.6z"/>
<path d="M169.9 329.4h6.6v6.6h-6.6zM143.7 362.4h6.6v6.6h-6.6zM121.4 341.3h6.6v6.6h-6.6zM122.3 321.6h6.6v6.6h-6.6zM158.9 401.1h6.6v6.6h-6.6zM195.1 402.9h6.6v6.6h-6.6z"/>
<path d="M131.1 301.8h6.6v6.6h-6.6zM184.6 305.7h6.6v6.6h-6.6zM123.1 377.5h6.6v6.6h-6.6zM209.5 373.6h6.6v6.6h-6.6zM133.8 328.4h6.6v6.6h-6.6zM193.7 386.3h6.6v6.6h-6.6z"/>
<path d="M207.5 326.6h6.6v6.6h-6.6zM141.7 347h6.6v6.6h-6.6zM131.8 301.9h6.6v6.6h-6.6zM151.1 351.3h6.6v6.6h-6.6zM188.6 327.7h6.6v6.6h-6.6zM167.5 392.3h6.6v6.6h-6.6z"/>
<path d="M127 390h6.6v6.6h-6.6zM180.3 406.5h6.6v6.6h-6.6zM151.6 380.2h6.6v6.6h-6.6zM138.3 348.3h6.6v6.6h-6.6zM127.5 321.5h6.6v6.6h-6.6zM169.5 381.5h6.6v6.6h-6.6z"/>
<path d="M197 406.6h6.6v6.6h-6.6zM122.3 396.2h6.6v6.6h-6.6zM162.2 379.2h6.6v6.6h-6.6zM180.5 313.6h6.6v6.6h-6.6zM179.1 308.9h6.6v6.6h-6.6zM194.3 399.6h6.6v6.6h-6.6z"/>
<path d="M193.6 327.3h6.6v6.6h-6.6zM149.1 299.7h6.6v6.6h-6.6zM123 367.9h6.6v6.6h-6.6zM192.6 324.4h6.6v6.6h-6.6zM184.1 376h6.6v6.6h-6.6zM153.5 351.8h6.6v6.6h-6.6z"/>
<path d="M178.2 394.5h6.6v6.6h-6.6zM188.3 320.7h6.6v6.6h-6.6zM139.1 362.8h6.6v6.6h-6.6zM123.8 301.3h6.6v6.6h-6.6zM122.8 330.7h6.6v6.6h-6.6zM198.3 409.1h6.6v6.6h-6.6z"/>
<path d="M139.1 398.9h6.6v6.6h-6.6zM182.2 346.6h6.6v6.6h-6.6zM200.2 391.9h6.6v6.6h-6.6zM181.1 363.6h6.6v6.6h-6.6zM131.6 305.9h6.6v6.6h-6.6zM121.9 346.2h6.6v6.6h-6.6z"/>
<path d="M122.8 384.3h6.6v6.6h-6.6zM167.7 340.4h6.6v6.6h-6.6zM194.8 329.7h6.6v6.6h-6.6zM210.8 358.3h6.6v6.6h-6.6zM128.2 390.9h6.6v6.6h-6.6zM162.2 387.5h6.6v6.6h-6.6z"/>
<path d="M208.7 331.9h6.6v6.6h-6.6zM187.9 348.5h6.6v6.6h-6.6zM173.2 301.9h6.6v6.6h-6.6zM157.2 298.6h6.6v6.6h-6.6zM203 365.8h6.6v6.6h-6.6zM125.1 306.4h6.6v6.6h-6.6z"/>
<path d="M144.5 306.4h6.6v6.6h-6.6zM171.2 397.6h6.6v6.6h-6.6zM139.5 342.2h6.6v6.6h-6.6zM123.3 401.3h6.6v6.6h-6.6zM125.2 302.9h6.6v6.6h-6.6zM170.2 365.7h6.6v6.6h-6.6z"/>
<path d="M182.9 385.3h6.6v6.6h-6.6zM176.5 305.4h6.6v6.6h-6.6zM192.1 403.4h6.6v6.6h-6.6zM123.4 375.2h6.6v6.6h-6.6zM144.6 388.9h6.6v6.6h-6.6zM137.6 321.2h6.6v6.6h-6.6z"/>
<path d="M142.4 371.8h6.6v6.6h-6.6zM151.9 334.7h6.6v6.6h-6.6zM157.7 307.2h6.6v6.6h-6.6zM166.6 388.7h6.6v6.6h-6.6zM196.4 383.3h6.6v6.6h-6.6zM185.9 309.2h6.6v6.6h-6.6z"/>
<path d="M132.7 385.6h6.6v6.6h-6.6zM172.4 341.5h6.6v6.6h-6.6zM143.2 392.8h6.6v6.6h-6.6zM183 314.9h6.6v6.6h-6.6zM160.9 360.7h6.6v6.6h-6.6zM135.1 312.9h6.6v6.6h-6.6z"/>
<path d="M120.8 297.6h6.6v6.6h-6.6zM183.9 370h6.6v6.6h-6.6zM146.3 301.8h6.6v6.6h-6.6zM194 360.5h6.6v6.6h-6.6zM124.4 306.9h6.6v6.6h-6.6zM184.5 356.6h6.6v6.6h-6.6z"/>
<path d="M185.4 326.6h6.6v6.6h-6.6zM177.6 404.8h6.6v6.6h-6.6zM203.3 327h6.6v6.6h-6.6zM183.9 340.9h6.6v6.6h-6.6zM137.8 326.3h6.6v6.6h-6.6zM202.5 369.6h6.6v6.6h-6.6z"/>
<path d="M159.6 331.8h6.6v6.6h-6.6zM144.7 371.3h6.6v6.6h-6.6zM210.4 376.5h6.6v6.6h-6.6zM175.4 362.8h6.6v6.6h-6.6zM171.4 348.5h6.6v6.6h-6.6zM182.5 353.7h6.6v6.6h-6.6z"/>
<path d="M206.2 332.6h6.6v6.6h-6.6zM124.8 294.1h6.6v6.6h-6.6zM200.1 383.4h6.6v6.6h-6.6zM125.3 377.7h6.6v6.6h-6.6zM171.2 328.5h6.6v6.6h-6.6zM196.2 395.7h6.6v6.6h-6.6z"/>
<path d="M199.5 374.6h6.6v6.6h-6.6zM125.6 355.1h6.6v6.6h-6.6zM198.1 371.6h6.6v6.6h-6.6zM167 349.4h6.6v6.6h-6.6zM132.3 385.4h6.6v6.6h-6.6zM159.8 401.6h6.6v6.6h-6.6z"/>
<path d="M129.8 378.9h6.6v6.6h-6.6zM173.7 345h6.6v6.6h-6.6zM173.6 319.2h6.6v6.6h-6.6zM174 350.7h6.6v6.6h-6.6zM191.3 362.3h6.6v6.6h-6.6zM133.4 357.9h6.6v6.6h-6.6z"/>
<path d="M154.8 346h6.6v6.6h-6.6zM128.5 347.6h6.6v6.6h-6.6zM152.1 311h6.6v6.6h-6.6zM148.6 391.9h6.6v6.6h-6.6zM122.3 346.6h6.6v6.6h-6.6zM154.7 357.9h6.6v6.6h-6.6z"/>
<path d="M157.8 307.6h6.6v6.6h-6.6zM122.7 296.5h6.6v6.6h-6.6zM130.9 388h6.6v6.6h-6.6zM171.4 396.7h6.6v6.6h-6.6zM122.7 378.8h6.6v6.6h-6.6zM142.8 308h6.6v6.6h-6.6z"/>
<path d="M174.8 363.5h6.6v6.6h-6.6zM164.1 309.5h6.6v6.6h-6.6zM130.3 405.7h6.6v6.6h-6.6zM165.3 356.5h6.6v6.6h-6.6zM191.4 398.9h6.6v6.6h-6.6zM169.5 358.3h6.6v6.6h-6.6z"/>
<path d="M165.2 344.8h6.6v6.6h-6.6zM184.3 313.2h6.6v6.6h-6.6zM124.1 376.1h6.6v6.6h-6.6zM186.5 406.5h6.6v6.6h-6.6zM163.7 341.2h6.6v6.6h-6.6zM205.5 390.2h6.6v6.6h-6.6z"/>
<path d="M158.3 409.3h6.6v6.6h-6.6zM153.9 370.3h6.6v6.6h-6.6zM175.8 316h6.6v6.6h-6.6zM203.3 344.8h6.6v6.6h-6.6zM126.2 292.5h6.6v6.6h-6.6zM197.9 404h6.6v6.6h-6.6z"/>
<path d="M208 318.8h6.6v6.6h-6.6zM142.5 306.5h6.6v6.6h-6.6zM205.3 373.2h6.6v6.6h-6.6zM131.2 388h6.6v6.6h-6.6zM149.4 362.9h6.6v6.6h-6.6zM154.7 407.9h6.6v6.6h-6.6z"/>
<path d="M148.5 304.4h6.6v6.6h-6.6zM175.2 350.2h6.6v6.6h-6.6zM171.1 333.7h6.6v6.6h-6.6zM194 349.6h6.6v6.6h-6.6zM158.3 322.9h6.6v6.6h-6.6zM138.3 401.6h6.6v6.6h-6.6z"/>
<path d="M208.7 349.7h6.6v6.6h-6.6zM139.9 408.6h6.6v6.6h-6.6zM174.1 365.1h6.6v6.6h-6.6zM170.3 402.8h6.6v6.6h-6.6zM131.6 372h6.6v6.6h-6.6zM149.1 343h6.6v6.6h-6.6z"/>
<path d="M159.9 374.3h6.6v6.6h-6.6zM176.4 354h6.6v6.6h-6.6zM173 376.8h6.6v6.6h-6.6zM170.2 387h6.6v6.6h-6.6zM168 328.1h6.6v6.6h-6.6zM134.6 404.1h6.6v6.6h-6.6z"/>
<path d="M157 302.9h6.6v6.6h-6.6zM162 368.8h6.6v6.6h-6.6zM159.9 399.1h6.6v6.6h-6.6zM170.2 402h6.6v6.6h-6.6zM148.8 366.6h6.6v6.6h-6.6zM200.6 395.4h6.6v6.6h-6.6z"/>
<path d="M199.8 312.4h6.6v6.6h-6.6zM155.4 343.5h6.6v6.6h-6.6zM181.1 358.3h6.6v6.6h-6.6zM170.5 320.3h6.6v6.6h-6.6zM165.9 386.5h6.6v6.6h-6.6zM185.4 312.7h6.6v6.6h-6.6z"/>
<path d="M195.6 321.3h6.6v6.6h-6.6zM136.8 379.9h6.6v6.6h-6.6zM192.1 395.7h6.6v6.6h-6.6zM124.2 308.8h6.6v6.6h-6.6zM149.3 334.4h6.6v6.6h-6.6zM168.6 374.1h6.6v6.6h-6.6z"/>
<path d="M199.9 382.4h6.6v6.6h-6.6zM178.9 377.5h6.6v6.6h-6.6zM210.6 328.3h6.6v6.6h-6.6zM210.6 366.8h6.6v6.6h-6.6zM170.4 335.4h6.6v6.6h-6.6zM158.9 397.3h6.6v6.6h-6.6z"/>
<path d="M197.4 316h6.6v6.6h-6.6zM131.5 333.3h6.6v6.6h-6.6zM210.4 326.5h6.6v6.6h-6.6zM172.7 357.4h6.6v6.6h-6.6zM139.4 404h6.6v6.6h-6.6zM176.4 389.7h6.6v6.6h-6.6z"/>
<path d="M133.9 327.9h6.6v6.6h-6.6zM143.2 371.7h6.6v6.6h-6.6zM133.1 302.8h6.6v6.6h-6.6zM139.6 405.7h6.6v6.6h-6.6zM122.5 302.9h6.6v6.6h-6.6zM178 359h6.6v6.6h-6.6z"/>
<path d="M202 354h6.6v6.6h-6.6zM191 339.9h6.6v6.6h-6.6zM133.1 320.5h6.6v6.6h-6.6zM176.5 306h6.6v6.6h-6.6zM178.3 325h6.6v6.6h-6.6zM158.5 405.7h6.6v6.6h-6.6z"/>
<path d="M194.8 353h6.6v6.6h-6.6zM123.5 350.9h6.6v6.6h-6.6zM140.5 324.5h6.6v6.6h-6.6zM145 341.5h6.6v6.6h-6.6zM164.7 321.8h6.6v6.6h-6.6zM146.5 356.6h6.6v6.6h-6.6z"/>
<path d="M205.2 319.8h6.6v6.6h-6.6zM158.1 397.8h6.6v6.6h-6.6zM148.4 377.7h6.6v6.6h-6.6zM170.8 304.8h6.6v6.6h-6.6zM140.1 378h6.6v6.6h-6.6zM137.6 338.9h6.6v6.6h-6.6z"/>
<path d="M136.4 375.4h6.6v6.6h-6.6zM172.5 319.4h6.6v6.6h-6.6zM161.2 324.6h6.6v6.6h-6.6zM180.2 404.8h6.6v6.6h-6.6zM160.1 396.3h6.6v6.6h-6.6zM184.6 340.7h6.6v6.6h-6.6z"/>
<path d="M148.5 404.3h6.6v6.6h-6.6zM208.5 378h6.6v6.6h-6.6zM163.2 383.6h6.6v6.6h-6.6zM193.9 343.1h6.6v6.6h-6.6zM186.3 396.6h6.6v6.6h-6.6zM155.6 391.8h6.6v6.6h-6.6z"/>
<path d="M192.9 365.3h6.6v6.6h-6.6zM150.6 310.1h6.6v6.6h-6.6zM147.1 308.5h6.6v6.6h-6.6zM131.7 377.9h6.6v6.6h-6.6zM131.6 316.1h6.6v6.6h-6.6zM177.9 331.7h6.6v6.6h-6.6z"/>
<path d="M125.5 399.2h6.6v6.6h-6.6zM143.7 400.7h6.6v6.6h-6.6zM199.8 391.5h6.6v6.6h-6.6zM144.9 390.9h6.6v6.6h-6.6zM191.3 364.1h6.6v6.6h-6.6zM160.5 358.5h6.6v6.6h-6.6z"/>
<path d="M162.6 322.7h6.6v6.6h-6.6zM153 307.8h6.6v6.6h-6.6zM170.1 350.9h6.6v6.6h-6.6zM160.4 388.7h6.6v6.6h-6.6zM147.5 382h6.6v6.6h-6.6zM139.7 382.1h6.6v6.6h-6.6z"/>
<path d="M163.9 396.2h6.6v6.6h-6.6zM207.1 358.5h6.6v6.6h-6.6zM151.3 346.7h6.6v6.6h-6.6zM167.1 381.9h6.6v6.6h-6.6zM160.4 352.9h6.6v6.6h-6.6zM137.9 365.6h6.6v6.6h-6.6z"/>
<path d="M169 387.8h6.6v6.6h-6.6zM169.1 354.9h6.6v6.6h-6.6zM163.1 345.9h6.6v6.6h-6.6zM162.4 340.3h6.6v6.6h-6.6zM196 342.5h6.6v6.6h-6.6zM155.8 325.5h6.6v6.6h-6.6z"/>
<path d="M157.8 408.5h6.6v6.6h-6.6zM202.8 371.2h6.6v6.6h-6.6zM138.2 379.3h6.6v6.6h-6.6zM161.3 316.4h6.6v6.6h-6.6zM164.3 363.4h6.6v6.6h-6.6zM144.3 401.5h6.6v6.6h-6.6z"/>
<path d="M144.7 386.8h6.6v6.6h-6.6zM160.4 373h6.6v6.6h-6.6zM186.7 382.4h6.6v6.6h-6.6zM206.4 330.9h6.6v6.6h-6.6zM135.3 402.3h6.6v6.6h-6.6zM191.6 309.8h6.6v6.6h-6.6z"/>
<path d="M188 344h6.6v6.6h-6.6zM146.3 379.1h6.6v6.6h-6.6zM123.2 388h6.6v6.6h-6.6zM177.6 391.8h6.6v6.6h-6.6zM160.5 416.5h6.6v6.6h-6.6zM145.8 345.3h6.6v6.6h-6.6z"/>
<path d="M169.6 344.7h6.6v6.6h-6.6zM196.9 385h6.6v6.6h-6.6zM130.4 359.4h6.6v6.6h-6.6zM188.8 400.7h6.6v6.6h-6.6zM131.9 394.3h6.6v6.6h-6.6zM122.9 386.1h6.6v6.6h-6.6z"/>
<path d="M199.6 355.7h6.6v6.6h-6.6zM169.3 325.1h6.6v6.6h-6.6zM160.7 385.9h6.6v6.6h-6.6zM209.8 336.3h6.6v6.6h-6.6zM199.4 357.5h6.6v6.6h-6.6zM201 396.2h6.6v6.6h-6.6z"/>
<path d="M180.2 367.9h6.6v6.6h-6.6zM205.3 401.1h6.6v6.6h-6.6zM201.1 366h6.6v6.6h-6.6zM198.7 390.1h6.6v6.6h-6.6zM195.1 350.1h6.6v6.6h-6.6zM210.3 359.6h6.6v6.6h-6.6z"/>
<path d="M158.2 395.7h6.6v6.6h-6.6zM123.1 392.3h6.6v6.6h-6.6zM150.8 363.4h6.6v6.6h-6.6zM184.5 410.7h6.6v6.6h-6.6zM193.7 356.2h6.6v6.6h-6.6zM203.1 354.3h6.6v6.6h-6.6z"/>
<path d="M184.5 338.1h6.6v6.6h-6.6zM198.7 397.2h6.6v6.6h-6.6zM165.5 356.5h6.6v6.6h-6.6zM158.8 322.1h6.6v6.6h-6.6zM134.4 366.3h6.6v6.6h-6.6zM192.4 368.2h6.6v6.6h-6.6z"/>
<path d="M126.8 325.2h6.6v6.6h-6.6zM151.7 341h6.6v6.6h-6.6zM209.4 350.7h6.6v6.6h-6.6zM211.7 380h6.6v6.6h-6.6zM184.5 303.2h6.6v6.6h-6.6zM127.6 307.4h6.6v6.6h-6.6z"/>
<path d="M210.1 381.4h6.6v6.6h-6.6zM144.5 402.4h6.6v6.6h-6.6zM154.1 341.8h6.6v6.6h-6.6zM203 333.4h6.6v6.6h-6.6zM147.5 400.9h6.6v6.6h-6.6zM187.9 406.2h6.6v6.6h-6.6z"/>
<path d="M135.3 387.8h6.6v6.6h-6.6zM180.6 412.1h6.6v6.6h-6.6zM209.4 338.9h6.6v6.6h-6.6zM148.1 375.7h6.6v6.6h-6.6zM192.6 333.3h6.6v6.6h-6.6zM208.8 341.5h6.6v6.6h-6.6z"/>
<path d="M169.2 363.9h6.6v6.6h-6.6zM153.5 333h6.6v6.6h-6.6zM205.8 375.2h6.6v6.6h-6.6zM186.9 390.9h6.6v6.6h-6.6zM196.8 373.9h6.6v6.6h-6.6zM150.2 353.8h6.6v6.6h-6.6z"/>
<path d="M161.2 313.8h6.6v6.6h-6.6zM206.2 342.6h6.6v6.6h-6.6zM153.7 403.7h6.6v6.6h-6.6zM152.5 362.9h6.6v6.6h-6.6zM169.4 378.9h6.6v6.6h-6.6zM124.1 347.2h6.6v6.6h-6.6z"/>
<path d="M158.7 308h6.6v6.6h-6.6zM128.8 303.7h6.6v6.6h-6.6zM155.1 344.3h6.6v6.6h-6.6zM176.9 369.2h6.6v6.6h-6.6zM146.5 370.9h6.6v6.6h-6.6zM150.7 329.6h6.6v6.6h-6.6z"/>
<path d="M125.6 350h6.6v6.6h-6.6zM145.7 329.7h6.6v6.6h-6.6zM148.2 380.8h6.6v6.6h-6.6zM135.2 390.6h6.6v6.6h-6.6zM201.2 398.6h6.6v6.6h-6.6zM123.5 360.7h6.6v6.6h-6.6z"/>
<path d="M151.8 396.7h6.6v6.6h-6.6zM172.3 369.6h6.6v6.6h-6.6zM188.7 368h6.6v6.6h-6.6zM188.6 362.2h6.6v6.6h-6.6zM156.5 386.3h6.6v6.6h-6.6zM201.4 319.2h6.6v6.6h-6.6z"/>
<path d="M203.8 336.8h6.6v6.6h-6.6zM137.3 396.2h6.6v6.6h-6.6zM184.4 373.7h6.6v6.6h-6.6zM161.4 393.4h6.6v6.6h-6.6zM186.5 349.9h6.6v6.6h-6.6zM187.4 401h6.6v6.6h-6.6z"/>
<path d="M205 378h6.6v6.6h-6.6zM163.7 310.2h6.6v6.6h-6.6zM196.8 396.6h6.6v6.6h-6.6zM129 294.7h6.6v6.6h-6.6zM169.4 330.2h6.6v6.6h-6.6zM143 396h6.6v6.6h-6.6z"/>
<path d="M149.5 388.5h6.6v6.6h-6.6zM192.9 313.5h6.6v6.6h-6.6zM189.4 359.3h6.6v6.6h-6.6zM184.7 401.7h6.6v6.6h-6.6zM141.3 356h6.6v6.6h-6.6zM162.9 410.7h6.6v6.6h-6.6z"/>
<path d="M159.5 313.5h6.6v6.6h-6.6zM128.5 301.6h6.6v6.6h-6.6zM183.1 336.9h6.6v6.6h-6.6zM129.3 380.2h6.6v6.6h-6.6zM187.8 362.4h6.6v6.6h-6.6zM173.6 349.4h6.6v6.6h-6.6z"/>
<path d="M192.4 401.6h6.6v6.6h-6.6zM136.4 406h6.6v6.6h-6.6zM199.3 312.9h6.6v6.6h-6.6zM173.7 408.7h6.6v6.6h-6.6zM141.2 335.4h6.6v6.6h-6.6zM178.6 334.2h6.6v6.6h-6.6z"/>
<path d="M130.4 347h6.6v6.6h-6.6zM122.1 385.6h6.6v6.6h-6.6zM127.4 305.5h6.6v6.6h-6.6zM122.5 370.6h6.6v6.6h-6.6zM191.6 332.1h6.6v6.6h-6.6zM134.1 352.3h6.6v6.6h-6.6z"/>
<path d="M153.7 389.6h6.6v6.6h-6.6zM184.2 330h6.6v6.6h-6.6zM131.4 297.7h6.6v6.6h-6.6zM162.6 356.5h6.6v6.6h-6.6zM199.9 388.3h6.6v6.6h-6.6zM187.6 313h6.6v6.6h-6.6z"/>
<path d="M148.3 376.9h6.6v6.6h-6.6zM135.4 347.3h6.6v6.6h-6.6zM140.3 362.5h6.6v6.6h-6.6zM132.9 373.3h6.6v6.6h-6.6zM184.4 332.3h6.6v6.6h-6.6zM130.5 299.4h6.6v6.6h-6.6z"/>
<path d="M154.1 371.4h6.6v6.6h-6.6zM135 331.8h6.6v6.6h-6.6zM137.3 383.6h6.6v6.6h-6.6zM154.1 398.3h6.6v6.6h-6.6zM146.6 365.5h6.6v6.6h-6.6zM122.6 376.7h6.6v6.6h-6.6z"/>
<path d="M206.4 341h6.6v6.6h-6.6zM123 336.5h6.6v6.6h-6.6zM159.1 416.4h6.6v6.6h-6.6zM203.5 364.8h6.6v6.6h-6.6zM199 359.2h6.6v6.6h-6.6zM137.8 334.1h6.6v6.6h-6.6z"/>
<path d="M141.1 383.8h6.6v6.6h-6.6zM171.4 378.2h6.6v6.6h-6.6zM200.8 397.9h6.6v6.6h-6.6zM177.8 399.3h6.6v6.6h-6.6zM160.3 379.9h6.6v6.6h-6.6zM186.8 354.7h6.6v6.6h-6.6z"/>
<path d="M202.8 384.4h6.6v6.6h-6.6zM136 397.6h6.6v6.6h-6.6zM134.2 409.3h6.6v6.6h-6.6zM170.6 379.2h6.6v6.6h-6.6zM203.4 350.7h6.6v6.6h-6.6zM121.7 302.7h6.6v6.6h-6.6z"/>
<path d="M147.5 378.2h6.6v6.6h-6.6zM190.3 337.2h6.6v6.6h-6.6zM191.4 345.7h6.6v6.6h-6.6zM161.7 352.7h6.6v6.6h-6.6zM170 319.5h6.6v6.6h-6.6zM134 301.8h6.6v6.6h-6.6z"/>
<path d="M156.9 381.3h6.6v6.6h-6.6zM142.3 330.9h6.6v6.6h-6.6zM131.2 392h6.6v6.6h-6.6zM132.5 317.3h6.6v6.6h-6.6zM154.7 395h6.6v6.6h-6.6zM127.2 383.8h6.6v6.6h-6.6z"/>
<path d="M183.6 344.1h6.6v6.6h-6.6zM150.8 302.1h6.6v6.6h-6.6zM133.8 316.9h6.6v6.6h-6.6zM161.8 407.2h6.6v6.6h-6.6zM185.9 358.2h6.6v6.6h-6.6zM149.6 330.6h6.6v6.6h-6.6z"/>
<path d="M143.7 364.3h6.6v6.6h-6.6zM181.2 329.5h6.6v6.6h-6.6zM124.5 338h6.6v6.6h-6.6zM172.2 315.4h6.6v6.6h-6.6zM184 386.7h6.6v6.6h-6.6zM171.5 400.5h6.6v6.6h-6.6z"/>
<path d="M183.4 378.6h6.6v6.6h-6.6zM207 331.8h6.6v6.6h-6.6zM184.3 382.4h6.6v6.6h-6.6zM157.4 377.3h6.6v6.6h-6.6zM160.2 389.7h6.6v6.6h-6.6zM137.3 387.9h6.6v6.6h-6.6z"/>
<path d="M171.4 393.9h6.6v6.6h-6.6z"/>
</g>
<path d="M92.5 368.3l3.7 6.6h-7.4z" fill="#3949ab" stroke="#283593" stroke-width=".5"/>
<path d="M244.6 344.3l3.7 6.6h-7.4z" fill="#3949ab" stroke="#283593" stroke-width=".5"/>
<rect x="319" y="269.9" width="7" height="6.8" fill="#4caf50" stroke="#3a9a45" stroke-width=".7"/>
<path d="M322.6 281.1l3.7 6.6h-7.4z" fill="#3949ab"/>
<text x="328.9" y="276.4" font-size="8.4" text-anchor="start" fill="#444">X</text>
<text x="328.9" y="288" font-size="8.4" text-anchor="start" fill="#444">Y</text>
<path d="M398.3 359H639" stroke="#c4c4c4" stroke-width="1.4" fill="none"/>
<path d="M506.4 286.5V430.8" stroke="#808080" stroke-width=".9" fill="none"/>
<path d="M400.8 294.8V430.8H630.8" fill="none" stroke="#a8a8a8" stroke-width="1.3"/>
<path d="M400.8 287.6l-2.4 8.2h4.8z" fill="#808080"/>
<path d="M638 430.8l-8.2 -2.4v4.8z" fill="#808080"/>
<path d="M400.8 431.1h-3M400.8 416.6h-3M400.8 402.2h-3M400.8 387.8h-3M400.8 373.4h-3M400.8 359h-3M400.8 344.6h-3M400.8 330.2h-3M400.8 315.8h-3M400.8 301.4h-3M400.8 423.8h-1.6M400.8 409.4h-1.6M400.8 395h-1.6M400.8 380.6h-1.6M400.8 366.2h-1.6M400.8 351.8h-1.6M400.8 337.4h-1.6M400.8 323h-1.6M400.8 308.6h-1.6M400.8 294.2h-1.6" stroke="#9a9a9a" stroke-width=".9" fill="none"/>
<path d="M400.6 430.8v2.8M427 430.8v2.8M453.5 430.8v2.8M479.9 430.8v2.8M506.4 430.8v2.8M532.9 430.8v2.8M559.3 430.8v2.8M585.8 430.8v2.8M612.2 430.8v2.8M413.8 430.8v1.5M440.3 430.8v1.5M466.7 430.8v1.5M493.2 430.8v1.5M519.6 430.8v1.5M546.1 430.8v1.5M572.5 430.8v1.5M599 430.8v1.5M625.4 430.8v1.5" stroke="#9a9a9a" stroke-width=".9" fill="none"/>
<text transform="translate(396.3 433.9) scale(0.94 1)" font-size="8.0" text-anchor="end" fill="#484848">-0.05</text>
<text transform="translate(396.3 419.5) scale(0.94 1)" font-size="8.0" text-anchor="end" fill="#484848">-0.04</text>
<text transform="translate(396.3 405.1) scale(0.94 1)" font-size="8.0" text-anchor="end" fill="#484848">-0.03</text>
<text transform="translate(396.3 390.7) scale(0.94 1)" font-size="8.0" text-anchor="end" fill="#484848">-0.02</text>
<text transform="translate(396.3 376.3) scale(0.94 1)" font-size="8.0" text-anchor="end" fill="#484848">-0.01</text>
<text transform="translate(396.3 361.9) scale(0.94 1)" font-size="8.0" text-anchor="end" fill="#484848">0</text>
<text transform="translate(396.3 347.5) scale(0.94 1)" font-size="8.0" text-anchor="end" fill="#484848">0.01</text>
<text transform="translate(396.3 333.1) scale(0.94 1)" font-size="8.0" text-anchor="end" fill="#484848">0.02</text>
<text transform="translate(396.3 318.6) scale(0.94 1)" font-size="8.0" text-anchor="end" fill="#484848">0.03</text>
<text transform="translate(396.3 304.2) scale(0.94 1)" font-size="8.0" text-anchor="end" fill="#484848">0.04</text>
<text transform="translate(401 443.8) scale(0.94 1)" font-size="7.8" text-anchor="middle" fill="#484848">-0.04</text>
<text transform="translate(427.4 443.8) scale(0.94 1)" font-size="7.8" text-anchor="middle" fill="#484848">-0.03</text>
<text transform="translate(453.9 443.8) scale(0.94 1)" font-size="7.8" text-anchor="middle" fill="#484848">-0.02</text>
<text transform="translate(480.3 443.8) scale(0.94 1)" font-size="7.8" text-anchor="middle" fill="#484848">-0.01</text>
<text transform="translate(506.4 443.8) scale(0.94 1)" font-size="7.8" text-anchor="middle" fill="#484848">0</text>
<text transform="translate(532.9 443.8) scale(0.94 1)" font-size="7.8" text-anchor="middle" fill="#484848">0.01</text>
<text transform="translate(559.3 443.8) scale(0.94 1)" font-size="7.8" text-anchor="middle" fill="#484848">0.02</text>
<text transform="translate(585.8 443.8) scale(0.94 1)" font-size="7.8" text-anchor="middle" fill="#484848">0.03</text>
<text transform="translate(612.2 443.8) scale(0.94 1)" font-size="7.8" text-anchor="middle" fill="#484848">0.04</text>
<text x="519.8" y="453" font-size="6.8" text-anchor="middle" fill="#444">w*c[1]</text>
<text transform="translate(376.9 358.7) rotate(-90)" font-size="6.8" text-anchor="middle" fill="#444">w*c[2]</text>
<path d="M410.6 365.9L419.3 364.7L425.7 359.7L432 356.8L435 356.6L435.7 355L438.4 343.8L443.7 335.5L445.8 329.1L449.3 328.8L449.7 334L456 333.4L456.5 380.5L450.7 380.3L435.8 378.3L426.4 375.8L419.2 373.2L409.9 373.9Z" fill="#e20000"/>
<path d="M400.7 362.5h9.6v9.6h-9.6zM408.6 363.6h9.6v9.6h-9.6zM414.2 356.5h9.6v9.6h-9.6zM423.3 350.7h9.6v9.6h-9.6zM428.7 348.7h9.6v9.6h-9.6zM431.4 344.9h9.6v9.6h-9.6zM434.7 339.4h9.6v9.6h-9.6zM435.8 332.7h9.6v9.6h-9.6zM440 324.5h9.6v9.6h-9.6zM443 320.8h9.6v9.6h-9.6zM447.2 320.3h9.6v9.6h-9.6zM447.4 325.6h9.6v9.6h-9.6zM453.4 324h9.6v9.6h-9.6zM455.4 331h9.6v9.6h-9.6zM454.6 334.3h9.6v9.6h-9.6zM454.1 340.2h9.6v9.6h-9.6zM454.2 347.8h9.6v9.6h-9.6zM454 353.5h9.6v9.6h-9.6zM456.3 356.2h9.6v9.6h-9.6zM454.7 363.2h9.6v9.6h-9.6zM453.5 368.4h9.6v9.6h-9.6zM456.6 372.9h9.6v9.6h-9.6zM455.6 378.4h9.6v9.6h-9.6zM449.1 381.3h9.6v9.6h-9.6zM441.9 377.9h9.6v9.6h-9.6zM435.6 379.3h9.6v9.6h-9.6zM429.5 377.4h9.6v9.6h-9.6zM425.3 378.8h9.6v9.6h-9.6zM419.2 375.5h9.6v9.6h-9.6zM411.2 370.8h9.6v9.6h-9.6zM401 371h9.6v9.6h-9.6zM417.5 329.1h9.6v9.6h-9.6zM441.9 391.8h9.6v9.6h-9.6zM443.5 318.7h9.6v9.6h-9.6zM400.2 364.2h9.6v9.6h-9.6zM400.2 372.2h9.6v9.6h-9.6z" fill="#fff" fill-opacity=".6" stroke="#a00000" stroke-opacity="0.4" stroke-width=".55"/>
<g fill="#ff0000" stroke="#a00000" stroke-opacity="0.8" stroke-width="1.0">
<path d="M440.6 348.3h6.4v6.4h-6.4zM449.9 338h6.4v6.4h-6.4zM451.2 332.5h6.4v6.4h-6.4zM455.8 379.4h6.4v6.4h-6.4zM426.2 378.6h6.4v6.4h-6.4zM402.6 372.6h6.4v6.4h-6.4zM412.3 364.3h6.4v6.4h-6.4zM437.8 344.7h6.4v6.4h-6.4zM437 349.8h6.4v6.4h-6.4zM417.8 369.6h6.4v6.4h-6.4zM436.5 341.2h6.4v6.4h-6.4zM452.2 366.9h6.4v6.4h-6.4zM420.4 358.8h6.4v6.4h-6.4zM455.9 368.9h6.4v6.4h-6.4z"/>
<path d="M455.6 355.1h6.4v6.4h-6.4zM453.9 380.6h6.4v6.4h-6.4zM417.4 373.7h6.4v6.4h-6.4zM428.6 362.2h6.4v6.4h-6.4zM451.4 378.2h6.4v6.4h-6.4zM414.6 371.2h6.4v6.4h-6.4zM438 342.7h6.4v6.4h-6.4zM439.4 345.4h6.4v6.4h-6.4zM430 372.6h6.4v6.4h-6.4zM444.2 344h6.4v6.4h-6.4zM444.3 330.8h6.4v6.4h-6.4zM454.9 339.3h6.4v6.4h-6.4zM441.2 342.4h6.4v6.4h-6.4zM441.2 335.6h6.4v6.4h-6.4z"/>
<path d="M437.4 334.3h6.4v6.4h-6.4zM447.3 327.9h6.4v6.4h-6.4zM449.1 369.7h6.4v6.4h-6.4zM454.7 345.5h6.4v6.4h-6.4zM448.9 326.7h6.4v6.4h-6.4zM426.9 370.6h6.4v6.4h-6.4zM440.4 336.1h6.4v6.4h-6.4zM434.5 354h6.4v6.4h-6.4zM437.4 371.6h6.4v6.4h-6.4zM455.3 351.2h6.4v6.4h-6.4zM442.5 362.8h6.4v6.4h-6.4zM455.8 349.4h6.4v6.4h-6.4zM424.4 364.4h6.4v6.4h-6.4zM406.2 368.1h6.4v6.4h-6.4z"/>
<path d="M439.1 353.8h6.4v6.4h-6.4zM449.1 367.6h6.4v6.4h-6.4zM456.3 364.8h6.4v6.4h-6.4zM440.5 377.8h6.4v6.4h-6.4zM456.2 330.7h6.4v6.4h-6.4zM458.2 374.5h6.4v6.4h-6.4zM434 372.5h6.4v6.4h-6.4zM435.1 354h6.4v6.4h-6.4zM446.7 344.9h6.4v6.4h-6.4zM432.1 370.6h6.4v6.4h-6.4zM446.6 351h6.4v6.4h-6.4zM435.7 380h6.4v6.4h-6.4zM455.5 326.1h6.4v6.4h-6.4zM410.2 365.2h6.4v6.4h-6.4z"/>
<path d="M435.7 355.4h6.4v6.4h-6.4zM427.7 352.6h6.4v6.4h-6.4zM441.5 362.9h6.4v6.4h-6.4zM421.7 368.9h6.4v6.4h-6.4zM455.3 352.5h6.4v6.4h-6.4zM427.9 353.4h6.4v6.4h-6.4zM438.2 344.6h6.4v6.4h-6.4zM443.5 393.4h6.4v6.4h-6.4zM415.8 358.1h6.4v6.4h-6.4zM433.9 378.1h6.4v6.4h-6.4zM441 379.1h6.4v6.4h-6.4zM452.9 330.7h6.4v6.4h-6.4zM427.5 359.4h6.4v6.4h-6.4zM419.1 372.9h6.4v6.4h-6.4z"/>
<path d="M452.1 328.2h6.4v6.4h-6.4zM452.4 344.9h6.4v6.4h-6.4zM428.3 374.8h6.4v6.4h-6.4zM409.8 366.3h6.4v6.4h-6.4zM427.5 356.8h6.4v6.4h-6.4zM430.6 367.8h6.4v6.4h-6.4zM447.5 381.8h6.4v6.4h-6.4zM430.3 350.3h6.4v6.4h-6.4zM411.8 372.7h6.4v6.4h-6.4zM447.4 362.3h6.4v6.4h-6.4zM434.9 358.2h6.4v6.4h-6.4zM430.3 355.1h6.4v6.4h-6.4zM402.9 372.2h6.4v6.4h-6.4zM418.5 365.1h6.4v6.4h-6.4z"/>
<path d="M453.2 379.5h6.4v6.4h-6.4zM437.5 353.9h6.4v6.4h-6.4zM416 369.4h6.4v6.4h-6.4zM428 360.7h6.4v6.4h-6.4zM450.7 350.9h6.4v6.4h-6.4zM451.1 367.7h6.4v6.4h-6.4zM425.4 366.3h6.4v6.4h-6.4zM454.5 364.5h6.4v6.4h-6.4zM438.1 359.7h6.4v6.4h-6.4zM443.2 352.6h6.4v6.4h-6.4zM403.4 366.1h6.4v6.4h-6.4zM445.5 368.5h6.4v6.4h-6.4zM436.9 341.8h6.4v6.4h-6.4zM450.8 355.8h6.4v6.4h-6.4z"/>
<path d="M401.8 365.8h6.4v6.4h-6.4zM432.7 363.9h6.4v6.4h-6.4zM431 361.3h6.4v6.4h-6.4zM455.6 333.8h6.4v6.4h-6.4zM451.6 341.9h6.4v6.4h-6.4zM416.1 371.7h6.4v6.4h-6.4zM413.4 371.7h6.4v6.4h-6.4zM454.7 331.6h6.4v6.4h-6.4zM426.9 362.3h6.4v6.4h-6.4zM455.1 344.8h6.4v6.4h-6.4zM437.2 340.3h6.4v6.4h-6.4zM449 327.2h6.4v6.4h-6.4zM445 365h6.4v6.4h-6.4zM422.3 359.5h6.4v6.4h-6.4z"/>
<path d="M450 355.6h6.4v6.4h-6.4zM402.3 364.1h6.4v6.4h-6.4zM438.8 352.6h6.4v6.4h-6.4zM404.9 373.1h6.4v6.4h-6.4zM429.5 357.4h6.4v6.4h-6.4zM457.2 380h6.4v6.4h-6.4zM412.1 368.4h6.4v6.4h-6.4zM449.8 362.1h6.4v6.4h-6.4zM457.9 357.8h6.4v6.4h-6.4zM405.3 369.4h6.4v6.4h-6.4zM455.9 331h6.4v6.4h-6.4zM443.6 371.6h6.4v6.4h-6.4zM412.4 370.1h6.4v6.4h-6.4zM419.8 371.8h6.4v6.4h-6.4z"/>
<path d="M453.9 356h6.4v6.4h-6.4zM442.7 346.6h6.4v6.4h-6.4zM439.4 355.7h6.4v6.4h-6.4zM403.2 368.2h6.4v6.4h-6.4zM452.7 379.9h6.4v6.4h-6.4zM431.9 376.1h6.4v6.4h-6.4zM434.8 376.5h6.4v6.4h-6.4zM403.2 368.5h6.4v6.4h-6.4zM441.1 378.5h6.4v6.4h-6.4zM446.7 342.4h6.4v6.4h-6.4zM447.9 331.7h6.4v6.4h-6.4zM433.3 360.2h6.4v6.4h-6.4zM437.2 380.9h6.4v6.4h-6.4zM456.7 365.2h6.4v6.4h-6.4z"/>
<path d="M443.5 346.8h6.4v6.4h-6.4zM424.9 352.3h6.4v6.4h-6.4zM414.2 364.1h6.4v6.4h-6.4zM430.4 375.5h6.4v6.4h-6.4zM407.5 368.8h6.4v6.4h-6.4zM411.9 365.3h6.4v6.4h-6.4zM442 356.8h6.4v6.4h-6.4zM422.5 368.1h6.4v6.4h-6.4zM424.7 378.7h6.4v6.4h-6.4zM434.2 348.2h6.4v6.4h-6.4zM428.1 366.8h6.4v6.4h-6.4zM448.8 321.9h6.4v6.4h-6.4zM454.2 344.3h6.4v6.4h-6.4zM420.3 368.7h6.4v6.4h-6.4z"/>
<path d="M457 332.6h6.4v6.4h-6.4zM404.8 365.7h6.4v6.4h-6.4zM420.8 377.1h6.4v6.4h-6.4zM434.4 353.2h6.4v6.4h-6.4zM437.6 346.4h6.4v6.4h-6.4zM450.7 382.9h6.4v6.4h-6.4zM434.6 380.6h6.4v6.4h-6.4zM423.5 378.7h6.4v6.4h-6.4zM442.3 358.9h6.4v6.4h-6.4zM443.1 329.2h6.4v6.4h-6.4zM439.9 346.4h6.4v6.4h-6.4zM446.2 323.9h6.4v6.4h-6.4zM445.3 374.4h6.4v6.4h-6.4zM433 346.5h6.4v6.4h-6.4z"/>
<path d="M437.5 353.8h6.4v6.4h-6.4zM448 337.8h6.4v6.4h-6.4zM402.5 372.9h6.4v6.4h-6.4zM445.6 377.3h6.4v6.4h-6.4zM422 361.2h6.4v6.4h-6.4zM437.6 339.7h6.4v6.4h-6.4zM431.8 361.7h6.4v6.4h-6.4zM453.8 364.5h6.4v6.4h-6.4zM445.1 348.4h6.4v6.4h-6.4zM440.5 353.4h6.4v6.4h-6.4zM419.1 330.7h6.4v6.4h-6.4zM445.1 320.3h6.4v6.4h-6.4zM455 325.6h6.4v6.4h-6.4zM435.7 343.8h6.4v6.4h-6.4z"/>
<path d="M418.5 369.8h6.4v6.4h-6.4zM441.5 368h6.4v6.4h-6.4zM431.3 378h6.4v6.4h-6.4zM449.5 343.1h6.4v6.4h-6.4zM451.8 377.8h6.4v6.4h-6.4zM442.5 359.1h6.4v6.4h-6.4zM456.8 372.2h6.4v6.4h-6.4zM434.4 349.9h6.4v6.4h-6.4zM426.9 363.8h6.4v6.4h-6.4zM438.7 366.3h6.4v6.4h-6.4zM444 370.7h6.4v6.4h-6.4zM442.3 348h6.4v6.4h-6.4zM451.1 353.9h6.4v6.4h-6.4zM422.5 374.6h6.4v6.4h-6.4z"/>
<path d="M456.5 371.8h6.4v6.4h-6.4zM421.9 374.4h6.4v6.4h-6.4zM454.5 341.7h6.4v6.4h-6.4zM429 359.7h6.4v6.4h-6.4zM455.7 341.8h6.4v6.4h-6.4zM446.7 344.3h6.4v6.4h-6.4zM421.1 373.7h6.4v6.4h-6.4zM451 330.7h6.4v6.4h-6.4zM443.5 379.5h6.4v6.4h-6.4zM450.5 327.4h6.4v6.4h-6.4zM427.9 373.9h6.4v6.4h-6.4zM453.8 343.2h6.4v6.4h-6.4zM436.3 341h6.4v6.4h-6.4zM435.6 370.3h6.4v6.4h-6.4z"/>
<path d="M455.3 354.7h6.4v6.4h-6.4zM441.6 337.9h6.4v6.4h-6.4zM449.9 335.5h6.4v6.4h-6.4zM444.8 325.7h6.4v6.4h-6.4zM444 361.2h6.4v6.4h-6.4zM426.9 380.4h6.4v6.4h-6.4zM443.3 341.8h6.4v6.4h-6.4zM447.7 349.1h6.4v6.4h-6.4zM445.1 334h6.4v6.4h-6.4zM431.4 366.5h6.4v6.4h-6.4zM455.6 331.8h6.4v6.4h-6.4zM439.6 368.1h6.4v6.4h-6.4zM455.4 363.5h6.4v6.4h-6.4zM450.4 377.2h6.4v6.4h-6.4z"/>
<path d="M446.2 340.6h6.4v6.4h-6.4zM452.3 379.7h6.4v6.4h-6.4zM456.5 345.9h6.4v6.4h-6.4zM427.1 354.9h6.4v6.4h-6.4zM437.8 369.7h6.4v6.4h-6.4zM415.7 372.9h6.4v6.4h-6.4zM444.1 374.9h6.4v6.4h-6.4zM422.5 366.1h6.4v6.4h-6.4zM448.6 336.3h6.4v6.4h-6.4zM442.5 333.4h6.4v6.4h-6.4zM435.6 379.5h6.4v6.4h-6.4zM425.5 364.1h6.4v6.4h-6.4zM453.2 355.4h6.4v6.4h-6.4zM440.4 340h6.4v6.4h-6.4z"/>
<path d="M448.7 378.6h6.4v6.4h-6.4zM456.2 335.9h6.4v6.4h-6.4zM451.1 351.6h6.4v6.4h-6.4zM455.8 366.3h6.4v6.4h-6.4zM452.3 326.3h6.4v6.4h-6.4zM421.1 372h6.4v6.4h-6.4zM447.5 324.6h6.4v6.4h-6.4zM429.2 353.5h6.4v6.4h-6.4zM452.6 354.5h6.4v6.4h-6.4zM456.5 357.8h6.4v6.4h-6.4zM419.9 363.5h6.4v6.4h-6.4zM404.7 365.3h6.4v6.4h-6.4zM441.6 326.1h6.4v6.4h-6.4zM412.8 372.4h6.4v6.4h-6.4z"/>
<path d="M451.3 362.4h6.4v6.4h-6.4zM455.1 370h6.4v6.4h-6.4zM444.6 322.4h6.4v6.4h-6.4zM401.8 373.8h6.4v6.4h-6.4zM426.6 357.8h6.4v6.4h-6.4zM428.6 378.8h6.4v6.4h-6.4zM422.2 375.4h6.4v6.4h-6.4zM414.6 368.5h6.4v6.4h-6.4zM449 364.4h6.4v6.4h-6.4zM435.3 350.7h6.4v6.4h-6.4zM431.5 378.5h6.4v6.4h-6.4zM439.2 356.8h6.4v6.4h-6.4zM431.1 379h6.4v6.4h-6.4zM430.9 353.5h6.4v6.4h-6.4z"/>
</g>
<path d="M557.7 335.2L571.4 335.6L585.8 339L591.3 343L598 344.5L606.9 343.1L613.7 341.3L622.3 342.4L618.2 345.2L612.2 347.5L602.1 351.5L598 354.3L592 354.7L591.4 356.1L587.8 357.7L585.3 361L576.3 363.9L574 371.5L570.2 374.2L568.5 377.1L557.3 377.9Z" fill="#e20000"/>
<path d="M549.6 326.2h9.6v9.6h-9.6zM555.8 326.3h9.6v9.6h-9.6zM563.2 325.5h9.6v9.6h-9.6zM567.3 326.3h9.6v9.6h-9.6zM573 330.1h9.6v9.6h-9.6zM580.3 329h9.6v9.6h-9.6zM588.7 331.6h9.6v9.6h-9.6zM595.9 336.3h9.6v9.6h-9.6zM607 336.5h9.6v9.6h-9.6zM613.9 334.6h9.6v9.6h-9.6zM622 335.8h9.6v9.6h-9.6zM617.6 337.8h9.6v9.6h-9.6zM613.5 340.8h9.6v9.6h-9.6zM607.3 344.9h9.6v9.6h-9.6zM602.5 345.5h9.6v9.6h-9.6zM598.5 349.8h9.6v9.6h-9.6zM591.4 353.3h9.6v9.6h-9.6zM589.2 356.3h9.6v9.6h-9.6zM579.8 357.6h9.6v9.6h-9.6zM576.5 359.1h9.6v9.6h-9.6zM573 362.7h9.6v9.6h-9.6zM567 362.9h9.6v9.6h-9.6zM566.4 371.9h9.6v9.6h-9.6zM561.8 374.5h9.6v9.6h-9.6zM559.7 377.7h9.6v9.6h-9.6zM553.2 375.9h9.6v9.6h-9.6zM547.4 377.2h9.6v9.6h-9.6zM546.9 372.3h9.6v9.6h-9.6zM548.8 366.7h9.6v9.6h-9.6zM546.9 361.6h9.6v9.6h-9.6zM549.1 355.9h9.6v9.6h-9.6zM547.9 349.1h9.6v9.6h-9.6zM548.5 345.5h9.6v9.6h-9.6zM547.3 339.8h9.6v9.6h-9.6zM548.8 333.7h9.6v9.6h-9.6zM557.9 314.2h9.6v9.6h-9.6zM590.4 302.4h9.6v9.6h-9.6zM627.5 336.3h9.6v9.6h-9.6zM554.9 321.5h9.6v9.6h-9.6zM559.4 384.7h9.6v9.6h-9.6zM553.1 390.5h9.6v9.6h-9.6z" fill="#fff" fill-opacity=".6" stroke="#a00000" stroke-opacity="0.4" stroke-width=".55"/>
<g fill="#ff0000" stroke="#a00000" stroke-opacity="0.8" stroke-width="1.0">
<path d="M550.4 368.3h6.4v6.4h-6.4zM618.2 339.4h6.4v6.4h-6.4zM577.5 360.5h6.4v6.4h-6.4zM557.1 329.1h6.4v6.4h-6.4zM567.3 341.1h6.4v6.4h-6.4zM553.8 359.6h6.4v6.4h-6.4zM584.9 356h6.4v6.4h-6.4zM559.1 373.3h6.4v6.4h-6.4zM562.4 356.9h6.4v6.4h-6.4zM586.1 344.6h6.4v6.4h-6.4zM551 371.9h6.4v6.4h-6.4zM591.9 339.4h6.4v6.4h-6.4zM582.3 351.7h6.4v6.4h-6.4zM597.3 345.1h6.4v6.4h-6.4z"/>
<path d="M560.2 346.2h6.4v6.4h-6.4zM551.9 348.2h6.4v6.4h-6.4zM623.9 337.9h6.4v6.4h-6.4zM605.8 343.7h6.4v6.4h-6.4zM561.2 375.9h6.4v6.4h-6.4zM576.7 346.2h6.4v6.4h-6.4zM549.5 350.7h6.4v6.4h-6.4zM549.9 343.6h6.4v6.4h-6.4zM573.7 349.7h6.4v6.4h-6.4zM616.2 340.6h6.4v6.4h-6.4zM594.9 351.6h6.4v6.4h-6.4zM589.6 358h6.4v6.4h-6.4zM582.5 353h6.4v6.4h-6.4zM571.9 334h6.4v6.4h-6.4z"/>
<path d="M576.3 330.8h6.4v6.4h-6.4zM584.2 359.1h6.4v6.4h-6.4zM574.6 364.3h6.4v6.4h-6.4zM581 347.1h6.4v6.4h-6.4zM567.8 354.3h6.4v6.4h-6.4zM559.5 315.8h6.4v6.4h-6.4zM592 304h6.4v6.4h-6.4zM570.2 334.7h6.4v6.4h-6.4zM552.3 357.6h6.4v6.4h-6.4zM568.2 355.6h6.4v6.4h-6.4zM579.4 333.9h6.4v6.4h-6.4zM553.7 354.1h6.4v6.4h-6.4zM589.4 357.1h6.4v6.4h-6.4zM608.6 338.1h6.4v6.4h-6.4z"/>
<path d="M585.6 354.5h6.4v6.4h-6.4zM556.6 361.1h6.4v6.4h-6.4zM590.5 347.2h6.4v6.4h-6.4zM613.9 340h6.4v6.4h-6.4zM550.9 337.7h6.4v6.4h-6.4zM590.6 339.9h6.4v6.4h-6.4zM594.9 343.3h6.4v6.4h-6.4zM550.1 347.1h6.4v6.4h-6.4zM553 364.8h6.4v6.4h-6.4zM568 373.5h6.4v6.4h-6.4zM552.9 371.3h6.4v6.4h-6.4zM616.7 339.5h6.4v6.4h-6.4zM595.9 337.5h6.4v6.4h-6.4zM551.7 373.8h6.4v6.4h-6.4z"/>
<path d="M586.4 340.5h6.4v6.4h-6.4zM551.9 347h6.4v6.4h-6.4zM597.3 345.1h6.4v6.4h-6.4zM556.5 323.1h6.4v6.4h-6.4zM615.7 338.1h6.4v6.4h-6.4zM574.9 338.9h6.4v6.4h-6.4zM562.6 340.9h6.4v6.4h-6.4zM575.3 362.1h6.4v6.4h-6.4zM569.3 333.2h6.4v6.4h-6.4zM582.5 355.6h6.4v6.4h-6.4zM560.3 361.6h6.4v6.4h-6.4zM586.6 346.4h6.4v6.4h-6.4zM561.3 366.6h6.4v6.4h-6.4zM563.9 352h6.4v6.4h-6.4z"/>
<path d="M609.9 339.2h6.4v6.4h-6.4zM581.9 330.6h6.4v6.4h-6.4zM565.6 331.4h6.4v6.4h-6.4zM576.8 362h6.4v6.4h-6.4zM563.6 360.5h6.4v6.4h-6.4zM577.6 342.5h6.4v6.4h-6.4zM607.9 340h6.4v6.4h-6.4zM578.8 336.3h6.4v6.4h-6.4zM588.2 335h6.4v6.4h-6.4zM593.4 336.3h6.4v6.4h-6.4zM600.4 345.1h6.4v6.4h-6.4zM558.4 368.7h6.4v6.4h-6.4zM578.1 330.4h6.4v6.4h-6.4zM591.8 347.3h6.4v6.4h-6.4z"/>
<path d="M555.4 352.3h6.4v6.4h-6.4zM615.9 337.7h6.4v6.4h-6.4zM609 337.6h6.4v6.4h-6.4zM587.1 355.2h6.4v6.4h-6.4zM552.1 353h6.4v6.4h-6.4zM608.9 346.5h6.4v6.4h-6.4zM578.3 356.5h6.4v6.4h-6.4zM564.9 352.5h6.4v6.4h-6.4zM586.2 348.7h6.4v6.4h-6.4zM560.9 361.1h6.4v6.4h-6.4zM563.3 349.1h6.4v6.4h-6.4zM590.5 356.7h6.4v6.4h-6.4zM566.4 334.9h6.4v6.4h-6.4zM559 350h6.4v6.4h-6.4z"/>
<path d="M573.4 339.5h6.4v6.4h-6.4zM567.2 332.2h6.4v6.4h-6.4zM593 354.9h6.4v6.4h-6.4zM595.8 349.5h6.4v6.4h-6.4zM556.8 360.7h6.4v6.4h-6.4zM582.4 347.4h6.4v6.4h-6.4zM623.6 337.4h6.4v6.4h-6.4zM552.9 373.6h6.4v6.4h-6.4zM559.7 360.2h6.4v6.4h-6.4zM571.2 337.4h6.4v6.4h-6.4zM565 337.2h6.4v6.4h-6.4zM586 340.1h6.4v6.4h-6.4zM561.7 365h6.4v6.4h-6.4zM576.2 337.3h6.4v6.4h-6.4z"/>
<path d="M552.3 345.9h6.4v6.4h-6.4zM589.7 340.7h6.4v6.4h-6.4zM570.4 337.3h6.4v6.4h-6.4zM554 350.7h6.4v6.4h-6.4zM597.5 337.9h6.4v6.4h-6.4zM615.2 340.6h6.4v6.4h-6.4zM563.4 376.1h6.4v6.4h-6.4zM606.4 337.4h6.4v6.4h-6.4zM611 339.3h6.4v6.4h-6.4zM575.5 339.4h6.4v6.4h-6.4zM574.4 331.5h6.4v6.4h-6.4zM566.8 345.8h6.4v6.4h-6.4zM566 368.3h6.4v6.4h-6.4zM550.7 357.5h6.4v6.4h-6.4z"/>
<path d="M570.4 347.6h6.4v6.4h-6.4zM563.6 341.3h6.4v6.4h-6.4zM556.5 337.8h6.4v6.4h-6.4zM572 362.5h6.4v6.4h-6.4zM584.4 336.2h6.4v6.4h-6.4zM569.9 332.5h6.4v6.4h-6.4zM575.4 358h6.4v6.4h-6.4zM568.9 340.8h6.4v6.4h-6.4zM556.3 343.2h6.4v6.4h-6.4zM584.9 357.6h6.4v6.4h-6.4zM579 341.3h6.4v6.4h-6.4zM551.4 370.2h6.4v6.4h-6.4zM554.7 392.1h6.4v6.4h-6.4zM568.6 348h6.4v6.4h-6.4z"/>
<path d="M566.1 345.9h6.4v6.4h-6.4zM564.8 327.1h6.4v6.4h-6.4zM554.6 368.2h6.4v6.4h-6.4zM601 348.2h6.4v6.4h-6.4zM568.6 339.4h6.4v6.4h-6.4zM573.6 338.4h6.4v6.4h-6.4zM558.5 331.1h6.4v6.4h-6.4zM550.4 335.3h6.4v6.4h-6.4zM589.5 356.8h6.4v6.4h-6.4zM589.6 337.1h6.4v6.4h-6.4zM560.3 355.8h6.4v6.4h-6.4zM573 361.3h6.4v6.4h-6.4zM588.6 357.8h6.4v6.4h-6.4zM562.2 356.6h6.4v6.4h-6.4z"/>
<path d="M590.9 342.5h6.4v6.4h-6.4zM556.3 349.7h6.4v6.4h-6.4zM559.9 329.3h6.4v6.4h-6.4zM563.8 348.5h6.4v6.4h-6.4zM559.7 346.9h6.4v6.4h-6.4zM584.5 345.5h6.4v6.4h-6.4zM580.9 355.6h6.4v6.4h-6.4zM553.7 329.1h6.4v6.4h-6.4zM558.1 377.9h6.4v6.4h-6.4zM570.5 346.6h6.4v6.4h-6.4zM615.1 342.4h6.4v6.4h-6.4zM599.5 351.3h6.4v6.4h-6.4zM588.2 351.8h6.4v6.4h-6.4zM558.3 328.8h6.4v6.4h-6.4z"/>
<path d="M585.3 351.7h6.4v6.4h-6.4zM587.3 348h6.4v6.4h-6.4zM568.8 354.3h6.4v6.4h-6.4zM602.3 343.9h6.4v6.4h-6.4zM550.6 375.3h6.4v6.4h-6.4zM564.5 331.7h6.4v6.4h-6.4zM587.9 345.9h6.4v6.4h-6.4zM572.6 356.3h6.4v6.4h-6.4zM551.2 327.8h6.4v6.4h-6.4zM554.8 377.5h6.4v6.4h-6.4zM573.3 358.8h6.4v6.4h-6.4zM550.4 333.2h6.4v6.4h-6.4zM592.7 337.3h6.4v6.4h-6.4zM594.8 345h6.4v6.4h-6.4z"/>
<path d="M557.5 330.6h6.4v6.4h-6.4zM570.9 332.4h6.4v6.4h-6.4zM580 335.9h6.4v6.4h-6.4zM573.8 331.7h6.4v6.4h-6.4zM548.5 373.9h6.4v6.4h-6.4zM564.5 357.4h6.4v6.4h-6.4zM548.9 341.4h6.4v6.4h-6.4zM571.3 358h6.4v6.4h-6.4zM578.1 355.5h6.4v6.4h-6.4zM574.6 331.7h6.4v6.4h-6.4zM583.5 341.4h6.4v6.4h-6.4zM570.5 337.4h6.4v6.4h-6.4zM629.1 337.9h6.4v6.4h-6.4zM576.3 356.1h6.4v6.4h-6.4z"/>
<path d="M583.2 334h6.4v6.4h-6.4zM578.7 334.4h6.4v6.4h-6.4zM582.4 332.6h6.4v6.4h-6.4zM562.4 374.1h6.4v6.4h-6.4zM620.5 339.4h6.4v6.4h-6.4zM592.7 337.4h6.4v6.4h-6.4zM568.9 327.9h6.4v6.4h-6.4zM570.4 331.9h6.4v6.4h-6.4zM567.6 362h6.4v6.4h-6.4zM559.9 356.1h6.4v6.4h-6.4zM595.3 350.8h6.4v6.4h-6.4zM553.6 350.3h6.4v6.4h-6.4zM578.3 351.2h6.4v6.4h-6.4zM619.2 339.4h6.4v6.4h-6.4z"/>
<path d="M569.8 343.9h6.4v6.4h-6.4zM551.9 360.6h6.4v6.4h-6.4zM615.5 336.2h6.4v6.4h-6.4zM563.3 344.3h6.4v6.4h-6.4zM590.3 333.2h6.4v6.4h-6.4zM588.3 337.6h6.4v6.4h-6.4zM554.9 354.7h6.4v6.4h-6.4zM549.6 335.9h6.4v6.4h-6.4zM590.8 337.3h6.4v6.4h-6.4zM592.7 354.1h6.4v6.4h-6.4zM582.7 339.2h6.4v6.4h-6.4zM570.2 342.9h6.4v6.4h-6.4zM556.7 352.5h6.4v6.4h-6.4zM551.5 373.5h6.4v6.4h-6.4z"/>
<path d="M562.2 364.8h6.4v6.4h-6.4zM561.8 374.4h6.4v6.4h-6.4zM573 355.2h6.4v6.4h-6.4zM605.3 343.8h6.4v6.4h-6.4zM587.5 356.2h6.4v6.4h-6.4zM574.4 358.8h6.4v6.4h-6.4zM582.3 347.2h6.4v6.4h-6.4zM579 345.2h6.4v6.4h-6.4zM568 364.9h6.4v6.4h-6.4zM550.2 333h6.4v6.4h-6.4zM579.2 346.8h6.4v6.4h-6.4zM557.9 368.3h6.4v6.4h-6.4zM596.6 338.1h6.4v6.4h-6.4zM570.2 336.8h6.4v6.4h-6.4z"/>
<path d="M582.3 335.1h6.4v6.4h-6.4zM552 329.4h6.4v6.4h-6.4zM578.1 335.9h6.4v6.4h-6.4zM581.4 359.2h6.4v6.4h-6.4zM563.7 341.5h6.4v6.4h-6.4zM550.9 372.2h6.4v6.4h-6.4zM579.9 354h6.4v6.4h-6.4zM556.1 361.8h6.4v6.4h-6.4zM576.7 362.8h6.4v6.4h-6.4zM587.1 352.4h6.4v6.4h-6.4zM558.4 367.2h6.4v6.4h-6.4zM555.7 356.3h6.4v6.4h-6.4zM561 386.3h6.4v6.4h-6.4zM550.2 330.3h6.4v6.4h-6.4z"/>
<path d="M587.4 356.2h6.4v6.4h-6.4zM583.5 341.8h6.4v6.4h-6.4zM576.2 346.7h6.4v6.4h-6.4zM573.4 330.8h6.4v6.4h-6.4zM549 378.8h6.4v6.4h-6.4zM576.7 346.3h6.4v6.4h-6.4zM566.6 362.2h6.4v6.4h-6.4zM554.3 359.6h6.4v6.4h-6.4zM575.1 358.1h6.4v6.4h-6.4zM571.6 359.1h6.4v6.4h-6.4zM564.3 371.5h6.4v6.4h-6.4zM571.8 345.6h6.4v6.4h-6.4zM562.7 353.8h6.4v6.4h-6.4zM594.1 336.9h6.4v6.4h-6.4z"/>
<path d="M556 358.3h6.4v6.4h-6.4zM562.4 373.1h6.4v6.4h-6.4zM560.4 339.9h6.4v6.4h-6.4zM565.3 333.4h6.4v6.4h-6.4zM578.5 338.7h6.4v6.4h-6.4zM578.1 360.7h6.4v6.4h-6.4zM593.4 342.5h6.4v6.4h-6.4zM564.1 340.9h6.4v6.4h-6.4zM558.3 370.5h6.4v6.4h-6.4zM567.5 365.7h6.4v6.4h-6.4zM556 344.5h6.4v6.4h-6.4zM561.3 357h6.4v6.4h-6.4zM554.2 342.3h6.4v6.4h-6.4zM591.8 346.4h6.4v6.4h-6.4z"/>
<path d="M576.7 332.5h6.4v6.4h-6.4zM597.9 345h6.4v6.4h-6.4zM556.7 337.6h6.4v6.4h-6.4zM600.1 351.4h6.4v6.4h-6.4zM586.9 349h6.4v6.4h-6.4zM552.7 374.2h6.4v6.4h-6.4zM556.7 373.9h6.4v6.4h-6.4zM552 357.2h6.4v6.4h-6.4zM567.5 340.9h6.4v6.4h-6.4zM590.8 357.9h6.4v6.4h-6.4zM578.7 355.1h6.4v6.4h-6.4zM561.6 352.7h6.4v6.4h-6.4zM552.6 364.2h6.4v6.4h-6.4zM602 347.7h6.4v6.4h-6.4z"/>
<path d="M585.7 354.6h6.4v6.4h-6.4zM577.2 354.6h6.4v6.4h-6.4zM548.5 363.2h6.4v6.4h-6.4zM566.1 359.2h6.4v6.4h-6.4zM605.3 343.5h6.4v6.4h-6.4zM593.9 341.5h6.4v6.4h-6.4zM562.6 333.4h6.4v6.4h-6.4zM555.2 377.9h6.4v6.4h-6.4zM620.7 339.9h6.4v6.4h-6.4zM559.7 328.6h6.4v6.4h-6.4zM550.4 372.3h6.4v6.4h-6.4zM555 342.3h6.4v6.4h-6.4zM589 354h6.4v6.4h-6.4zM592.2 335.5h6.4v6.4h-6.4z"/>
<path d="M576.3 342.8h6.4v6.4h-6.4zM589.5 334.6h6.4v6.4h-6.4zM566.6 339.2h6.4v6.4h-6.4zM588.3 336.9h6.4v6.4h-6.4zM555.2 360.1h6.4v6.4h-6.4zM593.1 342.3h6.4v6.4h-6.4zM612 341.9h6.4v6.4h-6.4zM567.4 353.3h6.4v6.4h-6.4zM568.9 352.6h6.4v6.4h-6.4zM556 350.1h6.4v6.4h-6.4zM580 353.4h6.4v6.4h-6.4zM589 349.6h6.4v6.4h-6.4zM570.8 344.5h6.4v6.4h-6.4zM604.1 347.1h6.4v6.4h-6.4z"/>
<path d="M574.3 338.1h6.4v6.4h-6.4zM561.3 379.3h6.4v6.4h-6.4zM608.4 337.4h6.4v6.4h-6.4zM557.4 327.9h6.4v6.4h-6.4zM568.6 364.5h6.4v6.4h-6.4zM557.3 378.2h6.4v6.4h-6.4zM558.1 364h6.4v6.4h-6.4zM550 368.1h6.4v6.4h-6.4zM592.8 344h6.4v6.4h-6.4z"/>
</g>
<path d="M470.9 324.5L479.2 323L480.9 318.3L486.4 317.5L490 318.2L493.7 321.7L498.2 322.9L499.9 321.4L506.1 321L507.9 319L512.4 318L527.7 317.3L529.3 322.4L541.3 323.2L543 326.5L542.2 385.2L541 388.7L536.3 389.3L534.8 394.7L529.3 395.2L523.2 396.2L521.7 401.5L517.4 403.2L515.7 405.1L509.6 405L507.9 409L505.3 409L503.6 404L499.3 403.1L497.7 399.2L493.4 398.5L490.9 395.7L487.2 397.9L485 391.5L476.7 390.3L471.6 388.8Z" fill="#3d9d48"/>
<g fill="#4caf50" stroke="#36933f" stroke-opacity="1" stroke-width="0.8">
<path d="M471.1 389.6h6.4v6.4h-6.4zM476.9 314.8h6.4v6.4h-6.4zM528.6 346.5h6.4v6.4h-6.4zM496.8 349.1h6.4v6.4h-6.4zM509 345.4h6.4v6.4h-6.4zM517.8 387.2h6.4v6.4h-6.4z"/>
<path d="M483.1 311h6.4v6.4h-6.4zM532.4 330.7h6.4v6.4h-6.4zM483.8 374.5h6.4v6.4h-6.4zM478 373h6.4v6.4h-6.4zM480.8 319.2h6.4v6.4h-6.4zM536.4 377.9h6.4v6.4h-6.4z"/>
<path d="M470.2 315.9h6.4v6.4h-6.4zM505.8 309.2h6.4v6.4h-6.4zM527.6 388.7h6.4v6.4h-6.4zM464.1 331.4h6.4v6.4h-6.4zM533.5 326.1h6.4v6.4h-6.4zM485.1 361.5h6.4v6.4h-6.4z"/>
<path d="M473.4 317.9h6.4v6.4h-6.4zM470 382.3h6.4v6.4h-6.4zM493.9 342.3h6.4v6.4h-6.4zM519 393.9h6.4v6.4h-6.4zM490.8 360.1h6.4v6.4h-6.4zM514.7 404.4h6.4v6.4h-6.4z"/>
<path d="M479.7 385.6h6.4v6.4h-6.4zM474.1 351.4h6.4v6.4h-6.4zM493 379.1h6.4v6.4h-6.4zM542.3 368.6h6.4v6.4h-6.4zM486.3 341.6h6.4v6.4h-6.4zM484.4 390.7h6.4v6.4h-6.4z"/>
<path d="M538.2 340.1h6.4v6.4h-6.4zM519 363.4h6.4v6.4h-6.4zM490.8 352.8h6.4v6.4h-6.4zM497.3 324.9h6.4v6.4h-6.4zM479.9 328h6.4v6.4h-6.4zM481.8 344.4h6.4v6.4h-6.4z"/>
<path d="M529.6 393.7h6.4v6.4h-6.4zM476.5 359.7h6.4v6.4h-6.4zM492.4 339.9h6.4v6.4h-6.4zM540.3 372.3h6.4v6.4h-6.4zM535.7 326.4h6.4v6.4h-6.4zM510.9 375.2h6.4v6.4h-6.4z"/>
<path d="M515.4 350.6h6.4v6.4h-6.4zM490.4 365.7h6.4v6.4h-6.4zM515.5 360.8h6.4v6.4h-6.4zM465.1 338h6.4v6.4h-6.4zM523.9 377.5h6.4v6.4h-6.4zM492.4 388.8h6.4v6.4h-6.4z"/>
<path d="M482 357.1h6.4v6.4h-6.4zM472.5 337.4h6.4v6.4h-6.4zM514 308.1h6.4v6.4h-6.4zM500.8 358.1h6.4v6.4h-6.4zM477.2 368.4h6.4v6.4h-6.4zM535.6 394h6.4v6.4h-6.4z"/>
<path d="M496.7 358.6h6.4v6.4h-6.4zM502.8 357.7h6.4v6.4h-6.4zM529.5 370.7h6.4v6.4h-6.4zM501.2 353.6h6.4v6.4h-6.4zM465.8 374.5h6.4v6.4h-6.4zM473.8 376.7h6.4v6.4h-6.4z"/>
<path d="M473 335.2h6.4v6.4h-6.4zM529.7 389.2h6.4v6.4h-6.4zM506.8 385.5h6.4v6.4h-6.4zM537.9 336.8h6.4v6.4h-6.4zM478.9 359.6h6.4v6.4h-6.4zM537.2 330h6.4v6.4h-6.4z"/>
<path d="M510.9 384.7h6.4v6.4h-6.4zM504.4 407.1h6.4v6.4h-6.4zM504.2 357h6.4v6.4h-6.4zM488.4 339h6.4v6.4h-6.4zM488.6 392.4h6.4v6.4h-6.4zM494.9 405.6h6.4v6.4h-6.4z"/>
<path d="M534.5 323.2h6.4v6.4h-6.4zM479.1 354.7h6.4v6.4h-6.4zM535.6 394.7h6.4v6.4h-6.4zM542 366.2h6.4v6.4h-6.4zM541.6 382.1h6.4v6.4h-6.4zM502.2 392.8h6.4v6.4h-6.4z"/>
<path d="M539.8 337h6.4v6.4h-6.4zM532.9 374.6h6.4v6.4h-6.4zM530.8 328h6.4v6.4h-6.4zM534 328.1h6.4v6.4h-6.4zM513 370h6.4v6.4h-6.4zM490.5 328.6h6.4v6.4h-6.4z"/>
<path d="M466.8 354h6.4v6.4h-6.4zM465.7 359.6h6.4v6.4h-6.4zM546.2 310h6.4v6.4h-6.4zM502.9 322.7h6.4v6.4h-6.4zM515 395.3h6.4v6.4h-6.4zM488.9 377.3h6.4v6.4h-6.4z"/>
<path d="M529.4 353.5h6.4v6.4h-6.4zM520.2 341.6h6.4v6.4h-6.4zM503.3 314.9h6.4v6.4h-6.4zM479.4 313.2h6.4v6.4h-6.4zM524.8 341.9h6.4v6.4h-6.4zM479.5 359.6h6.4v6.4h-6.4z"/>
<path d="M472.2 361.6h6.4v6.4h-6.4zM511.9 311.5h6.4v6.4h-6.4zM507.9 315.5h6.4v6.4h-6.4zM532.5 314.7h6.4v6.4h-6.4zM463.7 328.1h6.4v6.4h-6.4zM468.8 387.5h6.4v6.4h-6.4z"/>
<path d="M509 347.3h6.4v6.4h-6.4zM487.9 370h6.4v6.4h-6.4zM519.1 326.5h6.4v6.4h-6.4zM468 347.3h6.4v6.4h-6.4zM496.7 329.3h6.4v6.4h-6.4zM506 340.5h6.4v6.4h-6.4z"/>
<path d="M475 323.3h6.4v6.4h-6.4zM481.7 369.1h6.4v6.4h-6.4zM493.2 392.3h6.4v6.4h-6.4zM507.3 388.7h6.4v6.4h-6.4zM468.4 376.5h6.4v6.4h-6.4zM516.3 339.1h6.4v6.4h-6.4z"/>
<path d="M464.4 316.5h6.4v6.4h-6.4zM541 350.6h6.4v6.4h-6.4zM500.7 371.5h6.4v6.4h-6.4zM466.6 334.6h6.4v6.4h-6.4zM485.3 333.3h6.4v6.4h-6.4zM512.6 365.5h6.4v6.4h-6.4z"/>
<path d="M500.7 404.9h6.4v6.4h-6.4zM482.8 360.5h6.4v6.4h-6.4zM504.7 316.8h6.4v6.4h-6.4zM474.6 342.8h6.4v6.4h-6.4zM535.2 358.1h6.4v6.4h-6.4zM517.1 376.1h6.4v6.4h-6.4z"/>
<path d="M505.7 327.1h6.4v6.4h-6.4zM524.4 313.5h6.4v6.4h-6.4zM464.6 342.6h6.4v6.4h-6.4zM542 353.2h6.4v6.4h-6.4zM509.6 317.2h6.4v6.4h-6.4zM468.1 373.3h6.4v6.4h-6.4z"/>
<path d="M482.1 388.5h6.4v6.4h-6.4zM527.8 370h6.4v6.4h-6.4zM516.8 336.2h6.4v6.4h-6.4zM501.9 409.3h6.4v6.4h-6.4zM494.7 314.1h6.4v6.4h-6.4zM501.4 362.6h6.4v6.4h-6.4z"/>
<path d="M487.5 358.4h6.4v6.4h-6.4zM482.2 328.6h6.4v6.4h-6.4zM478.1 383.8h6.4v6.4h-6.4zM464.7 361.9h6.4v6.4h-6.4zM499.1 319.3h6.4v6.4h-6.4zM473.9 388.6h6.4v6.4h-6.4z"/>
<path d="M467.8 368.3h6.4v6.4h-6.4zM493.2 323.5h6.4v6.4h-6.4zM544 354h6.4v6.4h-6.4zM511.9 341.8h6.4v6.4h-6.4zM489.1 346.6h6.4v6.4h-6.4zM477.7 344.3h6.4v6.4h-6.4z"/>
<path d="M463.9 336.3h6.4v6.4h-6.4zM520.4 353.7h6.4v6.4h-6.4zM533.1 351.1h6.4v6.4h-6.4zM502.1 398h6.4v6.4h-6.4zM466 339.9h6.4v6.4h-6.4zM517.2 318.2h6.4v6.4h-6.4z"/>
<path d="M480 353.1h6.4v6.4h-6.4zM515.8 315.8h6.4v6.4h-6.4zM516 336.7h6.4v6.4h-6.4zM517.6 350.9h6.4v6.4h-6.4zM533.6 382.4h6.4v6.4h-6.4zM542.4 319.9h6.4v6.4h-6.4z"/>
<path d="M539.5 323.4h6.4v6.4h-6.4zM466.6 326.6h6.4v6.4h-6.4zM501.5 346.5h6.4v6.4h-6.4zM533.6 330.2h6.4v6.4h-6.4zM529.1 317h6.4v6.4h-6.4zM489.2 398.8h6.4v6.4h-6.4z"/>
<path d="M531.7 343.2h6.4v6.4h-6.4zM542.2 364.2h6.4v6.4h-6.4zM475.1 383.1h6.4v6.4h-6.4zM476.6 363.3h6.4v6.4h-6.4zM491.4 340h6.4v6.4h-6.4zM476.3 318.6h6.4v6.4h-6.4z"/>
<path d="M508.1 363.8h6.4v6.4h-6.4zM527.1 367h6.4v6.4h-6.4zM521.8 384.5h6.4v6.4h-6.4zM489.6 332.7h6.4v6.4h-6.4zM543.7 329.1h6.4v6.4h-6.4zM492.7 337.9h6.4v6.4h-6.4z"/>
<path d="M465 351.1h6.4v6.4h-6.4zM530.2 392.6h6.4v6.4h-6.4zM498.4 339.8h6.4v6.4h-6.4zM518.8 336.6h6.4v6.4h-6.4zM530.9 382h6.4v6.4h-6.4zM496 357.7h6.4v6.4h-6.4z"/>
<path d="M468.9 370.9h6.4v6.4h-6.4zM534.3 336.4h6.4v6.4h-6.4zM483.4 327.1h6.4v6.4h-6.4zM520.2 316.5h6.4v6.4h-6.4zM491 322.7h6.4v6.4h-6.4zM474.1 312.5h6.4v6.4h-6.4z"/>
<path d="M503.2 411.9h6.4v6.4h-6.4zM511.2 318.1h6.4v6.4h-6.4zM538 347.5h6.4v6.4h-6.4zM544.5 364.6h6.4v6.4h-6.4zM476.3 353.3h6.4v6.4h-6.4zM517.2 386.9h6.4v6.4h-6.4z"/>
<path d="M537.9 347.1h6.4v6.4h-6.4zM489.2 366.5h6.4v6.4h-6.4zM467.6 367.7h6.4v6.4h-6.4zM479.3 314.9h6.4v6.4h-6.4zM477.9 359.6h6.4v6.4h-6.4zM497.8 353.9h6.4v6.4h-6.4z"/>
<path d="M542.1 324.6h6.4v6.4h-6.4zM505.6 384.2h6.4v6.4h-6.4zM463.1 373.7h6.4v6.4h-6.4zM533.3 384.4h6.4v6.4h-6.4zM505.6 361.2h6.4v6.4h-6.4zM527 317.6h6.4v6.4h-6.4z"/>
<path d="M530 328.5h6.4v6.4h-6.4zM535.3 366.3h6.4v6.4h-6.4zM485.6 342.7h6.4v6.4h-6.4zM512.7 404.1h6.4v6.4h-6.4zM490.5 364.3h6.4v6.4h-6.4zM481.1 309.1h6.4v6.4h-6.4z"/>
<path d="M496.2 387.5h6.4v6.4h-6.4zM475.1 359.2h6.4v6.4h-6.4zM497.1 345.5h6.4v6.4h-6.4zM464.1 363.5h6.4v6.4h-6.4zM463.4 379.6h6.4v6.4h-6.4zM523.4 359.3h6.4v6.4h-6.4z"/>
<path d="M544 382.8h6.4v6.4h-6.4zM509.2 309.1h6.4v6.4h-6.4zM502.2 336.4h6.4v6.4h-6.4zM507 405.9h6.4v6.4h-6.4zM465.6 366.2h6.4v6.4h-6.4zM475.5 332.1h6.4v6.4h-6.4z"/>
<path d="M512.9 337h6.4v6.4h-6.4zM526.1 349.6h6.4v6.4h-6.4zM473.1 333.4h6.4v6.4h-6.4zM505.9 362.7h6.4v6.4h-6.4zM494.7 318.8h6.4v6.4h-6.4zM529.6 349.6h6.4v6.4h-6.4z"/>
<path d="M490.6 400.2h6.4v6.4h-6.4zM485.6 390.8h6.4v6.4h-6.4zM473.3 341.2h6.4v6.4h-6.4zM525 319.6h6.4v6.4h-6.4zM535.6 396.5h6.4v6.4h-6.4zM492.6 364.7h6.4v6.4h-6.4z"/>
<path d="M491.4 361.1h6.4v6.4h-6.4zM507.9 316.6h6.4v6.4h-6.4zM517.8 368.1h6.4v6.4h-6.4zM534.8 314.9h6.4v6.4h-6.4zM509.9 316.1h6.4v6.4h-6.4zM463.3 343.9h6.4v6.4h-6.4z"/>
<path d="M512.6 367.4h6.4v6.4h-6.4zM517.6 335.8h6.4v6.4h-6.4zM479.4 389.4h6.4v6.4h-6.4zM502.5 349.8h6.4v6.4h-6.4zM503.4 382.8h6.4v6.4h-6.4zM519.4 355.9h6.4v6.4h-6.4z"/>
<path d="M512.8 391.6h6.4v6.4h-6.4zM518 325.2h6.4v6.4h-6.4zM480.7 311.4h6.4v6.4h-6.4zM543.9 373.3h6.4v6.4h-6.4zM544.7 335.3h6.4v6.4h-6.4zM476.7 342.4h6.4v6.4h-6.4z"/>
<path d="M498 312.5h6.4v6.4h-6.4zM484.8 384.5h6.4v6.4h-6.4zM511.9 383.5h6.4v6.4h-6.4zM510.3 393.3h6.4v6.4h-6.4zM528.6 364.4h6.4v6.4h-6.4zM499.5 364h6.4v6.4h-6.4z"/>
<path d="M526.1 360.5h6.4v6.4h-6.4zM504 323.8h6.4v6.4h-6.4zM464.1 325.6h6.4v6.4h-6.4zM530.2 361.1h6.4v6.4h-6.4zM466.2 381.7h6.4v6.4h-6.4zM521.7 401h6.4v6.4h-6.4z"/>
<path d="M509 403.8h6.4v6.4h-6.4zM501.7 323.2h6.4v6.4h-6.4zM520.5 309h6.4v6.4h-6.4zM477.2 378.5h6.4v6.4h-6.4zM483.5 398.6h6.4v6.4h-6.4zM542.6 348.1h6.4v6.4h-6.4z"/>
<path d="M484.8 365h6.4v6.4h-6.4zM475.1 387.2h6.4v6.4h-6.4zM503.3 365.3h6.4v6.4h-6.4zM510.6 388.5h6.4v6.4h-6.4zM542.9 351.6h6.4v6.4h-6.4zM500.8 367h6.4v6.4h-6.4z"/>
<path d="M473.4 336.2h6.4v6.4h-6.4zM485.3 326.3h6.4v6.4h-6.4zM503 371.2h6.4v6.4h-6.4zM538.8 344.5h6.4v6.4h-6.4zM531.2 371.7h6.4v6.4h-6.4zM468.7 389.4h6.4v6.4h-6.4z"/>
<path d="M475.2 310.4h6.4v6.4h-6.4zM515.9 372.7h6.4v6.4h-6.4zM538.1 388.9h6.4v6.4h-6.4zM486.5 345.4h6.4v6.4h-6.4zM499.5 370.2h6.4v6.4h-6.4zM532.2 321.9h6.4v6.4h-6.4z"/>
<path d="M515 350.9h6.4v6.4h-6.4zM543.6 334h6.4v6.4h-6.4zM514.8 365.1h6.4v6.4h-6.4zM522.2 358.3h6.4v6.4h-6.4zM469.3 331.3h6.4v6.4h-6.4zM496.1 392h6.4v6.4h-6.4z"/>
<path d="M538 320.6h6.4v6.4h-6.4zM503.9 402.8h6.4v6.4h-6.4zM463.4 389.1h6.4v6.4h-6.4zM509.4 380.5h6.4v6.4h-6.4zM489.4 358.4h6.4v6.4h-6.4zM479.8 312.4h6.4v6.4h-6.4z"/>
<path d="M469.1 377.3h6.4v6.4h-6.4zM505 396.5h6.4v6.4h-6.4zM475.9 327.9h6.4v6.4h-6.4zM509.3 404.7h6.4v6.4h-6.4zM473.9 340.8h6.4v6.4h-6.4zM492.2 322.9h6.4v6.4h-6.4z"/>
<path d="M542.7 371.5h6.4v6.4h-6.4zM540.4 387.9h6.4v6.4h-6.4zM505.6 325.5h6.4v6.4h-6.4zM474.6 324.2h6.4v6.4h-6.4zM464.7 349.7h6.4v6.4h-6.4zM530.8 364.1h6.4v6.4h-6.4z"/>
<path d="M528.7 325.4h6.4v6.4h-6.4zM466.6 358.6h6.4v6.4h-6.4zM543.8 382.7h6.4v6.4h-6.4zM498.2 368.4h6.4v6.4h-6.4zM493.7 374.9h6.4v6.4h-6.4zM474.9 382.9h6.4v6.4h-6.4z"/>
<path d="M496.4 343.5h6.4v6.4h-6.4zM519.1 364.2h6.4v6.4h-6.4zM473.6 334.9h6.4v6.4h-6.4zM540.4 318.5h6.4v6.4h-6.4zM483.8 387.6h6.4v6.4h-6.4zM525.9 388.4h6.4v6.4h-6.4z"/>
<path d="M488 385.2h6.4v6.4h-6.4zM503.8 401.3h6.4v6.4h-6.4zM507.2 394.1h6.4v6.4h-6.4zM492.2 377h6.4v6.4h-6.4zM498.9 333.2h6.4v6.4h-6.4zM505.6 324.7h6.4v6.4h-6.4z"/>
<path d="M469.7 356.2h6.4v6.4h-6.4zM533.2 336.4h6.4v6.4h-6.4zM530.9 348h6.4v6.4h-6.4zM472.8 377.6h6.4v6.4h-6.4zM523.9 334.6h6.4v6.4h-6.4zM501.3 400.5h6.4v6.4h-6.4z"/>
<path d="M522.8 322.4h6.4v6.4h-6.4zM497.6 326.8h6.4v6.4h-6.4zM535.6 355.3h6.4v6.4h-6.4zM484.4 346.8h6.4v6.4h-6.4zM521.2 317.1h6.4v6.4h-6.4zM531.9 343.4h6.4v6.4h-6.4z"/>
<path d="M469.6 339.5h6.4v6.4h-6.4zM518 343.4h6.4v6.4h-6.4zM501.1 322.5h6.4v6.4h-6.4zM485 344.6h6.4v6.4h-6.4zM485.7 341.6h6.4v6.4h-6.4zM464.3 328.4h6.4v6.4h-6.4z"/>
<path d="M535.6 369.3h6.4v6.4h-6.4zM494.3 378.7h6.4v6.4h-6.4zM486.4 379.1h6.4v6.4h-6.4zM531.6 349.2h6.4v6.4h-6.4zM510 357.6h6.4v6.4h-6.4zM541 329.9h6.4v6.4h-6.4z"/>
<path d="M502 357.9h6.4v6.4h-6.4zM510.5 372.3h6.4v6.4h-6.4zM537.5 371.7h6.4v6.4h-6.4zM495.4 311.5h6.4v6.4h-6.4zM504 314.5h6.4v6.4h-6.4zM478.8 355.5h6.4v6.4h-6.4z"/>
<path d="M539.3 368.8h6.4v6.4h-6.4zM509.4 353.6h6.4v6.4h-6.4zM526.9 358.1h6.4v6.4h-6.4zM493 380.9h6.4v6.4h-6.4zM472 327h6.4v6.4h-6.4zM518.9 375h6.4v6.4h-6.4z"/>
<path d="M519.6 332.7h6.4v6.4h-6.4zM469.7 343.2h6.4v6.4h-6.4zM466.2 373.1h6.4v6.4h-6.4zM509.9 340.9h6.4v6.4h-6.4zM478.7 370.9h6.4v6.4h-6.4zM500.4 400.2h6.4v6.4h-6.4z"/>
<path d="M492.7 379.8h6.4v6.4h-6.4zM502 327.5h6.4v6.4h-6.4zM462.6 382.3h6.4v6.4h-6.4zM509.3 312.7h6.4v6.4h-6.4zM516.1 324.1h6.4v6.4h-6.4zM543.4 378.1h6.4v6.4h-6.4z"/>
<path d="M515.6 348.5h6.4v6.4h-6.4zM505.2 327.6h6.4v6.4h-6.4zM514.7 340.7h6.4v6.4h-6.4zM543.5 388h6.4v6.4h-6.4zM478.5 311.6h6.4v6.4h-6.4zM501.7 386.1h6.4v6.4h-6.4z"/>
<path d="M469.9 343.3h6.4v6.4h-6.4zM535.6 360.1h6.4v6.4h-6.4zM503.9 399.1h6.4v6.4h-6.4zM500.5 344h6.4v6.4h-6.4zM479.5 388.5h6.4v6.4h-6.4zM523.1 337.4h6.4v6.4h-6.4z"/>
<path d="M542.3 363.4h6.4v6.4h-6.4zM471 317.6h6.4v6.4h-6.4zM468.5 324.7h6.4v6.4h-6.4zM531 319.8h6.4v6.4h-6.4zM534.6 382.3h6.4v6.4h-6.4zM544 358h6.4v6.4h-6.4z"/>
<path d="M509.1 347.8h6.4v6.4h-6.4zM494.7 374.4h6.4v6.4h-6.4zM465.7 375.8h6.4v6.4h-6.4zM507.3 380.5h6.4v6.4h-6.4zM463.8 396.8h6.4v6.4h-6.4zM489.4 372.3h6.4v6.4h-6.4z"/>
<path d="M482.6 351.3h6.4v6.4h-6.4zM543.2 342.9h6.4v6.4h-6.4zM525.3 372.9h6.4v6.4h-6.4zM533.4 375.6h6.4v6.4h-6.4zM487.1 324.4h6.4v6.4h-6.4zM499.5 396h6.4v6.4h-6.4z"/>
<path d="M504 371.9h6.4v6.4h-6.4zM511.8 329.9h6.4v6.4h-6.4zM510.3 380h6.4v6.4h-6.4zM515.6 316.2h6.4v6.4h-6.4zM480.9 394.3h6.4v6.4h-6.4zM490.3 338.5h6.4v6.4h-6.4z"/>
<path d="M472.5 327.2h6.4v6.4h-6.4zM519.3 390.6h6.4v6.4h-6.4zM510.4 356.8h6.4v6.4h-6.4zM471.2 345h6.4v6.4h-6.4zM483.5 362.6h6.4v6.4h-6.4zM524.4 337.5h6.4v6.4h-6.4z"/>
<path d="M496.6 312.9h6.4v6.4h-6.4zM478.6 346.9h6.4v6.4h-6.4zM495.1 334.3h6.4v6.4h-6.4zM500.1 335.8h6.4v6.4h-6.4zM478.1 374h6.4v6.4h-6.4zM472.1 350.7h6.4v6.4h-6.4z"/>
<path d="M498.7 379.5h6.4v6.4h-6.4zM505.5 352.8h6.4v6.4h-6.4zM508.9 405.7h6.4v6.4h-6.4zM468.3 373.4h6.4v6.4h-6.4zM479.9 333.7h6.4v6.4h-6.4zM493.3 376.6h6.4v6.4h-6.4z"/>
<path d="M495.5 385.9h6.4v6.4h-6.4zM468.3 390h6.4v6.4h-6.4zM526 327.3h6.4v6.4h-6.4zM502.7 411.7h6.4v6.4h-6.4zM511.8 330.5h6.4v6.4h-6.4zM506.9 355.4h6.4v6.4h-6.4z"/>
<path d="M487 382.5h6.4v6.4h-6.4zM490.5 390.6h6.4v6.4h-6.4zM516 371.7h6.4v6.4h-6.4zM501.2 336.9h6.4v6.4h-6.4zM525.2 345.6h6.4v6.4h-6.4zM514.2 358.1h6.4v6.4h-6.4z"/>
<path d="M512 399.6h6.4v6.4h-6.4zM491.1 329.7h6.4v6.4h-6.4zM467.7 356.9h6.4v6.4h-6.4zM520.5 388.2h6.4v6.4h-6.4zM529 321.2h6.4v6.4h-6.4zM500.4 351.4h6.4v6.4h-6.4z"/>
<path d="M499.9 404.3h6.4v6.4h-6.4zM471.8 358.6h6.4v6.4h-6.4zM466.9 332h6.4v6.4h-6.4zM493.9 386h6.4v6.4h-6.4zM526.6 309.3h6.4v6.4h-6.4zM499.8 362.8h6.4v6.4h-6.4z"/>
<path d="M485.1 347.6h6.4v6.4h-6.4zM494.8 335.6h6.4v6.4h-6.4zM472.8 372.1h6.4v6.4h-6.4zM465.7 332.4h6.4v6.4h-6.4zM524.8 332.6h6.4v6.4h-6.4zM531.5 326.9h6.4v6.4h-6.4z"/>
<path d="M512.1 347.6h6.4v6.4h-6.4zM543.5 357.5h6.4v6.4h-6.4zM479.4 335.3h6.4v6.4h-6.4zM465.4 320.8h6.4v6.4h-6.4zM510 399h6.4v6.4h-6.4zM528.9 361.4h6.4v6.4h-6.4z"/>
<path d="M467.2 362.4h6.4v6.4h-6.4zM471.7 354.8h6.4v6.4h-6.4zM543 356.4h6.4v6.4h-6.4zM499.1 325.5h6.4v6.4h-6.4zM495.5 330.6h6.4v6.4h-6.4zM516.5 379.4h6.4v6.4h-6.4z"/>
<path d="M484 329.3h6.4v6.4h-6.4zM493.5 400.4h6.4v6.4h-6.4zM469.4 334.4h6.4v6.4h-6.4zM473 334.5h6.4v6.4h-6.4zM541.8 385.9h6.4v6.4h-6.4zM524.6 382.3h6.4v6.4h-6.4z"/>
<path d="M527.2 369.3h6.4v6.4h-6.4zM498.6 332.9h6.4v6.4h-6.4zM470.8 373h6.4v6.4h-6.4zM465.6 357.6h6.4v6.4h-6.4zM467.8 389.7h6.4v6.4h-6.4zM539.3 353.2h6.4v6.4h-6.4z"/>
<path d="M525.1 312.9h6.4v6.4h-6.4zM485.9 376.7h6.4v6.4h-6.4zM544.4 375.4h6.4v6.4h-6.4zM503.5 314.8h6.4v6.4h-6.4zM504.2 409.4h6.4v6.4h-6.4zM513.2 322.5h6.4v6.4h-6.4z"/>
<path d="M534.3 382h6.4v6.4h-6.4zM537.7 352.8h6.4v6.4h-6.4zM499 379.1h6.4v6.4h-6.4zM532 327.1h6.4v6.4h-6.4zM537.2 330.4h6.4v6.4h-6.4zM483.5 352.3h6.4v6.4h-6.4z"/>
<path d="M465.3 325.5h6.4v6.4h-6.4zM511.8 333.9h6.4v6.4h-6.4zM516.8 321.1h6.4v6.4h-6.4zM482.8 395.6h6.4v6.4h-6.4zM481.4 316.1h6.4v6.4h-6.4zM489.5 331.4h6.4v6.4h-6.4z"/>
<path d="M512.4 378.7h6.4v6.4h-6.4zM466.3 355.7h6.4v6.4h-6.4zM530.5 323.6h6.4v6.4h-6.4zM477 296.1h6.4v6.4h-6.4zM500.6 317.6h6.4v6.4h-6.4zM484.2 346.4h6.4v6.4h-6.4z"/>
<path d="M492.5 342.4h6.4v6.4h-6.4zM502.3 365.5h6.4v6.4h-6.4zM466.3 328.4h6.4v6.4h-6.4zM504.4 387h6.4v6.4h-6.4zM502.7 345.8h6.4v6.4h-6.4zM483.2 336.1h6.4v6.4h-6.4z"/>
<path d="M496.6 312.3h6.4v6.4h-6.4zM533.6 372.4h6.4v6.4h-6.4zM510.1 388.2h6.4v6.4h-6.4zM511.3 367.6h6.4v6.4h-6.4zM511 391.6h6.4v6.4h-6.4zM498.1 371.5h6.4v6.4h-6.4z"/>
<path d="M542 331h6.4v6.4h-6.4zM509.3 402.4h6.4v6.4h-6.4zM480.3 369.1h6.4v6.4h-6.4zM538.7 354.9h6.4v6.4h-6.4zM480 309h6.4v6.4h-6.4zM509 396.8h6.4v6.4h-6.4z"/>
<path d="M528.7 362.2h6.4v6.4h-6.4zM471 386.9h6.4v6.4h-6.4zM466 345.2h6.4v6.4h-6.4zM492.5 392.2h6.4v6.4h-6.4zM532 328.9h6.4v6.4h-6.4zM487.7 358.3h6.4v6.4h-6.4z"/>
<path d="M517.1 379h6.4v6.4h-6.4zM474.3 362.5h6.4v6.4h-6.4zM524.2 313.3h6.4v6.4h-6.4zM499.6 380.9h6.4v6.4h-6.4zM512.9 316.1h6.4v6.4h-6.4zM503.5 413.4h6.4v6.4h-6.4z"/>
<path d="M514.2 333.5h6.4v6.4h-6.4zM501.3 397.7h6.4v6.4h-6.4zM497.5 344.9h6.4v6.4h-6.4zM478.6 334.2h6.4v6.4h-6.4zM512.1 364.3h6.4v6.4h-6.4zM507.3 345.8h6.4v6.4h-6.4z"/>
<path d="M536.7 338.8h6.4v6.4h-6.4zM514.9 374.1h6.4v6.4h-6.4zM494.7 404.2h6.4v6.4h-6.4zM504.9 394.9h6.4v6.4h-6.4zM530.8 354.3h6.4v6.4h-6.4zM540.2 353.8h6.4v6.4h-6.4z"/>
<path d="M478.8 391.5h6.4v6.4h-6.4zM473 319.1h6.4v6.4h-6.4zM504.2 369h6.4v6.4h-6.4zM484.3 393.3h6.4v6.4h-6.4zM483.1 356.8h6.4v6.4h-6.4zM485.6 341.5h6.4v6.4h-6.4z"/>
<path d="M477.2 364.2h6.4v6.4h-6.4zM529.9 343.3h6.4v6.4h-6.4zM517.2 360.7h6.4v6.4h-6.4zM476.6 334.2h6.4v6.4h-6.4zM474.2 361.9h6.4v6.4h-6.4zM543.4 341.6h6.4v6.4h-6.4z"/>
<path d="M513.4 377.6h6.4v6.4h-6.4zM465.4 322.2h6.4v6.4h-6.4zM468 326.2h6.4v6.4h-6.4zM519 404.1h6.4v6.4h-6.4zM521.4 327.4h6.4v6.4h-6.4zM507.3 405.3h6.4v6.4h-6.4z"/>
<path d="M518.4 388.4h6.4v6.4h-6.4zM489.2 339.5h6.4v6.4h-6.4zM508.5 380.1h6.4v6.4h-6.4zM501.6 387.9h6.4v6.4h-6.4zM543.8 356.3h6.4v6.4h-6.4zM483 392.3h6.4v6.4h-6.4z"/>
<path d="M502.2 354.3h6.4v6.4h-6.4zM503.3 327.2h6.4v6.4h-6.4zM502.2 392.7h6.4v6.4h-6.4zM469.9 366.2h6.4v6.4h-6.4zM530.8 327.5h6.4v6.4h-6.4zM524.6 327h6.4v6.4h-6.4z"/>
<path d="M488.7 355.1h6.4v6.4h-6.4zM498.8 326.6h6.4v6.4h-6.4zM480.4 364.7h6.4v6.4h-6.4zM483.1 325.9h6.4v6.4h-6.4zM484.9 392.1h6.4v6.4h-6.4zM523 322.3h6.4v6.4h-6.4z"/>
<path d="M494 387.2h6.4v6.4h-6.4zM477 305.3h6.4v6.4h-6.4zM540.4 367.4h6.4v6.4h-6.4zM472.8 329.5h6.4v6.4h-6.4zM525.8 391.5h6.4v6.4h-6.4zM517.1 351.8h6.4v6.4h-6.4z"/>
<path d="M506.8 373.9h6.4v6.4h-6.4zM531.7 341.3h6.4v6.4h-6.4zM464.3 353.4h6.4v6.4h-6.4zM465.2 347.5h6.4v6.4h-6.4zM487.7 343.6h6.4v6.4h-6.4zM476 325.8h6.4v6.4h-6.4z"/>
<path d="M517.6 312.2h6.4v6.4h-6.4zM479 312.1h6.4v6.4h-6.4zM489.6 367.8h6.4v6.4h-6.4zM534 322.1h6.4v6.4h-6.4zM470.6 370.6h6.4v6.4h-6.4zM501.9 316h6.4v6.4h-6.4z"/>
<path d="M486.4 355.8h6.4v6.4h-6.4zM525.8 393.8h6.4v6.4h-6.4zM511.3 351.5h6.4v6.4h-6.4zM497.4 321.3h6.4v6.4h-6.4zM501.7 348.8h6.4v6.4h-6.4zM506.8 346.8h6.4v6.4h-6.4z"/>
<path d="M500.6 378.9h6.4v6.4h-6.4zM473.8 341h6.4v6.4h-6.4zM471.5 353.3h6.4v6.4h-6.4zM502.3 372.7h6.4v6.4h-6.4zM485 337h6.4v6.4h-6.4zM472 380.8h6.4v6.4h-6.4z"/>
<path d="M483.7 332.2h6.4v6.4h-6.4zM530.6 339.1h6.4v6.4h-6.4zM464.5 339.4h6.4v6.4h-6.4zM531.2 345.1h6.4v6.4h-6.4zM492 353h6.4v6.4h-6.4zM503 313.6h6.4v6.4h-6.4z"/>
<path d="M532.2 335.2h6.4v6.4h-6.4zM483.9 316.6h6.4v6.4h-6.4zM500.9 346.5h6.4v6.4h-6.4zM519.2 328.6h6.4v6.4h-6.4zM468 326.8h6.4v6.4h-6.4zM514.2 405h6.4v6.4h-6.4z"/>
<path d="M507.6 318h6.4v6.4h-6.4zM515.7 363.8h6.4v6.4h-6.4zM533.1 369.6h6.4v6.4h-6.4zM494.5 316.2h6.4v6.4h-6.4zM498.5 324.1h6.4v6.4h-6.4zM526.3 309.4h6.4v6.4h-6.4z"/>
<path d="M486 335.1h6.4v6.4h-6.4zM490.2 320.7h6.4v6.4h-6.4zM531.9 343.6h6.4v6.4h-6.4zM530.9 363.9h6.4v6.4h-6.4zM534.9 393.8h6.4v6.4h-6.4zM466.4 335.5h6.4v6.4h-6.4z"/>
<path d="M524.8 311.5h6.4v6.4h-6.4zM532.5 392.9h6.4v6.4h-6.4zM472.3 391h6.4v6.4h-6.4zM474.7 322.8h6.4v6.4h-6.4zM521.4 375.9h6.4v6.4h-6.4zM523.1 396.3h6.4v6.4h-6.4z"/>
<path d="M538.6 370.4h6.4v6.4h-6.4zM542.5 370.8h6.4v6.4h-6.4zM486 375.4h6.4v6.4h-6.4zM494.6 405.5h6.4v6.4h-6.4zM513.1 408h6.4v6.4h-6.4zM497.5 381.9h6.4v6.4h-6.4z"/>
<path d="M483.1 352.7h6.4v6.4h-6.4zM536.3 360.1h6.4v6.4h-6.4zM530 347.7h6.4v6.4h-6.4zM508.8 372.7h6.4v6.4h-6.4zM512.4 376.9h6.4v6.4h-6.4zM485.3 309.1h6.4v6.4h-6.4z"/>
<path d="M524.2 372.4h6.4v6.4h-6.4zM488.4 330h6.4v6.4h-6.4zM478.3 356.2h6.4v6.4h-6.4zM495.7 396.2h6.4v6.4h-6.4zM480 317.8h6.4v6.4h-6.4zM541.3 367.8h6.4v6.4h-6.4z"/>
<path d="M474.5 359.1h6.4v6.4h-6.4zM536.9 321.4h6.4v6.4h-6.4zM483.7 313.1h6.4v6.4h-6.4zM516.9 319.6h6.4v6.4h-6.4zM497.3 341.2h6.4v6.4h-6.4zM527.6 358.1h6.4v6.4h-6.4z"/>
<path d="M485.5 351.2h6.4v6.4h-6.4zM485.3 324.1h6.4v6.4h-6.4zM530.6 364.3h6.4v6.4h-6.4zM495.3 351.8h6.4v6.4h-6.4zM463.7 339.8h6.4v6.4h-6.4zM513.6 310.9h6.4v6.4h-6.4z"/>
<path d="M488 398.4h6.4v6.4h-6.4zM496.5 357.9h6.4v6.4h-6.4zM477.9 357.2h6.4v6.4h-6.4zM493.9 386.8h6.4v6.4h-6.4zM511.5 369.7h6.4v6.4h-6.4zM540.3 363.4h6.4v6.4h-6.4z"/>
<path d="M514.7 340.7h6.4v6.4h-6.4zM489.2 369h6.4v6.4h-6.4zM494.4 406.5h6.4v6.4h-6.4zM544.1 340h6.4v6.4h-6.4zM483.6 332.4h6.4v6.4h-6.4zM463.4 370.4h6.4v6.4h-6.4z"/>
<path d="M508.9 392.4h6.4v6.4h-6.4zM480.4 357.5h6.4v6.4h-6.4zM496.3 325.8h6.4v6.4h-6.4zM508.7 400.3h6.4v6.4h-6.4zM510.8 399.6h6.4v6.4h-6.4zM517.1 355.7h6.4v6.4h-6.4z"/>
<path d="M504.5 401.6h6.4v6.4h-6.4zM529.5 376.5h6.4v6.4h-6.4zM473.7 314.9h6.4v6.4h-6.4zM470.2 364.7h6.4v6.4h-6.4zM508.6 399h6.4v6.4h-6.4zM479.1 351.9h6.4v6.4h-6.4z"/>
<path d="M486.2 363.9h6.4v6.4h-6.4zM497.4 339.5h6.4v6.4h-6.4zM466.5 382.9h6.4v6.4h-6.4zM516.9 331.2h6.4v6.4h-6.4zM500.6 389.5h6.4v6.4h-6.4zM516 395.2h6.4v6.4h-6.4z"/>
<path d="M526.9 332.1h6.4v6.4h-6.4zM520.4 337.3h6.4v6.4h-6.4zM538.7 386.9h6.4v6.4h-6.4zM486.7 326.6h6.4v6.4h-6.4zM495.7 405.7h6.4v6.4h-6.4zM497.8 377.7h6.4v6.4h-6.4z"/>
<path d="M498.9 382h6.4v6.4h-6.4zM505.5 313h6.4v6.4h-6.4zM482 364.9h6.4v6.4h-6.4zM530.1 366.1h6.4v6.4h-6.4zM495.2 373.8h6.4v6.4h-6.4zM476.6 316.1h6.4v6.4h-6.4z"/>
<path d="M484 337.2h6.4v6.4h-6.4zM463.3 388.5h6.4v6.4h-6.4zM535.1 326.3h6.4v6.4h-6.4zM491.7 383.3h6.4v6.4h-6.4zM472.6 327.6h6.4v6.4h-6.4zM509.8 311.2h6.4v6.4h-6.4z"/>
<path d="M474.4 333.8h6.4v6.4h-6.4zM527.2 383.3h6.4v6.4h-6.4zM482.4 352.6h6.4v6.4h-6.4zM476.7 310.9h6.4v6.4h-6.4zM525.6 336.3h6.4v6.4h-6.4zM485.9 394.3h6.4v6.4h-6.4z"/>
<path d="M521.6 361.7h6.4v6.4h-6.4zM484.7 358.6h6.4v6.4h-6.4zM468.8 373h6.4v6.4h-6.4zM485 344.4h6.4v6.4h-6.4zM493.6 391.5h6.4v6.4h-6.4zM482.7 357.5h6.4v6.4h-6.4z"/>
<path d="M503.1 371.8h6.4v6.4h-6.4zM520.8 377.2h6.4v6.4h-6.4zM485.5 348.3h6.4v6.4h-6.4zM527.5 354h6.4v6.4h-6.4zM475 386.7h6.4v6.4h-6.4zM474.2 355.9h6.4v6.4h-6.4z"/>
<path d="M512.2 316.5h6.4v6.4h-6.4zM499 318.1h6.4v6.4h-6.4zM525.9 316.5h6.4v6.4h-6.4zM517.6 380.6h6.4v6.4h-6.4zM502.2 322.7h6.4v6.4h-6.4zM490.8 326.5h6.4v6.4h-6.4z"/>
<path d="M488.2 368h6.4v6.4h-6.4zM497.8 354.6h6.4v6.4h-6.4zM510.8 326.1h6.4v6.4h-6.4zM508.4 334.1h6.4v6.4h-6.4zM521.3 314.8h6.4v6.4h-6.4zM477.4 361h6.4v6.4h-6.4z"/>
<path d="M516.1 396.5h6.4v6.4h-6.4zM502.8 323.8h6.4v6.4h-6.4zM482.9 340.9h6.4v6.4h-6.4zM475.6 328.3h6.4v6.4h-6.4zM465 369.2h6.4v6.4h-6.4zM482.3 396.2h6.4v6.4h-6.4z"/>
<path d="M514.8 394.6h6.4v6.4h-6.4zM529.1 313.9h6.4v6.4h-6.4zM510 309.4h6.4v6.4h-6.4zM491.2 357h6.4v6.4h-6.4zM494.4 389.2h6.4v6.4h-6.4zM476.8 377.6h6.4v6.4h-6.4z"/>
<path d="M478.3 320.1h6.4v6.4h-6.4zM531.9 344.6h6.4v6.4h-6.4zM523.5 333.7h6.4v6.4h-6.4zM530.1 367.9h6.4v6.4h-6.4zM496.7 342.2h6.4v6.4h-6.4zM494.3 403.3h6.4v6.4h-6.4z"/>
<path d="M519.8 346.8h6.4v6.4h-6.4zM508.6 364.6h6.4v6.4h-6.4zM472.5 380.7h6.4v6.4h-6.4zM499.1 328.3h6.4v6.4h-6.4zM463.1 326.5h6.4v6.4h-6.4zM522.2 309.8h6.4v6.4h-6.4z"/>
<path d="M489.5 349.1h6.4v6.4h-6.4zM480.6 367.8h6.4v6.4h-6.4zM468.4 366.5h6.4v6.4h-6.4zM511.6 400.9h6.4v6.4h-6.4zM498.2 356.7h6.4v6.4h-6.4zM520.7 350.5h6.4v6.4h-6.4z"/>
<path d="M509.3 360.4h6.4v6.4h-6.4zM466.9 351.8h6.4v6.4h-6.4zM496.1 393.2h6.4v6.4h-6.4zM467.5 356.2h6.4v6.4h-6.4zM519.4 373.4h6.4v6.4h-6.4zM489.5 388.9h6.4v6.4h-6.4z"/>
<path d="M505.5 397.2h6.4v6.4h-6.4zM525 380.9h6.4v6.4h-6.4zM486.6 322.3h6.4v6.4h-6.4zM520.6 384.3h6.4v6.4h-6.4zM530 364h6.4v6.4h-6.4zM525.4 308.3h6.4v6.4h-6.4z"/>
<path d="M511 376.8h6.4v6.4h-6.4zM480.4 398.1h6.4v6.4h-6.4zM481.8 401.5h6.4v6.4h-6.4zM482.4 399h6.4v6.4h-6.4zM519.4 318.9h6.4v6.4h-6.4zM486.3 361.3h6.4v6.4h-6.4z"/>
<path d="M519.5 339.9h6.4v6.4h-6.4zM538.4 334.1h6.4v6.4h-6.4zM473.6 369.3h6.4v6.4h-6.4zM471.8 368.4h6.4v6.4h-6.4zM478.3 392.8h6.4v6.4h-6.4zM500.9 389.2h6.4v6.4h-6.4z"/>
<path d="M539.3 363.5h6.4v6.4h-6.4zM541.8 375h6.4v6.4h-6.4zM521.7 355.9h6.4v6.4h-6.4zM534.8 317.2h6.4v6.4h-6.4zM524.8 355.5h6.4v6.4h-6.4zM540.6 343.6h6.4v6.4h-6.4z"/>
<path d="M523 325.9h6.4v6.4h-6.4zM481.7 373.3h6.4v6.4h-6.4zM508.9 336.8h6.4v6.4h-6.4zM540.8 315.1h6.4v6.4h-6.4zM520.7 315.3h6.4v6.4h-6.4zM497.7 317.3h6.4v6.4h-6.4z"/>
<path d="M477 311h6.4v6.4h-6.4zM532.7 357.3h6.4v6.4h-6.4zM511.2 368.3h6.4v6.4h-6.4zM489.5 382.6h6.4v6.4h-6.4zM522.8 312h6.4v6.4h-6.4zM499.7 376.7h6.4v6.4h-6.4z"/>
<path d="M507.5 383.8h6.4v6.4h-6.4zM511.5 403.5h6.4v6.4h-6.4zM489.3 379.5h6.4v6.4h-6.4zM493.1 354.5h6.4v6.4h-6.4zM541.6 322.7h6.4v6.4h-6.4zM492.7 348.4h6.4v6.4h-6.4z"/>
<path d="M499.8 368.3h6.4v6.4h-6.4zM463.1 368.2h6.4v6.4h-6.4zM523.1 313.2h6.4v6.4h-6.4zM465.4 348.7h6.4v6.4h-6.4zM506.6 398.7h6.4v6.4h-6.4zM478.5 316.5h6.4v6.4h-6.4z"/>
<path d="M526.8 344.4h6.4v6.4h-6.4zM542.6 324.3h6.4v6.4h-6.4zM482.8 312.7h6.4v6.4h-6.4zM496.8 403.7h6.4v6.4h-6.4zM519.7 309.3h6.4v6.4h-6.4zM476.4 328.8h6.4v6.4h-6.4z"/>
<path d="M508.6 338.9h6.4v6.4h-6.4zM523.9 361.5h6.4v6.4h-6.4zM542.3 318.2h6.4v6.4h-6.4zM493.9 331h6.4v6.4h-6.4zM533.5 334.6h6.4v6.4h-6.4zM498 340.7h6.4v6.4h-6.4z"/>
<path d="M497.9 382.1h6.4v6.4h-6.4zM541.6 375.8h6.4v6.4h-6.4zM486.2 375.3h6.4v6.4h-6.4zM539.2 347.4h6.4v6.4h-6.4zM517.7 317.9h6.4v6.4h-6.4zM470 338.5h6.4v6.4h-6.4z"/>
<path d="M519.1 316.6h6.4v6.4h-6.4zM536.8 318.1h6.4v6.4h-6.4zM503.5 312.4h6.4v6.4h-6.4zM539.8 361.5h6.4v6.4h-6.4zM497.6 385.6h6.4v6.4h-6.4zM487.3 342.8h6.4v6.4h-6.4z"/>
<path d="M466.4 330.5h6.4v6.4h-6.4zM478.6 392.3h6.4v6.4h-6.4zM485 376.3h6.4v6.4h-6.4zM473.9 387.8h6.4v6.4h-6.4zM482.8 352.3h6.4v6.4h-6.4zM485 371.7h6.4v6.4h-6.4z"/>
<path d="M489 359.6h6.4v6.4h-6.4zM493.2 392.2h6.4v6.4h-6.4zM501.4 341h6.4v6.4h-6.4zM527.4 376.9h6.4v6.4h-6.4zM484.1 384.9h6.4v6.4h-6.4zM507.2 361.7h6.4v6.4h-6.4z"/>
<path d="M505.4 331.9h6.4v6.4h-6.4zM492.1 400.9h6.4v6.4h-6.4zM489.8 401h6.4v6.4h-6.4zM497.8 359.7h6.4v6.4h-6.4zM496.6 355.9h6.4v6.4h-6.4zM507.7 350.4h6.4v6.4h-6.4z"/>
<path d="M535.2 378.9h6.4v6.4h-6.4zM509.4 355h6.4v6.4h-6.4zM514.7 362h6.4v6.4h-6.4zM511.8 363.2h6.4v6.4h-6.4zM522 395.7h6.4v6.4h-6.4zM498.9 362.3h6.4v6.4h-6.4z"/>
<path d="M525.6 386.8h6.4v6.4h-6.4zM536.7 331.4h6.4v6.4h-6.4zM494 328.2h6.4v6.4h-6.4zM515.3 348h6.4v6.4h-6.4zM477.7 369.4h6.4v6.4h-6.4zM498 393.4h6.4v6.4h-6.4z"/>
<path d="M518.2 369.5h6.4v6.4h-6.4zM509.7 376.5h6.4v6.4h-6.4zM503.5 411.8h6.4v6.4h-6.4zM488.4 315.1h6.4v6.4h-6.4zM470.2 365.5h6.4v6.4h-6.4zM525.8 385.1h6.4v6.4h-6.4z"/>
<path d="M474.7 345.4h6.4v6.4h-6.4zM540.9 322h6.4v6.4h-6.4zM467.6 327.3h6.4v6.4h-6.4zM522.1 392h6.4v6.4h-6.4zM527 365.6h6.4v6.4h-6.4zM496 330.7h6.4v6.4h-6.4z"/>
<path d="M505.4 358.2h6.4v6.4h-6.4zM473.1 340.1h6.4v6.4h-6.4zM478.6 357.2h6.4v6.4h-6.4zM528.2 396.8h6.4v6.4h-6.4zM517.8 310.4h6.4v6.4h-6.4zM541.6 371.2h6.4v6.4h-6.4z"/>
<path d="M538.1 352.8h6.4v6.4h-6.4zM536.7 341.6h6.4v6.4h-6.4zM490.3 358h6.4v6.4h-6.4zM526.8 345.9h6.4v6.4h-6.4z"/>
</g>
<path d="M427.4 363.3l3.7 6.6h-7.4z" fill="#3949ab" stroke="#283593" stroke-width=".5"/>
<path d="M585.6 345.7l3.7 6.6h-7.4z" fill="#3949ab" stroke="#283593" stroke-width=".5"/>
<rect x="646.4" y="284.8" width="6.4" height="6.2" fill="#4caf50" stroke="#3a9a45" stroke-width=".7"/>
<path d="M650 294.8l3.7 6.6h-7.4z" fill="#3949ab"/>
<text x="656.3" y="291.3" font-size="8.2" text-anchor="start" fill="#444">X</text>
<text x="656.3" y="301.7" font-size="8.2" text-anchor="start" fill="#444">Y</text>
<text x="100.9" y="237.8" font-size="15" text-anchor="middle" fill="#000" font-weight="bold">a</text>
<text x="448.4" y="244" font-size="16" text-anchor="middle" fill="#000" font-weight="bold">b</text>
<text x="111.9" y="480" font-size="16" text-anchor="middle" fill="#000" font-weight="bold">c</text>
<text x="454.1" y="472.8" font-size="16" text-anchor="middle" fill="#000" font-weight="bold">d</text>
</svg></body></html>
